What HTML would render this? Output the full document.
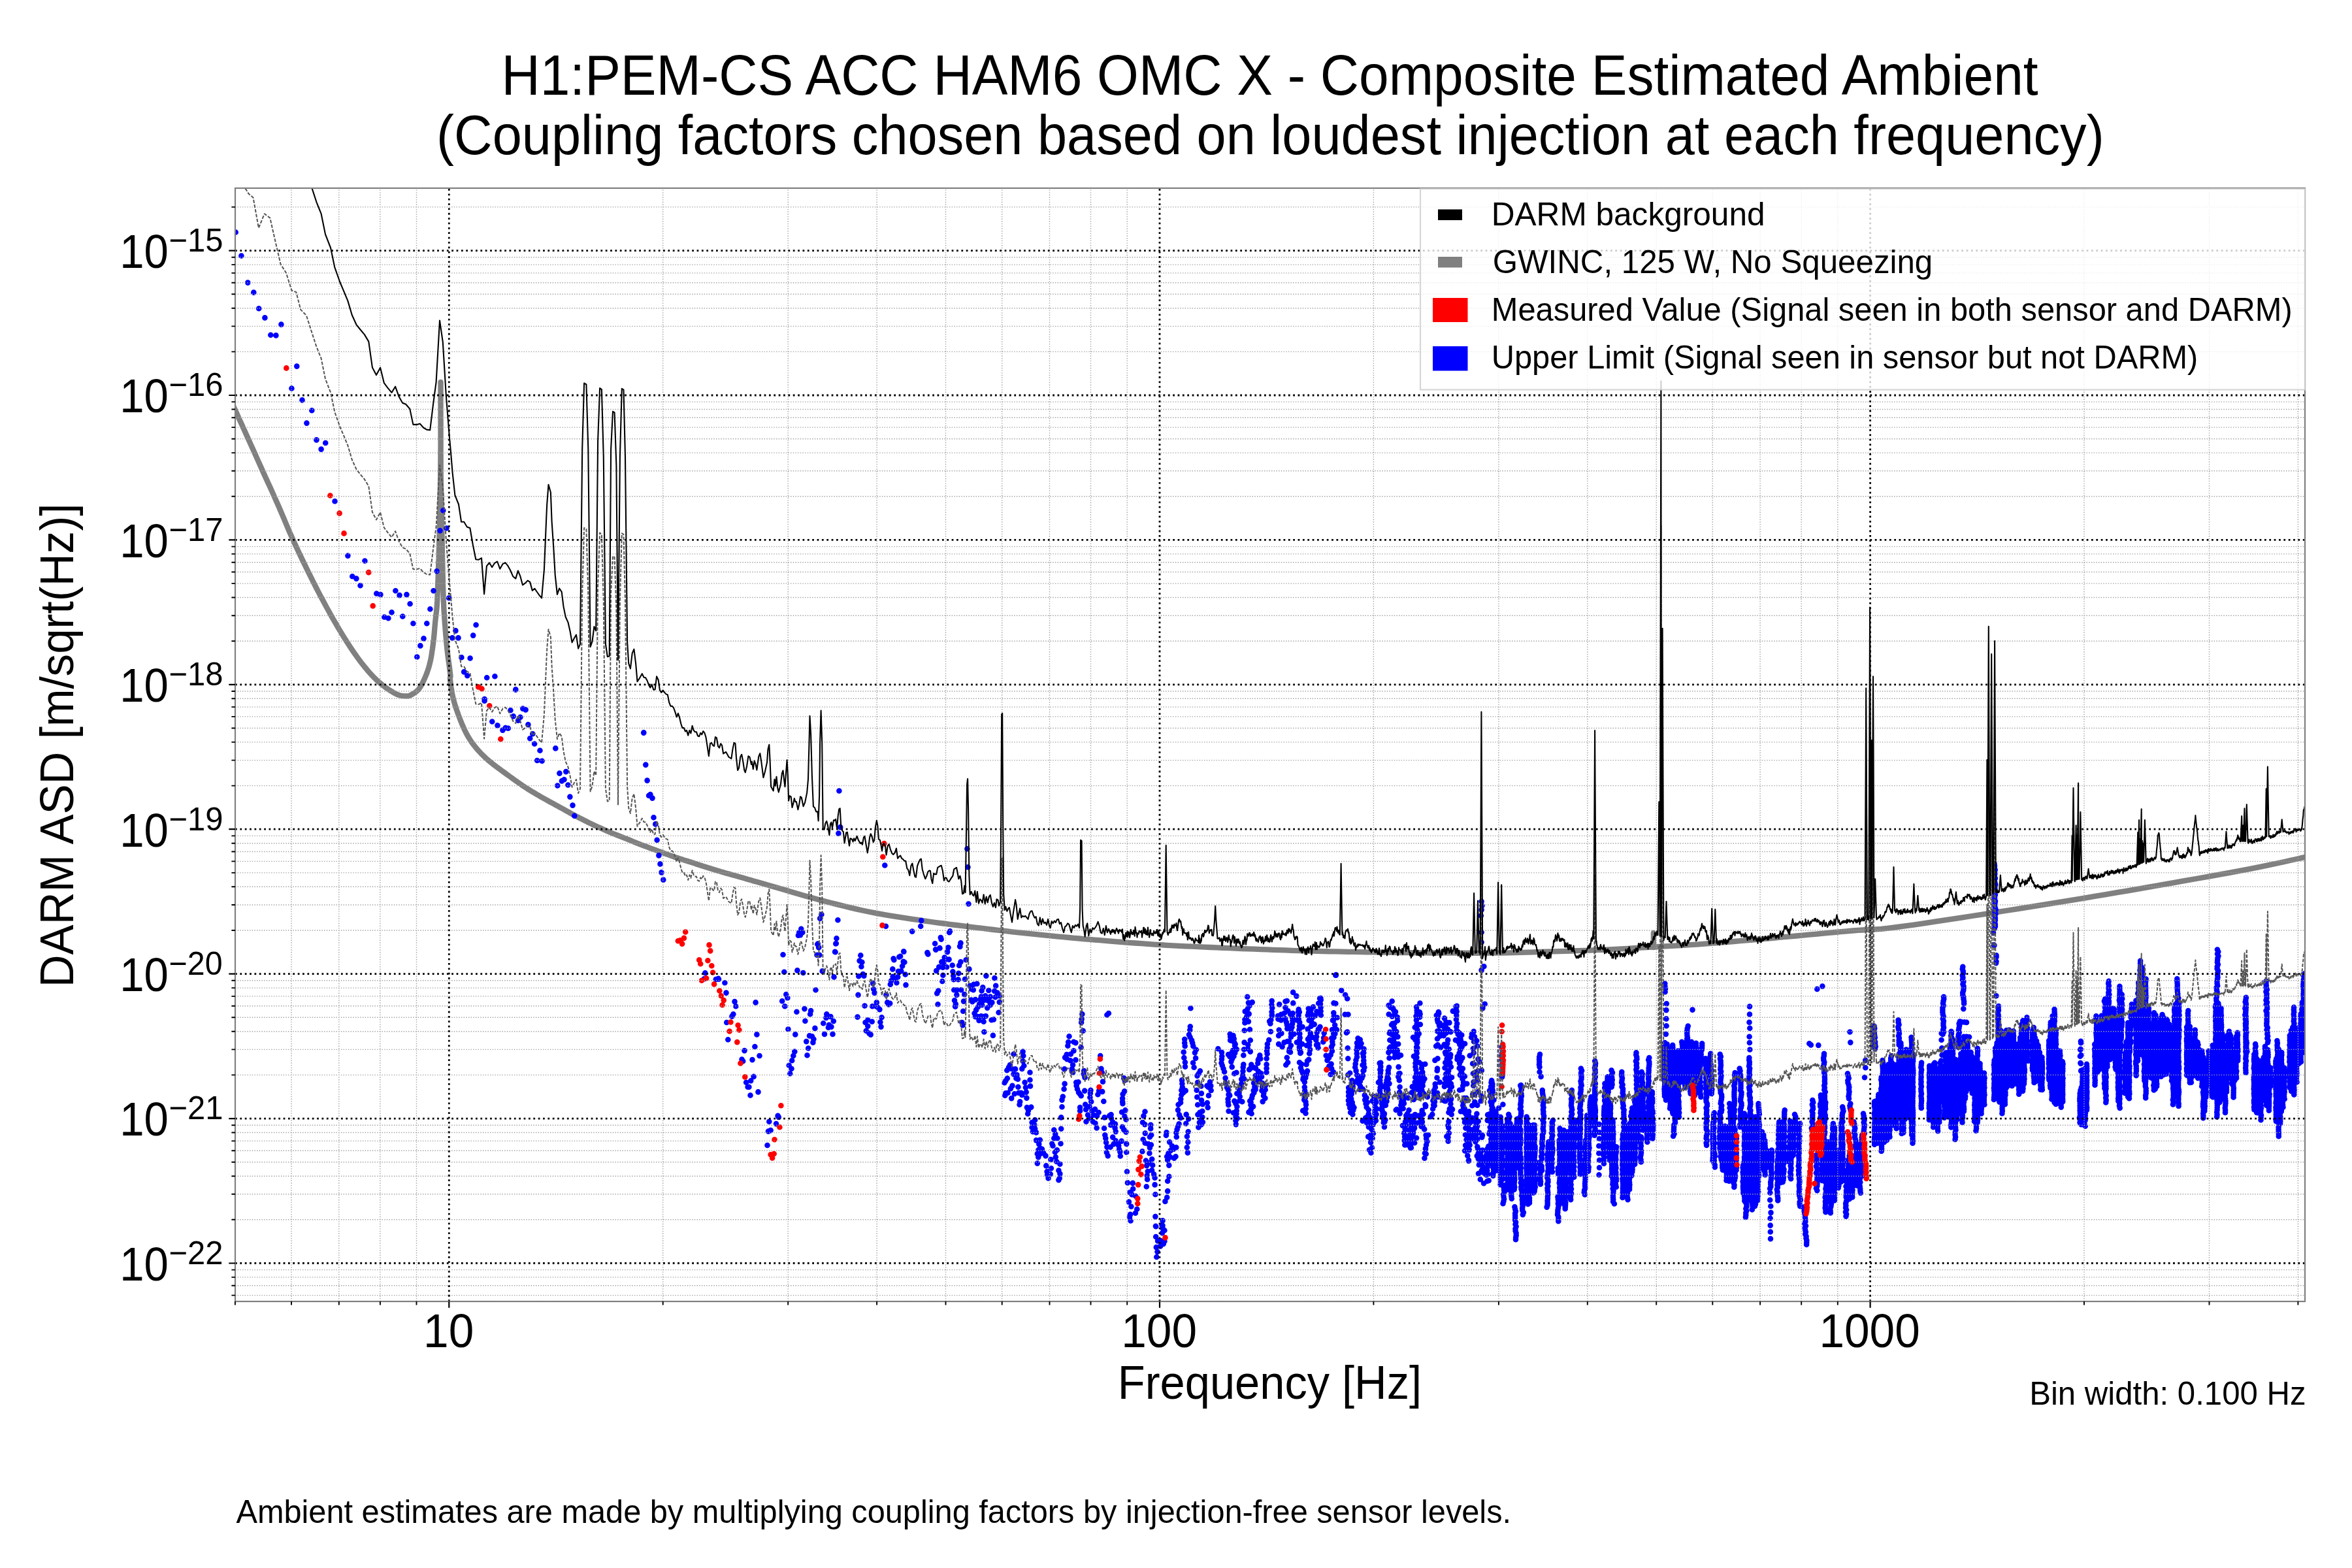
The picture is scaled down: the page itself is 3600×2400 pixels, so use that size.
<!DOCTYPE html>
<html><head><meta charset="utf-8"><title>H1:PEM-CS ACC HAM6 OMC X - Composite Estimated Ambient</title>
<style>html,body{margin:0;padding:0;background:#fff;}svg{display:block;}text{font-family:"Liberation Sans",sans-serif;fill:#000;}</style></head><body>
<svg width="3600" height="2400" viewBox="0 0 3600 2400">
<rect x="0" y="0" width="3600" height="2400" fill="#fff"/>
<defs><clipPath id="ax"><rect x="360" y="288" width="3168" height="1704"/></clipPath></defs>
<g clip-path="url(#ax)">
<path id="gwinc" d="M330.0 561.5 L332.4 566.9 L335.8 574.2 L339.7 583.0 L344.1 592.6 L348.6 602.5 L353.0 612.2 L357.0 621.2 L360.5 628.8 L363.4 635.1 L365.9 640.8 L368.2 645.8 L370.4 650.6 L372.5 655.2 L374.6 659.8 L376.8 664.7 L379.2 670.0 L381.8 675.7 L384.3 681.4 L387.0 687.3 L389.7 693.3 L392.4 699.4 L395.2 705.6 L398.1 712.0 L401.0 718.5 L404.0 725.2 L407.2 732.2 L410.5 739.4 L413.8 746.6 L417.1 753.9 L420.3 761.1 L423.5 768.2 L426.5 775.0 L429.3 781.5 L432.0 787.8 L434.6 793.9 L437.1 800.0 L439.7 806.1 L442.3 812.4 L445.2 818.8 L448.2 825.6 L451.5 832.8 L455.1 840.5 L458.8 848.4 L462.6 856.4 L466.5 864.3 L470.3 872.2 L474.0 879.7 L477.6 886.8 L480.9 893.5 L484.2 900.0 L487.4 906.2 L490.5 912.2 L493.7 918.1 L496.8 923.8 L499.9 929.6 L503.1 935.3 L506.2 941.0 L509.4 946.7 L512.6 952.2 L515.8 957.7 L519.0 963.1 L522.2 968.4 L525.4 973.6 L528.6 978.7 L531.8 983.7 L534.9 988.6 L538.1 993.4 L541.3 998.1 L544.5 1002.7 L547.7 1007.2 L550.9 1011.5 L554.1 1015.7 L557.3 1019.7 L560.5 1023.5 L563.6 1027.3 L566.8 1030.9 L570.0 1034.3 L573.2 1037.6 L576.4 1040.8 L579.6 1043.7 L582.9 1046.5 L586.2 1049.2 L589.6 1051.8 L593.0 1054.2 L596.3 1056.4 L599.4 1058.3 L602.4 1060.1 L605.1 1061.6 L607.5 1062.8 L609.8 1063.7 L611.8 1064.3 L613.7 1064.8 L615.5 1065.1 L617.2 1065.2 L618.8 1065.3 L620.4 1065.4 L621.9 1065.5 L623.3 1065.4 L624.5 1065.3 L625.7 1065.1 L626.8 1064.7 L628.0 1064.3 L629.2 1063.6 L630.6 1062.9 L632.1 1062.0 L633.6 1061.0 L635.2 1060.0 L636.8 1058.8 L638.5 1057.4 L640.1 1055.7 L641.8 1053.7 L643.4 1051.4 L645.0 1048.6 L646.7 1045.4 L648.4 1041.9 L650.1 1038.1 L651.8 1034.1 L653.4 1030.1 L654.8 1026.0 L656.1 1022.0 L657.2 1018.1 L658.2 1014.1 L659.1 1010.1 L659.9 1006.0 L660.6 1001.9 L661.2 997.6 L661.9 993.3 L662.5 988.9 L663.1 984.3 L663.7 979.4 L664.2 974.3 L664.7 969.3 L665.1 964.3 L665.5 959.4 L665.9 954.8 L666.3 950.6 L666.7 947.0 L667.1 943.9 L667.4 941.2 L667.7 938.7 L668.0 936.0 L668.3 933.0 L668.6 929.4 L668.9 925.1 L669.2 919.9 L669.4 914.1 L669.7 907.8 L670.0 901.2 L670.2 894.3 L670.5 887.4 L670.7 880.6 L670.9 874.1 L671.1 867.7 L671.3 861.3 L671.6 854.9 L671.7 848.6 L671.9 842.2 L672.1 835.8 L672.3 829.4 L672.4 823.1 L672.6 816.7 L672.7 810.3 L672.9 803.9 L673.0 797.6 L673.1 791.2 L673.2 784.8 L673.4 778.4 L673.5 772.0 L673.6 765.7 L673.7 759.3 L673.8 752.9 L673.9 746.5 L674.0 740.2 L674.1 733.8 L674.2 727.4 L674.2 721.0 L674.3 714.9 L674.3 709.1 L674.4 703.4 L674.4 697.6 L674.4 691.6 L674.5 685.2 L674.5 678.0 L674.5 670.0 L674.5 660.4 L674.5 649.1 L674.5 636.8 L674.5 624.2 L674.5 612.0 L674.5 600.9 L674.5 591.6 L674.5 584.8 L674.5 584.8 L674.5 595.9 L674.5 611.3 L674.5 629.7 L674.6 649.7 L674.6 670.2 L674.6 689.8 L674.7 707.1 L674.7 721.0 L674.8 731.5 L674.9 739.8 L675.0 746.4 L675.1 751.9 L675.2 756.7 L675.3 761.3 L675.4 766.2 L675.5 772.0 L675.6 778.4 L675.7 784.8 L675.9 791.2 L676.0 797.6 L676.1 803.9 L676.3 810.3 L676.4 816.7 L676.5 823.1 L676.7 829.4 L676.8 835.8 L676.9 842.2 L677.0 848.6 L677.1 854.9 L677.3 861.3 L677.4 867.7 L677.6 874.1 L677.7 880.5 L677.9 887.1 L678.0 893.8 L678.2 900.4 L678.4 906.9 L678.6 913.2 L678.8 919.3 L679.1 925.1 L679.3 930.5 L679.6 935.7 L679.9 940.6 L680.3 945.4 L680.6 950.0 L680.9 954.5 L681.3 958.9 L681.6 963.4 L682.0 967.7 L682.3 972.0 L682.7 976.1 L683.0 980.1 L683.4 984.1 L683.8 988.2 L684.2 992.3 L684.7 996.5 L685.2 1001.1 L685.8 1005.9 L686.5 1011.0 L687.2 1016.0 L687.9 1020.8 L688.4 1025.2 L688.9 1029.1 L689.3 1032.2 L689.5 1034.4 L689.5 1035.7 L689.4 1036.4 L689.2 1036.8 L689.0 1037.0 L688.9 1037.5 L688.9 1038.4 L689.0 1040.0 L689.3 1042.3 L689.6 1045.1 L690.0 1048.3 L690.4 1051.6 L691.0 1055.2 L691.5 1058.7 L692.2 1062.2 L692.9 1065.5 L693.6 1068.7 L694.4 1071.8 L695.2 1074.9 L696.1 1077.9 L697.1 1081.1 L698.1 1084.3 L699.3 1087.6 L700.5 1091.0 L701.8 1094.7 L703.3 1098.5 L704.8 1102.5 L706.4 1106.5 L708.1 1110.5 L709.8 1114.4 L711.5 1118.1 L713.3 1121.6 L715.0 1124.9 L716.8 1128.0 L718.6 1130.9 L720.4 1133.8 L722.3 1136.5 L724.3 1139.2 L726.4 1141.9 L728.6 1144.6 L730.8 1147.2 L733.1 1149.8 L735.4 1152.3 L737.8 1154.8 L740.4 1157.3 L743.0 1159.8 L745.9 1162.3 L749.0 1165.0 L752.4 1167.8 L756.0 1170.7 L759.9 1173.6 L764.0 1176.6 L768.0 1179.6 L772.1 1182.5 L775.9 1185.3 L779.6 1188.0 L783.0 1190.5 L786.3 1192.8 L789.5 1195.1 L792.7 1197.4 L795.8 1199.5 L798.8 1201.7 L801.9 1203.7 L805.1 1205.8 L808.3 1207.9 L811.5 1209.9 L814.7 1211.8 L817.9 1213.7 L821.0 1215.6 L824.2 1217.4 L827.4 1219.3 L830.6 1221.1 L833.8 1222.9 L837.0 1224.7 L840.2 1226.5 L843.4 1228.2 L846.6 1229.9 L849.7 1231.7 L852.9 1233.4 L856.1 1235.2 L859.3 1236.9 L862.5 1238.7 L865.7 1240.5 L868.9 1242.2 L872.1 1244.0 L875.3 1245.8 L878.4 1247.5 L881.6 1249.2 L884.8 1250.8 L888.0 1252.5 L891.2 1254.1 L894.4 1255.7 L897.6 1257.3 L900.8 1258.9 L904.0 1260.4 L907.1 1261.9 L910.3 1263.4 L913.5 1264.9 L916.7 1266.4 L919.9 1267.8 L923.1 1269.3 L926.3 1270.7 L929.5 1272.1 L932.7 1273.4 L935.8 1274.8 L939.0 1276.1 L942.2 1277.3 L945.4 1278.6 L948.6 1279.9 L951.8 1281.1 L955.0 1282.4 L958.2 1283.6 L961.4 1284.9 L964.5 1286.2 L967.7 1287.5 L970.9 1288.8 L974.1 1290.1 L977.3 1291.3 L980.5 1292.6 L983.7 1293.8 L986.9 1295.0 L990.1 1296.2 L993.2 1297.4 L996.4 1298.6 L999.6 1299.8 L1002.8 1300.9 L1006.0 1302.1 L1009.2 1303.3 L1012.4 1304.4 L1015.6 1305.6 L1018.8 1306.8 L1021.9 1307.9 L1025.1 1309.1 L1028.3 1310.2 L1031.5 1311.4 L1034.7 1312.4 L1037.9 1313.5 L1041.1 1314.6 L1044.3 1315.6 L1047.4 1316.6 L1050.6 1317.6 L1053.8 1318.6 L1057.0 1319.6 L1060.2 1320.6 L1063.4 1321.6 L1066.6 1322.7 L1069.8 1323.7 L1073.0 1324.7 L1076.1 1325.8 L1079.3 1326.8 L1082.5 1327.8 L1085.7 1328.8 L1088.9 1329.8 L1092.1 1330.7 L1095.3 1331.7 L1098.5 1332.7 L1101.7 1333.6 L1104.8 1334.6 L1108.0 1335.5 L1111.2 1336.4 L1114.3 1337.3 L1117.3 1338.1 L1120.2 1339.0 L1123.1 1339.8 L1126.1 1340.6 L1129.4 1341.5 L1132.9 1342.5 L1136.7 1343.6 L1140.8 1344.7 L1144.8 1345.9 L1149.0 1347.1 L1153.4 1348.4 L1158.3 1349.8 L1163.6 1351.3 L1169.7 1353.0 L1176.5 1355.0 L1184.3 1357.3 L1193.0 1359.8 L1202.5 1362.6 L1212.4 1365.6 L1222.7 1368.5 L1233.0 1371.5 L1243.2 1374.3 L1253.0 1377.0 L1262.6 1379.5 L1272.1 1382.0 L1281.7 1384.4 L1291.3 1386.8 L1300.9 1389.1 L1310.5 1391.4 L1320.0 1393.5 L1329.6 1395.5 L1339.2 1397.4 L1348.7 1399.1 L1358.3 1400.8 L1367.8 1402.4 L1377.4 1403.9 L1387.0 1405.3 L1396.5 1406.8 L1406.1 1408.2 L1415.7 1409.6 L1425.2 1411.0 L1434.8 1412.3 L1444.4 1413.5 L1454.0 1414.8 L1463.6 1416.0 L1473.1 1417.2 L1482.7 1418.4 L1492.3 1419.6 L1501.8 1420.7 L1511.4 1421.9 L1521.0 1423.0 L1530.5 1424.1 L1540.1 1425.2 L1549.6 1426.3 L1559.2 1427.3 L1568.8 1428.3 L1578.6 1429.4 L1588.4 1430.4 L1598.2 1431.4 L1607.9 1432.3 L1617.4 1433.3 L1626.7 1434.1 L1635.7 1435.0 L1644.2 1435.8 L1652.3 1436.5 L1660.2 1437.3 L1667.9 1437.9 L1675.5 1438.6 L1683.4 1439.2 L1691.5 1439.9 L1700.0 1440.6 L1709.0 1441.3 L1718.3 1442.0 L1727.8 1442.8 L1737.5 1443.5 L1747.3 1444.2 L1757.1 1444.9 L1766.8 1445.6 L1776.5 1446.2 L1786.1 1446.8 L1795.6 1447.3 L1805.2 1447.8 L1814.8 1448.3 L1824.4 1448.7 L1834.0 1449.1 L1843.5 1449.6 L1853.1 1450.0 L1862.7 1450.4 L1872.2 1450.8 L1881.8 1451.2 L1891.4 1451.6 L1900.9 1452.0 L1910.5 1452.4 L1920.0 1452.7 L1929.6 1453.1 L1939.2 1453.4 L1948.7 1453.8 L1958.3 1454.1 L1967.8 1454.4 L1977.4 1454.8 L1987.0 1455.1 L1996.5 1455.3 L2006.1 1455.6 L2015.7 1455.8 L2025.2 1456.1 L2034.8 1456.3 L2044.4 1456.4 L2054.0 1456.6 L2063.6 1456.8 L2073.1 1456.9 L2082.7 1457.1 L2092.3 1457.3 L2101.8 1457.4 L2111.4 1457.6 L2121.0 1457.7 L2130.5 1457.8 L2140.1 1458.0 L2149.6 1458.1 L2159.2 1458.2 L2168.8 1458.3 L2178.6 1458.4 L2188.4 1458.5 L2198.2 1458.5 L2207.9 1458.6 L2217.4 1458.6 L2226.7 1458.7 L2235.7 1458.7 L2244.2 1458.7 L2252.3 1458.7 L2260.2 1458.8 L2267.8 1458.8 L2275.5 1458.7 L2283.4 1458.7 L2291.5 1458.6 L2300.0 1458.5 L2309.0 1458.3 L2318.3 1458.1 L2327.8 1457.9 L2337.5 1457.6 L2347.3 1457.3 L2357.1 1457.0 L2366.8 1456.7 L2376.5 1456.4 L2386.1 1456.1 L2395.6 1455.8 L2405.2 1455.5 L2414.8 1455.2 L2424.4 1454.9 L2434.0 1454.6 L2443.5 1454.2 L2453.1 1453.8 L2462.7 1453.3 L2472.2 1452.9 L2481.8 1452.3 L2491.4 1451.8 L2500.9 1451.2 L2510.5 1450.6 L2520.0 1450.1 L2529.6 1449.5 L2539.2 1449.0 L2548.7 1448.4 L2558.3 1447.9 L2567.8 1447.3 L2577.4 1446.8 L2587.0 1446.2 L2596.5 1445.6 L2606.1 1444.9 L2615.7 1444.2 L2625.2 1443.4 L2634.8 1442.7 L2644.4 1441.8 L2654.0 1441.0 L2663.6 1440.2 L2673.1 1439.3 L2682.7 1438.5 L2692.3 1437.7 L2701.8 1436.8 L2711.4 1436.0 L2721.0 1435.1 L2730.5 1434.2 L2740.1 1433.4 L2749.6 1432.5 L2759.2 1431.6 L2768.8 1430.7 L2778.6 1429.8 L2788.4 1428.9 L2798.2 1427.9 L2807.9 1427.0 L2817.4 1426.1 L2826.7 1425.3 L2835.7 1424.5 L2843.8 1423.9 L2851.0 1423.5 L2857.6 1423.1 L2864.1 1422.8 L2871.2 1422.4 L2879.2 1421.8 L2888.6 1420.8 L2900.0 1419.5 L2913.6 1417.7 L2929.0 1415.6 L2945.7 1413.1 L2963.5 1410.4 L2981.8 1407.7 L3000.3 1404.8 L3018.5 1402.0 L3036.0 1399.3 L3053.0 1396.7 L3070.0 1394.0 L3087.0 1391.3 L3104.0 1388.6 L3121.1 1385.9 L3138.1 1383.2 L3155.1 1380.4 L3172.1 1377.6 L3189.1 1374.8 L3206.1 1371.9 L3223.1 1369.1 L3240.2 1366.2 L3257.2 1363.3 L3274.2 1360.3 L3291.2 1357.4 L3308.2 1354.4 L3325.5 1351.4 L3343.4 1348.2 L3361.4 1345.0 L3379.3 1341.9 L3396.9 1338.7 L3413.7 1335.6 L3429.6 1332.7 L3444.2 1329.9 L3457.9 1327.2 L3471.2 1324.4 L3483.8 1321.7 L3495.6 1319.2 L3506.3 1316.8 L3515.8 1314.7 L3523.7 1312.9 L3530.0 1311.5" stroke="#808080" stroke-width="8.33" fill="none" stroke-linejoin="round"/>
<path d="M2530.9 1450 V1428" stroke="#808080" stroke-width="8.33" stroke-linecap="round" fill="none"/>
<path d="M360.7 355.5h0M369.4 391.5h0M379.3 432.6h0M388.3 447.6h0M396.2 472.3h0M405.4 486.4h0M414.3 512.7h0M422.4 513.4h0M430.4 496.6h0M454.3 560.6h0M446.4 594.5h0M462.5 612.4h0M477.3 628.2h0M469.4 647.6h0M484.4 673.4h0M498.2 678.0h0M491.6 687.6h0M512.5 767.2h0M532.4 850.6h0M558.4 858.5h0M539.3 882.2h0M545.4 885.6h0M551.5 896.3h0M576.3 908.5h0M582.4 910.1h0M605.4 904.2h0M611.5 911.1h0M622.4 910.1h0M627.6 924.3h0M599.5 937.3h0M588.3 944.5h0M594.4 946.3h0M616.3 943.5h0M632.4 954.2h0M653.3 954.2h0M658.4 932.2h0M663.5 904.2h0M668.6 874.3h0M673.5 812.3h0M678.3 781.2h0M683.4 808.5h0M687.2 915.2h0M648.5 977.4h0M643.4 988.4h0M638.3 1005.5h0M697.4 965.4h0M692.3 976.4h0M701.5 976.4h0M728.6 956.5h0M724.2 972.6h0M706.4 1006.2h0M719.6 1007.5h0M710.2 1028.4h0M715.3 1034.3h0M745.2 1037.3h0M757.4 1035.3h0M789.3 1055.2h0M741.6 1070.0h0M789.3 1055.8h0M741.6 1072.7h0M781.4 1087.2h0M800.3 1084.6h0M804.6 1086.4h0M785.7 1096.4h0M796.4 1097.7h0M793.1 1102.8h0M753.3 1104.5h0M761.5 1110.4h0M808.4 1109.1h0M773.7 1114.0h0M777.8 1114.7h0M769.4 1117.6h0M815.3 1123.2h0M811.2 1130.3h0M818.1 1138.5h0M826.5 1148.7h0M850.3 1145.4h0M822.2 1164.0h0M829.6 1164.7h0M866.3 1181.1h0M856.4 1183.6h0M863.5 1193.3h0M859.9 1195.4h0M853.3 1202.5h0M869.4 1201.5h0M872.4 1219.6h0M876.5 1232.6h0M879.3 1248.7h0M985.2 1121.6h0M988.3 1170.6h0M990.6 1194.6h0M995.4 1216.0h0M993.1 1217.8h0M998.5 1221.6h0M1000.5 1251.2h0M1003.3 1261.4h0M1005.6 1285.7h0M1008.4 1309.4h0M1010.5 1322.4h0M1012.5 1335.4h0M1015.3 1346.6h0M985.3 1121.4h0M1284.4 1210.5h0M1286.2 1266.1h0M1283.4 1275.6h0M1354.3 1324.5h0M1480.4 1299.3h0M1481.4 1327.3h0M1482.4 1383.5h0M1257.4 1399.8h0M1255.1 1405.7h0M1282.4 1408.2h0M1355.9 1417.7h0M1410.2 1409.0h0M1409.2 1417.7h0M1396.2 1425.6h0M1454.1 1425.3h0M1453.1 1427.3h0M1226.3 1421.7h0M1228.3 1427.3h0M1223.2 1427.3h0M1225.0 1431.2h0M1221.9 1431.7h0M1280.4 1436.3h0M1279.3 1444.4h0M1251.3 1445.2h0M1253.3 1450.3h0M1278.1 1456.9h0M1439.8 1435.0h0M1440.6 1437.6h0M1431.1 1444.2h0M1470.4 1443.2h0M1469.1 1448.5h0M1451.3 1450.3h0M1438.3 1451.1h0M1432.4 1453.6h0M1450.0 1456.2h0M1383.2 1456.2h0M1419.4 1458.0h0M1100.0 1498.7h0M1109.4 1504.3h0M1111.5 1519.6h0M1124.5 1533.1h0M1126.3 1540.3h0M1122.4 1552.2h0M1120.4 1555.6h0M1112.2 1565.0h0M1114.3 1591.3h0M1156.6 1534.4h0M1158.4 1583.4h0M1155.4 1602.0h0M1139.5 1608.1h0M1162.5 1616.0h0M1135.5 1621.6h0M1137.2 1624.2h0M1151.5 1622.1h0M1153.6 1647.9h0M1149.2 1654.3h0M1142.1 1656.8h0M1144.6 1663.7h0M1146.4 1663.7h0M1160.5 1671.4h0M1148.5 1676.5h0M1198.5 1461.2h0M1200.3 1487.7h0M1203.3 1522.1h0M1205.4 1527.5h0M1197.2 1532.3h0M1201.3 1540.3h0M1206.4 1575.2h0M1216.3 1609.6h0M1214.3 1616.0h0M1212.2 1623.2h0M1207.7 1630.8h0M1211.5 1635.7h0M1209.2 1643.3h0M1220.4 1485.4h0M1229.3 1489.0h0M1219.4 1548.7h0M1217.3 1583.4h0M1231.4 1544.1h0M1241.1 1547.1h0M1240.1 1552.2h0M1232.4 1562.7h0M1247.4 1573.9h0M1248.5 1515.3h0M1239.0 1585.4h0M1242.9 1586.2h0M1245.4 1590.5h0M1234.2 1594.1h0M1244.4 1595.6h0M1237.2 1604.5h0M1235.5 1615.3h0M1251.8 1444.6h0M1253.1 1450.2h0M1250.5 1461.7h0M1254.3 1461.7h0M1258.7 1486.4h0M1276.5 1495.4h0M1279.8 1444.1h0M1278.6 1457.3h0M1265.3 1552.2h0M1271.4 1556.1h0M1264.5 1557.9h0M1260.2 1566.3h0M1275.8 1563.0h0M1268.9 1568.8h0M1267.9 1572.7h0M1272.4 1571.6h0M1262.0 1582.9h0M1274.5 1582.9h0M1317.3 1462.2h0M1315.6 1470.6h0M1319.4 1472.7h0M1318.4 1479.5h0M1320.9 1491.0h0M1314.3 1494.3h0M1322.4 1493.6h0M1313.5 1522.9h0M1312.5 1556.6h0M1323.5 1539.5h0M1336.2 1505.1h0M1337.2 1514.0h0M1338.5 1519.6h0M1341.8 1534.4h0M1335.2 1540.3h0M1341.1 1540.3h0M1343.6 1542.0h0M1346.4 1545.1h0M1349.5 1557.3h0M1347.4 1564.5h0M1348.5 1571.6h0M1334.7 1563.7h0M1328.3 1561.2h0M1324.5 1565.0h0M1328.3 1570.6h0M1325.8 1577.8h0M1330.4 1581.6h0M1332.7 1583.6h0M1356.4 1522.9h0M1358.2 1534.4h0M1362.2 1535.7h0M1360.2 1537.4h0M1367.6 1467.3h0M1368.4 1469.3h0M1376.3 1464.7h0M1378.1 1463.7h0M1383.4 1456.6h0M1382.7 1471.9h0M1384.4 1472.7h0M1381.1 1478.8h0M1366.3 1483.4h0M1375.0 1486.7h0M1379.3 1486.4h0M1385.7 1491.5h0M1366.6 1494.8h0M1374.2 1495.4h0M1370.4 1497.4h0M1364.0 1501.2h0M1372.4 1504.3h0M1362.8 1506.8h0M1386.5 1507.6h0M1419.4 1458.4h0M1420.4 1460.4h0M1431.1 1444.3h0M1432.1 1453.3h0M1438.5 1451.2h0M1451.5 1450.2h0M1450.0 1457.3h0M1445.7 1465.5h0M1448.2 1468.1h0M1452.6 1468.6h0M1441.3 1472.4h0M1444.4 1474.4h0M1437.2 1480.1h0M1443.1 1480.8h0M1449.0 1480.3h0M1433.2 1485.9h0M1443.4 1492.8h0M1442.3 1502.0h0M1436.2 1516.5h0M1434.2 1520.4h0M1435.5 1537.2h0M1470.4 1443.6h0M1469.4 1448.9h0M1470.4 1472.4h0M1468.1 1477.8h0M1457.7 1477.5h0M1458.4 1487.2h0M1467.3 1489.7h0M1459.2 1493.6h0M1459.7 1499.2h0M1466.6 1499.2h0M1460.2 1515.3h0M1464.8 1515.3h0M1471.2 1515.3h0M1464.3 1522.9h0M1461.0 1531.3h0M1462.8 1536.9h0M1462.2 1540.8h0M1476.3 1522.1h0M1475.0 1532.6h0M1474.2 1547.7h0M1477.0 1498.7h0M1478.6 1469.3h0M1483.4 1483.4h0M1472.4 1565.0h0M1473.5 1569.3h0M1484.7 1508.9h0M1490.3 1506.8h0M1495.4 1505.8h0M1487.2 1514.0h0M1489.8 1515.3h0M1504.3 1511.4h0M1502.6 1516.5h0M1509.4 1493.6h0M1522.4 1497.1h0M1524.2 1508.9h0M1513.3 1516.0h0M1522.2 1517.0h0M1526.5 1519.6h0M1529.8 1524.2h0M1501.8 1525.5h0M1508.2 1524.2h0M1515.8 1525.5h0M1523.5 1526.2h0M1486.5 1530.6h0M1492.9 1530.1h0M1488.3 1533.1h0M1500.5 1529.8h0M1505.6 1531.3h0M1510.7 1530.6h0M1514.5 1533.1h0M1518.4 1534.4h0M1529.8 1533.9h0M1499.2 1536.9h0M1503.1 1538.2h0M1515.8 1538.2h0M1496.7 1541.5h0M1511.2 1542.6h0M1494.1 1545.9h0M1491.6 1551.0h0M1528.6 1549.7h0M1492.9 1556.1h0M1496.7 1556.1h0M1501.8 1555.3h0M1506.1 1556.1h0M1508.9 1555.3h0M1498.5 1561.9h0M1505.6 1563.7h0M1517.6 1561.2h0M1520.9 1560.4h0M1506.4 1579.5h0M1519.9 1584.9h0M1551.5 1613.5h0M1565.6 1609.6h0M1566.3 1616.0h0M1565.6 1624.2h0M1567.3 1631.3h0M1564.3 1635.9h0M1545.9 1630.1h0M1543.9 1633.9h0M1548.5 1635.9h0M1541.3 1638.2h0M1554.1 1636.4h0M1576.5 1641.5h0M1551.5 1644.1h0M1556.6 1645.4h0M1555.4 1650.5h0M1557.9 1651.7h0M1541.8 1650.5h0M1539.3 1654.3h0M1537.5 1657.3h0M1568.6 1656.8h0M1576.5 1653.0h0M1549.5 1661.9h0M1558.4 1663.7h0M1569.9 1664.5h0M1577.0 1662.4h0M1546.9 1666.3h0M1542.6 1672.7h0M1539.3 1673.4h0M1538.3 1676.7h0M1552.8 1674.2h0M1559.2 1672.7h0M1563.0 1672.7h0M1570.7 1671.6h0M1564.3 1676.0h0M1548.2 1681.1h0M1571.4 1680.6h0M1561.2 1686.2h0M1560.5 1690.8h0M1578.3 1694.6h0M1571.9 1695.1h0M1574.0 1699.7h0M1573.2 1704.8h0M1584.2 1714.2h0M1579.6 1718.1h0M1583.4 1721.9h0M1579.6 1725.7h0M1584.2 1727.8h0M1580.9 1732.1h0M1586.0 1733.4h0M1586.0 1745.4h0M1591.8 1744.8h0M1590.3 1751.2h0M1591.8 1757.6h0M1589.3 1760.2h0M1594.9 1758.9h0M1593.6 1763.5h0M1587.8 1766.0h0M1592.3 1766.0h0M1597.4 1765.3h0M1600.5 1769.1h0M1589.3 1771.1h0M1587.8 1780.6h0M1601.3 1784.4h0M1602.6 1793.3h0M1603.1 1798.4h0M1604.6 1803.5h0M1607.7 1797.1h0M1608.9 1788.2h0M1608.4 1774.9h0M1613.3 1729.5h0M1615.3 1735.9h0M1613.3 1742.3h0M1618.4 1742.3h0M1610.2 1750.7h0M1611.5 1753.8h0M1623.5 1750.5h0M1617.9 1760.2h0M1614.8 1763.5h0M1615.8 1771.1h0M1617.3 1778.0h0M1622.4 1781.8h0M1620.4 1791.5h0M1622.4 1796.6h0M1621.7 1803.5h0M1620.4 1806.1h0M1624.2 1727.8h0M1624.2 1710.4h0M1625.5 1694.3h0M1625.5 1683.6h0M1626.8 1678.5h0M1628.6 1667.0h0M1629.6 1658.9h0M1629.3 1636.4h0M1636.5 1586.2h0M1635.2 1595.1h0M1643.4 1594.8h0M1646.4 1596.1h0M1634.4 1600.7h0M1643.4 1608.4h0M1632.7 1614.0h0M1638.8 1613.5h0M1630.1 1618.6h0M1633.2 1621.1h0M1638.3 1623.2h0M1646.4 1622.4h0M1642.1 1630.1h0M1640.8 1636.4h0M1642.1 1641.5h0M1656.4 1552.2h0M1655.6 1559.9h0M1655.1 1565.0h0M1657.7 1577.8h0M1654.6 1603.3h0M1659.2 1639.0h0M1658.7 1644.1h0M1660.5 1649.2h0M1660.2 1669.6h0M1647.2 1656.8h0M1650.5 1656.3h0M1647.7 1661.9h0M1649.0 1667.0h0M1651.0 1672.1h0M1653.1 1674.7h0M1654.8 1677.2h0M1653.1 1695.1h0M1653.1 1700.2h0M1669.4 1668.8h0M1668.9 1673.4h0M1668.4 1679.8h0M1670.2 1686.2h0M1661.2 1690.5h0M1667.6 1693.8h0M1676.0 1697.7h0M1662.0 1698.2h0M1671.4 1700.2h0M1681.6 1702.8h0M1665.1 1706.6h0M1674.0 1706.6h0M1679.1 1707.9h0M1668.9 1711.7h0M1662.5 1716.8h0M1672.7 1716.8h0M1676.5 1719.3h0M1678.6 1726.5h0M1684.2 1616.0h0M1685.5 1635.9h0M1686.7 1641.5h0M1688.0 1655.6h0M1687.2 1670.9h0M1682.1 1669.6h0M1680.4 1675.2h0M1689.3 1685.7h0M1696.9 1551.0h0M1694.4 1553.5h0M1690.6 1710.4h0M1698.2 1707.9h0M1700.0 1721.9h0M1690.1 1727.0h0M1691.3 1737.2h0M1692.3 1742.3h0M1693.1 1748.7h0M1694.4 1755.6h0M1693.9 1764.0h0M1695.7 1769.1h0M2267.6 1379.8h0M2268.4 1386.2h0M2267.6 1392.6h0M2266.8 1401.5h0M2267.6 1427.0h0M2267.6 1442.3h0M2267.6 1484.9h0M2269.4 1543.1h0M2044.9 1492.6h0M2300.4 1690.5h0M2327.2 1661.6h0M2356.5 1640.7h0M2358.6 1647.9h0M2590.5 1545.6h0M2781.3 1513.9h0M2789.4 1509.6h0M2769.3 1597.3h0M2771.8 1599.4h0M2783.3 1599.9h0M2831.5 1579.5h0M2832.3 1595.6h0M2855.3 1622.9h0M2855.3 1634.3h0M2854.0 1649.1h0M3051.8 1446.1h0M3055.5 1462.4h0M3055.5 1471.6h0M3055.5 1524.3h0M3005.3 1544.1h0M3002.9 1564.5h0M3006.9 1564.5h0M3010.0 1564.9h0M3005.9 1586.9h0M3010.0 1586.9h0M3014.1 1587.3h0M3051.0 1427.9h0M3052.4 1446.9h0M3055.6 1464.6h0M3055.1 1474.1h0M1190.6 1707.9h0M1191.8 1709.9h0M1177.3 1716.8h0M1188.0 1720.1h0M1176.0 1731.6h0M1179.6 1730.1h0M1174.5 1753.0h0M1768.4 1862.1h0M1779.5 1868.4h0M1769.2 1877.3h0M1779.5 1875.8h0M1782.4 1883.3h0M1778.9 1887.3h0M1769.2 1893.0h0M1772.1 1899.4h0M1777.2 1899.4h0M1782.4 1899.9h0M1780.7 1904.0h0M1769.8 1909.1h0M1776.1 1907.4h0M1771.5 1916.0h0M1770.3 1924.0h0M1079.3 1489.3h0M1077.8 1498.2h0M1095.7 1499.0h0M1099.5 1497.7h0M1700.6 1706.1h0M1700.9 1711.6h0M1703.2 1717.5h0M1707.0 1720.4h0M1706.6 1726.6h0M1707.8 1732.1h0M1703.2 1740.6h0M1707.6 1746.1h0M1712.2 1753.5h0M1713.1 1759.3h0M1714.4 1763.1h0M1714.8 1769.5h0M1699.6 1755.8h0M1704.6 1751.1h0M1711.5 1750.2h0M1716.6 1746.6h0M1720.3 1650.4h0M1721.7 1653.5h0M1721.1 1670.4h0M1718.6 1674.8h0M1718.1 1681.2h0M1718.1 1686.3h0M1718.4 1689.2h0M1722.5 1699.4h0M1717.1 1702.3h0M1721.5 1708.7h0M1723.5 1713.4h0M1717.9 1724.9h0M1720.2 1729.1h0M1723.5 1732.6h0M1724.2 1750.9h0M1724.2 1763.7h0M1725.0 1793.3h0M1725.9 1810.4h0M1733.8 1810.9h0M1734.2 1819.7h0M1729.6 1825.1h0M1732.5 1828.4h0M1738.3 1830.8h0M1727.9 1839.6h0M1731.4 1846.8h0M1740.3 1850.8h0M1737.9 1856.8h0M1730.0 1858.9h0M1729.0 1862.5h0M1730.6 1868.5h0M1752.5 1701.5h0M1750.4 1708.1h0M1749.0 1718.0h0M1752.3 1721.1h0M1761.3 1721.7h0M1761.2 1727.4h0M1752.8 1734.6h0M1749.7 1744.0h0M1762.2 1737.3h0M1759.9 1740.2h0M1752.7 1749.5h0M1757.5 1751.0h0M1761.9 1752.2h0M1759.9 1756.8h0M1748.5 1762.4h0M1759.4 1765.2h0M1763.2 1774.2h0M1753.9 1776.6h0M1759.3 1779.9h0M1764.2 1783.5h0M1755.1 1784.3h0M1756.8 1793.0h0M1755.7 1799.4h0M1756.1 1805.3h0M1763.1 1791.2h0M1766.1 1797.2h0M1767.6 1802.7h0M1767.6 1813.4h0M1754.8 1816.2h0M1768.4 1828.2h0M1768.4 1862.1h0M1768.9 1876.7h0M1778.5 1875.2h0M1779.6 1880.0h0M1785.5 1733.4h0M1784.9 1737.7h0M1790.2 1748.1h0M1793.9 1754.0h0M1800.3 1756.3h0M1796.6 1758.6h0M1791.7 1761.1h0M1788.3 1765.6h0M1786.1 1770.3h0M1791.2 1771.0h0M1797.2 1772.6h0M1799.5 1770.3h0M1787.1 1775.6h0M1789.3 1783.6h0M1789.4 1800.7h0M1787.2 1807.8h0M1787.2 1823.1h0M1786.2 1832.8h0M1783.4 1838.9h0M1809.1 1653.4h0M1809.4 1658.7h0M1809.8 1664.3h0M1808.3 1668.8h0M1814.7 1669.4h0M1811.4 1672.2h0M1808.4 1675.7h0M1807.3 1682.2h0M1807.1 1687.6h0M1803.6 1690.7h0M1803.0 1699.1h0M1805.0 1706.4h0M1807.1 1710.9h0M1804.6 1720.4h0M1802.9 1724.4h0M1801.6 1728.8h0M1800.4 1733.7h0M1800.8 1740.2h0M1813.2 1590.8h0M1813.2 1596.2h0M1813.7 1601.1h0M1811.7 1610.4h0M1812.3 1619.0h0M1813.9 1626.0h0M1814.0 1632.6h0M1821.8 1571.2h0M1821.3 1576.5h0M1819.9 1583.8h0M1821.6 1587.5h0M1824.1 1592.4h0M1825.2 1596.2h0M1826.3 1601.1h0M1830.8 1606.7h0M1828.9 1611.2h0M1830.1 1619.6h0M1826.1 1626.7h0M1827.6 1633.8h0M1822.4 1543.3h0M1815.7 1705.9h0M1819.1 1712.6h0M1815.3 1719.8h0M1818.7 1732.2h0M1816.9 1739.5h0M1818.4 1748.1h0M1816.8 1756.2h0M1817.9 1764.4h0M1836.9 1639.2h0M1834.7 1643.3h0M1832.5 1646.6h0M1833.1 1656.7h0M1838.4 1662.5h0M1831.7 1668.8h0M1838.9 1673.6h0M1832.3 1679.3h0M1839.0 1684.1h0M1833.2 1691.0h0M1840.7 1690.3h0M1847.8 1688.0h0M1848.7 1695.1h0M1840.3 1700.7h0M1836.4 1702.7h0M1833.4 1706.0h0M1840.3 1709.8h0M1838.5 1713.8h0M1835.9 1718.0h0M1840.9 1717.5h0M1838.5 1721.5h0M1834.4 1725.4h0M1852.0 1656.0h0M1853.3 1662.1h0M1853.7 1669.0h0M1850.0 1676.9h0M1870.0 1610.8h0M1870.3 1616.7h0M1870.0 1621.2h0M1869.5 1627.0h0M1870.8 1630.7h0M1872.5 1635.5h0M1874.1 1640.5h0M1875.6 1650.1h0M1876.1 1658.0h0M1878.0 1664.4h0M1879.8 1668.1h0M1880.5 1675.4h0M1879.6 1682.2h0M1879.8 1687.0h0M1880.3 1691.3h0M1880.6 1700.7h0M1882.7 1582.7h0M1883.2 1587.1h0M1883.1 1592.3h0M1888.7 1589.9h0M1889.1 1595.2h0M1890.0 1600.5h0M1886.8 1608.0h0M1884.8 1613.0h0M1882.4 1617.3h0M1886.4 1614.1h0M1890.3 1611.5h0M1888.5 1616.8h0M1886.0 1620.8h0M1884.4 1625.1h0M1885.7 1633.1h0M1889.3 1643.3h0M1902.7 1633.5h0M1902.5 1639.5h0M1902.0 1645.7h0M1900.2 1652.1h0M1900.1 1659.0h0M1898.4 1663.5h0M1897.3 1668.5h0M1896.5 1673.1h0M1897.8 1678.5h0M1897.3 1684.7h0M1889.4 1685.3h0M1891.5 1689.3h0M1893.4 1693.8h0M1892.7 1700.0h0M1892.5 1704.7h0M1891.5 1709.8h0M1891.4 1715.3h0M1891.8 1721.1h0M1909.2 1525.7h0M1910.9 1534.8h0M1912.2 1539.8h0M1909.5 1544.5h0M1905.7 1548.1h0M1911.7 1551.9h0M1908.1 1556.4h0M1905.4 1560.6h0M1905.4 1565.5h0M1904.7 1577.3h0M1913.0 1575.7h0M1913.8 1592.2h0M1904.6 1595.6h0M1904.1 1606.3h0M1913.8 1609.6h0M1903.3 1615.2h0M1903.3 1629.2h0M1914.1 1635.1h0M1919.9 1634.3h0M1928.3 1615.2h0M1926.8 1620.4h0M1925.3 1627.4h0M1922.0 1635.1h0M1926.0 1639.9h0M1929.9 1642.9h0M1925.6 1647.8h0M1921.7 1650.8h0M1925.4 1650.2h0M1931.1 1648.3h0M1927.4 1652.5h0M1922.4 1655.0h0M1919.1 1657.8h0M1920.4 1663.6h0M1921.6 1667.6h0M1919.4 1672.4h0M1916.9 1676.7h0M1916.0 1680.9h0M1914.6 1687.2h0M1914.4 1691.3h0M1914.7 1698.0h0M1915.6 1704.5h0M1931.9 1657.9h0M1932.2 1663.5h0M1931.4 1669.3h0M1936.7 1661.7h0M1936.7 1668.0h0M1934.3 1673.2h0M1934.0 1677.2h0M1936.4 1680.9h0M1932.7 1686.1h0M1946.7 1532.1h0M1946.4 1538.1h0M1947.3 1542.7h0M1946.6 1548.8h0M1946.7 1554.6h0M1945.4 1560.9h0M1944.4 1566.7h0M1944.9 1579.0h0M1942.3 1591.8h0M1939.9 1598.1h0M1939.7 1603.7h0M1939.1 1608.4h0M1939.6 1613.0h0M1938.7 1620.3h0M1938.6 1629.2h0M1938.6 1635.2h0M1938.5 1641.2h0M1958.2 1537.4h0M1956.0 1555.0h0M1958.9 1560.4h0M1957.7 1576.5h0M1957.1 1585.1h0M1957.1 1598.1h0M1967.5 1532.8h0M1967.4 1542.1h0M1965.8 1550.7h0M1967.3 1559.2h0M1968.9 1564.6h0M1969.9 1568.8h0M1979.2 1518.9h0M1984.4 1524.6h0M1979.3 1535.4h0M1978.7 1551.0h0M1978.0 1557.2h0M1978.5 1562.0h0M1978.1 1567.1h0M1977.5 1572.3h0M1976.0 1576.7h0M1976.1 1582.1h0M1976.0 1587.1h0M1975.9 1600.2h0M1973.9 1605.3h0M1973.2 1609.4h0M1969.8 1618.7h0M1971.2 1626.2h0M1970.4 1594.0h0M1987.7 1545.0h0M1988.8 1549.1h0M1987.6 1554.5h0M1987.8 1559.8h0M1989.2 1564.9h0M1988.9 1570.5h0M1988.4 1576.4h0M1988.7 1581.8h0M1989.7 1588.4h0M1988.8 1592.8h0M1989.8 1597.5h0M1988.8 1602.8h0M1989.3 1606.7h0M1990.3 1611.9h0M1989.0 1626.2h0M1990.9 1634.3h0M1992.5 1639.0h0M1994.0 1642.8h0M1994.9 1649.7h0M1996.8 1656.3h0M1998.3 1649.8h0M1999.7 1644.4h0M2001.0 1639.4h0M1996.8 1664.0h0M1997.2 1669.6h0M1997.1 1675.9h0M1997.9 1680.3h0M1998.5 1686.5h0M1999.0 1690.8h0M1998.6 1697.1h0M1998.5 1704.0h0M2010.1 1541.2h0M2006.5 1545.8h0M2003.0 1549.5h0M2007.7 1552.8h0M2012.7 1554.7h0M2008.4 1558.2h0M2003.6 1561.8h0M2007.3 1564.2h0M2011.7 1567.9h0M2006.7 1570.7h0M2001.7 1575.1h0M2005.8 1581.6h0M2004.7 1586.7h0M2002.0 1590.6h0M2004.2 1594.9h0M2004.1 1599.8h0M2005.2 1606.6h0M2004.2 1612.5h0M2003.2 1621.9h0M2001.0 1624.1h0M2020.5 1571.7h0M2018.6 1576.3h0M2015.7 1580.2h0M2015.1 1586.8h0M2014.3 1591.8h0M2017.1 1598.5h0M2017.6 1603.7h0M2021.4 1527.8h0M2021.7 1530.6h0M2021.0 1536.8h0M2021.5 1541.9h0M2021.6 1547.7h0M2021.9 1554.0h0M2041.3 1550.2h0M2041.7 1555.5h0M2040.8 1562.3h0M2043.2 1569.1h0M2039.0 1576.1h0M2043.4 1582.3h0M2041.5 1588.0h0M2039.3 1594.3h0M2038.0 1602.4h0M2029.7 1615.8h0M2036.7 1614.6h0M2034.1 1619.0h0M2031.5 1622.9h0M2037.6 1628.6h0M2034.4 1631.7h0M2032.3 1635.5h0M2038.2 1635.7h0M2036.7 1644.5h0M2026.7 1581.3h0M2026.1 1588.6h0M2025.3 1594.8h0M2044.4 1536.1h0M2044.9 1492.0h0M2059.1 1522.7h0M2062.2 1528.5h0M2058.7 1552.8h0M2063.5 1552.7h0M2062.2 1579.5h0M2062.8 1604.2h0M2063.3 1620.3h0M2063.3 1645.3h0M2078.5 1589.2h0M2077.0 1596.4h0M2077.4 1602.3h0M2076.6 1607.1h0M2076.8 1612.5h0M2077.0 1617.8h0M2075.5 1622.6h0M2074.7 1628.4h0M2074.2 1633.5h0M2075.6 1638.9h0M2077.2 1645.5h0M2078.2 1652.0h0M2080.1 1658.6h0M2087.6 1605.6h0M2087.3 1611.5h0M2086.9 1617.6h0M2087.3 1623.4h0M2087.4 1628.2h0M2088.4 1633.8h0M2086.6 1639.0h0M2085.9 1646.4h0M2084.5 1650.1h0M2081.9 1655.3h0M2082.1 1662.5h0M2081.4 1667.5h0M2064.2 1664.7h0M2064.1 1671.4h0M2064.2 1677.4h0M2063.9 1684.4h0M2064.6 1690.2h0M2066.2 1695.7h0M2067.1 1702.7h0M2070.4 1705.8h0M2070.5 1656.8h0M2070.7 1662.7h0M2069.9 1669.1h0M2068.7 1674.6h0M2068.2 1681.9h0M2069.7 1687.4h0M2070.4 1691.7h0M2088.8 1676.4h0M2089.2 1683.6h0M2090.6 1689.4h0M2091.7 1694.8h0M2094.7 1698.8h0M2094.8 1705.1h0M2096.7 1710.0h0M2098.0 1715.1h0M2097.4 1719.3h0M2099.6 1728.9h0M2099.1 1738.0h0M2097.9 1742.9h0M2098.1 1748.6h0M2100.0 1756.8h0M2098.5 1764.4h0M2090.2 1711.1h0M2091.6 1715.2h0M2092.4 1719.3h0M2094.9 1724.9h0M2105.7 1678.8h0M2105.2 1684.5h0M2104.2 1688.8h0M2104.8 1694.0h0M2104.5 1700.0h0M2104.4 1704.3h0M2105.1 1710.4h0M2104.4 1716.0h0M2101.8 1721.1h0M2113.3 1626.8h0M2113.3 1632.6h0M2113.4 1638.3h0M2112.9 1642.6h0M2112.8 1648.2h0M2112.3 1653.9h0M2112.7 1658.8h0M2112.6 1664.5h0M2112.1 1669.1h0M2112.6 1674.0h0M2113.3 1678.8h0M2114.6 1683.8h0M2115.2 1689.4h0M2115.6 1694.5h0M2115.6 1699.5h0M2116.5 1703.7h0M2116.0 1708.7h0M2118.1 1714.6h0M2117.8 1718.2h0M2118.9 1724.9h0M2126.0 1633.9h0M2124.7 1638.5h0M2124.8 1643.1h0M2123.6 1648.9h0M2122.6 1653.4h0M2121.8 1658.0h0M2122.1 1663.9h0M2122.1 1669.4h0M2123.2 1674.7h0M2123.5 1679.1h0M2122.5 1685.6h0M2120.9 1691.7h0M2130.7 1532.5h0M2128.2 1541.6h0M2132.8 1545.2h0M2136.0 1548.7h0M2130.8 1555.8h0M2138.9 1562.2h0M2134.4 1566.2h0M2130.0 1568.5h0M2133.8 1573.0h0M2137.3 1579.0h0M2133.0 1580.0h0M2126.8 1581.4h0M2132.5 1584.1h0M2139.3 1586.9h0M2133.2 1590.4h0M2127.3 1592.0h0M2131.5 1594.7h0M2135.0 1596.9h0M2140.2 1598.0h0M2135.7 1600.4h0M2131.5 1602.4h0M2126.8 1604.2h0M2133.3 1607.2h0M2138.5 1610.3h0M2136.6 1614.4h0M2134.4 1618.5h0M2140.1 1617.8h0M2126.5 1619.5h0M2140.6 1633.1h0M2141.3 1643.3h0M2141.8 1653.5h0M2142.6 1663.7h0M2142.2 1671.8h0M2143.7 1675.9h0M2145.6 1680.9h0M2145.1 1686.4h0M2144.3 1691.6h0M2144.4 1697.8h0M2142.6 1704.5h0M2149.5 1677.5h0M2148.1 1684.1h0M2148.9 1688.9h0M2147.7 1696.8h0M2156.5 1699.3h0M2152.3 1707.5h0M2152.6 1712.6h0M2151.0 1717.0h0M2151.2 1722.3h0M2150.7 1728.5h0M2149.1 1734.2h0M2150.1 1740.0h0M2149.6 1745.7h0M2150.3 1752.4h0M2160.3 1708.9h0M2159.0 1716.2h0M2159.7 1722.2h0M2160.5 1728.7h0M2160.4 1735.1h0M2160.4 1740.2h0M2159.0 1745.0h0M2159.6 1751.2h0M2159.9 1756.8h0M2165.5 1706.4h0M2164.2 1711.4h0M2163.6 1717.0h0M2164.6 1723.7h0M2163.5 1728.9h0M2163.0 1733.7h0M2163.0 1740.2h0M2168.1 1541.4h0M2168.7 1546.4h0M2168.8 1550.1h0M2167.4 1555.6h0M2167.9 1561.5h0M2168.7 1567.2h0M2168.2 1571.6h0M2169.4 1576.3h0M2168.9 1581.9h0M2169.6 1586.6h0M2169.1 1591.7h0M2168.8 1597.1h0M2168.1 1602.8h0M2168.3 1607.9h0M2168.7 1612.0h0M2168.4 1618.5h0M2167.2 1622.1h0M2166.5 1627.3h0M2166.5 1632.7h0M2167.3 1637.5h0M2168.1 1643.2h0M2166.1 1648.9h0M2165.7 1656.5h0M2166.1 1662.6h0M2165.6 1668.0h0M2164.8 1677.7h0M2175.6 1628.7h0M2175.9 1634.9h0M2177.3 1641.0h0M2177.4 1645.7h0M2178.3 1651.3h0M2178.3 1655.2h0M2177.6 1662.0h0M2176.4 1668.8h0M2179.1 1673.9h0M2173.0 1644.1h0M2172.5 1649.0h0M2171.8 1653.5h0M2171.7 1657.8h0M2171.5 1663.8h0M2172.4 1668.8h0M2181.5 1691.0h0M2176.6 1699.9h0M2176.0 1704.8h0M2174.6 1709.2h0M2175.1 1714.0h0M2176.3 1719.0h0M2177.6 1724.3h0M2180.2 1728.5h0M2182.6 1737.5h0M2183.1 1742.4h0M2184.2 1747.2h0M2183.0 1752.5h0M2182.0 1757.7h0M2182.7 1766.2h0M2196.7 1659.3h0M2196.9 1664.2h0M2194.9 1669.1h0M2195.2 1673.4h0M2194.9 1680.6h0M2196.0 1686.4h0M2195.6 1692.3h0M2193.1 1697.2h0M2192.3 1705.8h0M2202.3 1551.1h0M2201.0 1556.2h0M2200.0 1560.4h0M2201.2 1565.0h0M2203.0 1570.1h0M2200.2 1578.4h0M2203.8 1585.9h0M2200.5 1599.4h0M2200.5 1620.3h0M2200.0 1635.6h0M2199.5 1649.6h0M2210.9 1558.6h0M2213.4 1564.6h0M2212.5 1569.7h0M2211.2 1573.7h0M2216.0 1575.3h0M2213.5 1581.2h0M2209.7 1585.2h0M2216.2 1591.9h0M2210.7 1598.9h0M2213.6 1602.1h0M2217.7 1605.7h0M2212.0 1610.8h0M2215.4 1614.0h0M2219.7 1618.5h0M2216.3 1622.6h0M2212.2 1626.5h0M2217.4 1629.7h0M2220.9 1633.0h0M2217.2 1638.9h0M2213.3 1643.9h0M2217.0 1645.2h0M2222.1 1649.0h0M2218.2 1652.8h0M2215.1 1658.5h0M2210.9 1662.9h0M2216.4 1660.8h0M2220.9 1658.7h0M2220.1 1663.8h0M2219.3 1669.5h0M2217.1 1674.1h0M2215.8 1679.4h0M2211.5 1685.2h0M2220.5 1683.7h0M2220.4 1689.7h0M2218.8 1697.3h0M2220.0 1700.8h0M2221.7 1705.8h0M2217.5 1716.8h0M2217.3 1726.2h0M2217.7 1734.4h0M2216.5 1740.8h0M2216.6 1746.6h0M2229.9 1539.8h0M2228.9 1545.2h0M2228.5 1549.6h0M2229.3 1554.1h0M2228.9 1560.4h0M2230.2 1566.7h0M2229.3 1571.7h0M2229.3 1578.2h0M2233.7 1581.2h0M2237.3 1584.2h0M2234.1 1589.0h0M2232.0 1594.3h0M2234.3 1598.7h0M2237.6 1602.2h0M2235.1 1606.8h0M2233.6 1612.1h0M2238.3 1618.8h0M2235.8 1623.9h0M2234.0 1627.4h0M2238.9 1635.6h0M2236.5 1639.9h0M2234.9 1645.4h0M2238.5 1651.4h0M2240.0 1656.7h0M2239.2 1661.9h0M2238.3 1667.5h0M2241.2 1680.9h0M2239.7 1687.2h0M2239.2 1692.1h0M2240.1 1696.6h0M2240.8 1701.9h0M2244.1 1702.2h0M2247.8 1706.7h0M2244.9 1711.6h0M2242.3 1714.2h0M2246.4 1716.0h0M2250.2 1718.6h0M2246.8 1722.1h0M2243.4 1726.6h0M2248.8 1727.7h0M2254.3 1729.3h0M2248.3 1733.6h0M2242.9 1737.0h0M2248.3 1738.2h0M2254.5 1738.7h0M2252.0 1742.6h0M2248.5 1747.9h0M2247.5 1750.2h0M2247.1 1755.5h0M2248.9 1760.1h0M2246.3 1768.9h0M2248.0 1775.9h0M2255.7 1578.9h0M2257.0 1586.9h0M2260.2 1593.0h0M2261.2 1601.2h0M2254.8 1605.0h0M2255.6 1611.4h0M2262.5 1621.1h0M2254.1 1628.0h0M2262.0 1639.4h0M2254.8 1643.3h0M2261.2 1653.5h0M2255.6 1656.0h0M2262.5 1671.3h0M2254.1 1675.2h0M2257.3 1686.9h0M2253.3 1692.3h0M2261.2 1691.7h0M2260.4 1704.8h0M2258.9 1710.6h0M2258.2 1717.3h0M2259.7 1722.2h0M2260.0 1726.8h0M2259.8 1730.9h0M2259.0 1736.3h0M2259.2 1739.9h0M2259.2 1745.3h0M2268.9 1737.7h0M2267.6 1485.1h0M2269.4 1542.5h0M2262.3 1758.7h0M2269.1 1760.5h0M2266.0 1765.3h0M2264.7 1768.6h0M2262.7 1773.8h0M2269.7 1771.5h0M2268.1 1775.9h0M2265.5 1779.5h0M2263.8 1783.0h0M2269.6 1785.5h0M2267.6 1792.0h0M2263.0 1796.2h0M2265.8 1805.3h0M2276.7 1758.2h0M2276.3 1763.4h0M2275.2 1767.5h0M2275.6 1774.2h0M2276.8 1780.5h0M2276.7 1786.5h0M2276.4 1791.8h0M2275.2 1798.4h0M2276.5 1807.8h0M2282.5 1656.9h0M2282.0 1663.1h0M2281.8 1669.4h0M2281.6 1675.5h0M2282.9 1680.9h0M2281.6 1686.6h0M2284.9 1696.6h0M2283.7 1702.9h0M2282.3 1710.1h0M2281.6 1715.0h0M2282.4 1719.4h0M2280.7 1725.3h0M2280.5 1732.1h0M2281.4 1736.5h0M2282.2 1743.6h0M2282.4 1748.5h0M2280.9 1755.4h0M2282.5 1761.1h0M2284.6 1765.3h0M2282.8 1771.1h0M2282.4 1776.8h0M2284.4 1781.9h0M2286.6 1786.8h0M2286.6 1791.2h0M2285.5 1796.3h0M2289.2 1701.9h0M2290.5 1706.9h0M2290.0 1711.6h0M2291.2 1717.7h0M2291.3 1722.8h0M2291.2 1728.0h0M2291.4 1731.8h0M2291.9 1738.1h0M2291.6 1742.8h0M2291.4 1747.1h0M2291.0 1754.8h0M2289.8 1760.2h0M2290.0 1766.8h0M2289.3 1773.4h0M2283.5 1656.0h0M2284.4 1659.3h0M2284.3 1662.5h0M2284.0 1665.8h0M2284.7 1669.1h0M2284.6 1672.3h0M2283.7 1675.6h0M2283.5 1678.9h0M2283.6 1682.1h0M2283.4 1685.4h0M2283.4 1688.6h0M2283.1 1691.9h0M2284.2 1695.2h0M2283.5 1698.4h0M2284.4 1701.7h0M2282.8 1705.0h0M2283.3 1708.2h0M2284.5 1711.5h0M2284.3 1714.8h0M2284.5 1718.0h0M2284.4 1721.3h0M2284.3 1724.5h0M2283.8 1727.8h0M2284.4 1731.1h0M2283.0 1734.3h0M2283.6 1737.6h0M2283.8 1740.9h0M2284.2 1744.1h0M2283.9 1747.4h0M2283.3 1750.6h0M2284.6 1753.9h0M2284.0 1757.2h0M2284.4 1760.4h0M2283.3 1763.7h0M2285.2 1767.0h0M2283.6 1770.2h0M2285.5 1773.5h0M2285.0 1776.7h0M2284.9 1780.0h0M2285.4 1783.3h0M2285.2 1786.5h0M2286.2 1789.8h0M2286.2 1793.1h0M2285.0 1796.3h0M2289.5 1701.9h0M2289.7 1705.2h0M2290.8 1708.5h0M2290.2 1711.7h0M2289.8 1715.0h0M2289.7 1718.2h0M2289.3 1721.5h0M2289.6 1724.8h0M2289.6 1728.0h0M2290.6 1731.3h0M2290.9 1734.5h0M2289.9 1737.8h0M2289.2 1741.1h0M2289.1 1744.3h0M2290.7 1747.6h0M2290.5 1750.8h0M2290.3 1754.1h0M2289.9 1757.4h0M2289.4 1760.6h0M2298.8 1602.4h0M2299.2 1605.7h0M2300.1 1609.0h0M2299.3 1612.3h0M2299.2 1615.6h0M2299.1 1618.8h0M2299.1 1622.1h0M2299.8 1625.4h0M2299.4 1628.7h0M2299.5 1632.0h0M2299.9 1635.2h0M2299.6 1638.5h0M2299.6 1641.8h0M2299.8 1645.1h0M2299.1 1648.4h0M2302.5 1814.2h0M2301.8 1817.7h0M2302.0 1821.2h0M2302.4 1824.7h0M2301.2 1828.2h0M2301.6 1831.7h0M2302.1 1835.2h0M2301.4 1838.7h0M2300.5 1842.2h0M2309.1 1705.8h0M2310.4 1709.3h0M2309.4 1712.8h0M2309.2 1716.3h0M2309.3 1719.8h0M2311.5 1719.8h0M2312.3 1723.1h0M2312.3 1726.4h0M2311.3 1729.6h0M2310.9 1732.9h0M2312.4 1736.2h0M2312.0 1739.5h0M2312.5 1742.8h0M2312.1 1746.0h0M2312.3 1749.3h0M2312.0 1752.6h0M2312.2 1755.9h0M2312.1 1759.2h0M2311.3 1762.4h0M2311.5 1765.7h0M2312.4 1769.0h0M2312.9 1772.3h0M2311.5 1775.6h0M2311.6 1778.8h0M2311.9 1782.1h0M2312.4 1785.4h0M2313.1 1788.7h0M2311.8 1792.0h0M2313.3 1795.2h0M2312.5 1798.5h0M2311.8 1801.8h0M2312.7 1805.1h0M2312.5 1808.4h0M2312.7 1811.6h0M2313.7 1814.9h0M2312.2 1818.2h0M2312.7 1821.5h0M2313.3 1824.8h0M2313.0 1828.0h0M2313.4 1831.3h0M2313.8 1834.6h0M2318.4 1847.3h0M2319.1 1850.7h0M2319.9 1854.0h0M2319.1 1857.3h0M2319.2 1860.7h0M2319.2 1864.0h0M2319.0 1867.3h0M2320.1 1870.7h0M2319.5 1874.0h0M2320.6 1877.3h0M2319.5 1880.7h0M2319.6 1884.0h0M2320.6 1887.3h0M2320.7 1890.7h0M2320.1 1894.0h0M2320.0 1897.3h0M2328.0 1661.1h0M2328.3 1664.4h0M2328.8 1667.7h0M2327.8 1671.0h0M2328.5 1674.2h0M2328.9 1677.5h0M2328.0 1680.8h0M2328.1 1684.1h0M2327.8 1687.4h0M2327.2 1690.6h0M2327.8 1693.9h0M2326.8 1697.2h0M2328.2 1700.5h0M2328.1 1703.8h0M2327.9 1707.0h0M2327.0 1709.6h0M2326.4 1712.8h0M2326.9 1716.1h0M2326.8 1719.3h0M2325.8 1722.6h0M2325.8 1725.8h0M2327.3 1729.1h0M2327.4 1732.3h0M2327.0 1735.6h0M2326.7 1738.8h0M2327.2 1742.1h0M2327.4 1745.3h0M2327.2 1748.6h0M2327.0 1751.8h0M2325.9 1755.1h0M2326.3 1758.3h0M2326.5 1761.6h0M2326.8 1764.8h0M2326.6 1768.1h0M2327.5 1771.3h0M2327.9 1774.6h0M2326.9 1777.8h0M2327.8 1781.1h0M2327.0 1784.3h0M2327.9 1787.6h0M2327.1 1790.8h0M2327.4 1794.1h0M2327.3 1797.3h0M2328.0 1800.6h0M2327.8 1803.8h0M2329.0 1807.1h0M2327.8 1810.3h0M2329.3 1813.6h0M2328.3 1816.8h0M2328.5 1820.1h0M2329.5 1823.3h0M2329.7 1826.6h0M2329.0 1829.8h0M2330.0 1833.1h0M2329.8 1836.3h0M2330.4 1839.6h0M2330.3 1842.8h0M2330.6 1846.1h0M2330.1 1849.3h0M2330.3 1852.6h0M2331.9 1855.8h0M2330.8 1859.1h0M2336.7 1709.6h0M2336.9 1712.9h0M2336.6 1716.2h0M2336.8 1719.5h0M2336.7 1722.8h0M2337.9 1726.1h0M2336.6 1729.3h0M2338.3 1732.6h0M2338.3 1735.9h0M2337.4 1739.2h0M2337.4 1742.5h0M2338.7 1745.8h0M2338.1 1749.1h0M2337.8 1752.4h0M2338.4 1755.7h0M2339.2 1759.0h0M2339.1 1762.3h0M2338.6 1765.5h0M2338.7 1768.8h0M2339.0 1772.1h0M2338.3 1775.4h0M2337.8 1778.7h0M2338.7 1782.0h0M2337.9 1785.3h0M2338.2 1788.6h0M2338.2 1791.9h0M2338.6 1795.2h0M2337.6 1798.5h0M2337.9 1801.8h0M2337.4 1805.0h0M2338.8 1808.3h0M2339.0 1811.6h0M2348.9 1722.3h0M2348.4 1725.6h0M2348.9 1728.9h0M2348.3 1732.1h0M2349.3 1735.4h0M2348.3 1738.6h0M2348.8 1741.9h0M2348.8 1745.2h0M2348.3 1748.4h0M2348.4 1751.7h0M2349.6 1754.9h0M2349.6 1758.2h0M2349.5 1761.5h0M2349.3 1764.7h0M2349.1 1768.0h0M2348.7 1771.2h0M2348.3 1774.5h0M2349.8 1777.7h0M2349.6 1781.0h0M2348.6 1784.3h0M2349.8 1787.5h0M2349.3 1790.8h0M2348.4 1794.0h0M2348.8 1797.3h0M2348.7 1800.6h0M2349.7 1803.8h0M2349.8 1807.1h0M2349.4 1810.3h0M2349.1 1813.6h0M2349.8 1816.8h0M2349.0 1820.1h0M2348.6 1823.4h0M2357.0 1613.9h0M2356.1 1617.8h0M2356.0 1621.6h0M2356.2 1625.4h0M2355.9 1629.2h0M2356.5 1633.1h0M2360.8 1668.8h0M2360.9 1672.0h0M2361.4 1675.3h0M2362.1 1678.6h0M2362.7 1681.8h0M2362.8 1685.1h0M2362.4 1688.4h0M2361.8 1691.7h0M2362.5 1694.9h0M2361.9 1698.2h0M2362.4 1701.5h0M2362.3 1704.7h0M2363.1 1708.0h0M2363.0 1711.3h0M2361.4 1714.5h0M2362.7 1717.8h0M2362.2 1721.1h0M2362.1 1724.3h0M2361.7 1727.6h0M2362.4 1730.9h0M2362.1 1734.1h0M2360.8 1737.4h0M2361.0 1740.7h0M2360.7 1744.0h0M2360.4 1747.2h0M2360.2 1750.5h0M2360.9 1753.8h0M2360.2 1757.0h0M2359.8 1760.3h0M2359.7 1763.6h0M2360.5 1766.8h0M2359.1 1770.1h0M2360.2 1773.4h0M2370.4 1747.9h0M2370.1 1751.1h0M2369.7 1754.3h0M2369.5 1757.5h0M2369.7 1760.7h0M2369.3 1763.9h0M2368.6 1767.2h0M2368.9 1770.4h0M2369.1 1773.6h0M2368.6 1776.8h0M2369.8 1780.0h0M2369.4 1783.3h0M2369.9 1786.5h0M2369.9 1789.7h0M2369.3 1792.9h0M2369.4 1796.1h0M2368.5 1799.3h0M2368.3 1802.6h0M2369.4 1805.8h0M2369.5 1809.0h0M2368.3 1812.2h0M2369.4 1815.4h0M2368.5 1818.6h0M2368.7 1821.9h0M2369.2 1825.1h0M2369.2 1828.3h0M2368.9 1831.5h0M2368.9 1834.7h0M2368.6 1837.9h0M2368.7 1841.2h0M2368.6 1844.4h0M2367.6 1847.6h0M2377.0 1714.7h0M2375.6 1718.0h0M2376.0 1721.3h0M2375.6 1724.6h0M2375.6 1727.9h0M2375.8 1731.2h0M2375.2 1734.5h0M2376.3 1737.8h0M2375.4 1741.1h0M2375.2 1744.3h0M2375.7 1747.6h0M2375.7 1750.9h0M2375.5 1754.2h0M2376.4 1757.5h0M2376.4 1760.8h0M2376.1 1764.1h0M2375.6 1767.4h0M2374.7 1770.7h0M2375.7 1774.0h0M2374.9 1777.3h0M2375.4 1780.6h0M2374.6 1783.9h0M2375.5 1787.2h0M2374.6 1790.5h0M2375.9 1793.8h0M2384.4 1832.0h0M2384.8 1835.4h0M2385.3 1838.8h0M2384.8 1842.2h0M2385.6 1845.6h0M2385.0 1849.0h0M2384.4 1852.4h0M2384.3 1855.7h0M2384.0 1859.1h0M2385.3 1862.5h0M2385.4 1865.9h0M2385.3 1869.3h0M2387.5 1727.4h0M2388.0 1730.7h0M2388.8 1733.9h0M2387.6 1737.1h0M2389.1 1740.4h0M2388.8 1743.6h0M2388.0 1746.8h0M2388.0 1750.1h0M2388.4 1753.3h0M2389.9 1756.5h0M2389.1 1759.7h0M2390.2 1763.0h0M2390.3 1766.2h0M2389.6 1769.4h0M2390.1 1772.7h0M2390.2 1775.9h0M2390.2 1779.1h0M2390.9 1782.3h0M2391.8 1785.6h0M2391.7 1788.8h0M2392.0 1792.0h0M2392.2 1795.3h0M2392.7 1798.5h0M2392.8 1801.7h0M2392.3 1804.9h0M2392.5 1808.2h0M2393.2 1811.4h0M2394.1 1814.6h0M2394.4 1817.9h0M2394.2 1821.1h0M2395.0 1824.3h0M2394.8 1827.5h0M2395.2 1830.8h0M2395.1 1834.0h0M2395.7 1837.2h0M2394.8 1840.5h0M2394.8 1843.7h0M2395.6 1846.9h0M2395.7 1850.2h0M2398.7 1732.6h0M2398.4 1735.8h0M2398.6 1739.1h0M2398.1 1742.4h0M2398.3 1745.7h0M2399.3 1749.0h0M2397.8 1752.2h0M2398.4 1755.5h0M2398.5 1758.8h0M2398.2 1762.1h0M2398.1 1765.3h0M2397.4 1768.6h0M2398.5 1771.9h0M2397.1 1775.2h0M2397.5 1778.5h0M2397.5 1781.7h0M2397.0 1785.0h0M2398.1 1788.3h0M2397.9 1791.6h0M2396.3 1794.9h0M2396.3 1798.1h0M2396.2 1801.4h0M2396.4 1804.7h0M2396.2 1808.0h0M2396.6 1811.3h0M2395.9 1814.5h0M2395.7 1817.8h0M2397.3 1821.1h0M2397.1 1824.4h0M2395.5 1827.7h0M2396.0 1830.9h0M2395.7 1834.2h0M2395.6 1837.5h0M2396.3 1840.8h0M2396.1 1844.1h0M2395.9 1847.3h0M2404.4 1728.7h0M2405.0 1732.0h0M2405.6 1735.2h0M2405.8 1738.5h0M2405.0 1741.7h0M2404.3 1745.0h0M2405.8 1748.3h0M2404.3 1751.5h0M2404.7 1754.8h0M2405.3 1758.0h0M2405.1 1761.3h0M2404.6 1764.5h0M2405.2 1767.8h0M2404.4 1771.0h0M2405.4 1774.3h0M2404.1 1777.5h0M2404.1 1780.8h0M2404.5 1784.1h0M2405.3 1787.3h0M2405.4 1790.6h0M2405.5 1793.8h0M2404.5 1797.1h0M2405.4 1800.3h0M2404.4 1803.6h0M2404.5 1806.8h0M2403.9 1810.1h0M2404.6 1813.3h0M2403.9 1816.6h0M2405.0 1819.9h0M2403.9 1823.1h0M2404.9 1826.4h0M2404.2 1829.6h0M2403.8 1832.9h0M2404.2 1836.1h0M2405.9 1668.8h0M2405.4 1672.1h0M2405.4 1675.4h0M2406.5 1678.7h0M2405.0 1682.0h0M2405.5 1685.3h0M2405.2 1688.6h0M2404.9 1691.9h0M2405.6 1695.2h0M2406.2 1698.5h0M2405.3 1701.8h0M2406.2 1705.1h0M2404.9 1708.4h0M2405.9 1711.7h0M2404.5 1715.0h0M2404.7 1718.3h0M2405.7 1721.6h0M2404.5 1724.9h0M2411.0 1714.7h0M2411.1 1717.9h0M2409.7 1721.1h0M2409.7 1724.4h0M2410.3 1727.6h0M2410.1 1730.8h0M2410.6 1734.0h0M2410.5 1737.2h0M2410.2 1740.5h0M2410.0 1743.7h0M2408.9 1746.9h0M2409.3 1750.1h0M2409.1 1753.4h0M2409.3 1756.6h0M2408.5 1759.8h0M2408.7 1763.0h0M2408.2 1766.2h0M2409.1 1769.5h0M2407.8 1772.7h0M2409.2 1775.9h0M2409.2 1779.1h0M2407.9 1782.4h0M2409.3 1785.6h0M2408.1 1788.8h0M2409.1 1792.0h0M2408.1 1795.2h0M2408.6 1798.5h0M2409.2 1801.7h0M2419.8 1635.6h0M2421.1 1638.8h0M2420.0 1642.0h0M2420.2 1645.2h0M2420.6 1648.4h0M2420.5 1651.6h0M2419.5 1654.8h0M2420.0 1658.0h0M2420.7 1661.2h0M2419.5 1664.4h0M2419.8 1667.6h0M2419.5 1670.9h0M2418.7 1674.1h0M2420.2 1677.3h0M2419.1 1680.5h0M2420.1 1683.7h0M2419.1 1686.9h0M2419.1 1690.1h0M2418.6 1693.3h0M2418.1 1696.5h0M2419.3 1699.7h0M2418.3 1702.9h0M2419.3 1706.1h0M2418.9 1709.3h0M2419.3 1712.5h0M2418.2 1715.7h0M2418.1 1718.9h0M2418.7 1722.1h0M2418.4 1725.3h0M2419.1 1728.5h0M2418.1 1731.7h0M2418.8 1734.9h0M2417.7 1738.1h0M2417.8 1741.3h0M2418.3 1744.5h0M2418.2 1747.7h0M2417.7 1750.9h0M2417.3 1754.1h0M2417.3 1757.3h0M2417.9 1760.6h0M2417.9 1763.8h0M2418.0 1767.0h0M2418.1 1770.2h0M2417.9 1773.4h0M2427.2 1745.3h0M2427.2 1748.6h0M2427.2 1752.0h0M2426.1 1755.3h0M2426.2 1758.6h0M2426.1 1761.9h0M2427.2 1765.3h0M2426.9 1768.6h0M2427.3 1771.9h0M2425.9 1775.2h0M2425.6 1778.6h0M2426.3 1781.9h0M2425.7 1785.2h0M2426.3 1788.6h0M2426.5 1791.9h0M2427.2 1795.2h0M2426.1 1798.5h0M2426.6 1801.9h0M2426.5 1805.2h0M2426.3 1808.5h0M2426.0 1811.8h0M2426.1 1815.2h0M2426.3 1818.5h0M2425.1 1821.8h0M2424.7 1825.1h0M2425.8 1828.5h0M2435.4 1679.0h0M2434.8 1682.2h0M2434.1 1685.5h0M2433.7 1688.7h0M2433.4 1692.0h0M2433.4 1695.2h0M2433.9 1698.5h0M2434.3 1701.7h0M2434.6 1705.0h0M2434.0 1708.2h0M2433.5 1711.5h0M2433.5 1714.7h0M2433.3 1718.0h0M2432.3 1721.2h0M2433.1 1724.5h0M2432.0 1727.7h0M2432.0 1731.0h0M2433.2 1734.2h0M2432.0 1737.5h0M2432.5 1740.7h0M2431.8 1744.0h0M2431.5 1747.2h0M2431.8 1750.5h0M2431.9 1753.7h0M2432.5 1757.0h0M2431.7 1760.2h0M2430.9 1763.5h0M2430.5 1766.7h0M2431.4 1770.0h0M2430.6 1773.3h0M2431.0 1776.5h0M2430.5 1779.8h0M2430.4 1783.0h0M2431.7 1786.3h0M2431.3 1789.5h0M2431.1 1792.8h0M2441.4 1663.7h0M2441.1 1666.9h0M2441.0 1670.1h0M2441.0 1673.3h0M2441.5 1676.5h0M2441.1 1679.8h0M2441.6 1683.0h0M2440.8 1686.2h0M2440.5 1689.4h0M2441.3 1692.6h0M2441.6 1695.8h0M2442.0 1699.1h0M2441.9 1702.3h0M2441.5 1705.5h0M2441.9 1708.7h0M2441.7 1711.9h0M2441.5 1715.1h0M2441.8 1718.4h0M2440.7 1721.6h0M2441.1 1724.8h0M2441.6 1728.0h0M2440.9 1731.2h0M2441.0 1734.4h0M2440.6 1737.7h0M2441.2 1624.1h0M2442.1 1627.6h0M2441.8 1631.0h0M2440.9 1634.5h0M2441.6 1637.9h0M2441.7 1641.4h0M2440.7 1644.8h0M2441.8 1648.2h0M2440.8 1651.7h0M2440.6 1655.1h0M2441.8 1658.6h0M2456.4 1658.6h0M2457.0 1661.8h0M2456.2 1665.0h0M2457.2 1668.2h0M2457.0 1671.5h0M2456.4 1674.7h0M2455.9 1677.9h0M2456.9 1681.1h0M2456.1 1684.4h0M2457.1 1687.6h0M2457.1 1690.8h0M2455.5 1694.0h0M2455.4 1697.2h0M2455.2 1700.5h0M2455.1 1703.7h0M2455.0 1706.9h0M2456.6 1710.1h0M2455.3 1713.4h0M2456.1 1716.6h0M2455.8 1719.8h0M2455.8 1723.0h0M2455.0 1726.2h0M2455.0 1729.5h0M2454.7 1732.7h0M2454.3 1735.9h0M2455.2 1739.1h0M2454.5 1742.4h0M2455.3 1745.6h0M2454.5 1748.8h0M2454.5 1752.0h0M2454.7 1755.2h0M2454.3 1758.5h0M2455.0 1761.7h0M2455.7 1764.9h0M2454.4 1768.1h0M2455.5 1771.4h0M2454.4 1774.6h0M2454.8 1777.8h0M2454.9 1781.0h0M2460.6 1648.4h0M2460.5 1651.6h0M2460.3 1654.9h0M2460.2 1658.2h0M2460.3 1661.4h0M2461.0 1664.7h0M2461.6 1668.0h0M2461.7 1671.3h0M2460.8 1674.5h0M2460.3 1677.8h0M2460.8 1681.1h0M2461.6 1684.3h0M2461.0 1687.6h0M2461.2 1690.9h0M2460.9 1694.2h0M2462.1 1697.4h0M2461.8 1700.7h0M2461.5 1704.0h0M2461.7 1707.2h0M2461.0 1710.5h0M2461.8 1713.8h0M2462.6 1717.0h0M2462.2 1720.3h0M2462.4 1723.6h0M2461.9 1726.9h0M2462.2 1730.1h0M2462.6 1733.4h0M2462.4 1736.7h0M2462.1 1739.9h0M2461.9 1743.2h0M2462.3 1746.5h0M2462.5 1749.8h0M2463.0 1753.0h0M2462.3 1756.3h0M2463.6 1759.6h0M2462.5 1762.8h0M2463.3 1766.1h0M2463.5 1769.4h0M2463.7 1772.6h0M2463.9 1775.9h0M2466.5 1638.2h0M2468.0 1641.8h0M2466.8 1645.5h0M2467.2 1649.1h0M2467.7 1652.7h0M2467.2 1656.4h0M2467.6 1660.0h0M2466.7 1663.7h0M2468.2 1763.2h0M2468.8 1766.5h0M2467.7 1769.8h0M2468.7 1773.1h0M2468.5 1776.4h0M2468.3 1779.7h0M2467.7 1783.0h0M2468.8 1786.3h0M2467.7 1789.6h0M2468.0 1792.9h0M2469.5 1796.2h0M2467.9 1799.5h0M2469.6 1802.8h0M2468.9 1806.1h0M2468.7 1809.4h0M2468.4 1812.7h0M2469.8 1816.1h0M2468.7 1819.4h0M2469.6 1822.7h0M2469.4 1826.0h0M2468.9 1829.3h0M2469.0 1832.6h0M2469.2 1835.9h0M2469.1 1839.2h0M2470.9 1842.5h0M2474.2 1755.5h0M2473.5 1758.7h0M2474.2 1762.0h0M2473.5 1765.2h0M2472.9 1768.4h0M2473.0 1771.6h0M2473.4 1774.8h0M2472.7 1778.1h0M2472.6 1781.3h0M2473.1 1784.5h0M2473.5 1787.7h0M2472.7 1791.0h0M2473.4 1794.2h0M2473.4 1797.4h0M2473.5 1800.6h0M2473.9 1803.8h0M2473.9 1807.1h0M2472.7 1810.3h0M2473.1 1813.5h0M2473.8 1816.7h0M2482.3 1640.7h0M2482.1 1644.0h0M2482.3 1647.2h0M2483.0 1650.4h0M2482.5 1653.7h0M2482.1 1656.9h0M2483.6 1660.2h0M2482.5 1663.4h0M2484.1 1666.6h0M2484.0 1669.9h0M2483.7 1673.1h0M2484.8 1676.4h0M2483.5 1679.6h0M2484.0 1682.8h0M2483.8 1686.1h0M2484.1 1689.3h0M2484.8 1692.6h0M2484.3 1695.8h0M2485.7 1699.0h0M2485.3 1702.3h0M2485.4 1705.5h0M2485.5 1708.8h0M2485.4 1712.0h0M2486.4 1715.2h0M2485.3 1718.5h0M2486.3 1721.7h0M2485.3 1725.0h0M2486.3 1728.2h0M2485.6 1731.4h0M2485.2 1734.7h0M2486.3 1737.9h0M2484.9 1741.2h0M2486.0 1744.4h0M2485.1 1747.7h0M2484.7 1750.9h0M2484.3 1754.1h0M2485.6 1757.4h0M2483.9 1760.6h0M2492.3 1724.9h0M2492.4 1728.2h0M2491.9 1731.4h0M2491.9 1734.7h0M2491.7 1738.0h0M2491.9 1741.3h0M2492.0 1744.5h0M2491.2 1747.8h0M2492.1 1751.1h0M2492.2 1754.3h0M2491.4 1757.6h0M2491.5 1760.9h0M2491.7 1764.2h0M2491.4 1767.4h0M2491.4 1770.7h0M2490.0 1774.0h0M2490.8 1777.2h0M2491.5 1780.5h0M2490.9 1783.8h0M2491.1 1787.1h0M2490.0 1790.3h0M2489.9 1793.6h0M2490.0 1796.9h0M2490.2 1800.1h0M2490.9 1803.4h0M2491.0 1806.7h0M2490.0 1810.0h0M2491.5 1813.2h0M2491.2 1816.5h0M2491.5 1819.8h0M2490.9 1823.0h0M2491.1 1826.3h0M2490.4 1829.6h0M2490.9 1832.9h0M2491.5 1836.1h0M2497.3 1701.9h0M2497.5 1705.2h0M2496.1 1708.4h0M2497.4 1711.7h0M2497.2 1714.9h0M2497.0 1718.1h0M2495.6 1721.4h0M2497.1 1724.6h0M2497.1 1727.9h0M2495.6 1731.1h0M2497.0 1734.3h0M2496.9 1737.6h0M2495.7 1740.8h0M2495.8 1744.1h0M2496.1 1747.3h0M2496.5 1750.5h0M2496.6 1753.8h0M2496.3 1757.0h0M2496.2 1760.3h0M2496.0 1763.5h0M2495.6 1766.7h0M2496.3 1770.0h0M2495.8 1773.2h0M2495.8 1776.5h0M2496.3 1779.7h0M2496.6 1782.9h0M2497.5 1786.2h0M2496.7 1789.4h0M2497.2 1792.7h0M2496.1 1795.9h0M2497.3 1799.1h0M2504.5 1611.4h0M2504.2 1614.6h0M2505.2 1617.8h0M2505.4 1621.0h0M2503.9 1624.3h0M2505.1 1627.5h0M2504.7 1630.7h0M2505.2 1633.9h0M2504.3 1637.1h0M2505.1 1640.4h0M2505.5 1643.6h0M2504.3 1646.8h0M2505.4 1650.0h0M2504.8 1653.2h0M2505.6 1656.5h0M2504.8 1659.7h0M2505.8 1662.9h0M2504.9 1666.1h0M2505.7 1669.3h0M2505.8 1672.6h0M2505.2 1675.8h0M2505.0 1679.0h0M2505.9 1682.2h0M2506.8 1685.5h0M2506.5 1688.7h0M2507.1 1691.9h0M2506.8 1695.1h0M2506.3 1698.3h0M2507.3 1701.6h0M2507.0 1704.8h0M2506.7 1708.0h0M2507.0 1711.2h0M2506.3 1714.4h0M2507.0 1717.7h0M2506.8 1720.9h0M2507.6 1724.1h0M2506.6 1727.3h0M2506.7 1730.5h0M2506.4 1733.8h0M2507.5 1737.0h0M2506.6 1740.2h0M2512.0 1740.2h0M2512.6 1743.7h0M2511.4 1747.2h0M2511.4 1750.6h0M2511.8 1754.1h0M2511.2 1757.6h0M2511.8 1761.1h0M2512.0 1764.6h0M2511.5 1768.0h0M2510.7 1771.5h0M2511.5 1775.0h0M2511.8 1778.5h0M2512.7 1640.7h0M2513.9 1644.0h0M2513.5 1647.3h0M2513.1 1650.6h0M2513.2 1653.9h0M2514.1 1657.2h0M2513.6 1660.6h0M2514.4 1663.9h0M2514.5 1667.2h0M2515.4 1670.5h0M2514.2 1673.8h0M2515.2 1677.1h0M2514.8 1680.4h0M2514.2 1683.7h0M2514.2 1687.0h0M2514.6 1690.3h0M2514.4 1693.6h0M2515.4 1696.9h0M2514.9 1700.2h0M2515.4 1703.5h0M2514.5 1706.9h0M2514.7 1710.2h0M2515.4 1713.5h0M2514.2 1716.8h0M2514.9 1720.1h0M2514.7 1723.4h0M2515.7 1726.7h0M2514.6 1730.0h0M2519.1 1704.5h0M2519.3 1707.8h0M2520.0 1711.2h0M2519.4 1714.5h0M2519.6 1717.8h0M2520.2 1721.2h0M2519.7 1724.5h0M2519.9 1727.8h0M2520.0 1731.2h0M2520.7 1734.5h0M2521.2 1737.8h0M2520.8 1741.2h0M2521.3 1744.5h0M2521.4 1747.9h0M2524.3 1619.0h0M2523.2 1622.2h0M2524.3 1625.4h0M2524.4 1628.7h0M2524.1 1631.9h0M2523.6 1635.1h0M2523.7 1638.3h0M2523.5 1641.5h0M2522.9 1644.7h0M2523.4 1647.9h0M2523.1 1651.1h0M2523.7 1654.3h0M2523.3 1657.5h0M2522.9 1660.7h0M2522.7 1663.9h0M2523.5 1667.2h0M2523.0 1670.4h0M2522.6 1673.6h0M2523.6 1676.8h0M2524.2 1680.0h0M2523.8 1683.2h0M2522.7 1686.4h0M2524.1 1689.6h0M2522.8 1692.8h0M2523.3 1696.0h0M2524.3 1699.2h0M2523.2 1702.4h0M2523.6 1705.6h0M2523.7 1708.9h0M2524.0 1712.1h0M2523.7 1715.3h0M2524.4 1718.5h0M2523.0 1721.7h0M2524.1 1724.9h0M2528.8 1671.3h0M2528.9 1674.6h0M2527.9 1677.8h0M2529.1 1681.1h0M2529.2 1684.3h0M2529.2 1687.6h0M2528.0 1690.8h0M2528.4 1694.1h0M2528.5 1697.3h0M2529.5 1700.5h0M2529.7 1703.8h0M2528.3 1707.0h0M2529.3 1710.3h0M2530.2 1713.5h0M2529.3 1716.8h0M2530.0 1720.0h0M2530.3 1723.3h0M2530.1 1726.5h0M2530.2 1729.8h0M2529.0 1733.0h0M2529.8 1736.3h0M2529.5 1739.5h0M2529.3 1742.8h0M2548.3 1505.5h0M2548.4 1509.8h0M2548.9 1514.0h0M2548.6 1518.3h0M2548.2 1596.1h0M2548.8 1599.4h0M2549.0 1602.6h0M2548.6 1605.9h0M2549.8 1609.2h0M2549.5 1612.5h0M2550.1 1615.8h0M2550.0 1619.1h0M2548.8 1622.4h0M2550.0 1625.7h0M2549.9 1628.9h0M2548.9 1632.2h0M2549.0 1635.5h0M2549.1 1638.8h0M2550.3 1642.1h0M2549.4 1645.4h0M2549.9 1648.7h0M2549.8 1651.9h0M2549.8 1655.2h0M2550.3 1658.5h0M2550.2 1661.8h0M2551.7 1665.1h0M2551.9 1668.4h0M2550.5 1671.7h0M2550.8 1675.0h0M2552.2 1678.2h0M2551.2 1681.5h0M2560.2 1599.9h0M2560.4 1603.2h0M2559.2 1606.4h0M2560.2 1609.7h0M2559.9 1613.0h0M2560.7 1616.2h0M2560.5 1619.5h0M2560.5 1622.8h0M2561.3 1626.0h0M2561.4 1629.3h0M2561.5 1632.6h0M2561.7 1635.9h0M2560.5 1639.1h0M2560.8 1642.4h0M2561.9 1645.7h0M2561.3 1648.9h0M2560.4 1652.2h0M2562.1 1655.5h0M2561.1 1658.7h0M2561.2 1662.0h0M2561.6 1665.3h0M2562.1 1668.5h0M2561.3 1671.8h0M2561.2 1675.1h0M2560.6 1678.3h0M2560.4 1681.6h0M2560.3 1684.9h0M2560.1 1688.1h0M2560.1 1691.4h0M2560.7 1694.7h0M2560.8 1698.0h0M2560.6 1701.2h0M2560.6 1704.5h0M2564.5 1704.5h0M2563.9 1707.9h0M2563.5 1711.4h0M2563.8 1714.8h0M2564.0 1718.3h0M2562.3 1721.7h0M2562.1 1725.2h0M2562.0 1728.6h0M2561.8 1732.0h0M2562.6 1735.5h0M2561.1 1738.9h0M2567.5 1640.7h0M2567.3 1644.0h0M2567.1 1647.3h0M2568.6 1650.6h0M2567.3 1653.8h0M2568.3 1657.1h0M2567.8 1660.4h0M2568.0 1663.7h0M2569.4 1667.0h0M2568.8 1670.2h0M2568.7 1673.5h0M2569.6 1676.8h0M2568.6 1680.1h0M2569.0 1683.4h0M2569.6 1686.6h0M2569.4 1689.9h0M2569.6 1693.2h0M2570.0 1696.5h0M2569.2 1699.8h0M2570.2 1703.0h0M2569.5 1706.3h0M2569.9 1709.6h0M2574.2 1594.8h0M2574.7 1598.0h0M2575.2 1601.2h0M2575.3 1604.5h0M2573.7 1607.7h0M2574.0 1610.9h0M2575.4 1614.1h0M2574.2 1617.4h0M2574.3 1620.6h0M2574.8 1623.8h0M2574.6 1627.0h0M2574.7 1630.2h0M2574.6 1633.5h0M2574.2 1636.7h0M2573.6 1639.9h0M2574.3 1643.1h0M2573.7 1646.4h0M2573.2 1649.6h0M2573.2 1652.8h0M2573.1 1656.0h0M2582.2 1589.7h0M2583.5 1593.1h0M2581.7 1596.4h0M2582.7 1599.8h0M2582.9 1603.1h0M2581.9 1606.5h0M2581.7 1609.8h0M2581.3 1613.2h0M2581.2 1616.5h0M2581.9 1619.9h0M2581.9 1623.3h0M2580.7 1626.6h0M2581.6 1630.0h0M2580.1 1633.3h0M2581.1 1636.7h0M2579.8 1640.0h0M2581.2 1643.4h0M2580.1 1646.8h0M2579.7 1650.1h0M2580.7 1653.5h0M2583.7 1570.6h0M2582.7 1574.2h0M2582.3 1577.8h0M2582.2 1581.4h0M2582.4 1585.0h0M2583.0 1588.6h0M2582.2 1592.2h0M2589.0 1594.8h0M2588.3 1598.1h0M2589.3 1601.4h0M2588.0 1604.7h0M2588.0 1608.0h0M2588.8 1611.3h0M2587.9 1614.6h0M2588.8 1617.9h0M2589.0 1621.2h0M2588.3 1624.5h0M2588.4 1627.7h0M2588.6 1631.0h0M2589.4 1634.3h0M2589.5 1637.6h0M2587.9 1640.9h0M2588.6 1644.2h0M2589.5 1647.5h0M2588.8 1650.8h0M2588.5 1654.1h0M2588.4 1657.4h0M2587.5 1660.7h0M2587.7 1664.0h0M2587.8 1667.3h0M2587.1 1670.6h0M2587.7 1673.9h0M2594.8 1642.0h0M2595.3 1645.4h0M2595.5 1648.9h0M2594.5 1652.3h0M2594.0 1655.8h0M2594.3 1659.2h0M2594.9 1662.7h0M2595.3 1666.1h0M2594.2 1669.5h0M2595.7 1673.0h0M2594.0 1676.4h0M2605.2 1597.3h0M2605.2 1600.6h0M2605.1 1603.9h0M2604.7 1607.1h0M2603.4 1610.4h0M2603.7 1613.7h0M2603.6 1616.9h0M2602.7 1620.2h0M2604.0 1623.5h0M2602.7 1626.7h0M2602.2 1630.0h0M2602.3 1633.3h0M2601.9 1636.5h0M2601.9 1639.8h0M2603.3 1643.1h0M2602.0 1646.3h0M2601.7 1649.6h0M2601.7 1652.9h0M2602.8 1656.1h0M2601.7 1659.4h0M2603.1 1662.7h0M2602.5 1665.9h0M2602.3 1669.2h0M2602.1 1672.4h0M2603.2 1675.7h0M2603.4 1679.0h0M2610.5 1620.3h0M2611.1 1623.6h0M2610.3 1626.9h0M2610.5 1630.1h0M2611.7 1633.4h0M2611.2 1636.7h0M2612.2 1640.0h0M2611.0 1643.3h0M2611.7 1646.5h0M2610.9 1649.8h0M2611.7 1653.1h0M2611.1 1656.4h0M2611.2 1659.7h0M2612.6 1662.9h0M2610.8 1666.2h0M2612.2 1669.5h0M2611.5 1672.8h0M2612.3 1676.1h0M2612.1 1679.3h0M2611.3 1682.6h0M2611.6 1685.9h0M2612.9 1689.2h0M2613.0 1692.5h0M2611.5 1695.7h0M2612.4 1699.0h0M2612.1 1702.3h0M2611.9 1705.6h0M2612.9 1708.9h0M2611.7 1712.1h0M2612.7 1715.4h0M2611.6 1718.7h0M2611.8 1722.0h0M2611.6 1725.3h0M2611.8 1728.5h0M2613.4 1731.8h0M2613.0 1735.1h0M2612.8 1735.1h0M2611.9 1738.7h0M2611.6 1742.2h0M2612.8 1745.8h0M2611.6 1749.4h0M2612.1 1753.0h0M2618.2 1612.7h0M2618.0 1615.9h0M2617.0 1619.1h0M2618.1 1622.3h0M2618.0 1625.5h0M2618.6 1628.8h0M2618.8 1632.0h0M2618.6 1635.2h0M2619.6 1638.4h0M2618.5 1641.7h0M2618.6 1644.9h0M2619.5 1648.1h0M2620.2 1651.3h0M2618.9 1654.5h0M2619.9 1657.8h0M2620.1 1661.0h0M2619.4 1664.2h0M2620.4 1667.4h0M2619.9 1670.7h0M2619.7 1673.9h0M2623.8 1703.2h0M2623.0 1706.5h0M2623.3 1709.9h0M2623.4 1713.2h0M2623.6 1716.5h0M2622.4 1719.8h0M2622.4 1723.2h0M2623.5 1726.5h0M2622.6 1729.8h0M2622.5 1733.2h0M2622.3 1736.5h0M2623.2 1739.8h0M2623.3 1743.1h0M2622.8 1746.5h0M2624.2 1749.8h0M2622.8 1753.1h0M2623.2 1756.4h0M2623.1 1759.8h0M2623.5 1763.1h0M2624.6 1766.4h0M2624.8 1769.7h0M2623.5 1773.1h0M2623.9 1776.4h0M2623.5 1779.7h0M2624.7 1783.1h0M2624.8 1786.4h0M2632.7 1613.9h0M2633.9 1617.2h0M2632.9 1620.4h0M2633.7 1623.7h0M2633.7 1627.0h0M2634.0 1630.2h0M2633.6 1633.5h0M2633.3 1636.7h0M2634.2 1640.0h0M2633.4 1643.3h0M2634.5 1646.5h0M2634.1 1649.8h0M2633.6 1653.0h0M2633.4 1656.3h0M2634.1 1659.6h0M2633.8 1662.8h0M2633.7 1666.1h0M2633.5 1669.3h0M2633.6 1672.6h0M2635.1 1675.9h0M2635.3 1679.1h0M2634.9 1682.4h0M2634.2 1685.6h0M2633.7 1688.9h0M2635.2 1692.2h0M2634.5 1695.4h0M2635.3 1698.7h0M2634.6 1701.9h0M2633.0 1701.9h0M2632.2 1705.2h0M2633.0 1708.4h0M2633.9 1711.7h0M2632.5 1714.9h0M2633.1 1718.2h0M2633.3 1721.4h0M2633.5 1724.7h0M2632.5 1727.9h0M2634.1 1731.2h0M2632.8 1734.4h0M2634.0 1737.7h0M2633.5 1740.9h0M2633.8 1744.1h0M2632.9 1747.4h0M2633.5 1750.6h0M2633.4 1753.9h0M2633.3 1757.1h0M2633.2 1760.4h0M2633.8 1763.6h0M2634.6 1766.9h0M2633.4 1770.1h0M2634.6 1773.4h0M2641.7 1724.9h0M2641.7 1728.2h0M2642.2 1731.4h0M2641.7 1734.7h0M2641.0 1738.0h0M2641.8 1741.3h0M2641.6 1744.6h0M2641.6 1747.8h0M2642.4 1751.1h0M2641.1 1754.4h0M2642.6 1757.7h0M2641.3 1760.9h0M2642.1 1764.2h0M2641.6 1767.5h0M2642.4 1770.8h0M2642.1 1774.0h0M2643.0 1777.3h0M2642.7 1780.6h0M2643.3 1783.9h0M2642.4 1787.1h0M2642.3 1790.4h0M2642.6 1793.7h0M2643.2 1797.0h0M2643.2 1800.2h0M2644.0 1803.5h0M2642.5 1806.8h0M2647.2 1689.2h0M2648.5 1692.4h0M2647.6 1695.7h0M2649.4 1698.9h0M2648.1 1702.1h0M2648.7 1705.4h0M2648.7 1708.6h0M2648.4 1711.8h0M2649.2 1715.1h0M2649.4 1718.3h0M2648.7 1721.6h0M2648.6 1724.8h0M2648.5 1728.0h0M2649.0 1731.3h0M2649.9 1734.5h0M2648.6 1737.8h0M2649.0 1741.0h0M2649.0 1744.2h0M2648.6 1747.5h0M2649.4 1750.7h0M2648.2 1753.9h0M2648.0 1757.2h0M2648.9 1760.4h0M2647.1 1763.7h0M2648.1 1766.9h0M2647.7 1770.1h0M2647.4 1773.4h0M2655.6 1642.0h0M2655.2 1645.3h0M2655.6 1648.6h0M2655.7 1651.9h0M2655.4 1655.3h0M2655.2 1658.6h0M2654.2 1661.9h0M2654.8 1665.2h0M2654.7 1668.5h0M2654.4 1671.8h0M2654.4 1675.2h0M2654.4 1678.5h0M2654.7 1681.8h0M2654.8 1685.1h0M2654.7 1688.4h0M2654.5 1691.7h0M2653.3 1695.1h0M2654.7 1698.4h0M2654.5 1701.7h0M2653.4 1705.0h0M2654.6 1708.3h0M2654.4 1711.6h0M2653.1 1714.9h0M2652.9 1718.3h0M2652.8 1721.6h0M2654.1 1724.9h0M2655.7 1735.1h0M2655.2 1738.4h0M2655.8 1741.7h0M2656.2 1744.9h0M2655.3 1748.2h0M2654.9 1751.5h0M2654.9 1754.8h0M2654.8 1758.0h0M2654.7 1761.3h0M2654.2 1764.6h0M2654.8 1767.9h0M2654.2 1771.1h0M2653.8 1774.4h0M2654.0 1777.7h0M2654.4 1781.0h0M2654.2 1784.2h0M2653.7 1787.5h0M2654.6 1790.8h0M2653.0 1794.1h0M2653.6 1797.3h0M2653.3 1800.6h0M2654.4 1803.9h0M2654.4 1807.2h0M2653.5 1810.4h0M2654.5 1813.7h0M2654.3 1817.0h0M2662.6 1635.6h0M2663.5 1638.9h0M2662.8 1642.2h0M2664.1 1645.5h0M2664.2 1648.8h0M2663.7 1652.1h0M2664.3 1655.5h0M2664.5 1658.8h0M2664.5 1662.1h0M2664.5 1665.4h0M2664.1 1668.7h0M2665.5 1672.0h0M2665.4 1675.3h0M2664.9 1678.6h0M2664.3 1681.9h0M2664.1 1685.2h0M2665.5 1688.5h0M2665.6 1691.8h0M2665.0 1695.1h0M2663.8 1698.4h0M2664.3 1701.7h0M2664.5 1705.1h0M2663.9 1708.4h0M2663.4 1711.7h0M2664.4 1715.0h0M2664.7 1718.3h0M2663.2 1721.6h0M2663.4 1724.9h0M2669.9 1704.5h0M2671.7 1707.7h0M2670.6 1711.0h0M2670.3 1714.2h0M2671.0 1717.4h0M2671.1 1720.7h0M2672.1 1723.9h0M2670.9 1727.1h0M2671.2 1730.4h0M2671.0 1733.6h0M2672.0 1736.8h0M2671.1 1740.1h0M2671.9 1743.3h0M2671.9 1746.5h0M2672.7 1749.8h0M2672.6 1753.0h0M2672.0 1756.2h0M2671.3 1759.5h0M2672.5 1762.7h0M2671.9 1765.9h0M2672.9 1769.2h0M2672.1 1772.4h0M2671.8 1775.6h0M2672.4 1778.8h0M2673.4 1782.1h0M2673.1 1785.3h0M2673.2 1788.5h0M2672.8 1791.8h0M2671.8 1795.0h0M2672.3 1798.2h0M2673.2 1801.5h0M2672.0 1804.7h0M2672.9 1807.9h0M2673.4 1811.2h0M2672.6 1814.4h0M2672.5 1817.6h0M2671.9 1820.9h0M2673.1 1824.1h0M2672.2 1827.3h0M2671.9 1830.6h0M2672.3 1833.8h0M2672.3 1837.0h0M2671.8 1840.3h0M2673.3 1843.5h0M2673.4 1846.7h0M2672.3 1850.0h0M2673.2 1853.2h0M2672.3 1856.4h0M2672.3 1859.7h0M2671.9 1862.9h0M2677.4 1619.0h0M2677.2 1622.3h0M2677.8 1625.5h0M2677.7 1628.7h0M2677.1 1631.9h0M2678.2 1635.2h0M2677.7 1638.4h0M2677.5 1641.6h0M2677.9 1644.9h0M2677.3 1648.1h0M2677.1 1651.3h0M2678.2 1654.5h0M2677.4 1657.8h0M2678.6 1661.0h0M2677.2 1664.2h0M2677.7 1667.4h0M2678.6 1670.7h0M2677.6 1673.9h0M2677.9 1677.1h0M2678.9 1680.4h0M2678.6 1683.6h0M2679.2 1686.8h0M2679.4 1690.0h0M2678.8 1693.3h0M2678.2 1696.5h0M2679.4 1699.7h0M2678.8 1703.0h0M2679.7 1706.2h0M2678.6 1709.4h0M2679.5 1712.6h0M2679.1 1715.9h0M2678.7 1719.1h0M2679.1 1722.3h0M2679.8 1725.5h0M2679.1 1728.8h0M2680.9 1732.0h0M2680.9 1735.2h0M2679.6 1738.5h0M2679.6 1741.7h0M2679.6 1744.9h0M2681.2 1748.1h0M2680.0 1751.4h0M2680.9 1754.6h0M2680.4 1757.8h0M2680.7 1761.1h0M2681.8 1764.3h0M2681.5 1767.5h0M2681.7 1770.7h0M2681.4 1774.0h0M2681.5 1777.2h0M2681.2 1780.4h0M2682.1 1783.6h0M2681.9 1786.9h0M2681.8 1790.1h0M2680.9 1793.3h0M2682.3 1796.6h0M2682.4 1799.8h0M2682.0 1803.0h0M2681.5 1806.2h0M2682.0 1809.5h0M2681.5 1812.7h0M2682.4 1815.9h0M2682.2 1819.2h0M2682.1 1822.4h0M2682.1 1825.6h0M2681.4 1828.8h0M2682.9 1832.1h0M2681.5 1835.3h0M2682.0 1838.5h0M2682.0 1841.7h0M2682.4 1845.0h0M2682.8 1848.2h0M2681.8 1851.4h0M2686.7 1709.6h0M2687.6 1712.8h0M2687.0 1716.1h0M2687.1 1719.4h0M2687.3 1722.6h0M2686.9 1725.9h0M2686.7 1729.1h0M2687.8 1732.4h0M2688.2 1735.6h0M2687.8 1738.9h0M2687.6 1742.1h0M2687.7 1745.4h0M2687.2 1748.7h0M2687.2 1751.9h0M2688.4 1755.2h0M2686.9 1758.4h0M2687.2 1761.7h0M2687.3 1764.9h0M2688.0 1768.2h0M2688.0 1771.4h0M2688.0 1774.7h0M2687.6 1778.0h0M2687.7 1781.2h0M2687.1 1784.5h0M2687.5 1787.7h0M2686.7 1791.0h0M2686.7 1794.2h0M2687.4 1797.5h0M2686.3 1800.7h0M2686.3 1804.0h0M2685.7 1807.3h0M2686.6 1810.5h0M2687.0 1813.8h0M2686.0 1817.0h0M2686.7 1820.3h0M2686.7 1823.5h0M2686.7 1826.8h0M2686.0 1830.0h0M2685.5 1833.3h0M2686.8 1836.6h0M2686.7 1839.8h0M2687.0 1843.1h0M2685.9 1846.3h0M2691.5 1689.2h0M2691.5 1692.4h0M2691.8 1695.6h0M2692.2 1698.8h0M2692.4 1702.0h0M2692.8 1705.3h0M2691.5 1708.5h0M2691.8 1711.7h0M2691.9 1714.9h0M2692.2 1718.1h0M2692.7 1721.3h0M2692.6 1724.6h0M2692.3 1727.8h0M2691.5 1731.0h0M2691.4 1734.2h0M2692.8 1737.4h0M2692.6 1740.6h0M2691.8 1743.9h0M2692.3 1747.1h0M2691.6 1750.3h0M2692.5 1753.5h0M2691.8 1756.7h0M2692.6 1759.9h0M2692.7 1763.2h0M2692.2 1766.4h0M2691.7 1769.6h0M2692.3 1772.8h0M2692.6 1776.0h0M2691.4 1779.2h0M2691.4 1782.5h0M2691.0 1785.7h0M2692.0 1788.9h0M2690.9 1792.1h0M2691.8 1795.3h0M2692.1 1798.5h0M2691.5 1801.8h0M2690.5 1805.0h0M2691.2 1808.2h0M2690.4 1811.4h0M2690.8 1814.6h0M2690.3 1817.8h0M2690.7 1821.1h0M2691.2 1824.3h0M2690.3 1827.5h0M2690.5 1830.7h0M2690.1 1833.9h0M2690.1 1837.1h0M2697.1 1732.6h0M2697.9 1735.8h0M2697.8 1739.1h0M2697.8 1742.3h0M2698.4 1745.6h0M2696.9 1748.8h0M2697.3 1752.1h0M2697.6 1755.4h0M2697.2 1758.6h0M2698.2 1761.9h0M2697.6 1765.1h0M2697.2 1768.4h0M2697.7 1771.7h0M2698.5 1774.9h0M2699.3 1778.2h0M2698.9 1781.4h0M2698.8 1784.7h0M2699.8 1788.0h0M2699.9 1791.2h0M2711.8 1760.6h0M2712.4 1763.9h0M2711.7 1767.1h0M2712.0 1770.4h0M2711.7 1773.7h0M2712.0 1776.9h0M2711.0 1780.2h0M2710.9 1783.4h0M2711.0 1786.7h0M2711.1 1789.9h0M2711.1 1793.2h0M2711.8 1796.5h0M2711.0 1799.7h0M2711.1 1803.0h0M2710.7 1806.2h0M2710.1 1809.5h0M2710.3 1812.8h0M2710.4 1816.0h0M2709.1 1819.3h0M2719.9 1793.8h0M2720.6 1797.1h0M2721.3 1800.5h0M2719.8 1803.8h0M2721.4 1807.2h0M2720.8 1810.6h0M2720.5 1813.9h0M2720.9 1817.3h0M2719.8 1820.6h0M2720.5 1824.0h0M2720.6 1827.3h0M2720.8 1830.7h0M2721.3 1834.0h0M2721.2 1837.4h0M2723.2 1717.2h0M2722.8 1720.5h0M2724.2 1723.8h0M2723.3 1727.0h0M2722.5 1730.3h0M2723.7 1733.5h0M2722.1 1736.8h0M2723.2 1740.0h0M2722.4 1743.3h0M2722.9 1746.5h0M2721.7 1749.8h0M2722.6 1753.0h0M2722.9 1756.3h0M2721.5 1759.6h0M2721.2 1762.8h0M2721.8 1766.1h0M2721.6 1769.3h0M2721.8 1772.6h0M2721.1 1775.8h0M2721.7 1779.1h0M2722.2 1782.3h0M2720.5 1785.6h0M2720.7 1788.8h0M2722.2 1792.1h0M2721.1 1795.4h0M2721.2 1798.6h0M2721.2 1801.9h0M2722.2 1805.1h0M2722.2 1808.4h0M2721.3 1811.6h0M2731.7 1699.4h0M2731.2 1702.6h0M2731.2 1705.8h0M2731.1 1709.1h0M2731.4 1712.3h0M2730.3 1715.5h0M2730.3 1718.7h0M2731.2 1722.0h0M2730.9 1725.2h0M2730.9 1728.4h0M2731.5 1731.7h0M2730.7 1734.9h0M2730.8 1738.1h0M2731.2 1741.3h0M2730.3 1744.6h0M2730.9 1747.8h0M2730.1 1751.0h0M2731.3 1754.2h0M2730.9 1757.5h0M2730.2 1760.7h0M2730.5 1763.9h0M2729.6 1767.1h0M2729.3 1770.4h0M2729.7 1773.6h0M2730.3 1776.8h0M2730.6 1780.0h0M2729.4 1783.3h0M2729.3 1786.5h0M2730.5 1789.7h0M2730.4 1793.0h0M2729.8 1796.2h0M2728.9 1799.4h0M2729.9 1802.6h0M2729.5 1805.9h0M2728.7 1809.1h0M2740.0 1716.0h0M2740.5 1719.2h0M2740.5 1722.5h0M2740.2 1725.8h0M2740.0 1729.0h0M2740.0 1732.3h0M2740.4 1735.6h0M2741.1 1738.9h0M2741.6 1742.1h0M2740.7 1745.4h0M2740.8 1748.7h0M2741.6 1751.9h0M2741.8 1755.2h0M2740.3 1758.5h0M2741.0 1761.7h0M2740.7 1765.0h0M2741.4 1768.3h0M2742.0 1771.5h0M2741.3 1774.8h0M2741.4 1778.1h0M2741.3 1781.4h0M2740.7 1784.6h0M2741.5 1787.9h0M2741.2 1791.2h0M2740.2 1794.4h0M2741.1 1797.7h0M2740.2 1801.0h0M2741.2 1804.2h0M2747.0 1705.8h0M2748.3 1709.1h0M2747.8 1712.3h0M2747.8 1715.6h0M2746.9 1718.9h0M2747.0 1722.2h0M2746.7 1725.5h0M2747.3 1728.8h0M2746.6 1732.1h0M2746.0 1735.4h0M2745.2 1738.7h0M2745.2 1741.9h0M2745.3 1745.2h0M2745.5 1748.5h0M2746.2 1751.8h0M2745.8 1755.1h0M2744.6 1758.4h0M2746.2 1761.7h0M2744.8 1765.0h0M2744.7 1768.3h0M2755.1 1719.8h0M2754.3 1723.0h0M2753.8 1726.3h0M2754.2 1729.5h0M2753.7 1732.8h0M2753.2 1736.0h0M2754.6 1739.3h0M2753.6 1742.5h0M2754.3 1745.8h0M2754.0 1749.0h0M2753.3 1752.2h0M2753.6 1755.5h0M2753.9 1758.7h0M2753.8 1762.0h0M2753.8 1765.2h0M2753.1 1768.5h0M2753.4 1771.7h0M2753.7 1775.0h0M2753.5 1778.2h0M2753.4 1781.4h0M2752.7 1784.7h0M2753.9 1787.9h0M2752.9 1791.2h0M2753.5 1794.4h0M2753.1 1797.7h0M2754.1 1800.9h0M2753.9 1804.1h0M2754.5 1807.4h0M2754.4 1810.6h0M2753.8 1813.9h0M2754.0 1817.1h0M2754.4 1820.4h0M2753.8 1823.6h0M2754.0 1826.9h0M2754.3 1830.1h0M2755.0 1833.3h0M2755.9 1836.6h0M2754.6 1839.8h0M2754.6 1843.1h0M2755.3 1846.3h0M2761.7 1847.3h0M2761.4 1850.5h0M2761.6 1853.8h0M2762.3 1857.0h0M2763.0 1860.2h0M2763.0 1863.4h0M2763.3 1866.6h0M2763.4 1869.8h0M2762.4 1873.0h0M2764.0 1876.2h0M2762.7 1879.4h0M2763.1 1882.6h0M2763.9 1885.8h0M2763.2 1889.0h0M2764.6 1892.2h0M2764.5 1895.4h0M2765.3 1898.6h0M2765.2 1901.8h0M2765.1 1905.0h0M2774.3 1684.1h0M2775.2 1687.4h0M2773.8 1690.6h0M2774.8 1693.9h0M2775.0 1697.2h0M2773.5 1700.5h0M2774.5 1703.8h0M2774.3 1707.0h0M2774.3 1710.3h0M2774.4 1713.6h0M2773.5 1716.9h0M2774.6 1720.2h0M2774.3 1723.4h0M2772.8 1726.7h0M2773.6 1730.0h0M2779.6 1768.3h0M2780.7 1771.6h0M2780.7 1775.0h0M2780.4 1778.4h0M2781.3 1781.7h0M2779.9 1785.1h0M2781.3 1788.5h0M2781.6 1791.8h0M2779.9 1795.2h0M2781.6 1798.5h0M2781.5 1801.9h0M2781.2 1805.3h0M2781.3 1808.6h0M2781.5 1812.0h0M2781.3 1815.4h0M2779.9 1818.7h0M2781.3 1822.1h0M2786.9 1676.4h0M2787.1 1679.8h0M2787.6 1683.2h0M2787.5 1686.6h0M2786.1 1690.0h0M2786.2 1693.4h0M2787.7 1696.8h0M2786.9 1700.2h0M2786.6 1703.6h0M2787.3 1707.0h0M2786.5 1710.4h0M2787.1 1713.8h0M2787.7 1717.2h0M2792.0 1612.7h0M2791.8 1615.9h0M2791.1 1619.2h0M2791.3 1622.4h0M2792.3 1625.7h0M2791.8 1628.9h0M2790.9 1632.2h0M2791.6 1635.4h0M2792.0 1638.7h0M2792.1 1642.0h0M2792.9 1645.2h0M2792.8 1648.5h0M2793.0 1651.7h0M2792.8 1655.0h0M2793.1 1658.2h0M2792.2 1661.5h0M2792.8 1664.8h0M2792.3 1668.0h0M2793.8 1671.3h0M2792.6 1674.5h0M2792.9 1677.8h0M2792.8 1681.0h0M2793.1 1684.3h0M2794.3 1687.6h0M2793.9 1690.8h0M2793.8 1694.1h0M2794.1 1697.3h0M2792.8 1700.6h0M2792.9 1703.8h0M2793.8 1707.1h0M2793.8 1710.4h0M2793.4 1713.6h0M2792.8 1716.9h0M2792.3 1720.1h0M2793.0 1723.4h0M2793.0 1726.6h0M2791.8 1729.9h0M2793.3 1733.1h0M2792.5 1736.4h0M2791.5 1739.7h0M2792.0 1742.9h0M2792.6 1746.2h0M2791.3 1749.4h0M2792.0 1752.7h0M2790.7 1755.9h0M2790.7 1759.2h0M2791.1 1762.5h0M2790.7 1765.7h0M2798.2 1747.9h0M2797.7 1751.1h0M2796.6 1754.4h0M2796.5 1757.6h0M2797.7 1760.9h0M2796.1 1764.1h0M2795.7 1767.4h0M2796.2 1770.6h0M2797.0 1773.9h0M2796.6 1777.1h0M2795.1 1780.4h0M2795.3 1783.7h0M2795.7 1786.9h0M2795.7 1790.2h0M2795.8 1793.4h0M2794.9 1796.7h0M2795.5 1799.9h0M2794.7 1803.2h0M2794.5 1806.4h0M2794.4 1809.7h0M2795.7 1812.9h0M2795.1 1816.2h0M2794.4 1819.5h0M2795.1 1822.7h0M2794.7 1826.0h0M2794.4 1829.2h0M2793.6 1832.5h0M2794.6 1835.7h0M2793.9 1839.0h0M2794.2 1842.2h0M2794.0 1845.5h0M2793.6 1848.7h0M2794.4 1852.0h0M2794.4 1855.3h0M2805.9 1719.8h0M2805.7 1723.1h0M2805.3 1726.3h0M2806.5 1729.6h0M2806.5 1732.8h0M2805.2 1736.1h0M2804.5 1739.3h0M2804.6 1742.6h0M2804.8 1745.8h0M2804.4 1749.1h0M2804.3 1752.4h0M2803.0 1755.6h0M2803.9 1758.9h0M2802.6 1762.1h0M2804.0 1765.4h0M2803.5 1768.6h0M2802.4 1771.9h0M2802.0 1775.1h0M2803.2 1778.4h0M2801.7 1781.7h0M2801.8 1784.9h0M2801.5 1788.2h0M2802.6 1791.4h0M2802.6 1794.7h0M2802.0 1797.9h0M2802.0 1801.2h0M2801.5 1804.4h0M2801.7 1807.7h0M2801.1 1811.0h0M2802.3 1814.2h0M2802.3 1817.5h0M2801.6 1820.7h0M2801.9 1824.0h0M2801.7 1827.2h0M2802.5 1830.5h0M2801.5 1833.7h0M2801.1 1837.0h0M2801.4 1840.3h0M2802.9 1843.5h0M2802.4 1846.8h0M2801.4 1850.0h0M2801.6 1853.3h0M2801.8 1856.5h0M2815.0 1760.6h0M2814.7 1763.8h0M2814.7 1767.0h0M2814.9 1770.2h0M2815.5 1773.4h0M2814.9 1776.6h0M2814.7 1779.8h0M2814.9 1783.0h0M2814.9 1786.2h0M2815.6 1789.4h0M2815.9 1792.6h0M2815.8 1795.8h0M2814.6 1799.0h0M2814.8 1802.3h0M2815.5 1805.5h0M2814.5 1808.7h0M2814.7 1811.9h0M2814.3 1815.1h0M2813.7 1818.3h0M2820.2 1694.3h0M2820.9 1697.5h0M2821.5 1700.7h0M2820.2 1703.9h0M2819.7 1707.1h0M2819.8 1710.3h0M2819.4 1713.5h0M2820.4 1716.7h0M2818.7 1719.9h0M2819.1 1723.1h0M2819.5 1726.4h0M2819.2 1729.6h0M2819.2 1732.8h0M2818.7 1736.0h0M2818.2 1739.2h0M2818.1 1742.4h0M2818.1 1745.6h0M2817.9 1748.8h0M2818.3 1752.0h0M2819.3 1755.2h0M2818.7 1758.4h0M2819.3 1761.6h0M2818.8 1764.8h0M2818.6 1768.0h0M2819.4 1771.3h0M2819.5 1774.5h0M2820.3 1777.7h0M2820.5 1780.9h0M2820.6 1784.1h0M2819.8 1787.3h0M2821.4 1790.5h0M2821.5 1793.7h0M2821.0 1796.9h0M2820.7 1800.1h0M2822.3 1803.3h0M2821.6 1806.5h0M2826.8 1796.3h0M2825.9 1799.6h0M2827.3 1802.9h0M2826.7 1806.1h0M2826.7 1809.4h0M2827.1 1812.7h0M2825.5 1815.9h0M2827.0 1819.2h0M2826.0 1822.4h0M2826.0 1825.7h0M2825.7 1829.0h0M2825.7 1832.2h0M2826.7 1835.5h0M2826.0 1838.8h0M2825.1 1842.0h0M2825.4 1845.3h0M2825.1 1848.6h0M2826.1 1851.8h0M2824.9 1855.1h0M2826.1 1858.4h0M2825.5 1861.6h0M2828.0 1643.3h0M2828.8 1646.7h0M2829.8 1650.2h0M2828.3 1653.7h0M2828.5 1657.2h0M2829.7 1660.7h0M2830.3 1664.1h0M2830.0 1667.6h0M2830.5 1671.1h0M2830.1 1674.6h0M2829.5 1678.1h0M2830.0 1681.5h0M2832.3 1689.2h0M2831.4 1692.6h0M2831.8 1696.0h0M2832.7 1699.4h0M2837.5 1717.2h0M2838.3 1720.5h0M2838.6 1723.7h0M2839.3 1727.0h0M2838.5 1730.2h0M2838.2 1733.4h0M2839.3 1736.7h0M2838.9 1739.9h0M2839.7 1743.2h0M2840.4 1746.4h0M2840.8 1749.6h0M2840.2 1752.9h0M2840.3 1756.1h0M2841.5 1759.4h0M2841.5 1762.6h0M2841.7 1765.8h0M2841.2 1769.1h0M2841.5 1772.3h0M2842.0 1775.6h0M2841.1 1778.8h0M2841.7 1782.0h0M2842.2 1785.3h0M2842.7 1788.5h0M2841.7 1791.8h0M2842.9 1795.0h0M2842.0 1798.2h0M2841.6 1801.5h0M2841.0 1804.7h0M2841.6 1808.0h0M2841.7 1811.2h0M2841.5 1814.4h0M2848.7 1750.4h0M2847.4 1753.7h0M2847.8 1757.0h0M2847.7 1760.3h0M2846.9 1763.5h0M2846.8 1766.8h0M2846.4 1770.1h0M2847.2 1773.4h0M2846.3 1776.7h0M2846.9 1780.0h0M2846.6 1783.2h0M2846.1 1786.5h0M2847.0 1789.8h0M2847.3 1793.1h0M2846.8 1796.4h0M2846.9 1799.7h0M2847.3 1802.9h0M2846.2 1806.2h0M2847.3 1809.5h0M2846.3 1812.8h0M2846.8 1816.1h0M2847.2 1819.4h0M2847.3 1822.6h0M2847.7 1825.9h0M2852.0 1704.5h0M2852.7 1707.9h0M2853.3 1711.3h0M2853.5 1714.7h0M2852.7 1718.1h0M2853.7 1721.5h0M2853.5 1724.9h0M2853.1 1728.3h0M2852.7 1731.7h0M2853.7 1735.1h0M2867.3 1571.8h0M2867.5 1575.2h0M2867.0 1578.6h0M2866.7 1582.0h0M2867.2 1585.4h0M2868.0 1588.8h0M2867.9 1592.2h0M2867.7 1595.6h0M2867.7 1599.0h0M2867.1 1602.4h0M2877.8 1684.1h0M2878.1 1687.4h0M2877.1 1690.8h0M2877.1 1694.2h0M2877.6 1697.5h0M2877.1 1700.9h0M2877.4 1704.2h0M2877.1 1707.6h0M2877.7 1710.9h0M2877.6 1714.3h0M2876.6 1717.6h0M2876.9 1721.0h0M2877.2 1724.4h0M2876.9 1727.7h0M2877.1 1731.1h0M2877.0 1734.4h0M2876.4 1737.8h0M2876.4 1741.1h0M2875.2 1744.5h0M2875.4 1747.9h0M2300.4 1723.8h0M2300.5 1734.4h0M2299.8 1745.9h0M2300.5 1755.0h0M2300.0 1764.4h0M2300.1 1775.3h0M2299.8 1784.5h0M2300.9 1794.9h0M2299.9 1804.0h0M2300.1 1814.3h0M2447.7 1720.9h0M2447.8 1733.3h0M2448.0 1743.0h0M2447.3 1754.0h0M2447.3 1765.2h0M2448.1 1775.7h0M2448.0 1787.2h0M2447.5 1798.3h0M2550.8 1536.3h0M2550.4 1546.1h0M2550.4 1559.4h0M2550.6 1570.2h0M2549.8 1582.9h0M2678.0 1540.6h0M2678.0 1552.5h0M2677.5 1564.8h0M2678.3 1573.8h0M2677.6 1586.8h0M2677.9 1596.0h0M2678.4 1606.5h0M2709.4 1825.7h0M2709.2 1836.7h0M2710.3 1846.2h0M2710.5 1856.1h0M2709.6 1864.7h0M2709.7 1875.6h0M2709.8 1885.5h0M2710.0 1896.1h0M2868.6 1570.6h0M2869.2 1574.1h0M2868.3 1577.6h0M2868.8 1581.0h0M2869.2 1584.5h0M2869.8 1588.0h0M2868.9 1591.4h0M2870.1 1594.9h0M2870.1 1598.4h0M2870.7 1601.8h0M2870.0 1605.3h0M2905.6 1561.4h0M2905.7 1564.9h0M2906.6 1568.3h0M2905.3 1571.7h0M2905.9 1575.2h0M2906.7 1578.6h0M2907.0 1582.0h0M2906.1 1585.5h0M2906.9 1588.9h0M2906.6 1592.3h0M2906.7 1595.8h0M2906.6 1599.2h0M2975.1 1525.7h0M2975.3 1529.1h0M2974.5 1532.4h0M2974.0 1535.8h0M2974.8 1539.2h0M2973.4 1542.5h0M2973.4 1545.9h0M2973.4 1549.2h0M2973.8 1552.6h0M2974.8 1556.0h0M2973.7 1559.3h0M2974.9 1562.7h0M2974.5 1566.1h0M2974.5 1569.4h0M2975.1 1572.8h0M2974.2 1576.1h0M2975.1 1579.5h0M2973.6 1582.9h0M2999.8 1563.5h0M2998.6 1566.8h0M2999.1 1570.1h0M2998.5 1573.4h0M2997.9 1576.7h0M2998.9 1580.1h0M2997.9 1583.4h0M2997.4 1586.7h0M2998.0 1590.0h0M2997.7 1593.3h0M2997.0 1596.6h0M2997.8 1599.9h0M2997.8 1603.3h0M3004.3 1479.8h0M3003.8 1483.1h0M3004.7 1486.4h0M3004.9 1489.7h0M3003.8 1493.0h0M3004.5 1496.3h0M3004.0 1499.6h0M3005.3 1502.9h0M3004.4 1506.2h0M3005.5 1509.5h0M3005.5 1512.8h0M3005.2 1516.1h0M3004.2 1519.4h0M3004.3 1522.7h0M3005.2 1526.0h0M3005.5 1529.3h0M3006.1 1532.6h0M3006.1 1535.9h0M3468.6 1501.7h0M3468.5 1504.9h0M3468.8 1508.2h0M3468.6 1511.4h0M3469.9 1514.7h0M3468.4 1517.9h0M3469.5 1521.2h0M3469.2 1524.4h0M3469.5 1527.7h0M3468.5 1530.9h0M3470.0 1534.1h0M3468.7 1537.4h0M3470.1 1540.6h0M3470.1 1543.9h0M3468.5 1547.1h0M3469.7 1550.4h0M3469.6 1553.6h0M3469.7 1556.9h0M3469.5 1560.1h0M3469.6 1563.4h0M3469.3 1566.6h0M3469.4 1569.8h0M3470.7 1573.1h0M3469.5 1576.3h0M3470.7 1579.6h0M3470.3 1582.8h0M3471.1 1586.1h0M3470.3 1589.3h0M3471.6 1592.6h0M3471.0 1595.8h0M2971.7 1581.6h0M2971.6 1591.8h0M2972.3 1604.4h0M2972.5 1614.8h0M2971.2 1623.6h0M2971.2 1634.5h0M2971.1 1643.0h0M3184.9 1593.9h0M3184.2 1606.8h0M3185.3 1615.1h0M3184.9 1627.9h0M3185.2 1638.8h0M3185.1 1596.2h0M3184.6 1605.9h0M3183.9 1616.8h0M3184.4 1627.1h0M3185.2 1639.3h0M3184.5 1668.6h0M3184.1 1671.8h0M3185.0 1675.0h0M3184.3 1678.2h0M3185.0 1681.4h0M3184.0 1684.6h0M3185.4 1687.8h0M3185.0 1691.0h0M3184.4 1694.2h0M3184.5 1697.4h0M3184.7 1700.6h0M3185.3 1703.8h0M3185.0 1707.1h0M3184.5 1710.3h0M3184.1 1713.5h0M3189.9 1695.1h0M3190.8 1698.7h0M3190.3 1702.2h0M3190.7 1705.8h0M3190.2 1709.4h0M3190.5 1713.0h0M3190.6 1716.5h0M3190.4 1720.1h0M3191.7 1723.7h0M3052.5 1321.8h0M3053.0 1325.0h0M3052.8 1328.2h0M3053.7 1331.4h0M3053.0 1334.6h0M3053.3 1337.8h0M3052.7 1341.0h0M3053.9 1344.2h0M3052.8 1347.4h0M3053.3 1350.6h0M3054.4 1353.8h0M3053.4 1357.0h0M3053.4 1360.2h0M3053.7 1363.4h0M3053.4 1366.6h0M3053.9 1369.8h0M3053.1 1373.0h0M3053.1 1376.2h0M3054.0 1379.4h0M3053.5 1382.6h0M3053.0 1385.8h0M3053.7 1389.0h0M3054.7 1392.3h0M3053.2 1395.5h0M3054.5 1398.7h0M3053.4 1401.9h0M3053.9 1405.1h0M3053.9 1408.3h0M3053.4 1411.5h0M3053.9 1414.7h0M3053.9 1417.9h0M3052.7 1421.1h0M3332.3 1498.2h0M3332.3 1501.5h0M3332.6 1504.8h0M3332.8 1508.1h0M3332.5 1511.3h0M3332.7 1514.6h0M3332.9 1517.9h0M3333.3 1521.2h0M3333.3 1524.4h0M3334.4 1527.7h0M3333.7 1531.0h0M3334.5 1534.3h0M3335.1 1537.5h0M3335.2 1540.8h0M3334.9 1544.1h0M3335.4 1547.3h0M3334.9 1550.6h0M3335.6 1553.9h0M3334.2 1557.2h0M3335.5 1560.4h0M3335.2 1563.7h0M3334.9 1567.0h0M3334.6 1570.3h0M3334.9 1573.5h0M3335.6 1576.8h0M3335.1 1580.1h0M3334.5 1583.4h0M3335.2 1586.6h0M3393.9 1453.5h0M3395.3 1456.7h0M3394.0 1460.0h0M3395.4 1463.2h0M3394.4 1466.5h0M3394.1 1469.7h0M3393.9 1473.0h0M3394.9 1476.2h0M3393.7 1479.5h0M3393.6 1482.7h0M3395.0 1485.9h0M3394.4 1489.2h0M3394.2 1492.4h0M3394.5 1495.7h0M3394.0 1498.9h0M3393.5 1502.2h0M3393.6 1505.4h0M3394.2 1508.7h0M3392.5 1511.9h0M3393.0 1515.2h0M3393.6 1518.4h0M3392.4 1521.7h0M3393.0 1524.9h0M3392.2 1528.2h0M3392.4 1531.4h0M3393.2 1534.7h0M3393.0 1537.9h0M3392.2 1541.2h0M3392.3 1544.4h0M3391.9 1547.7h0M3391.7 1550.9h0M3393.2 1554.2h0M3393.2 1557.4h0M3393.3 1560.6h0M3392.0 1563.9h0M3391.8 1567.1h0M3393.1 1570.4h0M3392.7 1573.6h0M3393.1 1576.9h0M3392.6 1580.1h0M3393.6 1583.4h0M3393.0 1586.6h0M3526.4 1494.8h0M3526.5 1498.1h0M3526.9 1501.4h0M3526.0 1504.6h0M3525.9 1507.9h0M3526.0 1511.2h0M3525.9 1514.5h0M3525.9 1517.8h0M3526.0 1521.0h0M3527.3 1524.3h0M3527.3 1527.6h0M3527.0 1530.9h0M3525.8 1534.2h0M3527.5 1537.4h0M3527.4 1540.7h0M3526.2 1544.0h0M3526.5 1547.3h0M3526.4 1550.6h0M3526.8 1553.8h0M3526.7 1557.1h0M3527.1 1560.4h0M3527.0 1563.7h0M3527.6 1567.0h0M3527.1 1570.2h0M3526.4 1573.5h0M3526.9 1576.8h0M3526.4 1580.1h0M3526.9 1583.4h0M3526.5 1586.6h0M3527.0 1589.9h0M3526.8 1593.2h0M3526.6 1596.5h0M3526.0 1599.8h0M3526.0 1603.0h0M3527.1 1606.3h0M3525.5 1609.6h0M3278.6 1481.0h0M3279.9 1484.3h0M3279.0 1487.6h0M3279.8 1490.9h0M3278.8 1494.2h0M3280.4 1497.6h0M3280.3 1500.9h0M3279.6 1504.2h0M3280.1 1507.5h0M3280.5 1510.8h0M3279.1 1514.1h0M3279.6 1517.4h0M3279.0 1520.7h0M3279.1 1524.0h0M3279.5 1527.3h0M3279.8 1530.6h0M3280.3 1533.9h0M3280.4 1537.2h0M3280.1 1540.5h0M3279.3 1543.8h0M3279.3 1547.1h0M3279.3 1550.4h0M3279.4 1553.8h0M3280.0 1557.1h0M3280.0 1560.4h0M3279.6 1563.7h0M3273.2 1504.0h0M3273.6 1507.3h0M3273.8 1510.6h0M3273.9 1513.9h0M3273.4 1517.2h0M3272.3 1520.6h0M3273.9 1523.9h0M3273.6 1527.2h0M3272.2 1530.5h0M3272.3 1533.8h0M3273.2 1537.1h0M3272.6 1540.5h0M3273.5 1543.8h0M3273.4 1547.1h0M3272.3 1550.4h0M3273.0 1553.7h0M3273.6 1557.0h0M3272.2 1560.4h0M3272.4 1563.7h0M3222.0 1529.2h0M3220.9 1532.4h0M3222.3 1535.7h0M3222.7 1538.9h0M3221.9 1542.1h0M3222.8 1545.3h0M3221.8 1548.5h0M3222.3 1551.7h0M3222.2 1554.9h0M3222.6 1558.2h0M3222.2 1561.4h0M3223.5 1564.6h0M3223.3 1567.8h0M3221.9 1571.0h0M3223.6 1574.2h0M3222.8 1577.4h0M3223.3 1580.7h0M3222.7 1583.9h0M3222.2 1587.1h0M3223.4 1590.3h0M3223.0 1593.5h0M3222.6 1596.7h0M3222.3 1599.9h0M3223.5 1603.2h0M3222.4 1606.4h0M3222.5 1609.6h0M3228.4 1522.3h0M3226.6 1525.6h0M3227.0 1528.8h0M3227.9 1532.0h0M3227.8 1535.2h0M3226.6 1538.4h0M3228.4 1541.6h0M3228.3 1544.8h0M3226.6 1548.1h0M3227.4 1551.3h0M3227.4 1554.5h0M3227.9 1557.7h0M3226.0 1560.9h0M3226.5 1564.1h0M3226.0 1567.3h0M3226.5 1570.6h0M3226.3 1573.8h0M3226.2 1577.0h0M3226.1 1580.2h0M3225.4 1583.4h0M3224.8 1586.6h0M3247.7 1522.3h0M3247.2 1525.6h0M3248.3 1528.8h0M3246.8 1532.0h0M3247.7 1535.3h0M3248.0 1538.5h0M3247.3 1541.7h0M3248.2 1545.0h0M3247.8 1548.2h0M3247.9 1551.4h0M3246.7 1554.7h0M3247.4 1557.9h0M3247.0 1561.1h0M3248.0 1564.4h0M3247.7 1567.6h0M3247.6 1570.8h0M3246.5 1574.0h0M3246.8 1577.3h0M3246.6 1580.5h0M3246.9 1583.7h0M3246.9 1587.0h0M3246.6 1590.2h0M3245.3 1593.4h0M3245.5 1596.7h0M3246.6 1599.9h0M3246.3 1603.1h0M3245.4 1606.4h0M3245.0 1609.6h0M3262.9 1537.3h0M3263.1 1540.6h0M3262.6 1543.8h0M3262.7 1547.1h0M3263.5 1550.4h0M3261.7 1553.7h0M3261.5 1557.0h0M3262.8 1560.3h0M3262.8 1563.6h0M3261.1 1566.9h0M3262.1 1570.1h0M3260.7 1573.4h0M3260.8 1576.7h0M3260.5 1580.0h0M3261.7 1583.3h0M3260.3 1586.6h0M3259.9 1589.9h0M3261.3 1593.2h0M3261.0 1596.4h0M3259.6 1599.7h0M3259.8 1603.0h0M3260.0 1606.3h0M3260.0 1609.6h0M3437.9 1526.9h0M3437.4 1530.2h0M3436.7 1533.6h0M3437.8 1536.9h0M3436.9 1540.2h0M3436.4 1543.5h0M3437.5 1546.8h0M3437.3 1550.1h0M3436.3 1553.4h0M3436.9 1556.7h0M3436.8 1560.0h0M3437.9 1563.3h0M3436.9 1566.6h0M3437.1 1569.9h0M3437.4 1573.2h0M3437.0 1576.5h0M3438.5 1579.8h0M3437.5 1583.1h0M3437.3 1586.4h0M3437.5 1589.8h0M3438.3 1593.1h0M3438.8 1596.4h0M3438.3 1599.7h0M3438.2 1603.0h0M3438.7 1606.3h0M3439.3 1609.6h0M3527.5 1490.2h0M3527.5 1493.4h0M3527.0 1496.7h0M3527.3 1499.9h0M3528.4 1503.1h0M3528.5 1506.3h0M3528.6 1509.6h0M3527.7 1512.8h0M3528.5 1516.0h0M3528.4 1519.2h0M3528.8 1522.5h0M3528.9 1525.7h0M3528.7 1528.9h0M3529.2 1532.2h0M3527.8 1535.4h0M3527.6 1538.6h0M3527.7 1541.8h0M3528.1 1545.1h0M3528.0 1548.3h0M3528.0 1551.5h0M3528.2 1554.7h0M3528.6 1558.0h0M3528.4 1561.2h0M3527.9 1564.4h0M3527.9 1567.6h0M3527.9 1570.9h0M3528.5 1574.1h0M3526.8 1577.3h0M3527.9 1580.6h0M3527.0 1583.8h0M3527.2 1587.0h0M3526.7 1590.2h0M3527.2 1593.5h0M3527.3 1596.7h0M3526.4 1599.9h0M3526.5 1603.1h0M3525.7 1606.4h0M3526.7 1609.6h0M3059.0 1540.0h0M3058.6 1543.2h0M3058.9 1546.4h0M3057.8 1549.7h0M3058.5 1552.9h0M3059.0 1556.1h0M3057.9 1559.3h0M3058.3 1562.5h0M3058.5 1565.7h0M3059.7 1569.0h0M3059.2 1572.2h0M3058.9 1575.4h0M3058.9 1578.6h0M3058.4 1581.8h0M3060.1 1585.1h0M3058.7 1588.3h0M3058.7 1591.5h0M3059.5 1594.7h0M3059.7 1597.9h0M3059.1 1601.1h0M3059.4 1604.4h0M3059.1 1607.6h0M3059.6 1610.8h0M3059.8 1614.0h0M3059.2 1617.2h0M3060.0 1620.5h0M3060.6 1623.7h0M3141.6 1555.3h0M3142.0 1558.6h0M3142.3 1561.8h0M3142.3 1565.1h0M3142.3 1568.3h0M3141.8 1571.6h0M3141.4 1574.8h0M3142.1 1578.1h0M3142.3 1581.4h0M3141.3 1584.6h0M3140.9 1587.9h0M3140.7 1591.1h0M3140.4 1594.4h0M3141.5 1597.6h0M3140.1 1600.9h0M3140.3 1604.1h0M3140.6 1607.4h0M3140.2 1610.7h0M3140.6 1613.9h0M3141.2 1617.2h0M3140.8 1620.4h0M3140.3 1623.7h0M3102.4 1557.3h0M3102.5 1560.7h0M3101.5 1564.0h0M3101.6 1567.3h0M3101.7 1570.6h0M3103.3 1573.9h0M3102.2 1577.2h0M3102.3 1580.6h0M3102.0 1583.9h0M3102.0 1587.2h0M3102.0 1590.5h0M3103.0 1593.8h0M3102.6 1597.1h0M3103.3 1600.5h0M3103.8 1603.8h0M3102.4 1607.1h0M3103.0 1610.4h0M3102.9 1613.7h0M3102.5 1617.0h0M3103.0 1620.4h0M3104.2 1623.7h0M2986.6 1578.8h0M2986.9 1582.0h0M2986.2 1585.3h0M2986.7 1588.6h0M2987.4 1591.8h0M2987.2 1595.1h0M2986.5 1598.4h0M2987.9 1601.6h0M2988.2 1604.9h0M2987.0 1608.2h0M2988.3 1611.4h0M2988.4 1614.7h0M2988.3 1618.0h0M2989.0 1621.2h0M2988.1 1624.5h0M2989.8 1627.8h0M2988.6 1631.0h0M2989.1 1634.3h0M2989.1 1637.6h0M2989.7 1640.8h0M2990.5 1644.1h0M3096.3 1562.4h0M3096.7 1565.7h0M3095.9 1568.9h0M3095.8 1572.1h0M3095.5 1575.3h0M3096.7 1578.6h0M3096.8 1581.8h0M3095.4 1585.0h0M3096.8 1588.2h0M3095.8 1591.5h0M3095.4 1594.7h0M3095.7 1597.9h0M3095.9 1601.1h0M3095.9 1604.3h0M3096.6 1607.6h0M3096.1 1610.8h0M3095.5 1614.0h0M3095.5 1617.2h0M3094.7 1620.5h0M3094.4 1623.7h0M2869.0 1686.3h0M2868.9 1689.9h0M2869.0 1693.5h0M2869.7 1697.2h0M2869.6 1700.8h0M2868.7 1704.4h0M2869.4 1708.1h0M2869.2 1711.7h0M2869.7 1715.3h0M2869.3 1719.0h0M2869.2 1722.6h0M2869.4 1726.2h0M2869.1 1729.9h0M2869.2 1733.5h0M2869.6 1737.1h0M2869.0 1740.8h0M2869.0 1744.4h0M2868.9 1748.0h0M2869.1 1751.7h0M2871.1 1685.3h0M2871.4 1688.9h0M2871.2 1692.5h0M2871.8 1696.0h0M2871.7 1699.6h0M2871.6 1703.2h0M2871.0 1706.8h0M2870.9 1710.4h0M2871.0 1714.0h0M2871.6 1717.6h0M2870.8 1721.2h0M2871.4 1724.8h0M2871.7 1728.4h0M2871.4 1732.0h0M2870.9 1735.6h0M2871.6 1739.2h0M2871.6 1742.8h0M2871.2 1746.4h0M2871.4 1750.0h0M2873.9 1696.1h0M2873.2 1699.7h0M2873.5 1703.3h0M2873.4 1706.8h0M2873.1 1710.4h0M2873.2 1714.0h0M2873.0 1717.5h0M2873.6 1721.1h0M2873.6 1724.7h0M2873.0 1728.3h0M2873.8 1731.8h0M2873.4 1735.4h0M2873.6 1739.0h0M2873.2 1742.6h0M2873.6 1746.1h0M2873.6 1749.7h0M2875.3 1675.3h0M2875.0 1678.8h0M2875.1 1682.4h0M2875.8 1685.9h0M2875.6 1689.4h0M2875.9 1693.0h0M2876.0 1696.5h0M2875.0 1700.1h0M2875.1 1703.6h0M2875.0 1707.1h0M2875.0 1710.7h0M2875.4 1714.2h0M2875.8 1717.8h0M2875.7 1721.3h0M2875.6 1724.9h0M2875.7 1728.4h0M2875.9 1731.9h0M2875.8 1735.5h0M2875.1 1739.0h0M2877.1 1677.5h0M2877.3 1681.1h0M2877.6 1684.7h0M2877.6 1688.3h0M2877.5 1691.9h0M2877.7 1695.5h0M2877.4 1699.1h0M2878.0 1702.7h0M2877.7 1706.3h0M2878.0 1709.9h0M2877.7 1713.5h0M2879.7 1648.9h0M2879.2 1652.5h0M2880.0 1656.0h0M2880.1 1659.5h0M2880.1 1663.1h0M2879.2 1666.6h0M2879.4 1670.1h0M2879.7 1673.7h0M2879.3 1677.2h0M2879.3 1680.7h0M2879.7 1684.3h0M2879.2 1687.8h0M2879.3 1691.3h0M2879.8 1694.9h0M2879.5 1698.4h0M2880.2 1701.9h0M2880.1 1705.5h0M2879.7 1709.0h0M2879.8 1712.5h0M2879.4 1716.1h0M2879.7 1719.6h0M2879.5 1723.1h0M2879.9 1726.7h0M2879.4 1730.2h0M2880.2 1733.7h0M2879.6 1737.3h0M2880.2 1740.8h0M2880.1 1744.3h0M2879.2 1747.9h0M2880.1 1751.4h0M2880.0 1754.9h0M2880.1 1758.5h0M2879.7 1762.0h0M2881.4 1623.0h0M2882.1 1626.5h0M2881.3 1630.0h0M2881.6 1633.5h0M2881.9 1637.0h0M2881.9 1640.5h0M2881.6 1644.0h0M2882.1 1647.5h0M2881.3 1651.0h0M2881.8 1654.5h0M2881.8 1658.0h0M2881.9 1661.5h0M2882.0 1665.0h0M2881.6 1668.6h0M2881.4 1672.1h0M2881.3 1675.6h0M2881.7 1679.1h0M2881.4 1682.6h0M2881.5 1686.1h0M2881.7 1689.6h0M2881.6 1693.1h0M2882.0 1696.6h0M2882.2 1700.1h0M2882.1 1703.6h0M2881.5 1707.1h0M2881.5 1710.6h0M2882.2 1714.1h0M2882.0 1717.6h0M2881.9 1721.1h0M2882.1 1724.6h0M2881.4 1728.1h0M2881.7 1731.6h0M2881.7 1735.1h0M2882.0 1738.6h0M2881.9 1742.2h0M2881.3 1745.7h0M2881.9 1749.2h0M2884.2 1640.9h0M2884.2 1644.5h0M2883.8 1648.1h0M2883.9 1651.6h0M2883.6 1655.2h0M2883.6 1658.8h0M2883.4 1662.3h0M2884.4 1665.9h0M2884.3 1669.5h0M2884.4 1673.1h0M2884.2 1676.6h0M2884.1 1680.2h0M2883.8 1683.8h0M2883.8 1687.3h0M2883.9 1690.9h0M2883.9 1694.5h0M2884.0 1698.1h0M2883.6 1701.6h0M2884.1 1705.2h0M2884.1 1708.8h0M2884.3 1712.4h0M2884.3 1715.9h0M2883.6 1719.5h0M2883.4 1723.1h0M2883.7 1726.6h0M2884.2 1730.2h0M2883.5 1733.8h0M2884.2 1737.4h0M2884.0 1740.9h0M2883.9 1744.5h0M2884.0 1748.1h0M2885.6 1632.3h0M2886.0 1635.9h0M2886.4 1639.5h0M2885.7 1643.1h0M2886.4 1646.7h0M2886.4 1650.3h0M2885.8 1653.9h0M2885.6 1657.5h0M2885.5 1661.1h0M2885.5 1664.7h0M2885.5 1668.3h0M2885.7 1671.9h0M2886.3 1675.5h0M2886.2 1679.1h0M2886.0 1682.7h0M2886.0 1686.3h0M2886.2 1689.9h0M2886.3 1693.5h0M2885.8 1697.1h0M2885.5 1700.7h0M2886.2 1704.3h0M2886.5 1707.9h0M2885.5 1711.5h0M2886.2 1715.1h0M2886.0 1718.7h0M2885.9 1722.3h0M2885.7 1725.9h0M2885.6 1729.5h0M2885.7 1733.1h0M2886.3 1736.7h0M2885.8 1740.3h0M2886.0 1743.9h0M2888.5 1635.7h0M2887.9 1639.2h0M2888.5 1642.7h0M2888.5 1646.3h0M2888.0 1649.8h0M2888.1 1653.3h0M2887.6 1656.9h0M2888.2 1660.4h0M2888.4 1663.9h0M2888.6 1667.5h0M2887.9 1671.0h0M2887.9 1674.5h0M2888.1 1678.1h0M2888.3 1681.6h0M2888.2 1685.1h0M2888.0 1688.7h0M2888.0 1692.2h0M2888.3 1695.7h0M2887.8 1699.3h0M2888.2 1702.8h0M2887.9 1706.3h0M2887.6 1709.9h0M2888.6 1713.4h0M2888.3 1716.9h0M2887.9 1720.5h0M2888.4 1724.0h0M2887.8 1727.5h0M2887.7 1731.1h0M2888.3 1734.6h0M2887.8 1738.1h0M2887.9 1741.7h0M2887.8 1745.2h0M2890.5 1629.3h0M2889.7 1632.9h0M2890.0 1636.4h0M2890.6 1640.0h0M2890.2 1643.5h0M2890.0 1647.1h0M2890.6 1650.6h0M2890.6 1654.2h0M2890.6 1657.7h0M2889.9 1661.3h0M2890.4 1664.9h0M2890.6 1668.4h0M2889.9 1672.0h0M2889.8 1675.5h0M2890.6 1679.1h0M2890.7 1682.6h0M2890.3 1686.2h0M2890.6 1689.7h0M2890.0 1693.3h0M2890.1 1696.8h0M2889.8 1700.4h0M2889.8 1703.9h0M2890.2 1707.5h0M2890.4 1711.0h0M2889.8 1714.6h0M2892.4 1654.7h0M2892.2 1658.3h0M2892.3 1661.8h0M2892.2 1665.4h0M2892.5 1668.9h0M2892.5 1672.5h0M2892.6 1676.0h0M2892.1 1679.6h0M2892.0 1683.2h0M2891.9 1686.7h0M2892.0 1690.3h0M2892.5 1693.8h0M2892.3 1697.4h0M2892.6 1700.9h0M2892.3 1704.5h0M2892.6 1708.1h0M2892.0 1711.6h0M2892.3 1715.2h0M2891.9 1718.7h0M2892.5 1722.3h0M2892.3 1725.8h0M2892.6 1729.4h0M2891.9 1733.0h0M2891.9 1736.5h0M2892.5 1740.1h0M2894.9 1616.4h0M2894.1 1619.9h0M2894.2 1623.4h0M2894.2 1627.0h0M2894.1 1630.5h0M2894.7 1634.0h0M2894.4 1637.5h0M2893.9 1641.1h0M2894.6 1644.6h0M2894.1 1648.1h0M2894.1 1651.7h0M2894.9 1655.2h0M2894.0 1658.7h0M2894.4 1662.2h0M2894.5 1665.8h0M2894.4 1669.3h0M2894.8 1672.8h0M2894.8 1676.3h0M2894.5 1679.9h0M2894.0 1683.4h0M2893.9 1686.9h0M2894.7 1690.5h0M2894.4 1694.0h0M2894.2 1697.5h0M2894.2 1701.0h0M2894.6 1704.6h0M2894.2 1708.1h0M2894.7 1711.6h0M2894.3 1715.2h0M2894.0 1718.7h0M2894.2 1722.2h0M2896.0 1627.0h0M2896.3 1630.5h0M2896.8 1634.1h0M2896.6 1637.6h0M2896.7 1641.1h0M2896.4 1644.6h0M2896.7 1648.2h0M2896.8 1651.7h0M2896.8 1655.2h0M2896.1 1658.7h0M2896.4 1662.2h0M2896.2 1665.8h0M2896.6 1669.3h0M2896.1 1672.8h0M2896.6 1676.3h0M2896.7 1679.9h0M2896.4 1683.4h0M2897.0 1686.9h0M2896.1 1690.4h0M2896.9 1694.0h0M2896.7 1697.5h0M2896.1 1701.0h0M2896.3 1704.5h0M2897.0 1708.1h0M2896.1 1711.6h0M2896.7 1715.1h0M2896.6 1718.6h0M2896.4 1722.2h0M2898.7 1631.6h0M2899.1 1635.2h0M2898.7 1638.8h0M2898.3 1642.3h0M2898.9 1645.9h0M2898.9 1649.5h0M2898.3 1653.1h0M2898.1 1656.7h0M2898.7 1660.3h0M2898.2 1663.8h0M2898.3 1667.4h0M2898.4 1671.0h0M2898.2 1674.6h0M2899.1 1678.2h0M2899.1 1681.7h0M2898.2 1685.3h0M2899.1 1688.9h0M2898.5 1692.5h0M2898.5 1696.1h0M2898.4 1699.6h0M2898.6 1703.2h0M2899.0 1706.8h0M2900.3 1644.7h0M2900.7 1648.5h0M2900.7 1652.3h0M2900.3 1656.1h0M2901.1 1660.0h0M2900.8 1663.8h0M2900.5 1667.6h0M2900.5 1671.4h0M2900.6 1675.2h0M2900.9 1679.0h0M2900.8 1682.8h0M2902.3 1629.7h0M2903.1 1633.3h0M2902.7 1636.9h0M2902.8 1640.5h0M2903.2 1644.1h0M2902.6 1647.7h0M2903.2 1651.3h0M2902.4 1654.9h0M2902.8 1658.5h0M2902.7 1662.1h0M2903.1 1665.7h0M2902.5 1669.3h0M2902.5 1673.0h0M2902.8 1676.6h0M2903.1 1680.2h0M2903.2 1683.8h0M2902.4 1687.4h0M2903.0 1691.0h0M2902.7 1694.6h0M2902.9 1698.2h0M2902.7 1701.8h0M2903.1 1705.4h0M2902.8 1709.0h0M2902.6 1712.7h0M2902.4 1716.3h0M2902.3 1719.9h0M2902.5 1723.5h0M2902.7 1727.1h0M2904.9 1629.8h0M2905.3 1633.4h0M2905.3 1637.0h0M2905.0 1640.6h0M2905.2 1644.2h0M2904.9 1647.8h0M2905.3 1651.4h0M2904.5 1655.0h0M2904.7 1658.6h0M2905.3 1662.2h0M2904.8 1665.8h0M2904.7 1669.4h0M2904.6 1673.0h0M2904.9 1676.6h0M2904.4 1680.2h0M2904.6 1683.8h0M2905.0 1687.4h0M2904.7 1691.0h0M2904.4 1694.6h0M2904.7 1698.2h0M2904.7 1701.8h0M2904.8 1705.4h0M2904.7 1709.0h0M2907.4 1612.2h0M2907.4 1615.7h0M2906.6 1619.2h0M2906.5 1622.7h0M2906.8 1626.2h0M2906.6 1629.7h0M2907.4 1633.2h0M2906.6 1636.7h0M2906.8 1640.2h0M2907.1 1643.7h0M2906.9 1647.2h0M2906.6 1650.7h0M2906.7 1654.2h0M2906.9 1657.7h0M2906.8 1661.2h0M2906.5 1664.7h0M2907.4 1668.2h0M2907.3 1671.7h0M2907.0 1675.2h0M2907.4 1678.7h0M2907.2 1682.2h0M2906.9 1685.7h0M2907.0 1689.2h0M2909.4 1596.5h0M2909.6 1600.0h0M2909.4 1603.5h0M2908.9 1607.0h0M2909.1 1610.5h0M2909.3 1614.0h0M2908.7 1617.5h0M2909.2 1621.0h0M2908.9 1624.5h0M2908.7 1628.0h0M2909.1 1631.5h0M2909.4 1635.0h0M2909.0 1638.5h0M2909.0 1642.0h0M2908.7 1645.5h0M2909.4 1649.0h0M2908.9 1652.5h0M2909.3 1656.0h0M2909.5 1659.5h0M2908.9 1663.0h0M2909.1 1666.5h0M2909.0 1670.0h0M2908.7 1673.5h0M2908.6 1677.0h0M2909.3 1680.5h0M2909.0 1684.0h0M2910.7 1611.6h0M2911.6 1615.1h0M2911.3 1618.6h0M2910.8 1622.2h0M2911.5 1625.7h0M2911.1 1629.2h0M2910.7 1632.7h0M2910.8 1636.3h0M2911.4 1639.8h0M2911.1 1643.3h0M2911.6 1646.8h0M2910.8 1650.4h0M2911.4 1653.9h0M2911.2 1657.4h0M2911.4 1660.9h0M2911.4 1664.5h0M2910.7 1668.0h0M2910.9 1671.5h0M2910.7 1675.0h0M2910.9 1678.6h0M2911.2 1682.1h0M2911.6 1685.6h0M2910.9 1689.1h0M2911.0 1692.7h0M2910.7 1696.2h0M2911.2 1699.7h0M2911.4 1703.2h0M2911.6 1706.8h0M2911.6 1710.3h0M2910.8 1713.8h0M2911.5 1717.3h0M2910.8 1720.9h0M2911.1 1724.4h0M2910.7 1727.9h0M2911.3 1731.4h0M2910.7 1735.0h0M2913.5 1619.4h0M2912.9 1622.9h0M2913.4 1626.5h0M2913.3 1630.1h0M2912.8 1633.6h0M2913.3 1637.2h0M2913.4 1640.8h0M2913.6 1644.3h0M2913.0 1647.9h0M2913.8 1651.5h0M2913.0 1655.1h0M2913.1 1658.6h0M2913.5 1662.2h0M2913.0 1665.8h0M2913.1 1669.3h0M2913.1 1672.9h0M2913.2 1676.5h0M2913.6 1680.0h0M2913.4 1683.6h0M2913.6 1687.2h0M2912.8 1690.8h0M2913.1 1694.3h0M2913.3 1697.9h0M2913.1 1701.5h0M2912.8 1705.0h0M2913.3 1708.6h0M2913.1 1712.2h0M2912.8 1715.7h0M2913.3 1719.3h0M2913.1 1722.9h0M2913.7 1726.5h0M2913.3 1730.0h0M2913.2 1733.6h0M2915.2 1628.0h0M2915.6 1631.6h0M2915.4 1635.1h0M2915.5 1638.7h0M2915.9 1642.2h0M2915.5 1645.8h0M2915.8 1649.3h0M2915.4 1652.9h0M2915.2 1656.4h0M2915.7 1660.0h0M2915.0 1663.5h0M2915.4 1667.1h0M2915.2 1670.6h0M2915.1 1674.2h0M2915.6 1677.7h0M2915.5 1681.3h0M2915.4 1684.8h0M2915.8 1688.4h0M2915.1 1691.9h0M2915.2 1695.5h0M2915.1 1699.0h0M2915.8 1702.6h0M2915.3 1706.1h0M2915.3 1709.7h0M2915.5 1713.2h0M2917.6 1606.6h0M2917.9 1610.3h0M2917.9 1613.9h0M2918.0 1617.6h0M2917.1 1621.2h0M2917.2 1624.8h0M2917.0 1628.5h0M2917.1 1632.1h0M2917.5 1635.8h0M2917.7 1639.4h0M2917.7 1643.1h0M2917.2 1646.7h0M2917.9 1650.4h0M2917.1 1654.0h0M2917.4 1657.6h0M2917.6 1661.3h0M2917.3 1664.9h0M2917.9 1668.6h0M2917.2 1672.2h0M2917.3 1675.9h0M2918.0 1679.5h0M2917.9 1683.2h0M2917.7 1686.8h0M2919.6 1638.2h0M2919.9 1641.8h0M2919.5 1645.3h0M2919.6 1648.8h0M2919.5 1652.4h0M2919.5 1655.9h0M2920.0 1659.5h0M2919.1 1663.0h0M2919.2 1666.6h0M2919.2 1670.1h0M2919.1 1673.7h0M2919.3 1677.2h0M2919.3 1680.8h0M2919.3 1684.3h0M2919.8 1687.9h0M2919.6 1691.4h0M2919.4 1695.0h0M2919.1 1698.5h0M2919.4 1702.1h0M2921.9 1607.9h0M2921.3 1611.5h0M2921.9 1615.0h0M2921.8 1618.5h0M2921.6 1622.1h0M2921.5 1625.6h0M2921.7 1629.1h0M2922.0 1632.7h0M2921.4 1636.2h0M2922.1 1639.7h0M2921.6 1643.3h0M2921.8 1646.8h0M2921.9 1650.3h0M2921.5 1653.8h0M2921.8 1657.4h0M2921.4 1660.9h0M2921.8 1664.4h0M2921.5 1668.0h0M2922.0 1671.5h0M2922.1 1675.0h0M2922.1 1678.6h0M2922.1 1682.1h0M2921.3 1685.6h0M2921.6 1689.1h0M2921.6 1692.7h0M2921.8 1696.2h0M2921.6 1699.7h0M2922.0 1703.3h0M2921.4 1706.8h0M2921.5 1710.3h0M2923.9 1661.1h0M2924.3 1664.9h0M2923.8 1668.6h0M2923.6 1672.3h0M2923.5 1676.1h0M2924.0 1679.8h0M2923.4 1683.5h0M2923.7 1687.3h0M2924.0 1691.0h0M2924.2 1694.7h0M2923.6 1698.5h0M2925.5 1587.8h0M2925.8 1591.4h0M2926.0 1594.9h0M2926.2 1598.5h0M2926.0 1602.0h0M2925.8 1605.6h0M2925.7 1609.1h0M2925.7 1612.7h0M2926.3 1616.2h0M2926.0 1619.8h0M2925.7 1623.3h0M2925.6 1626.9h0M2925.9 1630.4h0M2926.0 1634.0h0M2925.9 1637.5h0M2925.7 1641.1h0M2925.5 1644.6h0M2925.8 1648.2h0M2925.8 1651.7h0M2925.5 1655.3h0M2926.0 1658.8h0M2926.2 1662.3h0M2926.0 1665.9h0M2925.5 1669.4h0M2925.6 1673.0h0M2926.1 1676.5h0M2925.6 1680.1h0M2925.6 1683.6h0M2925.8 1687.2h0M2925.4 1690.7h0M2926.3 1694.3h0M2926.1 1697.8h0M2926.2 1701.4h0M2925.8 1704.9h0M2925.8 1708.5h0M2925.5 1712.0h0M2925.7 1715.6h0M2925.9 1719.1h0M2926.3 1722.7h0M2925.8 1726.2h0M2926.3 1729.8h0M2926.2 1733.3h0M2926.2 1736.9h0M2928.0 1613.5h0M2928.4 1617.1h0M2928.2 1620.7h0M2928.2 1624.3h0M2927.6 1627.9h0M2927.7 1631.4h0M2928.1 1635.0h0M2928.4 1638.6h0M2928.4 1642.2h0M2928.0 1645.8h0M2927.9 1649.4h0M2927.7 1652.9h0M2928.0 1656.5h0M2927.5 1660.1h0M2928.3 1663.7h0M2927.9 1667.3h0M2928.2 1670.9h0M2927.9 1674.4h0M2927.8 1678.0h0M2927.5 1681.6h0M2927.7 1685.2h0M2927.6 1688.8h0M2927.5 1692.4h0M2927.7 1696.0h0M2928.0 1699.5h0M2928.1 1703.1h0M2928.1 1706.7h0M2928.1 1710.3h0M2927.6 1713.9h0M2927.9 1717.5h0M2927.9 1721.0h0M2927.6 1724.6h0M2927.5 1728.2h0M2927.7 1731.8h0M2927.5 1735.4h0M2927.6 1739.0h0M2927.5 1742.5h0M2927.8 1746.1h0M2927.5 1749.7h0M2941.1 1626.5h0M2940.7 1630.1h0M2940.3 1633.8h0M2941.1 1637.4h0M2940.6 1641.1h0M2940.4 1644.7h0M2940.6 1648.4h0M2940.3 1652.0h0M2940.6 1655.7h0M2940.3 1659.3h0M2940.9 1663.0h0M2940.2 1666.7h0M2940.4 1670.3h0M2941.0 1674.0h0M2940.4 1677.6h0M2940.9 1681.3h0M2941.1 1684.9h0M2940.8 1688.6h0M2940.6 1692.2h0M2940.8 1695.9h0M2953.2 1631.6h0M2953.2 1635.2h0M2953.5 1638.8h0M2953.1 1642.4h0M2953.0 1645.9h0M2953.0 1649.5h0M2953.5 1653.1h0M2952.9 1656.7h0M2953.4 1660.3h0M2952.8 1663.8h0M2953.3 1667.4h0M2953.4 1671.0h0M2953.6 1674.6h0M2953.3 1678.2h0M2953.5 1681.8h0M2953.4 1685.3h0M2952.8 1688.9h0M2952.8 1692.5h0M2952.7 1696.1h0M2953.6 1699.7h0M2952.8 1703.2h0M2952.9 1706.8h0M2952.8 1710.4h0M2952.8 1714.0h0M2955.0 1650.9h0M2955.7 1654.7h0M2955.0 1658.4h0M2955.6 1662.2h0M2955.3 1666.0h0M2954.9 1669.7h0M2955.4 1673.5h0M2955.5 1677.3h0M2955.7 1681.0h0M2955.0 1684.8h0M2955.3 1688.6h0M2954.9 1692.3h0M2954.8 1696.1h0M2957.0 1646.4h0M2957.2 1649.9h0M2957.2 1653.5h0M2957.5 1657.1h0M2957.5 1660.7h0M2957.3 1664.2h0M2957.6 1667.8h0M2957.5 1671.4h0M2957.6 1674.9h0M2956.9 1678.5h0M2956.9 1682.1h0M2957.7 1685.7h0M2957.3 1689.2h0M2957.9 1692.8h0M2957.0 1696.4h0M2957.7 1700.0h0M2957.3 1703.5h0M2957.8 1707.1h0M2957.0 1710.7h0M2957.0 1714.3h0M2959.6 1629.1h0M2959.8 1632.6h0M2959.0 1636.2h0M2959.3 1639.8h0M2959.3 1643.3h0M2959.1 1646.9h0M2959.9 1650.4h0M2959.2 1654.0h0M2959.7 1657.6h0M2959.0 1661.1h0M2959.3 1664.7h0M2959.9 1668.3h0M2959.0 1671.8h0M2959.5 1675.4h0M2959.8 1678.9h0M2959.2 1682.5h0M2959.1 1686.1h0M2959.9 1689.6h0M2959.8 1693.2h0M2959.5 1696.8h0M2959.9 1700.3h0M2959.3 1703.9h0M2959.2 1707.4h0M2959.2 1711.0h0M2959.8 1714.6h0M2959.1 1718.1h0M2959.9 1721.7h0M2959.2 1725.3h0M2961.3 1626.8h0M2961.5 1630.4h0M2961.7 1634.0h0M2962.1 1637.6h0M2961.4 1641.2h0M2961.4 1644.8h0M2961.7 1648.4h0M2961.6 1652.0h0M2961.9 1655.6h0M2961.7 1659.2h0M2961.8 1662.8h0M2961.3 1666.5h0M2961.4 1670.1h0M2962.0 1673.7h0M2961.5 1677.3h0M2962.0 1680.9h0M2962.1 1684.5h0M2961.5 1688.1h0M2961.2 1691.7h0M2961.8 1695.3h0M2961.4 1698.9h0M2961.4 1702.5h0M2961.7 1706.2h0M2961.3 1709.8h0M2961.6 1713.4h0M2963.5 1666.0h0M2963.7 1669.5h0M2963.5 1673.1h0M2964.2 1676.6h0M2963.7 1680.2h0M2964.1 1683.7h0M2963.7 1687.3h0M2963.3 1690.8h0M2963.7 1694.4h0M2963.3 1697.9h0M2963.4 1701.5h0M2963.6 1705.0h0M2963.3 1708.5h0M2965.6 1640.5h0M2966.1 1644.1h0M2965.6 1647.7h0M2966.1 1651.4h0M2966.0 1655.0h0M2966.3 1658.6h0M2965.5 1662.3h0M2966.1 1665.9h0M2965.6 1669.5h0M2966.1 1673.2h0M2965.3 1676.8h0M2966.1 1680.4h0M2965.9 1684.1h0M2965.5 1687.7h0M2965.5 1691.3h0M2965.5 1695.0h0M2965.8 1698.6h0M2965.4 1702.2h0M2966.1 1705.9h0M2965.9 1709.5h0M2965.8 1713.1h0M2966.2 1716.8h0M2965.8 1720.4h0M2965.8 1724.1h0M2965.8 1727.7h0M2966.1 1731.3h0M2967.9 1638.9h0M2968.1 1642.4h0M2967.6 1646.0h0M2967.6 1649.6h0M2968.3 1653.2h0M2967.9 1656.8h0M2967.9 1660.4h0M2968.2 1664.0h0M2967.9 1667.5h0M2967.8 1671.1h0M2967.6 1674.7h0M2967.5 1678.3h0M2968.4 1681.9h0M2967.8 1685.5h0M2967.9 1689.1h0M2967.4 1692.6h0M2967.8 1696.2h0M2968.3 1699.8h0M2968.2 1703.4h0M2967.4 1707.0h0M2967.8 1710.6h0M2968.3 1714.2h0M2968.3 1717.8h0M2969.6 1626.8h0M2970.5 1630.3h0M2969.6 1633.8h0M2969.7 1637.3h0M2970.2 1640.8h0M2970.5 1644.4h0M2969.5 1647.9h0M2970.3 1651.4h0M2970.1 1654.9h0M2970.4 1658.4h0M2969.7 1662.0h0M2969.9 1665.5h0M2969.8 1669.0h0M2970.3 1672.5h0M2969.9 1676.0h0M2969.6 1679.5h0M2970.4 1683.1h0M2970.4 1686.6h0M2972.5 1633.5h0M2972.2 1637.3h0M2971.6 1641.1h0M2971.7 1644.9h0M2972.4 1648.7h0M2972.3 1652.4h0M2972.5 1656.2h0M2972.6 1660.0h0M2971.7 1663.8h0M2972.5 1667.6h0M2971.9 1671.4h0M2972.2 1675.1h0M2971.8 1678.9h0M2974.4 1645.1h0M2974.1 1649.1h0M2974.3 1653.1h0M2974.1 1657.1h0M2973.9 1661.1h0M2974.2 1665.1h0M2974.3 1669.1h0M2973.7 1673.0h0M2976.1 1643.9h0M2976.5 1647.4h0M2976.6 1651.0h0M2976.6 1654.5h0M2976.7 1658.0h0M2976.1 1661.5h0M2976.3 1665.0h0M2976.5 1668.5h0M2976.3 1672.0h0M2975.9 1675.5h0M2976.1 1679.1h0M2976.1 1682.6h0M2975.8 1686.1h0M2976.2 1689.6h0M2976.0 1693.1h0M2976.7 1696.6h0M2976.5 1700.1h0M2976.6 1703.7h0M2975.9 1707.2h0M2976.1 1710.7h0M2978.2 1611.5h0M2978.7 1615.1h0M2978.2 1618.7h0M2978.3 1622.4h0M2978.5 1626.0h0M2978.1 1629.6h0M2977.9 1633.2h0M2978.8 1636.8h0M2978.0 1640.4h0M2978.1 1644.1h0M2978.5 1647.7h0M2978.6 1651.3h0M2978.3 1654.9h0M2978.2 1658.5h0M2978.8 1662.1h0M2978.8 1665.8h0M2978.7 1669.4h0M2978.2 1673.0h0M2978.3 1676.6h0M2978.7 1680.2h0M2978.7 1683.9h0M2978.0 1687.5h0M2978.4 1691.1h0M2977.9 1694.7h0M2978.8 1698.3h0M2980.4 1638.5h0M2980.7 1642.1h0M2980.7 1645.7h0M2980.6 1649.3h0M2980.2 1652.9h0M2980.7 1656.5h0M2980.3 1660.1h0M2980.3 1663.7h0M2980.7 1667.3h0M2980.1 1670.9h0M2980.4 1674.5h0M2980.2 1678.1h0M2980.0 1681.7h0M2980.1 1685.3h0M2980.3 1688.8h0M2980.0 1692.4h0M2980.6 1696.0h0M2980.2 1699.6h0M2980.1 1703.2h0M2980.7 1706.8h0M2982.1 1610.5h0M2982.5 1614.2h0M2982.8 1617.8h0M2982.8 1621.4h0M2982.8 1625.0h0M2982.9 1628.6h0M2983.0 1632.2h0M2982.7 1635.8h0M2982.4 1639.4h0M2983.0 1643.1h0M2982.3 1646.7h0M2982.8 1650.3h0M2983.0 1653.9h0M2982.7 1657.5h0M2982.8 1661.1h0M2984.6 1604.3h0M2984.5 1608.1h0M2985.1 1611.8h0M2984.4 1615.5h0M2984.4 1619.2h0M2984.3 1623.0h0M2985.2 1626.7h0M2985.1 1630.4h0M2985.1 1634.2h0M2984.5 1637.9h0M2984.5 1641.6h0M2984.5 1645.4h0M2984.6 1649.1h0M2987.2 1588.4h0M2986.5 1592.0h0M2986.6 1595.5h0M2986.5 1599.0h0M2987.2 1602.5h0M2986.7 1606.0h0M2986.9 1609.5h0M2986.7 1613.0h0M2986.9 1616.5h0M2987.2 1620.1h0M2986.6 1623.6h0M2986.7 1627.1h0M2986.3 1630.6h0M2986.9 1634.1h0M2987.1 1637.6h0M2987.2 1641.1h0M2986.9 1644.6h0M2986.7 1648.1h0M2986.8 1651.7h0M2986.3 1655.2h0M2986.8 1658.7h0M2987.0 1662.2h0M2986.6 1665.7h0M2986.4 1669.2h0M2987.0 1672.7h0M2986.6 1676.2h0M2987.2 1679.7h0M2987.1 1683.3h0M2986.4 1686.8h0M2986.3 1690.3h0M2986.3 1693.8h0M2987.2 1697.3h0M2986.8 1700.8h0M2986.9 1704.3h0M2986.9 1707.8h0M2986.3 1711.3h0M2987.1 1714.9h0M2986.8 1718.4h0M2986.3 1721.9h0M2986.4 1725.4h0M2989.0 1591.6h0M2988.4 1595.2h0M2989.3 1598.7h0M2989.0 1602.2h0M2989.2 1605.8h0M2988.8 1609.3h0M2989.2 1612.8h0M2988.8 1616.4h0M2989.2 1619.9h0M2989.3 1623.4h0M2989.3 1627.0h0M2988.7 1630.5h0M2988.5 1634.0h0M2988.8 1637.5h0M2988.5 1641.1h0M2988.8 1644.6h0M2988.8 1648.1h0M2988.8 1651.7h0M2988.6 1655.2h0M2988.9 1658.7h0M2989.0 1662.3h0M2989.3 1665.8h0M2989.2 1669.3h0M2989.0 1672.9h0M2990.8 1628.0h0M2991.1 1631.6h0M2991.4 1635.1h0M2991.3 1638.6h0M2991.4 1642.2h0M2991.0 1645.7h0M2991.0 1649.2h0M2991.4 1652.8h0M2990.7 1656.3h0M2991.2 1659.8h0M2990.6 1663.4h0M2991.0 1666.9h0M2991.4 1670.4h0M2991.2 1673.9h0M2990.6 1677.5h0M2991.0 1681.0h0M2991.2 1684.5h0M2990.7 1688.1h0M2990.7 1691.6h0M2991.2 1695.1h0M2990.7 1698.7h0M2990.8 1702.2h0M2991.4 1705.7h0M2991.2 1709.3h0M2990.6 1712.8h0M2993.2 1621.8h0M2993.3 1625.4h0M2992.9 1629.0h0M2992.9 1632.6h0M2993.1 1636.2h0M2993.0 1639.8h0M2993.2 1643.3h0M2992.9 1646.9h0M2993.0 1650.5h0M2992.9 1654.1h0M2992.9 1657.7h0M2993.2 1661.3h0M2993.3 1664.9h0M2992.8 1668.5h0M2993.3 1672.1h0M2992.9 1675.7h0M2993.6 1679.3h0M2993.3 1682.9h0M2993.0 1686.4h0M2993.2 1690.0h0M2992.8 1693.6h0M2993.3 1697.2h0M2993.2 1700.8h0M2993.2 1704.4h0M2993.3 1708.0h0M2993.0 1711.6h0M2993.5 1715.2h0M2993.1 1718.8h0M2992.9 1722.4h0M2993.2 1725.9h0M2993.5 1729.5h0M2992.7 1733.1h0M2992.6 1736.7h0M2993.1 1740.3h0M2992.6 1743.9h0M2995.6 1635.4h0M2995.4 1639.0h0M2995.5 1642.5h0M2995.7 1646.1h0M2995.0 1649.7h0M2995.2 1653.2h0M2995.1 1656.8h0M2995.1 1660.4h0M2995.3 1663.9h0M2995.6 1667.5h0M2995.1 1671.1h0M2995.3 1674.6h0M2995.3 1678.2h0M2995.4 1681.7h0M2995.4 1685.3h0M2994.8 1688.9h0M2995.0 1692.4h0M2994.8 1696.0h0M2994.9 1699.6h0M2995.0 1703.1h0M2995.6 1706.7h0M2995.1 1710.3h0M2995.3 1713.8h0M2997.4 1623.3h0M2997.3 1626.9h0M2997.5 1630.5h0M2997.1 1634.1h0M2997.4 1637.7h0M2996.9 1641.3h0M2997.1 1644.9h0M2997.5 1648.5h0M2997.2 1652.1h0M2997.0 1655.7h0M2997.3 1659.3h0M2997.2 1662.9h0M2996.9 1666.5h0M2999.4 1626.2h0M2999.5 1629.7h0M2999.3 1633.2h0M2999.0 1636.7h0M2999.7 1640.2h0M2999.3 1643.8h0M2999.9 1647.3h0M2999.4 1650.8h0M2999.5 1654.3h0M2999.1 1657.8h0M2999.7 1661.3h0M2999.8 1664.9h0M2999.6 1668.4h0M2999.3 1671.9h0M2999.6 1675.4h0M2998.9 1678.9h0M2999.8 1682.4h0M2999.6 1685.9h0M2998.9 1689.5h0M2999.8 1693.0h0M3001.3 1613.0h0M3001.5 1616.5h0M3001.0 1620.0h0M3001.3 1623.6h0M3001.1 1627.1h0M3001.5 1630.6h0M3002.0 1634.2h0M3001.1 1637.7h0M3001.2 1641.2h0M3001.4 1644.7h0M3001.9 1648.3h0M3001.5 1651.8h0M3001.2 1655.3h0M3001.7 1658.9h0M3001.4 1662.4h0M3001.1 1665.9h0M3001.9 1669.5h0M3001.4 1673.0h0M3001.6 1676.5h0M3001.4 1680.1h0M3001.5 1683.6h0M3001.7 1687.1h0M3001.0 1690.7h0M3001.7 1694.2h0M3001.3 1697.7h0M3001.4 1701.3h0M3003.5 1615.7h0M3003.9 1619.2h0M3003.9 1622.7h0M3004.0 1626.3h0M3003.5 1629.8h0M3003.4 1633.3h0M3003.9 1636.8h0M3003.9 1640.3h0M3003.2 1643.9h0M3003.5 1647.4h0M3003.1 1650.9h0M3003.2 1654.4h0M3003.8 1658.0h0M3003.8 1661.5h0M3003.3 1665.0h0M3003.5 1668.5h0M3003.4 1672.1h0M3003.7 1675.6h0M3003.5 1679.1h0M3003.2 1682.6h0M3003.6 1686.2h0M3003.8 1689.7h0M3003.9 1693.2h0M3003.7 1696.7h0M3003.6 1700.2h0M3003.5 1703.8h0M3003.8 1707.3h0M3003.9 1710.8h0M3003.2 1714.3h0M3003.5 1717.9h0M3005.4 1593.7h0M3005.6 1597.3h0M3005.6 1600.8h0M3006.0 1604.4h0M3005.3 1608.0h0M3005.9 1611.6h0M3005.9 1615.1h0M3005.9 1618.7h0M3005.6 1622.3h0M3005.3 1625.9h0M3005.2 1629.5h0M3005.9 1633.0h0M3006.0 1636.6h0M3006.0 1640.2h0M3005.5 1643.8h0M3005.3 1647.3h0M3006.0 1650.9h0M3005.9 1654.5h0M3006.0 1658.1h0M3006.1 1661.6h0M3006.1 1665.2h0M3005.5 1668.8h0M3005.7 1672.4h0M3005.3 1675.9h0M3006.0 1679.5h0M3005.7 1683.1h0M3006.0 1686.7h0M3005.4 1690.2h0M3005.9 1693.8h0M3006.1 1697.4h0M3005.9 1701.0h0M3007.9 1596.7h0M3008.2 1600.3h0M3007.7 1603.8h0M3007.4 1607.3h0M3007.8 1610.9h0M3007.3 1614.4h0M3007.5 1617.9h0M3008.3 1621.5h0M3007.5 1625.0h0M3007.5 1628.5h0M3007.7 1632.1h0M3007.7 1635.6h0M3007.7 1639.1h0M3007.6 1642.7h0M3007.5 1646.2h0M3007.4 1649.7h0M3007.3 1653.3h0M3007.7 1656.8h0M3008.1 1660.3h0M3007.6 1663.9h0M3007.7 1667.4h0M3007.4 1670.9h0M3007.4 1674.5h0M3008.2 1678.0h0M3007.9 1681.5h0M3009.5 1602.0h0M3009.6 1605.6h0M3009.9 1609.2h0M3010.2 1612.9h0M3009.7 1616.5h0M3010.1 1620.1h0M3010.2 1623.7h0M3010.1 1627.3h0M3009.8 1630.9h0M3010.0 1634.5h0M3010.2 1638.1h0M3010.1 1641.7h0M3010.1 1645.3h0M3009.7 1648.9h0M3009.8 1652.5h0M3010.2 1656.1h0M3009.6 1659.7h0M3009.6 1663.3h0M3010.3 1667.0h0M3009.5 1670.6h0M3011.6 1596.6h0M3011.7 1600.1h0M3011.8 1603.6h0M3011.6 1607.1h0M3012.1 1610.6h0M3012.4 1614.1h0M3012.2 1617.6h0M3011.5 1621.2h0M3012.0 1624.7h0M3011.6 1628.2h0M3011.7 1631.7h0M3012.5 1635.2h0M3012.2 1638.7h0M3012.4 1642.2h0M3011.9 1645.8h0M3012.1 1649.3h0M3011.7 1652.8h0M3012.1 1656.3h0M3011.8 1659.8h0M3012.4 1663.3h0M3014.4 1619.8h0M3014.4 1623.3h0M3014.3 1626.8h0M3014.5 1630.4h0M3013.9 1633.9h0M3014.1 1637.4h0M3014.2 1640.9h0M3014.4 1644.5h0M3014.3 1648.0h0M3014.0 1651.5h0M3013.8 1655.0h0M3014.3 1658.6h0M3013.9 1662.1h0M3013.8 1665.6h0M3016.6 1610.9h0M3015.9 1614.4h0M3016.3 1618.0h0M3016.0 1621.5h0M3016.3 1625.0h0M3016.1 1628.6h0M3016.1 1632.1h0M3015.8 1635.6h0M3016.1 1639.2h0M3016.2 1642.7h0M3016.0 1646.2h0M3016.3 1649.8h0M3016.0 1653.3h0M3016.7 1656.8h0M3018.4 1617.0h0M3018.4 1620.5h0M3018.6 1624.0h0M3018.2 1627.5h0M3018.3 1631.0h0M3018.4 1634.5h0M3017.8 1638.0h0M3018.8 1641.5h0M3017.8 1645.0h0M3018.4 1648.5h0M3018.7 1652.0h0M3018.6 1655.5h0M3017.9 1659.0h0M3018.4 1662.5h0M3018.1 1666.1h0M3018.4 1669.6h0M3018.7 1673.1h0M3020.0 1624.2h0M3020.0 1627.8h0M3020.7 1631.4h0M3020.4 1635.0h0M3020.1 1638.6h0M3019.9 1642.3h0M3020.8 1645.9h0M3020.2 1649.5h0M3020.9 1653.1h0M3020.7 1656.7h0M3020.4 1660.4h0M3020.8 1664.0h0M3020.8 1667.6h0M3020.8 1671.2h0M3022.1 1621.5h0M3022.1 1625.0h0M3022.0 1628.5h0M3022.3 1632.0h0M3022.2 1635.5h0M3022.6 1639.0h0M3022.7 1642.5h0M3022.7 1646.0h0M3022.1 1649.5h0M3022.2 1653.0h0M3022.9 1656.6h0M3022.6 1660.1h0M3022.4 1663.6h0M3022.1 1667.1h0M3022.2 1670.6h0M3022.3 1674.1h0M3022.8 1677.6h0M3022.5 1681.1h0M3022.9 1684.6h0M3022.5 1688.1h0M3022.2 1691.6h0M3022.7 1695.1h0M3022.3 1698.7h0M3022.5 1702.2h0M3022.7 1705.7h0M3022.6 1709.2h0M3022.7 1712.7h0M3022.0 1716.2h0M3024.4 1622.7h0M3025.0 1626.3h0M3024.9 1630.0h0M3024.8 1633.6h0M3024.6 1637.2h0M3024.9 1640.8h0M3024.4 1644.4h0M3025.0 1648.0h0M3025.0 1651.6h0M3024.8 1655.2h0M3024.2 1658.8h0M3024.7 1662.4h0M3024.5 1666.0h0M3024.9 1669.6h0M3024.9 1673.2h0M3025.0 1676.8h0M3024.2 1680.4h0M3024.9 1684.0h0M3024.5 1687.6h0M3024.6 1691.2h0M3025.0 1694.8h0M3024.6 1698.4h0M3024.7 1702.0h0M3024.9 1705.6h0M3024.8 1709.2h0M3024.9 1712.8h0M3024.6 1716.4h0M3024.6 1720.0h0M3025.0 1723.6h0M3025.0 1727.2h0M3024.4 1730.8h0M3026.8 1604.9h0M3027.1 1608.4h0M3026.8 1612.0h0M3027.0 1615.5h0M3026.2 1619.1h0M3026.4 1622.6h0M3027.0 1626.2h0M3027.1 1629.7h0M3026.8 1633.2h0M3026.7 1636.8h0M3027.1 1640.3h0M3027.2 1643.9h0M3026.2 1647.4h0M3026.6 1651.0h0M3027.0 1654.5h0M3026.4 1658.0h0M3026.4 1661.6h0M3027.1 1665.1h0M3026.8 1668.7h0M3026.3 1672.2h0M3026.2 1675.8h0M3026.3 1679.3h0M3027.1 1682.9h0M3026.9 1686.4h0M3026.6 1689.9h0M3026.9 1693.5h0M3026.9 1697.0h0M3026.3 1700.6h0M3026.3 1704.1h0M3026.5 1707.7h0M3027.2 1711.2h0M3027.0 1714.7h0M3026.6 1718.3h0M3029.2 1632.5h0M3028.9 1636.0h0M3029.0 1639.6h0M3029.2 1643.2h0M3028.9 1646.7h0M3029.0 1650.3h0M3029.0 1653.8h0M3029.0 1657.4h0M3028.7 1660.9h0M3028.6 1664.5h0M3028.9 1668.1h0M3028.6 1671.6h0M3028.6 1675.2h0M3029.0 1678.7h0M3028.4 1682.3h0M3029.0 1685.9h0M3028.6 1689.4h0M3029.3 1693.0h0M3029.0 1696.5h0M3030.6 1628.1h0M3030.5 1631.7h0M3030.6 1635.3h0M3030.9 1638.8h0M3030.6 1642.4h0M3031.0 1646.0h0M3031.1 1649.6h0M3031.1 1653.1h0M3030.9 1656.7h0M3030.7 1660.3h0M3030.9 1663.9h0M3031.0 1667.4h0M3030.7 1671.0h0M3030.7 1674.6h0M3031.1 1678.2h0M3031.0 1681.7h0M3031.2 1685.3h0M3031.1 1688.9h0M3030.5 1692.5h0M3030.8 1696.0h0M3030.4 1699.6h0M3033.3 1664.4h0M3032.8 1668.0h0M3033.1 1671.7h0M3032.9 1675.3h0M3033.4 1679.0h0M3033.5 1682.6h0M3033.4 1686.3h0M3033.0 1689.9h0M3033.2 1693.6h0M3032.8 1697.2h0M3032.5 1700.9h0M3032.6 1704.5h0M3034.8 1651.8h0M3034.7 1655.5h0M3035.5 1659.2h0M3034.7 1663.0h0M3034.7 1666.7h0M3035.0 1670.5h0M3035.4 1674.2h0M3035.5 1678.0h0M3034.8 1681.7h0M3034.9 1685.4h0M3037.0 1642.5h0M3036.7 1646.2h0M3037.6 1649.9h0M3037.1 1653.6h0M3037.1 1657.4h0M3037.0 1661.1h0M3037.4 1664.8h0M3036.9 1668.5h0M3037.1 1672.2h0M3037.5 1675.9h0M3036.9 1679.7h0M3036.9 1683.4h0M3036.9 1687.1h0M3037.4 1690.8h0M3052.6 1622.9h0M3052.4 1626.4h0M3051.9 1630.0h0M3052.4 1633.5h0M3052.5 1637.1h0M3052.7 1640.6h0M3051.9 1644.1h0M3052.7 1647.7h0M3052.0 1651.2h0M3052.6 1654.7h0M3052.3 1658.3h0M3052.3 1661.8h0M3051.9 1665.3h0M3052.2 1668.9h0M3052.6 1672.4h0M3052.4 1675.9h0M3052.1 1679.5h0M3051.9 1683.0h0M3054.1 1604.5h0M3054.0 1608.2h0M3054.3 1611.8h0M3054.6 1615.5h0M3054.4 1619.1h0M3054.1 1622.8h0M3054.0 1626.4h0M3054.0 1630.1h0M3054.2 1633.8h0M3054.4 1637.4h0M3054.8 1641.1h0M3054.5 1644.7h0M3054.4 1648.4h0M3054.1 1652.0h0M3054.4 1655.7h0M3054.8 1659.3h0M3054.7 1663.0h0M3054.6 1666.6h0M3054.0 1670.3h0M3053.9 1673.9h0M3054.2 1677.6h0M3054.8 1681.2h0M3056.6 1596.3h0M3056.3 1599.8h0M3056.8 1603.3h0M3056.9 1606.8h0M3056.0 1610.3h0M3056.7 1613.8h0M3056.3 1617.3h0M3056.7 1620.9h0M3056.6 1624.4h0M3056.3 1627.9h0M3056.8 1631.4h0M3056.7 1634.9h0M3056.1 1638.4h0M3056.8 1641.9h0M3056.4 1645.4h0M3056.0 1648.9h0M3056.3 1652.4h0M3056.3 1656.0h0M3056.6 1659.5h0M3056.9 1663.0h0M3058.2 1552.8h0M3058.2 1556.3h0M3058.8 1559.8h0M3058.9 1563.4h0M3058.8 1566.9h0M3058.3 1570.4h0M3059.0 1573.9h0M3058.2 1577.4h0M3058.9 1580.9h0M3058.4 1584.4h0M3058.9 1587.9h0M3058.6 1591.4h0M3058.7 1594.9h0M3058.4 1598.4h0M3058.1 1601.9h0M3059.0 1605.4h0M3058.1 1608.9h0M3058.4 1612.4h0M3059.0 1615.9h0M3061.1 1599.5h0M3060.2 1603.1h0M3060.7 1606.8h0M3061.0 1610.4h0M3060.2 1614.0h0M3060.2 1617.6h0M3061.0 1621.3h0M3060.8 1624.9h0M3060.5 1628.5h0M3060.9 1632.2h0M3060.2 1635.8h0M3061.1 1639.4h0M3060.8 1643.0h0M3060.4 1646.7h0M3060.4 1650.3h0M3060.3 1653.9h0M3060.9 1657.5h0M3060.7 1661.2h0M3060.7 1664.8h0M3060.6 1668.4h0M3060.3 1672.1h0M3060.5 1675.7h0M3060.6 1679.3h0M3060.2 1682.9h0M3060.4 1686.6h0M3062.6 1577.6h0M3062.9 1581.2h0M3062.7 1584.8h0M3062.8 1588.3h0M3062.6 1591.9h0M3063.2 1595.5h0M3063.0 1599.1h0M3062.3 1602.6h0M3062.5 1606.2h0M3062.4 1609.8h0M3062.3 1613.3h0M3062.6 1616.9h0M3062.3 1620.5h0M3063.1 1624.0h0M3063.0 1627.6h0M3062.6 1631.2h0M3062.6 1634.7h0M3062.9 1638.3h0M3062.8 1641.9h0M3063.2 1645.4h0M3062.3 1649.0h0M3062.4 1652.6h0M3063.1 1656.1h0M3062.3 1659.7h0M3062.7 1663.3h0M3063.0 1666.8h0M3062.7 1670.4h0M3064.5 1585.3h0M3064.4 1588.9h0M3064.5 1592.5h0M3064.9 1596.1h0M3065.3 1599.7h0M3065.3 1603.3h0M3065.2 1606.9h0M3065.0 1610.5h0M3065.1 1614.1h0M3064.5 1617.7h0M3064.9 1621.3h0M3064.8 1624.9h0M3064.6 1628.5h0M3064.8 1632.1h0M3064.7 1635.7h0M3064.4 1639.3h0M3065.2 1642.9h0M3065.2 1646.5h0M3064.4 1650.1h0M3064.6 1653.7h0M3065.0 1657.3h0M3065.0 1661.0h0M3065.0 1664.6h0M3064.9 1668.2h0M3065.1 1671.8h0M3064.7 1675.4h0M3064.9 1679.0h0M3065.0 1682.6h0M3065.0 1686.2h0M3065.2 1689.8h0M3064.7 1693.4h0M3064.6 1697.0h0M3064.8 1700.6h0M3064.4 1704.2h0M3067.0 1594.9h0M3067.3 1598.4h0M3066.7 1601.9h0M3067.2 1605.4h0M3066.6 1609.0h0M3067.2 1612.5h0M3066.5 1616.0h0M3066.8 1619.5h0M3067.3 1623.0h0M3066.8 1626.5h0M3066.5 1630.0h0M3066.8 1633.5h0M3067.0 1637.0h0M3066.8 1640.5h0M3066.6 1644.0h0M3066.8 1647.5h0M3067.4 1651.0h0M3067.4 1654.5h0M3067.1 1658.0h0M3067.3 1661.6h0M3066.6 1665.1h0M3066.5 1668.6h0M3067.0 1672.1h0M3066.5 1675.6h0M3067.1 1679.1h0M3066.6 1682.6h0M3067.1 1686.1h0M3066.8 1689.6h0M3069.1 1586.1h0M3069.0 1589.7h0M3068.7 1593.3h0M3069.3 1596.9h0M3068.6 1600.5h0M3068.6 1604.1h0M3068.6 1607.7h0M3068.8 1611.3h0M3069.1 1614.9h0M3068.9 1618.5h0M3068.6 1622.0h0M3069.5 1625.6h0M3069.1 1629.2h0M3069.2 1632.8h0M3069.4 1636.4h0M3068.7 1640.0h0M3068.7 1643.6h0M3069.2 1647.2h0M3068.8 1650.8h0M3069.3 1654.4h0M3069.5 1658.0h0M3068.6 1661.5h0M3069.0 1665.1h0M3069.1 1668.7h0M3069.5 1672.3h0M3069.5 1675.9h0M3068.7 1679.5h0M3068.8 1683.1h0M3068.8 1686.7h0M3068.9 1690.3h0M3071.1 1577.0h0M3071.3 1580.5h0M3070.7 1584.1h0M3071.1 1587.6h0M3071.1 1591.1h0M3071.3 1594.6h0M3070.8 1598.1h0M3071.1 1601.6h0M3071.2 1605.2h0M3071.6 1608.7h0M3071.4 1612.2h0M3070.9 1615.7h0M3070.8 1619.2h0M3071.0 1622.7h0M3071.3 1626.2h0M3071.1 1629.8h0M3071.0 1633.3h0M3071.4 1636.8h0M3070.8 1640.3h0M3070.8 1643.8h0M3071.1 1647.3h0M3071.2 1650.9h0M3070.9 1654.4h0M3070.9 1657.9h0M3071.0 1661.4h0M3070.8 1664.9h0M3073.7 1591.5h0M3073.3 1595.0h0M3073.1 1598.6h0M3073.4 1602.1h0M3073.4 1605.6h0M3072.8 1609.2h0M3072.8 1612.7h0M3073.0 1616.2h0M3073.5 1619.8h0M3073.5 1623.3h0M3073.5 1626.8h0M3072.8 1630.4h0M3073.1 1633.9h0M3073.1 1637.5h0M3073.7 1641.0h0M3073.1 1644.5h0M3073.3 1648.1h0M3072.8 1651.6h0M3073.7 1655.1h0M3073.4 1658.7h0M3073.0 1662.2h0M3075.0 1576.5h0M3075.2 1580.0h0M3075.8 1583.6h0M3075.2 1587.1h0M3075.1 1590.7h0M3074.9 1594.2h0M3075.0 1597.7h0M3075.2 1601.3h0M3075.1 1604.8h0M3074.9 1608.3h0M3075.4 1611.9h0M3075.3 1615.4h0M3075.7 1619.0h0M3075.0 1622.5h0M3075.2 1626.0h0M3075.2 1629.6h0M3075.5 1633.1h0M3074.9 1636.6h0M3075.0 1640.2h0M3075.5 1643.7h0M3075.3 1647.2h0M3077.0 1592.2h0M3077.8 1595.9h0M3077.2 1599.6h0M3077.3 1603.3h0M3077.5 1607.0h0M3077.7 1610.7h0M3077.6 1614.4h0M3077.7 1618.1h0M3077.5 1621.8h0M3077.9 1625.5h0M3077.4 1629.2h0M3077.2 1632.9h0M3077.8 1636.6h0M3077.7 1640.3h0M3077.8 1644.0h0M3077.0 1647.7h0M3079.8 1596.4h0M3079.6 1600.0h0M3079.9 1603.7h0M3079.5 1607.3h0M3079.2 1611.0h0M3079.1 1614.6h0M3079.7 1618.3h0M3080.0 1621.9h0M3079.4 1625.6h0M3079.1 1629.2h0M3079.2 1632.9h0M3079.1 1636.5h0M3079.3 1640.1h0M3079.4 1643.8h0M3079.1 1647.4h0M3079.7 1651.1h0M3079.8 1654.7h0M3079.9 1658.4h0M3079.6 1662.0h0M3081.7 1578.2h0M3081.7 1581.8h0M3082.1 1585.3h0M3081.9 1588.9h0M3082.0 1592.4h0M3082.0 1596.0h0M3082.1 1599.5h0M3081.3 1603.1h0M3082.0 1606.6h0M3081.7 1610.2h0M3081.6 1613.8h0M3081.6 1617.3h0M3081.2 1620.9h0M3082.0 1624.4h0M3081.6 1628.0h0M3081.8 1631.5h0M3081.8 1635.1h0M3081.8 1638.6h0M3081.3 1642.2h0M3081.2 1645.7h0M3083.6 1597.9h0M3083.7 1601.4h0M3083.9 1604.9h0M3083.4 1608.4h0M3083.9 1612.0h0M3083.7 1615.5h0M3083.7 1619.0h0M3083.5 1622.6h0M3084.0 1626.1h0M3085.9 1598.3h0M3086.3 1601.8h0M3085.6 1605.4h0M3085.4 1608.9h0M3085.8 1612.5h0M3085.3 1616.0h0M3085.7 1619.6h0M3086.0 1623.2h0M3085.4 1626.7h0M3085.3 1630.3h0M3086.1 1633.8h0M3086.1 1637.4h0M3085.7 1640.9h0M3085.4 1644.5h0M3085.6 1648.0h0M3085.8 1651.6h0M3086.2 1655.1h0M3085.4 1658.7h0M3087.9 1612.8h0M3087.5 1616.3h0M3087.8 1619.9h0M3087.7 1623.5h0M3087.6 1627.0h0M3087.6 1630.6h0M3087.6 1634.2h0M3087.7 1637.7h0M3088.0 1641.3h0M3087.8 1644.9h0M3088.4 1648.4h0M3090.5 1599.4h0M3090.5 1603.0h0M3089.8 1606.6h0M3090.5 1610.2h0M3089.8 1613.8h0M3089.8 1617.3h0M3090.5 1620.9h0M3090.1 1624.5h0M3090.1 1628.1h0M3090.1 1631.7h0M3089.7 1635.2h0M3090.0 1638.8h0M3090.4 1642.4h0M3089.6 1646.0h0M3090.2 1649.6h0M3089.8 1653.1h0M3090.2 1656.7h0M3090.5 1660.3h0M3090.3 1663.9h0M3090.1 1667.5h0M3090.5 1671.0h0M3090.2 1674.6h0M3092.1 1588.3h0M3092.3 1591.9h0M3092.0 1595.4h0M3092.1 1599.0h0M3091.7 1602.5h0M3092.5 1606.1h0M3092.0 1609.6h0M3092.4 1613.2h0M3092.5 1616.7h0M3092.5 1620.2h0M3091.8 1623.8h0M3092.6 1627.3h0M3091.8 1630.9h0M3092.2 1634.4h0M3092.4 1638.0h0M3092.6 1641.5h0M3092.3 1645.1h0M3092.3 1648.6h0M3091.8 1652.2h0M3091.7 1655.7h0M3092.4 1659.3h0M3091.7 1662.8h0M3092.6 1666.3h0M3094.6 1567.9h0M3094.6 1571.5h0M3094.6 1575.0h0M3094.0 1578.5h0M3093.8 1582.0h0M3094.3 1585.5h0M3094.7 1589.1h0M3094.6 1592.6h0M3094.4 1596.1h0M3094.1 1599.6h0M3094.2 1603.2h0M3094.0 1606.7h0M3094.4 1610.2h0M3094.4 1613.7h0M3093.9 1617.3h0M3093.9 1620.8h0M3093.9 1624.3h0M3094.5 1627.8h0M3093.9 1631.4h0M3094.6 1634.9h0M3094.5 1638.4h0M3094.1 1641.9h0M3094.5 1645.5h0M3094.6 1649.0h0M3096.2 1565.3h0M3096.4 1568.9h0M3096.6 1572.5h0M3096.6 1576.1h0M3096.6 1579.7h0M3096.3 1583.3h0M3096.7 1586.9h0M3096.7 1590.5h0M3096.5 1594.1h0M3096.0 1597.7h0M3096.2 1601.3h0M3096.0 1604.9h0M3096.5 1608.5h0M3096.8 1612.1h0M3096.2 1615.8h0M3096.3 1619.4h0M3096.7 1623.0h0M3096.2 1626.6h0M3096.0 1630.2h0M3096.1 1633.8h0M3096.8 1637.4h0M3096.3 1641.0h0M3096.8 1644.6h0M3096.1 1648.2h0M3096.2 1651.8h0M3096.4 1655.4h0M3096.1 1659.0h0M3096.4 1662.6h0M3096.5 1666.2h0M3096.0 1669.9h0M3098.6 1569.6h0M3098.0 1573.1h0M3098.5 1576.7h0M3098.6 1580.3h0M3098.2 1583.8h0M3098.4 1587.4h0M3098.9 1591.0h0M3098.1 1594.5h0M3098.6 1598.1h0M3098.3 1601.7h0M3098.7 1605.2h0M3098.2 1608.8h0M3098.2 1612.4h0M3098.7 1615.9h0M3098.1 1619.5h0M3098.1 1623.1h0M3098.1 1626.6h0M3098.2 1630.2h0M3098.4 1633.8h0M3098.9 1637.3h0M3098.8 1640.9h0M3098.0 1644.5h0M3098.2 1648.0h0M3098.5 1651.6h0M3098.1 1655.2h0M3098.0 1658.7h0M3111.4 1577.6h0M3111.1 1581.1h0M3111.0 1584.7h0M3111.0 1588.2h0M3110.8 1591.8h0M3111.3 1595.3h0M3110.8 1598.9h0M3111.4 1602.5h0M3111.5 1606.0h0M3110.9 1609.6h0M3110.6 1613.1h0M3110.9 1616.7h0M3111.5 1620.3h0M3110.9 1623.8h0M3111.0 1627.4h0M3111.1 1630.9h0M3110.7 1634.5h0M3111.0 1638.0h0M3112.8 1572.8h0M3112.9 1576.3h0M3113.2 1579.8h0M3113.6 1583.3h0M3113.3 1586.8h0M3113.6 1590.3h0M3113.1 1593.8h0M3113.6 1597.3h0M3113.4 1600.8h0M3112.9 1604.3h0M3112.7 1607.8h0M3113.1 1611.3h0M3113.6 1614.8h0M3113.3 1618.3h0M3113.0 1621.8h0M3113.5 1625.3h0M3112.7 1628.8h0M3112.8 1632.3h0M3113.6 1635.8h0M3112.7 1639.4h0M3112.8 1642.9h0M3112.7 1646.4h0M3113.2 1649.9h0M3113.5 1653.4h0M3113.5 1656.9h0M3114.8 1588.2h0M3115.5 1591.8h0M3115.6 1595.4h0M3115.7 1599.0h0M3114.9 1602.6h0M3115.2 1606.2h0M3114.9 1609.8h0M3115.3 1613.4h0M3115.6 1617.0h0M3115.4 1620.6h0M3115.2 1624.2h0M3115.3 1627.8h0M3115.7 1631.4h0M3115.4 1635.1h0M3115.1 1638.7h0M3115.7 1642.3h0M3115.2 1645.9h0M3114.9 1649.5h0M3115.7 1653.1h0M3117.1 1593.4h0M3117.6 1597.0h0M3117.6 1600.6h0M3116.9 1604.2h0M3117.0 1607.8h0M3116.9 1611.4h0M3117.6 1615.0h0M3117.5 1618.6h0M3117.6 1622.2h0M3117.1 1625.8h0M3117.2 1629.4h0M3117.0 1633.0h0M3117.5 1636.6h0M3116.9 1640.2h0M3117.6 1643.8h0M3116.9 1647.4h0M3117.0 1651.0h0M3116.9 1654.6h0M3119.7 1600.3h0M3119.9 1604.2h0M3119.2 1608.1h0M3119.7 1612.0h0M3119.6 1616.0h0M3119.4 1619.9h0M3119.8 1623.8h0M3119.1 1627.7h0M3119.3 1631.6h0M3121.9 1610.9h0M3122.0 1614.5h0M3121.4 1618.1h0M3121.5 1621.7h0M3121.6 1625.3h0M3121.7 1628.9h0M3121.2 1632.5h0M3121.9 1636.1h0M3121.5 1639.8h0M3121.7 1643.4h0M3123.7 1618.4h0M3123.7 1622.0h0M3124.1 1625.5h0M3124.0 1629.0h0M3124.1 1632.5h0M3123.9 1636.0h0M3123.7 1639.5h0M3123.4 1643.0h0M3123.3 1646.5h0M3123.4 1650.0h0M3124.0 1653.5h0M3124.0 1657.1h0M3123.2 1660.6h0M3123.7 1664.1h0M3123.3 1667.6h0M3125.5 1618.3h0M3125.4 1621.9h0M3125.8 1625.4h0M3125.9 1628.9h0M3126.0 1632.5h0M3126.0 1636.0h0M3125.8 1639.6h0M3126.1 1643.1h0M3125.4 1646.6h0M3126.1 1650.2h0M3125.5 1653.7h0M3125.4 1657.3h0M3125.3 1660.8h0M3125.6 1664.3h0M3125.8 1667.9h0M3136.2 1592.7h0M3136.3 1596.2h0M3136.0 1599.7h0M3136.1 1603.2h0M3136.2 1606.8h0M3136.1 1610.3h0M3136.0 1613.8h0M3136.3 1617.3h0M3136.0 1620.9h0M3136.0 1624.4h0M3135.9 1627.9h0M3136.5 1631.4h0M3135.8 1635.0h0M3136.7 1638.5h0M3136.4 1642.0h0M3135.9 1645.5h0M3136.0 1649.1h0M3136.3 1652.6h0M3138.8 1564.7h0M3138.6 1568.3h0M3138.6 1571.9h0M3138.3 1575.5h0M3138.2 1579.1h0M3138.7 1582.7h0M3138.1 1586.2h0M3138.8 1589.8h0M3138.8 1593.4h0M3138.3 1597.0h0M3137.8 1600.6h0M3138.8 1604.2h0M3138.0 1607.8h0M3138.8 1611.3h0M3138.8 1614.9h0M3138.1 1618.5h0M3137.9 1622.1h0M3138.1 1625.7h0M3137.9 1629.3h0M3138.8 1632.8h0M3138.7 1636.4h0M3138.3 1640.0h0M3138.3 1643.6h0M3138.4 1647.2h0M3138.5 1650.8h0M3138.4 1654.4h0M3138.3 1657.9h0M3138.0 1661.5h0M3138.4 1665.1h0M3140.5 1604.1h0M3140.0 1607.7h0M3140.6 1611.2h0M3140.6 1614.8h0M3140.3 1618.3h0M3140.0 1621.9h0M3140.8 1625.5h0M3140.6 1629.0h0M3140.5 1632.6h0M3140.0 1636.1h0M3140.9 1639.7h0M3140.0 1643.3h0M3140.5 1646.8h0M3140.5 1650.4h0M3140.1 1653.9h0M3140.0 1657.5h0M3140.3 1661.1h0M3140.8 1664.6h0M3140.6 1668.2h0M3140.5 1671.7h0M3140.8 1675.3h0M3140.8 1678.9h0M3140.4 1682.4h0M3142.1 1591.1h0M3142.7 1594.8h0M3142.6 1598.4h0M3142.8 1602.0h0M3142.6 1605.7h0M3142.1 1609.3h0M3142.3 1612.9h0M3142.4 1616.6h0M3142.8 1620.2h0M3142.1 1623.9h0M3142.3 1627.5h0M3142.8 1631.1h0M3142.7 1634.8h0M3142.7 1638.4h0M3142.6 1642.0h0M3142.4 1645.7h0M3142.6 1649.3h0M3142.4 1653.0h0M3142.2 1656.6h0M3142.4 1660.2h0M3142.9 1663.9h0M3142.6 1667.5h0M3142.4 1671.1h0M3142.7 1674.8h0M3144.5 1545.1h0M3144.6 1548.7h0M3144.9 1552.3h0M3144.9 1555.8h0M3144.5 1559.4h0M3144.8 1562.9h0M3144.2 1566.5h0M3144.2 1570.1h0M3144.6 1573.6h0M3144.5 1577.2h0M3144.7 1580.7h0M3144.5 1584.3h0M3144.8 1587.9h0M3144.4 1591.4h0M3145.0 1595.0h0M3144.3 1598.5h0M3144.9 1602.1h0M3144.2 1605.7h0M3144.4 1609.2h0M3144.9 1612.8h0M3145.0 1616.3h0M3144.8 1619.9h0M3144.8 1623.5h0M3144.8 1627.0h0M3144.4 1630.6h0M3144.4 1634.1h0M3145.1 1637.7h0M3144.2 1641.3h0M3144.9 1644.8h0M3145.0 1648.4h0M3144.2 1651.9h0M3144.9 1655.5h0M3145.1 1659.1h0M3145.1 1662.6h0M3145.1 1666.2h0M3144.5 1669.7h0M3144.4 1673.3h0M3144.7 1676.9h0M3144.2 1680.4h0M3144.9 1684.0h0M3144.6 1687.5h0M3147.0 1577.2h0M3147.0 1580.7h0M3146.8 1584.2h0M3146.4 1587.7h0M3146.7 1591.3h0M3146.7 1594.8h0M3147.1 1598.3h0M3146.3 1601.8h0M3147.2 1605.4h0M3147.0 1608.9h0M3146.6 1612.4h0M3147.1 1615.9h0M3146.9 1619.4h0M3146.8 1623.0h0M3146.9 1626.5h0M3147.0 1630.0h0M3146.6 1633.5h0M3146.8 1637.0h0M3146.5 1640.6h0M3147.0 1644.1h0M3147.0 1647.6h0M3146.7 1651.1h0M3147.1 1654.7h0M3146.6 1658.2h0M3147.1 1661.7h0M3146.7 1665.2h0M3147.0 1668.7h0M3146.7 1672.3h0M3146.6 1675.8h0M3146.5 1679.3h0M3147.1 1682.8h0M3147.2 1686.3h0M3146.7 1689.9h0M3149.3 1626.8h0M3148.4 1630.4h0M3149.1 1634.1h0M3149.2 1637.7h0M3149.2 1641.3h0M3148.7 1644.9h0M3148.5 1648.6h0M3148.4 1652.2h0M3149.0 1655.8h0M3148.5 1659.4h0M3149.2 1663.1h0M3148.7 1666.7h0M3149.3 1670.3h0M3148.4 1673.9h0M3148.9 1677.5h0M3148.5 1681.2h0M3151.3 1635.5h0M3150.8 1639.2h0M3151.2 1642.9h0M3151.3 1646.7h0M3150.6 1650.4h0M3150.5 1654.1h0M3151.0 1657.8h0M3150.8 1661.5h0M3150.5 1665.2h0M3151.4 1668.9h0M3152.9 1608.8h0M3153.0 1612.3h0M3153.5 1615.8h0M3152.8 1619.3h0M3153.1 1622.8h0M3152.7 1626.4h0M3153.4 1629.9h0M3152.7 1633.4h0M3152.6 1636.9h0M3153.3 1640.4h0M3153.3 1644.0h0M3152.7 1647.5h0M3152.6 1651.0h0M3153.2 1654.5h0M3152.8 1658.0h0M3153.2 1661.5h0M3153.4 1665.1h0M3152.9 1668.6h0M3152.6 1672.1h0M3153.2 1675.6h0M3152.8 1679.1h0M3153.2 1682.6h0M3153.5 1686.2h0M3153.5 1689.7h0M3155.2 1645.0h0M3155.2 1648.5h0M3154.8 1652.0h0M3155.6 1655.6h0M3155.5 1659.1h0M3155.3 1662.7h0M3154.8 1666.2h0M3155.1 1669.8h0M3155.2 1673.3h0M3155.6 1676.9h0M3155.6 1680.4h0M3154.8 1683.9h0M3155.5 1687.5h0M3154.7 1691.0h0M3154.8 1694.6h0M3156.9 1625.0h0M3157.6 1628.6h0M3157.2 1632.2h0M3157.3 1635.8h0M3157.3 1639.4h0M3156.8 1643.0h0M3156.8 1646.6h0M3157.6 1650.2h0M3157.1 1653.8h0M3157.2 1657.4h0M3157.3 1661.0h0M3157.1 1664.5h0M3157.1 1668.1h0M3157.1 1671.7h0M3157.3 1675.3h0M3157.0 1678.9h0M3157.2 1682.5h0M3157.3 1686.1h0M3183.6 1674.0h0M3183.6 1677.7h0M3183.3 1681.4h0M3183.3 1685.1h0M3183.7 1688.7h0M3183.6 1692.4h0M3183.7 1696.1h0M3183.6 1699.8h0M3183.8 1703.5h0M3183.9 1707.2h0M3182.9 1710.9h0M3183.9 1714.5h0M3183.5 1718.2h0M3185.8 1664.5h0M3185.9 1668.0h0M3185.5 1671.6h0M3185.9 1675.1h0M3185.3 1678.6h0M3185.6 1682.2h0M3185.4 1685.7h0M3185.6 1689.2h0M3186.0 1692.8h0M3186.0 1696.3h0M3185.1 1699.9h0M3185.9 1703.4h0M3185.6 1706.9h0M3185.8 1710.5h0M3185.2 1714.0h0M3185.4 1717.5h0M3185.6 1721.1h0M3187.3 1637.9h0M3187.7 1641.5h0M3187.8 1645.1h0M3187.5 1648.6h0M3187.6 1652.2h0M3187.2 1655.8h0M3187.3 1659.4h0M3187.9 1662.9h0M3187.3 1666.5h0M3187.7 1670.1h0M3187.8 1673.7h0M3187.2 1677.2h0M3187.2 1680.8h0M3188.1 1684.4h0M3188.0 1688.0h0M3187.2 1691.5h0M3187.5 1695.1h0M3187.4 1698.7h0M3189.9 1640.0h0M3189.9 1643.6h0M3189.9 1647.1h0M3189.7 1650.7h0M3189.7 1654.2h0M3189.5 1657.7h0M3189.3 1661.3h0M3189.3 1664.8h0M3189.8 1668.4h0M3189.9 1671.9h0M3189.9 1675.5h0M3189.7 1679.0h0M3190.1 1682.5h0M3189.7 1686.1h0M3189.7 1689.6h0M3189.6 1693.2h0M3189.9 1696.7h0M3189.6 1700.2h0M3190.0 1703.8h0M3190.2 1707.3h0M3189.3 1710.9h0M3190.0 1714.4h0M3190.2 1717.9h0M3191.7 1635.2h0M3191.9 1638.8h0M3191.9 1642.5h0M3191.4 1646.1h0M3191.7 1649.7h0M3191.5 1653.3h0M3192.2 1656.9h0M3191.4 1660.5h0M3191.6 1664.2h0M3191.6 1667.8h0M3191.4 1671.4h0M3191.6 1675.0h0M3192.0 1678.6h0M3191.8 1682.2h0M3192.1 1685.8h0M3192.3 1689.5h0M3191.6 1693.1h0M3191.7 1696.7h0M3191.9 1700.3h0M3191.9 1703.9h0M3191.7 1707.5h0M3191.5 1711.2h0M3191.6 1714.8h0M3193.9 1628.8h0M3194.1 1632.3h0M3194.2 1635.8h0M3194.3 1639.3h0M3193.6 1642.8h0M3194.2 1646.3h0M3193.9 1649.8h0M3194.2 1653.3h0M3194.1 1656.9h0M3194.0 1660.4h0M3194.1 1663.9h0M3193.9 1667.4h0M3194.4 1670.9h0M3194.2 1674.4h0M3194.1 1677.9h0M3194.3 1681.4h0M3193.8 1684.9h0M3193.5 1688.4h0M3193.7 1691.9h0M3194.2 1695.4h0M3194.0 1698.9h0M3206.2 1598.6h0M3207.0 1602.2h0M3206.1 1605.9h0M3206.4 1609.5h0M3206.5 1613.2h0M3206.3 1616.9h0M3206.8 1620.5h0M3206.6 1624.2h0M3206.6 1627.8h0M3207.0 1631.5h0M3206.3 1635.1h0M3206.4 1638.8h0M3206.4 1642.4h0M3206.7 1646.1h0M3206.4 1649.8h0M3206.8 1653.4h0M3206.6 1657.1h0M3206.5 1660.7h0M3208.4 1555.4h0M3208.2 1559.0h0M3209.1 1562.7h0M3209.1 1566.3h0M3209.1 1569.9h0M3208.8 1573.5h0M3208.8 1577.2h0M3208.3 1580.8h0M3208.6 1584.4h0M3208.9 1588.1h0M3209.1 1591.7h0M3208.6 1595.3h0M3208.2 1599.0h0M3208.3 1602.6h0M3208.2 1606.2h0M3208.7 1609.9h0M3208.3 1613.5h0M3209.1 1617.1h0M3208.9 1620.8h0M3208.8 1624.4h0M3210.7 1596.2h0M3211.1 1599.9h0M3210.7 1603.6h0M3211.2 1607.3h0M3210.4 1611.0h0M3210.3 1614.7h0M3210.9 1618.3h0M3210.7 1622.0h0M3210.7 1625.7h0M3211.0 1629.4h0M3210.7 1633.1h0M3210.6 1636.8h0M3210.7 1640.5h0M3212.6 1586.2h0M3212.8 1589.8h0M3212.6 1593.5h0M3213.3 1597.2h0M3212.5 1600.9h0M3212.7 1604.5h0M3212.5 1608.2h0M3212.9 1611.9h0M3212.5 1615.5h0M3212.4 1619.2h0M3212.9 1622.9h0M3212.8 1626.6h0M3212.5 1630.2h0M3213.3 1633.9h0M3212.4 1637.6h0M3215.1 1569.4h0M3214.8 1573.1h0M3214.6 1576.7h0M3215.4 1580.3h0M3214.5 1584.0h0M3214.8 1587.6h0M3214.7 1591.2h0M3214.8 1594.9h0M3215.2 1598.5h0M3214.5 1602.2h0M3214.5 1605.8h0M3214.5 1609.4h0M3214.7 1613.1h0M3216.7 1554.9h0M3217.2 1558.6h0M3217.4 1562.2h0M3217.5 1565.8h0M3217.3 1569.4h0M3216.9 1573.1h0M3216.6 1576.7h0M3217.4 1580.3h0M3217.2 1584.0h0M3217.4 1587.6h0M3217.1 1591.2h0M3216.8 1594.8h0M3216.9 1598.5h0M3217.2 1602.1h0M3217.0 1605.7h0M3219.5 1559.4h0M3219.3 1562.9h0M3219.6 1566.4h0M3219.3 1569.9h0M3219.5 1573.4h0M3219.4 1576.9h0M3218.8 1580.4h0M3219.0 1583.9h0M3218.7 1587.4h0M3218.7 1590.9h0M3219.4 1594.4h0M3219.5 1597.9h0M3219.1 1601.5h0M3219.1 1605.0h0M3219.1 1608.5h0M3219.0 1612.0h0M3219.1 1615.5h0M3219.0 1619.0h0M3219.6 1622.5h0M3219.4 1626.0h0M3218.8 1629.5h0M3219.4 1633.0h0M3219.1 1636.5h0M3221.2 1583.5h0M3221.6 1587.1h0M3221.3 1590.7h0M3221.2 1594.3h0M3221.6 1597.8h0M3221.0 1601.4h0M3221.2 1605.0h0M3221.0 1608.6h0M3221.0 1612.1h0M3221.3 1615.7h0M3221.2 1619.3h0M3221.3 1622.9h0M3220.9 1626.4h0M3221.5 1630.0h0M3221.5 1633.6h0M3221.6 1637.2h0M3221.3 1640.7h0M3221.6 1644.3h0M3221.1 1647.9h0M3221.5 1651.5h0M3221.7 1655.1h0M3220.9 1658.6h0M3221.5 1662.2h0M3221.4 1665.8h0M3223.1 1532.5h0M3223.7 1536.0h0M3223.1 1539.5h0M3223.5 1543.0h0M3223.0 1546.6h0M3223.1 1550.1h0M3223.8 1553.6h0M3223.3 1557.1h0M3223.6 1560.6h0M3223.8 1564.2h0M3222.9 1567.7h0M3223.6 1571.2h0M3223.7 1574.7h0M3223.5 1578.3h0M3223.3 1581.8h0M3223.2 1585.3h0M3223.1 1588.8h0M3223.1 1592.3h0M3223.0 1595.9h0M3223.8 1599.4h0M3223.8 1602.9h0M3223.7 1606.4h0M3223.3 1610.0h0M3223.2 1613.5h0M3223.3 1617.0h0M3223.1 1620.5h0M3223.1 1624.0h0M3223.0 1627.6h0M3223.5 1631.1h0M3223.1 1634.6h0M3223.3 1638.1h0M3222.9 1641.7h0M3223.7 1645.2h0M3223.8 1648.7h0M3223.0 1652.2h0M3223.4 1655.7h0M3223.3 1659.3h0M3223.4 1662.8h0M3223.5 1666.3h0M3222.9 1669.8h0M3222.9 1673.4h0M3223.7 1676.9h0M3223.2 1680.4h0M3223.7 1683.9h0M3223.3 1687.4h0M3225.3 1528.4h0M3225.2 1532.0h0M3225.9 1535.6h0M3225.7 1539.2h0M3225.9 1542.8h0M3225.3 1546.4h0M3225.2 1550.0h0M3225.4 1553.6h0M3225.6 1557.2h0M3225.6 1560.8h0M3225.4 1564.4h0M3225.5 1568.0h0M3225.1 1571.6h0M3225.6 1575.2h0M3225.4 1578.8h0M3225.0 1582.4h0M3225.4 1585.9h0M3225.2 1589.5h0M3225.7 1593.1h0M3225.4 1596.7h0M3225.0 1600.3h0M3225.5 1603.9h0M3225.2 1607.5h0M3225.9 1611.1h0M3225.9 1614.7h0M3225.8 1618.3h0M3225.0 1621.9h0M3225.0 1625.5h0M3225.4 1629.1h0M3225.5 1632.7h0M3227.7 1501.8h0M3227.1 1505.3h0M3227.9 1508.8h0M3227.2 1512.3h0M3228.0 1515.8h0M3227.3 1519.3h0M3227.5 1522.9h0M3227.9 1526.4h0M3227.1 1529.9h0M3227.9 1533.4h0M3227.5 1536.9h0M3227.5 1540.4h0M3227.4 1544.0h0M3227.2 1547.5h0M3227.4 1551.0h0M3227.5 1554.5h0M3227.3 1558.0h0M3227.5 1561.5h0M3227.8 1565.1h0M3227.7 1568.6h0M3227.9 1572.1h0M3227.7 1575.6h0M3227.4 1579.1h0M3228.0 1582.6h0M3227.6 1586.2h0M3227.5 1589.7h0M3227.7 1593.2h0M3227.4 1596.7h0M3229.5 1553.3h0M3229.6 1556.9h0M3229.9 1560.5h0M3229.3 1564.1h0M3229.2 1567.7h0M3229.6 1571.3h0M3230.0 1574.9h0M3229.4 1578.5h0M3230.0 1582.1h0M3230.0 1585.7h0M3229.4 1589.3h0M3230.1 1593.0h0M3229.2 1596.6h0M3229.2 1600.2h0M3230.1 1603.8h0M3229.2 1607.4h0M3230.0 1611.0h0M3230.0 1614.6h0M3230.1 1618.2h0M3229.5 1621.8h0M3232.0 1573.0h0M3231.6 1576.6h0M3231.6 1580.2h0M3231.6 1583.8h0M3231.3 1587.4h0M3232.0 1591.0h0M3232.2 1594.6h0M3231.9 1598.2h0M3232.2 1601.8h0M3231.6 1605.4h0M3231.3 1609.1h0M3231.5 1612.7h0M3234.2 1543.6h0M3234.3 1547.1h0M3234.2 1550.6h0M3233.9 1554.1h0M3233.4 1557.6h0M3233.5 1561.1h0M3233.7 1564.6h0M3234.2 1568.1h0M3233.5 1571.6h0M3233.9 1575.2h0M3233.5 1578.7h0M3234.0 1582.2h0M3233.6 1585.7h0M3233.8 1589.2h0M3233.9 1592.7h0M3234.1 1596.2h0M3233.4 1599.7h0M3234.3 1603.2h0M3233.3 1606.7h0M3233.4 1610.2h0M3234.0 1613.7h0M3233.7 1617.3h0M3235.8 1544.8h0M3235.7 1548.3h0M3235.9 1551.9h0M3236.1 1555.4h0M3235.6 1558.9h0M3235.9 1562.4h0M3236.2 1566.0h0M3235.8 1569.5h0M3235.8 1573.0h0M3236.3 1576.6h0M3236.1 1580.1h0M3235.7 1583.6h0M3235.6 1587.1h0M3235.7 1590.7h0M3236.4 1594.2h0M3236.1 1597.7h0M3235.7 1601.2h0M3235.7 1604.8h0M3235.6 1608.3h0M3235.8 1611.8h0M3235.7 1615.4h0M3235.6 1618.9h0M3238.2 1559.5h0M3237.9 1563.0h0M3237.7 1566.5h0M3238.5 1570.0h0M3238.5 1573.5h0M3238.5 1577.0h0M3238.0 1580.5h0M3237.7 1584.0h0M3238.4 1587.6h0M3237.7 1591.1h0M3237.8 1594.6h0M3237.9 1598.1h0M3237.6 1601.6h0M3238.2 1605.1h0M3237.8 1608.6h0M3238.2 1612.1h0M3238.1 1615.6h0M3238.5 1619.1h0M3237.7 1622.6h0M3237.8 1626.1h0M3238.2 1629.6h0M3237.6 1633.1h0M3238.5 1636.6h0M3240.4 1566.0h0M3240.1 1569.7h0M3239.7 1573.4h0M3239.9 1577.1h0M3239.7 1580.8h0M3240.3 1584.5h0M3240.2 1588.3h0M3240.1 1592.0h0M3239.8 1595.7h0M3240.0 1599.4h0M3240.3 1603.1h0M3240.4 1606.8h0M3240.2 1610.5h0M3242.6 1578.3h0M3241.8 1581.8h0M3242.1 1585.4h0M3241.9 1589.0h0M3242.2 1592.5h0M3242.1 1596.1h0M3242.5 1599.6h0M3241.9 1603.2h0M3242.1 1606.8h0M3242.3 1610.3h0M3241.8 1613.9h0M3242.2 1617.5h0M3242.7 1621.0h0M3242.5 1624.6h0M3241.8 1628.2h0M3242.2 1631.7h0M3242.7 1635.3h0M3242.1 1638.8h0M3241.8 1642.4h0M3242.4 1646.0h0M3241.8 1649.5h0M3242.3 1653.1h0M3241.8 1656.7h0M3242.2 1660.2h0M3241.8 1663.8h0M3242.0 1667.3h0M3242.6 1670.9h0M3242.5 1674.5h0M3242.6 1678.0h0M3242.1 1681.6h0M3242.3 1685.2h0M3244.4 1509.8h0M3244.4 1513.3h0M3244.6 1516.9h0M3244.5 1520.4h0M3244.3 1523.9h0M3244.4 1527.4h0M3243.8 1530.9h0M3244.7 1534.4h0M3244.8 1537.9h0M3244.2 1541.4h0M3244.4 1544.9h0M3244.3 1548.5h0M3244.8 1552.0h0M3244.1 1555.5h0M3244.8 1559.0h0M3244.2 1562.5h0M3244.4 1566.0h0M3244.7 1569.5h0M3244.1 1573.0h0M3244.6 1576.5h0M3244.1 1580.1h0M3244.7 1583.6h0M3244.1 1587.1h0M3244.5 1590.6h0M3244.3 1594.1h0M3244.4 1597.6h0M3244.2 1601.1h0M3244.4 1604.6h0M3243.9 1608.1h0M3244.0 1611.7h0M3244.0 1615.2h0M3244.1 1618.7h0M3244.2 1622.2h0M3243.9 1625.7h0M3244.2 1629.2h0M3244.4 1632.7h0M3244.4 1636.2h0M3244.8 1639.7h0M3244.4 1643.3h0M3244.7 1646.8h0M3244.6 1650.3h0M3244.0 1653.8h0M3244.0 1657.3h0M3244.5 1660.8h0M3244.5 1664.3h0M3244.3 1667.8h0M3244.8 1671.3h0M3244.4 1674.9h0M3244.2 1678.4h0M3244.5 1681.9h0M3244.0 1685.4h0M3244.3 1688.9h0M3243.9 1692.4h0M3244.7 1695.9h0M3252.8 1612.2h0M3253.0 1615.8h0M3253.1 1619.4h0M3252.4 1623.0h0M3252.8 1626.6h0M3252.4 1630.2h0M3252.9 1633.8h0M3252.9 1637.4h0M3252.5 1641.0h0M3252.6 1644.6h0M3252.5 1648.2h0M3252.5 1651.8h0M3253.1 1655.3h0M3253.1 1658.9h0M3252.4 1662.5h0M3253.0 1666.1h0M3252.5 1669.7h0M3252.5 1673.3h0M3254.5 1594.8h0M3254.7 1598.3h0M3254.4 1601.8h0M3255.0 1605.3h0M3254.7 1608.9h0M3255.1 1612.4h0M3254.9 1615.9h0M3254.7 1619.5h0M3255.0 1623.0h0M3254.7 1626.5h0M3254.6 1630.1h0M3254.8 1633.6h0M3255.2 1637.1h0M3254.6 1640.7h0M3255.2 1644.2h0M3257.2 1565.5h0M3257.1 1569.0h0M3257.1 1572.6h0M3257.3 1576.1h0M3256.7 1579.7h0M3257.2 1583.2h0M3257.4 1586.7h0M3256.9 1590.3h0M3257.2 1593.8h0M3257.4 1597.4h0M3257.0 1600.9h0M3256.6 1604.5h0M3256.8 1608.0h0M3257.4 1611.6h0M3256.7 1615.1h0M3256.9 1618.7h0M3257.2 1622.2h0M3257.2 1625.8h0M3256.5 1629.3h0M3257.0 1632.9h0M3256.6 1636.4h0M3257.0 1639.9h0M3256.9 1643.5h0M3256.6 1647.0h0M3257.3 1650.6h0M3256.7 1654.1h0M3257.0 1657.7h0M3256.6 1661.2h0M3257.3 1664.8h0M3256.6 1668.3h0M3257.0 1671.9h0M3256.5 1675.4h0M3257.2 1679.0h0M3258.7 1578.6h0M3258.7 1582.1h0M3259.0 1585.6h0M3258.6 1589.2h0M3259.3 1592.7h0M3258.9 1596.3h0M3259.4 1599.8h0M3259.5 1603.4h0M3259.2 1606.9h0M3259.5 1610.4h0M3258.8 1614.0h0M3258.7 1617.5h0M3258.8 1621.1h0M3259.3 1624.6h0M3258.7 1628.1h0M3259.5 1631.7h0M3259.3 1635.2h0M3259.0 1638.8h0M3259.5 1642.3h0M3259.4 1645.9h0M3258.8 1649.4h0M3259.1 1652.9h0M3259.2 1656.5h0M3258.7 1660.0h0M3259.0 1663.6h0M3258.7 1667.1h0M3259.2 1670.7h0M3259.4 1674.2h0M3258.7 1677.7h0M3259.0 1681.3h0M3269.4 1531.5h0M3269.6 1535.0h0M3269.6 1538.6h0M3269.2 1542.2h0M3269.5 1545.8h0M3269.1 1549.4h0M3269.4 1553.0h0M3269.6 1556.5h0M3269.8 1560.1h0M3269.1 1563.7h0M3269.4 1567.3h0M3269.4 1570.9h0M3269.5 1574.5h0M3269.7 1578.0h0M3269.1 1581.6h0M3269.6 1585.2h0M3269.8 1588.8h0M3269.7 1592.4h0M3269.5 1596.0h0M3269.8 1599.5h0M3269.4 1603.1h0M3269.3 1606.7h0M3269.6 1610.3h0M3269.1 1613.9h0M3269.9 1617.4h0M3270.0 1621.0h0M3269.2 1624.6h0M3269.1 1628.2h0M3269.8 1631.8h0M3269.8 1635.4h0M3269.9 1638.9h0M3269.4 1642.5h0M3269.7 1646.1h0M3271.6 1573.4h0M3271.2 1577.0h0M3272.1 1580.6h0M3271.7 1584.2h0M3271.6 1587.8h0M3272.1 1591.3h0M3271.9 1594.9h0M3271.6 1598.5h0M3272.0 1602.1h0M3271.9 1605.7h0M3271.4 1609.3h0M3271.5 1612.9h0M3271.5 1616.5h0M3271.9 1620.1h0M3272.1 1623.6h0M3273.3 1512.7h0M3274.1 1516.2h0M3273.8 1519.7h0M3273.9 1523.2h0M3273.9 1526.7h0M3273.8 1530.2h0M3273.5 1533.7h0M3273.3 1537.2h0M3273.7 1540.7h0M3273.3 1544.2h0M3274.2 1547.7h0M3273.3 1551.3h0M3273.6 1554.8h0M3273.8 1558.3h0M3273.4 1561.8h0M3273.6 1565.3h0M3273.8 1568.8h0M3273.5 1572.3h0M3273.4 1575.8h0M3273.9 1579.3h0M3274.1 1582.8h0M3274.2 1586.3h0M3273.9 1589.8h0M3273.9 1593.3h0M3273.4 1596.8h0M3273.9 1600.3h0M3273.3 1603.8h0M3273.9 1607.3h0M3273.8 1610.8h0M3274.1 1614.3h0M3276.1 1470.8h0M3276.0 1474.3h0M3276.2 1477.9h0M3276.1 1481.4h0M3275.5 1484.9h0M3276.1 1488.4h0M3275.5 1491.9h0M3275.6 1495.5h0M3275.5 1499.0h0M3276.0 1502.5h0M3275.6 1506.0h0M3275.8 1509.6h0M3275.7 1513.1h0M3275.5 1516.6h0M3276.3 1520.1h0M3276.1 1523.6h0M3275.8 1527.2h0M3276.0 1530.7h0M3276.0 1534.2h0M3275.9 1537.7h0M3275.4 1541.3h0M3275.9 1544.8h0M3275.8 1548.3h0M3275.5 1551.8h0M3276.1 1555.4h0M3275.7 1558.9h0M3276.0 1562.4h0M3276.1 1565.9h0M3276.2 1569.4h0M3275.6 1573.0h0M3275.9 1576.5h0M3276.0 1580.0h0M3275.9 1583.5h0M3275.9 1587.1h0M3275.6 1590.6h0M3275.4 1594.1h0M3275.7 1597.6h0M3276.3 1601.2h0M3276.0 1604.7h0M3275.8 1608.2h0M3275.7 1611.7h0M3277.7 1494.2h0M3277.6 1497.8h0M3278.3 1501.4h0M3278.4 1505.0h0M3278.1 1508.6h0M3277.6 1512.2h0M3277.5 1515.8h0M3278.0 1519.4h0M3278.3 1523.0h0M3278.4 1526.6h0M3278.4 1530.2h0M3277.7 1533.8h0M3278.3 1537.5h0M3278.3 1541.1h0M3278.0 1544.7h0M3278.1 1548.3h0M3277.7 1551.9h0M3277.8 1555.5h0M3278.3 1559.1h0M3278.3 1562.7h0M3278.1 1566.3h0M3278.4 1569.9h0M3278.2 1573.5h0M3278.3 1577.1h0M3277.7 1580.7h0M3278.4 1584.3h0M3278.4 1587.9h0M3277.6 1591.5h0M3278.3 1595.1h0M3278.1 1598.8h0M3277.6 1602.4h0M3278.0 1606.0h0M3278.2 1609.6h0M3278.3 1613.2h0M3279.8 1503.5h0M3280.3 1507.1h0M3279.6 1510.7h0M3280.4 1514.3h0M3279.8 1517.9h0M3279.6 1521.5h0M3280.2 1525.1h0M3280.2 1528.7h0M3279.6 1532.3h0M3279.6 1535.9h0M3280.3 1539.5h0M3279.9 1543.1h0M3280.3 1546.6h0M3280.1 1550.2h0M3280.3 1553.8h0M3280.4 1557.4h0M3280.4 1561.0h0M3279.6 1564.6h0M3280.5 1568.2h0M3280.0 1571.8h0M3280.5 1575.4h0M3279.8 1579.0h0M3280.4 1582.6h0M3279.9 1586.2h0M3279.9 1589.8h0M3279.6 1593.3h0M3280.4 1596.9h0M3280.3 1600.5h0M3279.6 1604.1h0M3280.0 1607.7h0M3279.7 1611.3h0M3279.7 1614.9h0M3282.4 1550.1h0M3282.5 1553.7h0M3282.4 1557.3h0M3281.9 1560.9h0M3281.8 1564.5h0M3282.0 1568.0h0M3282.6 1571.6h0M3282.0 1575.2h0M3282.0 1578.8h0M3282.6 1582.4h0M3282.3 1586.0h0M3281.9 1589.6h0M3282.4 1593.1h0M3281.9 1596.7h0M3282.4 1600.3h0M3281.8 1603.9h0M3281.8 1607.5h0M3282.2 1611.1h0M3281.9 1614.6h0M3281.7 1618.2h0M3282.5 1621.8h0M3282.6 1625.4h0M3281.9 1629.0h0M3282.5 1632.6h0M3282.3 1636.2h0M3281.7 1639.7h0M3282.2 1643.3h0M3282.1 1646.9h0M3282.2 1650.5h0M3282.4 1654.1h0M3284.6 1498.6h0M3284.2 1502.2h0M3283.9 1505.7h0M3284.1 1509.3h0M3284.2 1512.8h0M3284.2 1516.4h0M3284.3 1520.0h0M3284.4 1523.5h0M3284.5 1527.1h0M3284.1 1530.7h0M3284.0 1534.2h0M3284.6 1537.8h0M3284.7 1541.4h0M3284.5 1544.9h0M3284.6 1548.5h0M3283.9 1552.1h0M3283.8 1555.6h0M3284.1 1559.2h0M3284.3 1562.8h0M3284.3 1566.3h0M3284.4 1569.9h0M3284.4 1573.5h0M3284.2 1577.0h0M3284.1 1580.6h0M3284.1 1584.1h0M3284.1 1587.7h0M3284.2 1591.3h0M3284.6 1594.8h0M3283.7 1598.4h0M3284.0 1602.0h0M3284.5 1605.5h0M3284.2 1609.1h0M3284.6 1612.7h0M3283.9 1616.2h0M3283.8 1619.8h0M3284.7 1623.4h0M3284.6 1626.9h0M3284.6 1630.5h0M3284.4 1634.1h0M3284.5 1637.6h0M3284.7 1641.2h0M3284.6 1644.8h0M3284.5 1648.3h0M3284.4 1651.9h0M3284.1 1655.5h0M3283.9 1659.0h0M3283.8 1662.6h0M3284.7 1666.1h0M3284.7 1669.7h0M3284.7 1673.3h0M3284.1 1676.8h0M3284.2 1680.4h0M3286.5 1568.2h0M3286.1 1571.8h0M3286.7 1575.5h0M3286.5 1579.1h0M3286.5 1582.7h0M3286.1 1586.4h0M3286.8 1590.0h0M3286.1 1593.7h0M3286.4 1597.3h0M3286.3 1600.9h0M3286.1 1604.6h0M3286.1 1608.2h0M3286.6 1611.8h0M3286.5 1615.5h0M3286.6 1619.1h0M3286.7 1622.8h0M3288.9 1543.6h0M3288.8 1547.2h0M3288.8 1550.8h0M3288.4 1554.5h0M3288.4 1558.1h0M3288.2 1561.7h0M3288.9 1565.3h0M3288.2 1568.9h0M3288.4 1572.5h0M3288.2 1576.1h0M3288.7 1579.7h0M3288.7 1583.3h0M3288.3 1586.9h0M3288.3 1590.6h0M3288.8 1594.2h0M3288.9 1597.8h0M3288.5 1601.4h0M3288.3 1605.0h0M3288.3 1608.6h0M3288.4 1612.2h0M3290.3 1568.5h0M3290.3 1572.0h0M3290.3 1575.6h0M3291.0 1579.2h0M3291.0 1582.7h0M3290.9 1586.3h0M3290.8 1589.9h0M3290.7 1593.4h0M3290.9 1597.0h0M3290.1 1600.6h0M3290.9 1604.2h0M3290.5 1607.7h0M3290.9 1611.3h0M3290.4 1614.9h0M3290.2 1618.4h0M3290.4 1622.0h0M3290.8 1625.6h0M3290.4 1629.1h0M3291.0 1632.7h0M3290.1 1636.3h0M3290.8 1639.8h0M3290.4 1643.4h0M3293.1 1602.9h0M3292.7 1606.5h0M3292.9 1610.1h0M3292.7 1613.8h0M3292.2 1617.4h0M3292.2 1621.0h0M3292.7 1624.6h0M3293.1 1628.2h0M3292.4 1631.8h0M3293.0 1635.4h0M3292.9 1639.0h0M3292.6 1642.6h0M3292.4 1646.2h0M3292.7 1649.8h0M3295.1 1605.6h0M3294.3 1609.6h0M3294.7 1613.7h0M3294.2 1617.8h0M3294.6 1621.8h0M3294.8 1625.9h0M3297.0 1550.3h0M3297.1 1553.9h0M3297.0 1557.5h0M3296.9 1561.1h0M3296.4 1564.7h0M3297.3 1568.2h0M3296.7 1571.8h0M3297.2 1575.4h0M3297.3 1579.0h0M3297.3 1582.5h0M3296.9 1586.1h0M3296.6 1589.7h0M3297.3 1593.3h0M3297.1 1596.9h0M3297.3 1600.4h0M3297.3 1604.0h0M3297.1 1607.6h0M3297.3 1611.2h0M3297.0 1614.8h0M3296.5 1618.3h0M3297.0 1621.9h0M3297.2 1625.5h0M3296.5 1629.1h0M3296.9 1632.6h0M3297.2 1636.2h0M3297.2 1639.8h0M3297.3 1643.4h0M3297.3 1647.0h0M3296.7 1650.5h0M3297.1 1654.1h0M3297.3 1657.7h0M3296.3 1661.3h0M3296.9 1664.9h0M3296.8 1668.4h0M3299.4 1553.9h0M3299.2 1557.5h0M3298.5 1561.0h0M3298.7 1564.5h0M3298.7 1568.1h0M3299.3 1571.6h0M3299.3 1575.1h0M3299.1 1578.6h0M3299.3 1582.2h0M3298.5 1585.7h0M3298.7 1589.2h0M3299.2 1592.8h0M3298.6 1596.3h0M3299.1 1599.8h0M3299.2 1603.4h0M3298.9 1606.9h0M3299.1 1610.4h0M3299.1 1614.0h0M3298.8 1617.5h0M3298.9 1621.0h0M3298.9 1624.6h0M3299.3 1628.1h0M3298.8 1631.6h0M3299.0 1635.2h0M3298.5 1638.7h0M3298.7 1642.2h0M3299.0 1645.7h0M3299.3 1649.3h0M3298.6 1652.8h0M3299.4 1656.3h0M3299.0 1659.9h0M3298.9 1663.4h0M3298.6 1666.9h0M3301.0 1601.8h0M3300.9 1605.3h0M3301.2 1608.9h0M3300.7 1612.5h0M3301.3 1616.1h0M3301.4 1619.7h0M3301.3 1623.3h0M3300.7 1626.8h0M3301.2 1630.4h0M3300.9 1634.0h0M3301.2 1637.6h0M3300.8 1641.2h0M3301.1 1644.8h0M3301.1 1648.3h0M3300.9 1651.9h0M3300.8 1655.5h0M3301.3 1659.1h0M3301.1 1662.7h0M3303.1 1598.3h0M3302.8 1602.2h0M3303.1 1606.0h0M3303.5 1609.8h0M3303.1 1613.6h0M3302.7 1617.4h0M3302.7 1621.2h0M3302.9 1625.0h0M3303.5 1628.8h0M3303.0 1632.6h0M3303.1 1636.4h0M3304.9 1564.5h0M3305.1 1568.2h0M3305.6 1571.8h0M3304.8 1575.5h0M3305.3 1579.1h0M3305.0 1582.8h0M3304.9 1586.4h0M3305.4 1590.1h0M3304.9 1593.7h0M3305.0 1597.4h0M3305.2 1601.0h0M3305.0 1604.7h0M3305.6 1608.3h0M3305.0 1612.0h0M3305.0 1615.6h0M3304.9 1619.3h0M3304.9 1622.9h0M3305.0 1626.6h0M3307.3 1558.2h0M3307.6 1561.7h0M3307.8 1565.3h0M3307.8 1568.9h0M3307.1 1572.5h0M3307.0 1576.1h0M3307.2 1579.6h0M3307.5 1583.2h0M3307.8 1586.8h0M3307.0 1590.4h0M3307.6 1594.0h0M3306.9 1597.6h0M3307.4 1601.1h0M3307.6 1604.7h0M3307.0 1608.3h0M3307.2 1611.9h0M3307.8 1615.5h0M3307.4 1619.0h0M3307.1 1622.6h0M3307.4 1626.2h0M3307.6 1629.8h0M3307.3 1633.4h0M3306.9 1636.9h0M3307.6 1640.5h0M3307.7 1644.1h0M3307.7 1647.7h0M3309.6 1553.1h0M3309.3 1556.7h0M3309.7 1560.2h0M3309.3 1563.7h0M3309.1 1567.2h0M3309.5 1570.7h0M3309.3 1574.3h0M3309.8 1577.8h0M3309.6 1581.3h0M3309.6 1584.8h0M3309.4 1588.4h0M3309.6 1591.9h0M3309.9 1595.4h0M3309.9 1598.9h0M3309.9 1602.4h0M3309.3 1606.0h0M3309.1 1609.5h0M3309.2 1613.0h0M3311.2 1557.4h0M3311.3 1561.1h0M3311.9 1564.7h0M3311.7 1568.4h0M3311.4 1572.0h0M3311.3 1575.7h0M3311.1 1579.3h0M3311.5 1583.0h0M3311.9 1586.6h0M3311.3 1590.2h0M3311.8 1593.9h0M3311.8 1597.5h0M3311.5 1601.2h0M3311.2 1604.8h0M3312.0 1608.5h0M3311.9 1612.1h0M3311.5 1615.8h0M3311.7 1619.4h0M3311.6 1623.0h0M3311.8 1626.7h0M3311.2 1630.3h0M3311.7 1634.0h0M3311.6 1637.6h0M3311.1 1641.3h0M3311.7 1644.9h0M3313.9 1600.8h0M3313.3 1604.5h0M3313.2 1608.1h0M3314.0 1611.7h0M3313.3 1615.4h0M3314.0 1619.0h0M3313.3 1622.7h0M3313.8 1626.3h0M3314.0 1629.9h0M3314.1 1633.6h0M3316.0 1560.2h0M3315.5 1563.9h0M3315.8 1567.5h0M3316.0 1571.1h0M3315.8 1574.7h0M3315.4 1578.4h0M3316.0 1582.0h0M3316.2 1585.6h0M3315.3 1589.3h0M3315.9 1592.9h0M3315.7 1596.5h0M3315.7 1600.2h0M3315.5 1603.8h0M3315.3 1607.4h0M3315.8 1611.0h0M3315.6 1614.7h0M3315.4 1618.3h0M3315.3 1621.9h0M3315.5 1625.6h0M3315.4 1629.2h0M3315.5 1632.8h0M3315.9 1636.5h0M3316.1 1640.1h0M3315.7 1643.7h0M3317.4 1562.1h0M3317.5 1565.6h0M3317.4 1569.2h0M3318.0 1572.7h0M3318.3 1576.3h0M3317.5 1579.8h0M3317.5 1583.4h0M3318.0 1586.9h0M3317.8 1590.5h0M3317.5 1594.0h0M3317.5 1597.6h0M3318.1 1601.1h0M3318.0 1604.7h0M3317.4 1608.3h0M3318.0 1611.8h0M3317.5 1615.4h0M3317.8 1618.9h0M3317.4 1622.5h0M3317.6 1626.0h0M3318.2 1629.6h0M3317.8 1633.1h0M3317.8 1636.7h0M3320.0 1567.8h0M3319.5 1571.4h0M3319.9 1575.1h0M3320.2 1578.7h0M3320.2 1582.4h0M3320.0 1586.1h0M3320.2 1589.7h0M3319.8 1593.4h0M3319.8 1597.0h0M3319.9 1600.7h0M3319.6 1604.3h0M3319.5 1608.0h0M3320.4 1611.7h0M3320.3 1615.3h0M3320.3 1619.0h0M3320.4 1622.6h0M3319.9 1626.3h0M3320.0 1630.0h0M3319.9 1633.6h0M3322.2 1573.0h0M3322.0 1576.5h0M3322.4 1580.1h0M3321.8 1583.6h0M3321.9 1587.2h0M3322.1 1590.7h0M3322.3 1594.3h0M3321.6 1597.8h0M3321.9 1601.4h0M3322.0 1604.9h0M3322.4 1608.5h0M3322.2 1612.0h0M3321.8 1615.6h0M3322.2 1619.1h0M3324.6 1610.4h0M3323.8 1614.1h0M3324.0 1617.7h0M3324.2 1621.3h0M3324.5 1625.0h0M3324.6 1628.6h0M3324.6 1632.3h0M3324.6 1635.9h0M3323.9 1639.6h0M3324.6 1643.2h0M3323.8 1646.8h0M3324.6 1650.5h0M3324.0 1654.1h0M3326.7 1588.3h0M3326.4 1591.8h0M3325.9 1595.3h0M3325.9 1598.8h0M3326.6 1602.4h0M3326.0 1605.9h0M3326.1 1609.4h0M3326.6 1612.9h0M3326.2 1616.5h0M3326.2 1620.0h0M3326.4 1623.5h0M3326.6 1627.0h0M3326.5 1630.5h0M3326.0 1634.1h0M3326.4 1637.6h0M3326.0 1641.1h0M3326.0 1644.6h0M3325.9 1648.1h0M3326.5 1651.7h0M3326.1 1655.2h0M3326.0 1658.7h0M3326.4 1662.2h0M3326.1 1665.8h0M3326.5 1669.3h0M3326.7 1672.8h0M3326.7 1676.3h0M3326.7 1679.8h0M3325.9 1683.4h0M3326.7 1686.9h0M3326.0 1690.4h0M3328.6 1541.9h0M3328.1 1545.4h0M3328.4 1548.9h0M3328.8 1552.5h0M3328.0 1556.0h0M3328.5 1559.5h0M3328.2 1563.0h0M3328.4 1566.6h0M3328.4 1570.1h0M3328.0 1573.6h0M3327.9 1577.1h0M3327.8 1580.7h0M3328.0 1584.2h0M3328.3 1587.7h0M3328.4 1591.3h0M3328.5 1594.8h0M3327.9 1598.3h0M3328.0 1601.8h0M3328.4 1605.4h0M3328.4 1608.9h0M3328.5 1612.4h0M3328.7 1615.9h0M3328.2 1619.5h0M3328.6 1623.0h0M3327.9 1626.5h0M3328.4 1630.1h0M3328.7 1633.6h0M3328.2 1637.1h0M3328.7 1640.6h0M3328.8 1644.2h0M3328.4 1647.7h0M3328.4 1651.2h0M3327.9 1654.7h0M3328.6 1658.3h0M3328.2 1661.8h0M3328.2 1665.3h0M3328.1 1668.9h0M3328.5 1672.4h0M3330.1 1537.4h0M3330.7 1541.0h0M3330.4 1544.6h0M3330.5 1548.1h0M3330.1 1551.7h0M3330.4 1555.3h0M3330.5 1558.8h0M3330.9 1562.4h0M3330.7 1566.0h0M3330.0 1569.5h0M3330.5 1573.1h0M3330.0 1576.7h0M3330.1 1580.2h0M3330.0 1583.8h0M3330.4 1587.3h0M3330.6 1590.9h0M3330.9 1594.5h0M3330.1 1598.0h0M3330.0 1601.6h0M3330.7 1605.2h0M3330.0 1608.7h0M3330.4 1612.3h0M3330.7 1615.9h0M3330.7 1619.4h0M3330.8 1623.0h0M3330.4 1626.6h0M3330.1 1630.1h0M3330.1 1633.7h0M3330.4 1637.3h0M3332.8 1533.5h0M3332.3 1537.0h0M3332.7 1540.5h0M3332.5 1544.0h0M3332.5 1547.5h0M3332.3 1551.0h0M3332.9 1554.6h0M3332.5 1558.1h0M3332.6 1561.6h0M3332.2 1565.1h0M3332.7 1568.6h0M3332.1 1572.1h0M3332.1 1575.6h0M3332.9 1579.1h0M3332.7 1582.7h0M3332.0 1586.2h0M3333.0 1589.7h0M3332.1 1593.2h0M3332.3 1596.7h0M3332.4 1600.2h0M3332.4 1603.7h0M3332.3 1607.3h0M3332.8 1610.8h0M3333.0 1614.3h0M3332.5 1617.8h0M3332.4 1621.3h0M3332.3 1624.8h0M3332.5 1628.3h0M3332.6 1631.8h0M3332.5 1635.4h0M3333.0 1638.9h0M3333.0 1642.4h0M3332.9 1645.9h0M3333.0 1649.4h0M3332.5 1652.9h0M3332.7 1656.4h0M3332.3 1660.0h0M3332.8 1663.5h0M3332.2 1667.0h0M3334.3 1543.6h0M3334.4 1547.2h0M3334.4 1550.8h0M3334.5 1554.3h0M3334.5 1557.9h0M3334.5 1561.4h0M3334.4 1565.0h0M3335.0 1568.5h0M3334.4 1572.1h0M3334.4 1575.6h0M3334.8 1579.2h0M3334.9 1582.7h0M3335.0 1586.3h0M3334.7 1589.8h0M3334.3 1593.4h0M3334.5 1597.0h0M3334.2 1600.5h0M3334.2 1604.1h0M3335.0 1607.6h0M3334.4 1611.2h0M3334.2 1614.7h0M3334.4 1618.3h0M3334.3 1621.8h0M3334.9 1625.4h0M3334.4 1628.9h0M3335.1 1632.5h0M3335.1 1636.0h0M3334.2 1639.6h0M3334.9 1643.2h0M3334.7 1646.7h0M3334.8 1650.3h0M3334.4 1653.8h0M3334.2 1657.4h0M3334.2 1660.9h0M3334.2 1664.5h0M3334.9 1668.0h0M3335.1 1671.6h0M3334.7 1675.1h0M3334.3 1678.7h0M3334.4 1682.3h0M3334.2 1685.8h0M3334.7 1689.4h0M3334.6 1692.9h0M3347.1 1572.2h0M3347.5 1575.7h0M3346.9 1579.3h0M3347.1 1582.8h0M3347.7 1586.3h0M3346.9 1589.8h0M3346.9 1593.3h0M3347.3 1596.8h0M3347.3 1600.3h0M3347.4 1603.8h0M3347.3 1607.3h0M3347.0 1610.8h0M3346.9 1614.3h0M3347.0 1617.8h0M3347.1 1621.3h0M3347.3 1624.8h0M3346.8 1628.3h0M3347.7 1631.8h0M3346.9 1635.3h0M3347.0 1638.8h0M3347.6 1642.3h0M3347.2 1645.8h0M3349.3 1547.1h0M3348.8 1550.7h0M3349.0 1554.2h0M3349.2 1557.7h0M3349.0 1561.3h0M3349.3 1564.8h0M3348.9 1568.4h0M3349.7 1571.9h0M3349.2 1575.5h0M3349.4 1579.0h0M3348.9 1582.6h0M3349.5 1586.1h0M3348.9 1589.7h0M3349.1 1593.2h0M3349.0 1596.7h0M3349.0 1600.3h0M3349.0 1603.8h0M3348.9 1607.4h0M3349.2 1610.9h0M3349.6 1614.5h0M3349.7 1618.0h0M3349.3 1621.6h0M3348.9 1625.1h0M3349.8 1628.6h0M3349.6 1632.2h0M3351.8 1571.2h0M3351.7 1574.8h0M3351.1 1578.3h0M3351.5 1581.9h0M3351.3 1585.5h0M3351.8 1589.0h0M3351.6 1592.6h0M3351.1 1596.2h0M3351.3 1599.8h0M3351.1 1603.3h0M3351.8 1606.9h0M3351.3 1610.5h0M3351.2 1614.0h0M3351.9 1617.6h0M3351.8 1621.2h0M3351.6 1624.8h0M3351.1 1628.3h0M3351.0 1631.9h0M3351.1 1635.5h0M3351.7 1639.0h0M3351.4 1642.6h0M3351.4 1646.2h0M3351.4 1649.8h0M3351.9 1653.3h0M3351.8 1656.9h0M3353.7 1588.8h0M3353.7 1592.4h0M3353.4 1596.0h0M3353.1 1599.5h0M3353.2 1603.1h0M3353.7 1606.7h0M3353.7 1610.3h0M3354.0 1613.8h0M3353.8 1617.4h0M3353.3 1621.0h0M3353.9 1624.5h0M3353.7 1628.1h0M3353.5 1631.7h0M3354.0 1635.3h0M3353.6 1638.8h0M3353.7 1642.4h0M3353.8 1646.0h0M3354.0 1649.5h0M3353.2 1653.1h0M3353.9 1656.7h0M3355.8 1594.7h0M3355.3 1598.4h0M3356.0 1602.2h0M3356.1 1605.9h0M3355.7 1609.6h0M3355.6 1613.4h0M3355.8 1617.1h0M3355.9 1620.8h0M3355.2 1624.6h0M3356.0 1628.3h0M3355.3 1632.1h0M3355.3 1635.8h0M3355.8 1639.5h0M3356.0 1643.3h0M3358.0 1593.5h0M3357.7 1597.1h0M3357.7 1600.8h0M3357.3 1604.4h0M3358.1 1608.1h0M3357.6 1611.7h0M3357.5 1615.4h0M3357.7 1619.0h0M3357.5 1622.7h0M3358.0 1626.3h0M3357.8 1629.9h0M3357.3 1633.6h0M3358.1 1637.2h0M3357.8 1640.9h0M3359.8 1576.5h0M3359.9 1580.2h0M3359.9 1583.8h0M3359.4 1587.5h0M3360.0 1591.2h0M3360.3 1594.8h0M3359.7 1598.5h0M3359.6 1602.1h0M3360.2 1605.8h0M3359.8 1609.5h0M3359.5 1613.1h0M3359.5 1616.8h0M3359.4 1620.5h0M3360.3 1624.1h0M3359.4 1627.8h0M3359.5 1631.5h0M3359.4 1635.1h0M3359.9 1638.8h0M3359.9 1642.5h0M3360.1 1646.1h0M3361.6 1596.2h0M3361.9 1599.7h0M3361.6 1603.3h0M3362.2 1606.8h0M3361.9 1610.3h0M3362.0 1613.9h0M3361.5 1617.4h0M3362.1 1621.0h0M3362.1 1624.5h0M3361.7 1628.0h0M3361.5 1631.6h0M3362.4 1635.1h0M3361.5 1638.6h0M3362.4 1642.2h0M3361.5 1645.7h0M3363.6 1595.4h0M3364.5 1599.1h0M3363.6 1602.7h0M3364.3 1606.4h0M3364.2 1610.1h0M3363.9 1613.7h0M3363.7 1617.4h0M3363.8 1621.0h0M3363.9 1624.7h0M3364.0 1628.3h0M3363.7 1632.0h0M3364.2 1635.7h0M3364.0 1639.3h0M3364.5 1643.0h0M3363.9 1646.6h0M3364.2 1650.3h0M3365.8 1606.2h0M3366.3 1609.9h0M3366.1 1613.5h0M3366.6 1617.1h0M3366.1 1620.8h0M3366.4 1624.4h0M3366.6 1628.0h0M3365.8 1631.7h0M3366.4 1635.3h0M3366.5 1638.9h0M3365.9 1642.6h0M3366.1 1646.2h0M3368.0 1623.7h0M3368.1 1627.4h0M3368.4 1631.0h0M3368.5 1634.7h0M3368.5 1638.4h0M3367.9 1642.1h0M3368.5 1645.8h0M3368.5 1649.5h0M3370.2 1608.9h0M3370.7 1612.5h0M3369.9 1616.1h0M3369.9 1619.6h0M3370.5 1623.2h0M3370.5 1626.8h0M3370.7 1630.4h0M3370.2 1634.0h0M3370.8 1637.6h0M3370.3 1641.2h0M3370.4 1644.8h0M3370.5 1648.4h0M3370.4 1652.0h0M3370.8 1655.5h0M3370.6 1659.1h0M3370.2 1662.7h0M3372.4 1618.2h0M3372.9 1621.8h0M3372.9 1625.4h0M3372.2 1629.0h0M3372.0 1632.5h0M3372.1 1636.1h0M3372.6 1639.7h0M3372.2 1643.3h0M3372.9 1646.9h0M3372.6 1650.4h0M3372.9 1654.0h0M3372.3 1657.6h0M3372.6 1661.2h0M3372.6 1664.8h0M3372.8 1668.3h0M3372.0 1671.9h0M3372.5 1675.5h0M3372.9 1679.1h0M3372.8 1682.7h0M3372.3 1686.3h0M3372.0 1689.8h0M3372.0 1693.4h0M3372.7 1697.0h0M3372.6 1700.6h0M3372.2 1704.2h0M3372.4 1707.7h0M3372.3 1711.3h0M3374.2 1641.6h0M3374.9 1645.3h0M3374.3 1649.0h0M3374.6 1652.6h0M3374.4 1656.3h0M3374.3 1660.0h0M3374.6 1663.7h0M3374.9 1667.3h0M3374.1 1671.0h0M3374.1 1674.7h0M3374.7 1678.4h0M3374.7 1682.0h0M3374.7 1685.7h0M3374.5 1689.4h0M3374.8 1693.1h0M3374.4 1696.7h0M3374.3 1700.4h0M3376.6 1623.7h0M3376.8 1627.4h0M3376.5 1631.1h0M3376.8 1634.8h0M3376.7 1638.5h0M3376.8 1642.3h0M3376.7 1646.0h0M3376.2 1649.7h0M3376.8 1653.4h0M3376.2 1657.1h0M3377.1 1660.8h0M3376.6 1664.5h0M3376.3 1668.2h0M3376.6 1671.9h0M3376.5 1675.6h0M3376.3 1679.3h0M3378.4 1625.1h0M3379.1 1628.9h0M3378.7 1632.6h0M3378.9 1636.3h0M3378.5 1640.1h0M3379.0 1643.8h0M3378.6 1647.6h0M3379.0 1651.3h0M3378.7 1655.0h0M3378.5 1658.8h0M3380.5 1608.9h0M3381.1 1612.6h0M3380.9 1616.2h0M3381.1 1619.8h0M3380.9 1623.5h0M3380.4 1627.1h0M3380.8 1630.7h0M3380.8 1634.4h0M3381.3 1638.0h0M3381.3 1641.6h0M3381.1 1645.3h0M3380.8 1648.9h0M3381.3 1652.5h0M3380.8 1656.2h0M3383.1 1614.2h0M3382.5 1617.9h0M3383.4 1621.5h0M3382.8 1625.1h0M3383.4 1628.8h0M3382.9 1632.4h0M3382.9 1636.0h0M3383.4 1639.7h0M3383.3 1643.3h0M3383.1 1646.9h0M3385.3 1620.0h0M3385.5 1623.6h0M3385.0 1627.3h0M3385.2 1630.9h0M3385.3 1634.5h0M3384.8 1638.1h0M3385.2 1641.8h0M3384.6 1645.4h0M3385.1 1649.0h0M3384.7 1652.6h0M3385.0 1656.3h0M3385.3 1659.9h0M3384.9 1663.5h0M3385.4 1667.2h0M3384.7 1670.8h0M3385.3 1674.4h0M3385.5 1678.0h0M3386.7 1600.0h0M3387.4 1603.6h0M3387.0 1607.2h0M3387.3 1610.8h0M3387.6 1614.4h0M3387.0 1618.0h0M3387.0 1621.6h0M3387.0 1625.2h0M3387.4 1628.8h0M3386.8 1632.4h0M3387.5 1636.0h0M3387.6 1639.6h0M3386.8 1643.2h0M3387.3 1646.8h0M3387.1 1650.4h0M3387.2 1654.0h0M3387.3 1657.6h0M3386.7 1661.1h0M3387.4 1664.7h0M3387.5 1668.3h0M3387.2 1671.9h0M3386.8 1675.5h0M3387.1 1679.1h0M3389.1 1609.9h0M3389.6 1613.5h0M3389.2 1617.0h0M3389.3 1620.6h0M3389.6 1624.1h0M3389.6 1627.7h0M3389.2 1631.3h0M3389.0 1634.8h0M3389.0 1638.4h0M3389.6 1641.9h0M3389.2 1645.5h0M3389.1 1649.0h0M3391.7 1537.9h0M3390.9 1541.4h0M3391.8 1544.9h0M3391.5 1548.4h0M3391.5 1552.0h0M3391.1 1555.5h0M3391.5 1559.0h0M3391.2 1562.5h0M3391.6 1566.1h0M3391.5 1569.6h0M3391.5 1573.1h0M3391.8 1576.6h0M3391.2 1580.2h0M3391.7 1583.7h0M3391.4 1587.2h0M3391.0 1590.7h0M3391.6 1594.2h0M3391.3 1597.8h0M3391.4 1601.3h0M3391.4 1604.8h0M3393.5 1550.7h0M3393.8 1554.3h0M3393.3 1557.8h0M3393.8 1561.3h0M3393.9 1564.8h0M3393.0 1568.4h0M3393.9 1571.9h0M3393.3 1575.4h0M3393.3 1578.9h0M3393.5 1582.5h0M3393.5 1586.0h0M3393.1 1589.5h0M3393.7 1593.0h0M3393.9 1596.6h0M3393.2 1600.1h0M3393.0 1603.6h0M3393.3 1607.2h0M3393.2 1610.7h0M3393.8 1614.2h0M3393.5 1617.7h0M3393.9 1621.3h0M3393.6 1624.8h0M3393.4 1628.3h0M3393.6 1631.8h0M3393.0 1635.4h0M3393.6 1638.9h0M3393.6 1642.4h0M3393.8 1645.9h0M3393.5 1649.5h0M3393.6 1653.0h0M3393.5 1656.5h0M3393.8 1660.0h0M3393.9 1663.6h0M3393.0 1667.1h0M3393.3 1670.6h0M3393.4 1674.1h0M3393.5 1677.7h0M3393.0 1681.2h0M3393.6 1684.7h0M3393.6 1688.2h0M3393.8 1691.8h0M3393.7 1695.3h0M3393.6 1698.8h0M3393.2 1702.3h0M3393.5 1705.9h0M3393.2 1709.4h0M3395.3 1535.9h0M3396.0 1539.5h0M3395.7 1543.0h0M3396.0 1546.5h0M3395.2 1550.1h0M3395.1 1553.6h0M3395.7 1557.1h0M3395.8 1560.7h0M3395.1 1564.2h0M3395.5 1567.7h0M3395.5 1571.3h0M3395.7 1574.8h0M3395.3 1578.3h0M3395.6 1581.9h0M3395.6 1585.4h0M3395.1 1589.0h0M3395.3 1592.5h0M3395.9 1596.0h0M3395.4 1599.6h0M3395.5 1603.1h0M3395.6 1606.6h0M3395.3 1610.2h0M3396.0 1613.7h0M3395.4 1617.2h0M3395.2 1620.8h0M3395.9 1624.3h0M3395.2 1627.8h0M3395.7 1631.4h0M3395.5 1634.9h0M3395.1 1638.4h0M3395.1 1642.0h0M3395.9 1645.5h0M3395.7 1649.0h0M3395.3 1652.6h0M3395.2 1656.1h0M3395.2 1659.6h0M3398.1 1559.2h0M3397.6 1562.7h0M3397.3 1566.3h0M3397.3 1569.8h0M3397.3 1573.4h0M3397.4 1577.0h0M3398.1 1580.5h0M3397.3 1584.1h0M3397.7 1587.6h0M3397.9 1591.2h0M3398.0 1594.7h0M3397.5 1598.3h0M3397.8 1601.9h0M3397.8 1605.4h0M3397.5 1609.0h0M3398.1 1612.5h0M3397.6 1616.1h0M3397.7 1619.7h0M3397.5 1623.2h0M3397.5 1626.8h0M3397.3 1630.3h0M3397.2 1633.9h0M3397.9 1637.4h0M3397.3 1641.0h0M3397.4 1644.6h0M3397.4 1648.1h0M3397.9 1651.7h0M3397.4 1655.2h0M3397.3 1658.8h0M3397.2 1662.4h0M3398.0 1665.9h0M3397.6 1669.5h0M3397.2 1673.0h0M3397.7 1676.6h0M3397.8 1680.1h0M3397.5 1683.7h0M3397.4 1687.3h0M3399.6 1543.5h0M3399.5 1547.1h0M3399.5 1550.6h0M3399.9 1554.2h0M3399.5 1557.8h0M3399.7 1561.3h0M3399.7 1564.9h0M3400.1 1568.4h0M3400.2 1572.0h0M3399.8 1575.6h0M3400.2 1579.1h0M3400.0 1582.7h0M3400.2 1586.3h0M3400.0 1589.8h0M3399.7 1593.4h0M3399.8 1596.9h0M3400.0 1600.5h0M3399.4 1604.1h0M3399.3 1607.6h0M3399.5 1611.2h0M3400.2 1614.7h0M3400.0 1618.3h0M3400.0 1621.9h0M3399.8 1625.4h0M3400.1 1629.0h0M3399.6 1632.5h0M3399.3 1636.1h0M3399.7 1639.7h0M3399.3 1643.2h0M3399.6 1646.8h0M3399.3 1650.4h0M3399.4 1653.9h0M3400.1 1657.5h0M3400.2 1661.0h0M3399.9 1664.6h0M3399.4 1668.2h0M3400.2 1671.7h0M3399.7 1675.3h0M3399.9 1678.8h0M3401.4 1582.4h0M3402.3 1585.9h0M3402.0 1589.5h0M3401.8 1593.1h0M3402.1 1596.6h0M3402.3 1600.2h0M3402.2 1603.8h0M3401.5 1607.3h0M3401.4 1610.9h0M3401.7 1614.5h0M3402.2 1618.0h0M3401.6 1621.6h0M3401.7 1625.2h0M3401.9 1628.7h0M3401.6 1632.3h0M3401.9 1635.9h0M3401.9 1639.4h0M3402.2 1643.0h0M3402.3 1646.6h0M3402.1 1650.1h0M3402.3 1653.7h0M3401.9 1657.3h0M3401.7 1660.8h0M3402.3 1664.4h0M3401.5 1668.0h0M3401.8 1671.5h0M3402.2 1675.1h0M3402.3 1678.7h0M3401.8 1682.2h0M3403.6 1612.3h0M3403.9 1615.9h0M3404.2 1619.6h0M3404.0 1623.2h0M3404.0 1626.8h0M3404.3 1630.5h0M3404.1 1634.1h0M3404.2 1637.7h0M3403.6 1641.3h0M3403.8 1645.0h0M3403.5 1648.6h0M3403.9 1652.2h0M3404.4 1655.9h0M3404.1 1659.5h0M3403.9 1663.1h0M3403.7 1666.7h0M3403.7 1670.4h0M3403.5 1674.0h0M3405.7 1602.0h0M3405.6 1605.6h0M3405.9 1609.2h0M3406.3 1612.8h0M3406.3 1616.4h0M3405.8 1620.0h0M3406.3 1623.6h0M3406.2 1627.2h0M3405.9 1630.8h0M3406.3 1634.4h0M3406.5 1638.0h0M3406.1 1641.6h0M3406.3 1645.3h0M3406.5 1648.9h0M3406.5 1652.5h0M3406.2 1656.1h0M3406.3 1659.7h0M3405.8 1663.3h0M3406.2 1666.9h0M3406.2 1670.5h0M3405.8 1674.1h0M3405.8 1677.7h0M3406.1 1681.3h0M3406.5 1684.9h0M3406.5 1688.5h0M3406.1 1692.1h0M3405.7 1695.7h0M3406.1 1699.3h0M3406.0 1702.9h0M3407.8 1613.8h0M3408.0 1617.4h0M3408.2 1621.0h0M3408.2 1624.5h0M3408.2 1628.1h0M3408.1 1631.7h0M3407.9 1635.3h0M3407.9 1638.9h0M3408.0 1642.5h0M3407.8 1646.1h0M3408.5 1649.7h0M3408.2 1653.2h0M3408.4 1656.8h0M3407.7 1660.4h0M3407.9 1664.0h0M3408.0 1667.6h0M3408.0 1671.2h0M3410.0 1584.4h0M3410.0 1588.1h0M3410.0 1591.8h0M3410.6 1595.5h0M3409.9 1599.2h0M3410.0 1602.8h0M3410.5 1606.5h0M3410.6 1610.2h0M3410.1 1613.9h0M3410.3 1617.6h0M3410.2 1621.3h0M3410.5 1624.9h0M3409.9 1628.6h0M3410.2 1632.3h0M3409.8 1636.0h0M3410.1 1639.7h0M3409.9 1643.3h0M3410.2 1647.0h0M3410.6 1650.7h0M3412.0 1578.8h0M3412.7 1582.5h0M3412.1 1586.2h0M3412.8 1589.9h0M3412.4 1593.7h0M3412.7 1597.4h0M3412.3 1601.1h0M3411.9 1604.8h0M3412.7 1608.6h0M3412.3 1612.3h0M3412.5 1616.0h0M3412.8 1619.7h0M3412.8 1623.5h0M3412.6 1627.2h0M3414.0 1585.3h0M3414.5 1588.9h0M3414.8 1592.4h0M3414.6 1595.9h0M3414.5 1599.4h0M3414.0 1603.0h0M3414.5 1606.5h0M3414.8 1610.0h0M3414.6 1613.5h0M3414.9 1617.1h0M3414.9 1620.6h0M3414.3 1624.1h0M3414.1 1627.7h0M3414.4 1631.2h0M3414.8 1634.7h0M3414.3 1638.2h0M3416.8 1605.7h0M3416.3 1609.3h0M3416.6 1612.8h0M3416.5 1616.4h0M3417.0 1619.9h0M3417.0 1623.5h0M3416.4 1627.0h0M3416.3 1630.5h0M3416.3 1634.1h0M3416.9 1637.6h0M3416.7 1641.2h0M3416.9 1644.7h0M3416.6 1648.3h0M3416.6 1651.8h0M3417.0 1655.4h0M3416.3 1658.9h0M3418.6 1619.9h0M3418.5 1623.5h0M3418.4 1627.0h0M3419.1 1630.5h0M3418.7 1634.0h0M3418.8 1637.5h0M3418.7 1641.0h0M3419.1 1644.5h0M3418.6 1648.0h0M3418.8 1651.5h0M3419.1 1655.0h0M3418.4 1658.5h0M3418.4 1662.0h0M3418.9 1665.5h0M3418.7 1669.0h0M3418.7 1672.5h0M3418.6 1676.0h0M3418.6 1679.5h0M3421.2 1618.9h0M3420.5 1622.8h0M3421.0 1626.7h0M3420.6 1630.5h0M3420.3 1634.4h0M3420.8 1638.3h0M3421.0 1642.1h0M3421.1 1646.0h0M3421.0 1649.9h0M3420.4 1653.7h0M3422.9 1586.6h0M3422.6 1590.1h0M3423.3 1593.7h0M3422.7 1597.2h0M3423.3 1600.7h0M3422.4 1604.3h0M3422.4 1607.8h0M3423.0 1611.3h0M3422.9 1614.8h0M3423.1 1618.4h0M3423.3 1621.9h0M3422.9 1625.4h0M3422.4 1629.0h0M3422.6 1632.5h0M3422.4 1636.0h0M3423.3 1639.6h0M3422.7 1643.1h0M3423.0 1646.6h0M3423.1 1650.1h0M3424.6 1580.8h0M3425.1 1584.3h0M3424.6 1587.9h0M3424.6 1591.4h0M3424.8 1595.0h0M3425.1 1598.6h0M3424.9 1602.1h0M3425.4 1605.7h0M3425.4 1609.2h0M3424.5 1612.8h0M3425.4 1616.3h0M3425.3 1619.9h0M3425.2 1623.5h0M3437.5 1534.5h0M3437.9 1538.1h0M3437.8 1541.7h0M3437.5 1545.3h0M3437.2 1548.8h0M3437.1 1552.4h0M3437.8 1556.0h0M3437.6 1559.5h0M3437.6 1563.1h0M3437.9 1566.7h0M3437.6 1570.3h0M3437.9 1573.8h0M3437.4 1577.4h0M3437.9 1581.0h0M3437.8 1584.5h0M3437.7 1588.1h0M3437.5 1591.7h0M3437.4 1595.3h0M3437.6 1598.8h0M3437.4 1602.4h0M3437.4 1606.0h0M3437.3 1609.5h0M3437.9 1613.1h0M3437.6 1616.7h0M3437.2 1620.3h0M3438.0 1623.8h0M3437.3 1627.4h0M3437.4 1631.0h0M3437.1 1634.5h0M3437.4 1638.1h0M3437.5 1641.7h0M3450.3 1613.8h0M3450.3 1617.3h0M3450.0 1620.9h0M3450.1 1624.4h0M3450.6 1627.9h0M3450.1 1631.4h0M3449.7 1635.0h0M3450.5 1638.5h0M3450.6 1642.0h0M3450.3 1645.5h0M3449.8 1649.0h0M3449.7 1652.6h0M3450.0 1656.1h0M3450.1 1659.6h0M3449.9 1663.1h0M3449.7 1666.7h0M3450.2 1670.2h0M3449.9 1673.7h0M3450.2 1677.2h0M3450.6 1680.7h0M3449.9 1684.3h0M3449.9 1687.8h0M3450.5 1691.3h0M3450.0 1694.8h0M3450.4 1698.4h0M3452.1 1598.0h0M3452.6 1601.6h0M3451.8 1605.2h0M3452.3 1608.8h0M3452.6 1612.4h0M3452.4 1616.0h0M3452.7 1619.6h0M3452.1 1623.2h0M3451.8 1626.7h0M3452.7 1630.3h0M3452.5 1633.9h0M3452.6 1637.5h0M3452.0 1641.1h0M3452.5 1644.7h0M3452.2 1648.3h0M3451.9 1651.9h0M3452.5 1655.5h0M3452.3 1659.0h0M3452.7 1662.6h0M3452.7 1666.2h0M3452.7 1669.8h0M3452.1 1673.4h0M3452.6 1677.0h0M3452.6 1680.6h0M3452.5 1684.2h0M3452.1 1687.8h0M3452.1 1691.3h0M3454.4 1620.9h0M3454.2 1624.4h0M3454.1 1628.0h0M3454.3 1631.6h0M3454.5 1635.1h0M3454.1 1638.7h0M3453.9 1642.3h0M3454.5 1645.8h0M3454.7 1649.4h0M3454.8 1653.0h0M3453.9 1656.5h0M3454.8 1660.1h0M3454.2 1663.7h0M3454.8 1667.2h0M3454.7 1670.8h0M3454.5 1674.4h0M3454.6 1677.9h0M3454.4 1681.5h0M3454.0 1685.1h0M3454.5 1688.6h0M3453.9 1692.2h0M3454.6 1695.8h0M3454.5 1699.3h0M3454.2 1702.9h0M3456.7 1647.7h0M3456.6 1651.4h0M3456.9 1655.1h0M3456.5 1658.8h0M3456.3 1662.5h0M3456.5 1666.2h0M3456.7 1669.9h0M3456.2 1673.6h0M3456.7 1677.3h0M3456.3 1681.0h0M3456.0 1684.7h0M3456.2 1688.4h0M3456.7 1692.1h0M3456.1 1695.8h0M3456.8 1699.5h0M3456.2 1703.2h0M3458.6 1626.3h0M3458.9 1629.9h0M3458.3 1633.4h0M3458.6 1636.9h0M3458.6 1640.4h0M3458.8 1644.0h0M3458.3 1647.5h0M3458.4 1651.0h0M3458.6 1654.6h0M3459.0 1658.1h0M3458.3 1661.6h0M3458.3 1665.1h0M3458.3 1668.7h0M3458.9 1672.2h0M3458.1 1675.7h0M3458.3 1679.3h0M3459.0 1682.8h0M3458.5 1686.3h0M3459.0 1689.8h0M3458.9 1693.4h0M3458.5 1696.9h0M3458.3 1700.4h0M3460.8 1623.9h0M3461.1 1627.6h0M3460.5 1631.2h0M3460.3 1634.8h0M3460.3 1638.4h0M3460.9 1642.0h0M3460.6 1645.6h0M3460.1 1649.2h0M3461.1 1652.8h0M3460.2 1656.4h0M3461.1 1660.1h0M3460.9 1663.7h0M3460.3 1667.3h0M3460.5 1670.9h0M3460.6 1674.5h0M3460.9 1678.1h0M3460.4 1681.7h0M3460.6 1685.3h0M3460.2 1688.9h0M3460.5 1692.6h0M3460.9 1696.2h0M3460.3 1699.8h0M3460.2 1703.4h0M3461.0 1707.0h0M3460.6 1710.6h0M3460.5 1714.2h0M3463.1 1631.1h0M3462.6 1634.7h0M3463.1 1638.3h0M3463.2 1641.9h0M3462.6 1645.4h0M3462.7 1649.0h0M3462.9 1652.6h0M3462.9 1656.2h0M3462.8 1659.8h0M3462.6 1663.3h0M3462.8 1666.9h0M3462.9 1670.5h0M3463.1 1674.1h0M3464.8 1618.5h0M3464.8 1622.0h0M3464.5 1625.6h0M3464.4 1629.1h0M3464.9 1632.6h0M3465.3 1636.2h0M3464.6 1639.7h0M3464.7 1643.3h0M3464.4 1646.8h0M3465.0 1650.3h0M3464.5 1653.9h0M3464.7 1657.4h0M3465.1 1661.0h0M3465.1 1664.5h0M3464.5 1668.1h0M3464.9 1671.6h0M3465.0 1675.1h0M3465.2 1678.7h0M3465.0 1682.2h0M3466.9 1601.7h0M3466.8 1605.3h0M3467.4 1608.9h0M3467.0 1612.5h0M3466.8 1616.1h0M3466.8 1619.7h0M3466.5 1623.3h0M3466.5 1626.9h0M3467.1 1630.5h0M3466.7 1634.1h0M3466.5 1637.7h0M3466.6 1641.3h0M3466.7 1644.9h0M3467.4 1648.5h0M3466.8 1652.1h0M3466.9 1655.7h0M3466.8 1659.4h0M3467.3 1663.0h0M3467.0 1666.6h0M3467.0 1670.2h0M3466.9 1673.8h0M3466.9 1677.4h0M3467.4 1681.0h0M3466.9 1684.6h0M3468.7 1643.3h0M3468.9 1647.0h0M3469.5 1650.7h0M3468.9 1654.4h0M3469.4 1658.1h0M3469.5 1661.8h0M3469.3 1665.6h0M3469.5 1669.3h0M3469.4 1673.0h0M3469.0 1676.7h0M3468.8 1680.4h0M3468.8 1684.1h0M3469.3 1687.8h0M3468.8 1691.6h0M3471.1 1606.8h0M3471.4 1610.5h0M3471.6 1614.2h0M3471.6 1617.8h0M3470.8 1621.5h0M3471.0 1625.2h0M3471.4 1628.9h0M3471.4 1632.6h0M3471.1 1636.3h0M3471.1 1639.9h0M3471.3 1643.6h0M3470.7 1647.3h0M3471.5 1651.0h0M3471.1 1654.7h0M3471.5 1658.4h0M3471.0 1662.0h0M3471.6 1665.7h0M3471.5 1669.4h0M3470.9 1673.1h0M3472.8 1638.7h0M3473.2 1642.3h0M3473.2 1645.9h0M3473.2 1649.5h0M3473.0 1653.1h0M3473.2 1656.7h0M3473.7 1660.3h0M3473.6 1663.9h0M3473.2 1667.5h0M3472.8 1671.1h0M3473.7 1674.7h0M3473.4 1678.3h0M3472.9 1681.9h0M3473.1 1685.5h0M3473.1 1689.1h0M3473.1 1692.6h0M3472.8 1696.2h0M3472.9 1699.8h0M3475.5 1634.6h0M3475.3 1638.6h0M3475.4 1642.6h0M3475.8 1646.5h0M3475.6 1650.5h0M3475.5 1654.5h0M3475.7 1658.5h0M3475.5 1662.5h0M3484.1 1620.8h0M3483.3 1624.3h0M3483.3 1627.9h0M3483.4 1631.4h0M3484.2 1635.0h0M3484.2 1638.5h0M3483.6 1642.0h0M3483.8 1645.6h0M3484.1 1649.1h0M3483.3 1652.6h0M3483.6 1656.2h0M3483.8 1659.7h0M3483.5 1663.3h0M3483.4 1666.8h0M3483.8 1670.3h0M3483.6 1673.9h0M3483.6 1677.4h0M3484.2 1680.9h0M3483.9 1684.5h0M3483.5 1688.0h0M3484.0 1691.5h0M3483.4 1695.1h0M3483.6 1698.6h0M3483.9 1702.2h0M3483.8 1705.7h0M3483.9 1709.2h0M3483.3 1712.8h0M3483.9 1716.3h0M3485.4 1593.0h0M3485.9 1596.5h0M3485.5 1600.1h0M3485.8 1603.6h0M3485.7 1607.2h0M3486.3 1610.7h0M3486.2 1614.3h0M3485.6 1617.8h0M3485.5 1621.4h0M3485.4 1625.0h0M3486.1 1628.5h0M3485.7 1632.1h0M3485.8 1635.6h0M3485.8 1639.2h0M3485.6 1642.7h0M3485.7 1646.3h0M3485.4 1649.8h0M3486.2 1653.4h0M3485.8 1656.9h0M3486.3 1660.5h0M3485.6 1664.0h0M3486.3 1667.6h0M3486.3 1671.2h0M3486.2 1674.7h0M3486.0 1678.3h0M3485.5 1681.8h0M3486.3 1685.4h0M3486.2 1688.9h0M3486.0 1692.5h0M3486.0 1696.0h0M3486.3 1699.6h0M3486.1 1703.1h0M3486.2 1706.7h0M3487.7 1606.1h0M3488.0 1609.6h0M3488.3 1613.1h0M3488.1 1616.6h0M3487.8 1620.2h0M3488.0 1623.7h0M3487.6 1627.2h0M3487.5 1630.7h0M3488.2 1634.2h0M3488.1 1637.7h0M3488.4 1641.2h0M3487.6 1644.7h0M3488.4 1648.2h0M3487.8 1651.7h0M3487.8 1655.2h0M3487.9 1658.7h0M3488.4 1662.2h0M3487.7 1665.7h0M3487.9 1669.2h0M3487.7 1672.7h0M3487.8 1676.2h0M3487.7 1679.7h0M3488.0 1683.2h0M3488.2 1686.7h0M3488.0 1690.2h0M3488.3 1693.7h0M3487.9 1697.2h0M3487.6 1700.7h0M3488.0 1704.2h0M3487.9 1707.7h0M3487.9 1711.2h0M3488.3 1714.7h0M3487.9 1718.2h0M3488.1 1721.7h0M3487.6 1725.2h0M3487.6 1728.7h0M3487.6 1732.2h0M3487.8 1735.7h0M3487.8 1739.2h0M3490.4 1631.0h0M3489.6 1634.6h0M3490.1 1638.2h0M3490.5 1641.7h0M3490.5 1645.3h0M3489.9 1648.8h0M3489.9 1652.4h0M3490.4 1656.0h0M3490.5 1659.5h0M3490.2 1663.1h0M3489.7 1666.6h0M3490.3 1670.2h0M3490.4 1673.7h0M3489.7 1677.3h0M3489.6 1680.9h0M3490.5 1684.4h0M3490.4 1688.0h0M3489.9 1691.5h0M3490.3 1695.1h0M3490.1 1698.7h0M3489.9 1702.2h0M3489.7 1705.8h0M3490.2 1709.3h0M3490.1 1712.9h0M3490.3 1716.4h0M3490.0 1720.0h0M3492.3 1611.1h0M3492.4 1614.7h0M3491.9 1618.3h0M3492.1 1621.9h0M3492.0 1625.5h0M3492.5 1629.1h0M3491.7 1632.7h0M3492.6 1636.3h0M3491.9 1639.9h0M3491.6 1643.5h0M3492.5 1647.1h0M3492.2 1650.8h0M3492.0 1654.4h0M3492.4 1658.0h0M3492.6 1661.6h0M3491.7 1665.2h0M3492.2 1668.8h0M3491.9 1672.4h0M3491.9 1676.0h0M3492.1 1679.6h0M3492.1 1683.2h0M3491.9 1686.8h0M3492.3 1690.4h0M3492.6 1694.0h0M3492.3 1697.6h0M3491.8 1701.2h0M3494.1 1651.0h0M3494.7 1654.6h0M3494.0 1658.3h0M3494.2 1662.0h0M3494.5 1665.6h0M3494.1 1669.3h0M3494.0 1672.9h0M3494.1 1676.6h0M3494.4 1680.2h0M3493.8 1683.9h0M3493.9 1687.5h0M3494.1 1691.2h0M3494.5 1694.8h0M3496.3 1634.5h0M3496.8 1638.2h0M3496.6 1641.9h0M3496.3 1645.5h0M3496.7 1649.2h0M3495.9 1652.9h0M3496.4 1656.5h0M3496.1 1660.2h0M3496.8 1663.9h0M3496.5 1667.5h0M3496.7 1671.2h0M3496.2 1674.8h0M3496.1 1678.5h0M3496.7 1682.2h0M3504.8 1585.1h0M3504.9 1588.7h0M3504.8 1592.4h0M3505.1 1596.0h0M3504.5 1599.6h0M3505.2 1603.3h0M3504.8 1606.9h0M3504.7 1610.6h0M3504.8 1614.2h0M3504.3 1617.8h0M3504.7 1621.5h0M3504.3 1625.1h0M3505.1 1628.8h0M3504.7 1632.4h0M3504.7 1636.0h0M3504.5 1639.7h0M3504.6 1643.3h0M3504.7 1647.0h0M3504.7 1650.6h0M3504.5 1654.2h0M3505.2 1657.9h0M3505.0 1661.5h0M3505.2 1665.2h0M3506.8 1577.6h0M3507.0 1581.2h0M3507.2 1584.8h0M3506.7 1588.3h0M3507.3 1591.9h0M3506.9 1595.4h0M3507.0 1599.0h0M3506.8 1602.6h0M3507.0 1606.1h0M3506.4 1609.7h0M3506.8 1613.2h0M3506.7 1616.8h0M3507.3 1620.4h0M3506.8 1623.9h0M3506.8 1627.5h0M3506.9 1631.0h0M3506.6 1634.6h0M3506.4 1638.2h0M3507.2 1641.7h0M3507.1 1645.3h0M3507.3 1648.8h0M3506.5 1652.4h0M3506.6 1656.0h0M3507.2 1659.5h0M3506.8 1663.1h0M3506.7 1666.6h0M3507.2 1670.2h0M3509.3 1572.6h0M3509.4 1576.1h0M3508.6 1579.6h0M3509.0 1583.1h0M3508.6 1586.7h0M3509.0 1590.2h0M3508.7 1593.7h0M3509.1 1597.2h0M3509.3 1600.7h0M3509.0 1604.2h0M3508.9 1607.7h0M3508.9 1611.2h0M3508.7 1614.8h0M3509.0 1618.3h0M3509.4 1621.8h0M3508.7 1625.3h0M3509.3 1628.8h0M3509.1 1632.3h0M3509.3 1635.8h0M3508.7 1639.4h0M3508.6 1642.9h0M3508.8 1646.4h0M3508.8 1649.9h0M3511.1 1541.9h0M3510.9 1545.4h0M3511.2 1549.0h0M3510.7 1552.5h0M3511.1 1556.0h0M3511.2 1559.5h0M3510.8 1563.0h0M3511.5 1566.5h0M3510.9 1570.0h0M3510.8 1573.5h0M3510.6 1577.1h0M3511.0 1580.6h0M3510.6 1584.1h0M3511.0 1587.6h0M3510.6 1591.1h0M3510.8 1594.6h0M3510.9 1598.1h0M3510.9 1601.6h0M3510.8 1605.2h0M3510.9 1608.7h0M3511.0 1612.2h0M3511.3 1615.7h0M3511.4 1619.2h0M3511.1 1622.7h0M3510.6 1626.2h0M3511.1 1629.7h0M3511.5 1633.3h0M3511.3 1636.8h0M3510.9 1640.3h0M3510.8 1643.8h0M3511.5 1647.3h0M3510.7 1650.8h0M3511.0 1654.3h0M3511.2 1657.8h0M3511.1 1661.4h0M3511.3 1664.9h0M3511.5 1668.4h0M3511.3 1671.9h0M3511.3 1675.4h0M3513.2 1602.5h0M3512.8 1606.1h0M3513.6 1609.7h0M3512.8 1613.3h0M3513.0 1616.9h0M3512.9 1620.4h0M3513.1 1624.0h0M3513.3 1627.6h0M3512.9 1631.2h0M3513.4 1634.8h0M3512.9 1638.4h0M3513.2 1641.9h0M3512.7 1645.5h0M3513.0 1649.1h0M3513.1 1652.7h0M3512.7 1656.3h0M3515.4 1600.3h0M3515.0 1603.8h0M3515.4 1607.3h0M3515.3 1610.8h0M3515.2 1614.3h0M3515.2 1617.8h0M3515.6 1621.3h0M3514.9 1624.8h0M3514.9 1628.3h0M3515.3 1631.8h0M3515.1 1635.3h0M3515.3 1638.8h0M3515.5 1642.3h0M3515.4 1645.8h0M3514.9 1649.3h0M3515.0 1652.8h0M3515.6 1656.3h0M3516.9 1573.8h0M3517.2 1577.5h0M3517.6 1581.1h0M3517.3 1584.7h0M3517.4 1588.3h0M3517.3 1591.9h0M3517.3 1595.6h0M3517.8 1599.2h0M3517.2 1602.8h0M3517.0 1606.4h0M3517.4 1610.0h0M3517.4 1613.7h0M3516.9 1617.3h0M3517.6 1620.9h0M3517.4 1624.5h0M3519.2 1585.1h0M3519.1 1588.7h0M3519.7 1592.2h0M3519.3 1595.7h0M3519.0 1599.2h0M3519.1 1602.7h0M3519.3 1606.3h0M3519.8 1609.8h0M3519.6 1613.3h0M3519.5 1616.8h0M3519.7 1620.3h0M3519.9 1623.9h0M3519.1 1627.4h0M3521.6 1552.6h0M3521.2 1556.2h0M3521.7 1559.9h0M3521.9 1563.5h0M3521.3 1567.1h0M3521.5 1570.7h0M3521.2 1574.4h0M3521.4 1578.0h0M3521.3 1581.6h0M3521.2 1585.3h0M3522.0 1588.9h0M3521.5 1592.5h0M3521.4 1596.2h0M3521.7 1599.8h0M3522.0 1603.4h0M3521.5 1607.0h0M3522.0 1610.7h0M3521.1 1614.3h0M3521.6 1617.9h0M3521.6 1621.6h0M3521.9 1625.2h0M3523.8 1534.2h0M3523.8 1537.8h0M3524.1 1541.3h0M3523.3 1544.8h0M3523.5 1548.3h0M3523.4 1551.8h0M3523.3 1555.3h0M3523.7 1558.9h0M3523.7 1562.4h0M3523.9 1565.9h0M3523.7 1569.4h0M3523.9 1572.9h0M3523.5 1576.4h0M3523.2 1580.0h0M3523.4 1583.5h0M3523.6 1587.0h0M3523.6 1590.5h0M3523.3 1594.0h0M3524.0 1597.5h0M3523.3 1601.1h0M3524.1 1604.6h0M3523.7 1608.1h0M3523.8 1611.6h0M3525.9 1499.5h0M3525.7 1503.0h0M3525.4 1506.6h0M3525.3 1510.1h0M3525.7 1513.6h0M3525.9 1517.2h0M3525.6 1520.7h0M3525.4 1524.3h0M3525.9 1527.8h0M3525.7 1531.4h0M3525.6 1534.9h0M3525.9 1538.4h0M3525.4 1542.0h0M3525.9 1545.5h0M3526.0 1549.1h0M3525.4 1552.6h0M3525.9 1556.1h0M3525.7 1559.7h0M3525.7 1563.2h0M3525.5 1566.8h0M3525.7 1570.3h0M3525.9 1573.8h0M3525.5 1577.4h0M3525.9 1580.9h0M3526.2 1584.5h0M3525.6 1588.0h0M3526.2 1591.5h0M3525.3 1595.1h0M2279.7 1757.0h0M2279.9 1761.0h0M2280.2 1764.9h0M2280.5 1768.9h0M2280.1 1772.8h0M2280.0 1776.8h0M2280.4 1780.7h0M2292.1 1747.0h0M2292.3 1750.7h0M2292.8 1754.4h0M2293.0 1758.1h0M2292.4 1761.8h0M2292.4 1765.6h0M2292.8 1769.3h0M2292.9 1773.0h0M2293.1 1776.7h0M2292.2 1780.4h0M2293.0 1784.1h0M2293.0 1787.9h0M2295.0 1719.8h0M2294.6 1723.3h0M2295.2 1726.9h0M2294.9 1730.4h0M2294.6 1734.0h0M2294.7 1737.5h0M2295.2 1741.1h0M2294.4 1744.7h0M2295.0 1748.2h0M2294.7 1751.8h0M2294.6 1755.3h0M2295.0 1758.9h0M2295.1 1762.4h0M2294.2 1766.0h0M2294.9 1769.5h0M2294.9 1773.1h0M2294.8 1776.6h0M2295.1 1780.2h0M2294.4 1783.8h0M2294.5 1787.3h0M2295.0 1790.9h0M2296.7 1709.9h0M2296.7 1713.4h0M2296.9 1717.0h0M2296.8 1720.5h0M2296.4 1724.1h0M2297.1 1727.7h0M2296.4 1731.2h0M2296.8 1734.8h0M2296.6 1738.3h0M2296.3 1741.9h0M2296.8 1745.5h0M2296.4 1749.0h0M2296.5 1752.6h0M2296.5 1756.1h0M2296.7 1759.7h0M2297.0 1763.3h0M2297.0 1766.8h0M2296.4 1770.4h0M2297.2 1773.9h0M2296.7 1777.5h0M2296.8 1781.1h0M2296.9 1784.6h0M2297.1 1788.2h0M2296.6 1791.7h0M2296.5 1795.3h0M2296.8 1798.9h0M2296.7 1802.4h0M2296.8 1806.0h0M2296.9 1809.5h0M2296.6 1813.1h0M2299.1 1729.8h0M2298.5 1733.4h0M2298.4 1737.0h0M2299.2 1740.6h0M2298.5 1744.2h0M2298.8 1747.8h0M2299.4 1751.4h0M2298.5 1755.1h0M2298.7 1758.7h0M2299.1 1762.3h0M2299.3 1765.9h0M2298.6 1769.5h0M2298.6 1773.1h0M2298.8 1776.7h0M2299.2 1780.3h0M2298.6 1783.9h0M2298.5 1787.5h0M2298.6 1791.1h0M2299.4 1794.7h0M2298.9 1798.3h0M2298.6 1801.9h0M2299.2 1805.5h0M2306.9 1713.0h0M2307.5 1716.6h0M2307.0 1720.2h0M2306.8 1723.8h0M2307.7 1727.4h0M2307.2 1731.0h0M2307.2 1734.6h0M2307.1 1738.2h0M2307.1 1741.8h0M2306.9 1745.4h0M2307.1 1749.0h0M2307.5 1752.6h0M2307.0 1756.2h0M2307.6 1759.8h0M2307.2 1763.4h0M2307.6 1767.0h0M2307.5 1770.6h0M2307.4 1774.2h0M2307.3 1777.8h0M2307.4 1781.4h0M2307.4 1785.0h0M2307.2 1788.6h0M2307.0 1792.2h0M2307.1 1795.8h0M2307.4 1799.4h0M2307.3 1803.0h0M2307.5 1806.6h0M2307.8 1810.2h0M2307.3 1813.8h0M2306.9 1817.4h0M2307.2 1821.0h0M2317.6 1730.1h0M2318.1 1733.7h0M2318.2 1737.3h0M2317.5 1740.9h0M2318.2 1744.6h0M2318.2 1748.2h0M2317.9 1751.8h0M2318.3 1755.4h0M2318.2 1759.0h0M2317.7 1762.7h0M2317.4 1766.3h0M2317.6 1769.9h0M2317.4 1773.5h0M2317.5 1777.1h0M2317.7 1780.8h0M2317.7 1784.4h0M2318.2 1788.0h0M2317.7 1791.6h0M2317.9 1795.2h0M2317.8 1798.9h0M2318.2 1802.5h0M2318.3 1806.1h0M2317.8 1809.7h0M2317.6 1813.3h0M2318.3 1817.0h0M2317.7 1820.6h0M2319.6 1724.6h0M2320.2 1728.1h0M2319.5 1731.7h0M2319.9 1735.2h0M2320.4 1738.7h0M2319.5 1742.2h0M2319.5 1745.7h0M2319.5 1749.2h0M2320.2 1752.7h0M2320.3 1756.3h0M2319.8 1759.8h0M2319.8 1763.3h0M2319.7 1766.8h0M2320.1 1770.3h0M2319.6 1773.8h0M2319.7 1777.3h0M2320.2 1780.9h0M2319.4 1784.4h0M2319.8 1787.9h0M2322.2 1712.8h0M2321.9 1716.3h0M2321.6 1719.9h0M2321.6 1723.4h0M2322.4 1727.0h0M2322.3 1730.5h0M2322.0 1734.1h0M2322.3 1737.6h0M2321.9 1741.2h0M2322.4 1744.7h0M2322.4 1748.3h0M2322.3 1751.8h0M2322.0 1755.4h0M2321.6 1758.9h0M2322.3 1762.5h0M2321.7 1766.0h0M2337.0 1713.6h0M2336.8 1717.2h0M2336.5 1720.7h0M2336.4 1724.2h0M2336.7 1727.8h0M2337.0 1731.3h0M2336.6 1734.9h0M2336.8 1738.4h0M2336.8 1741.9h0M2336.5 1745.5h0M2336.4 1749.0h0M2337.1 1752.6h0M2336.4 1756.1h0M2336.6 1759.6h0M2336.6 1763.2h0M2336.9 1766.7h0M2336.5 1770.3h0M2336.9 1773.8h0M2336.6 1777.3h0M2336.4 1780.9h0M2336.5 1784.4h0M2336.4 1788.0h0M2336.6 1791.5h0M2337.0 1795.1h0M2336.6 1798.6h0M2337.2 1802.1h0M2336.8 1805.7h0M2336.4 1809.2h0M2336.5 1812.8h0M2336.7 1816.3h0M2336.5 1819.8h0M2337.0 1823.4h0M2336.6 1826.9h0M2336.7 1830.5h0M2337.1 1834.0h0M2337.1 1837.5h0M2336.6 1841.1h0M2338.4 1720.4h0M2338.4 1724.0h0M2338.4 1727.6h0M2338.8 1731.2h0M2338.8 1734.8h0M2338.9 1738.4h0M2339.1 1742.0h0M2338.5 1745.6h0M2338.6 1749.2h0M2338.6 1752.8h0M2338.7 1756.4h0M2338.7 1760.0h0M2339.2 1763.6h0M2339.2 1767.2h0M2338.8 1770.8h0M2339.0 1774.4h0M2339.1 1778.0h0M2338.6 1781.6h0M2339.0 1785.2h0M2338.8 1788.8h0M2338.4 1792.4h0M2339.2 1796.0h0M2339.1 1799.6h0M2338.9 1803.2h0M2339.0 1806.8h0M2338.5 1810.4h0M2338.8 1814.0h0M2338.3 1817.7h0M2338.6 1821.3h0M2338.5 1824.9h0M2338.6 1828.5h0M2338.4 1832.1h0M2339.3 1835.7h0M2339.2 1839.3h0M2338.7 1842.9h0M2340.6 1789.3h0M2341.3 1793.0h0M2341.3 1796.7h0M2341.0 1800.4h0M2340.4 1804.1h0M2340.5 1807.8h0M2341.1 1811.5h0M2341.4 1815.2h0M2341.4 1818.9h0M2340.5 1822.6h0M2340.4 1826.3h0M2340.4 1830.0h0M2341.0 1833.7h0M2341.0 1837.4h0M2341.0 1841.1h0M2342.9 1723.1h0M2343.0 1726.7h0M2342.9 1730.3h0M2343.5 1733.9h0M2342.7 1737.5h0M2343.4 1741.1h0M2343.1 1744.7h0M2342.7 1748.2h0M2342.9 1751.8h0M2342.7 1755.4h0M2342.9 1759.0h0M2343.2 1762.6h0M2342.8 1766.2h0M2345.4 1726.9h0M2345.4 1730.4h0M2344.8 1734.0h0M2345.2 1737.5h0M2345.5 1741.0h0M2345.2 1744.6h0M2345.6 1748.1h0M2344.9 1751.6h0M2345.5 1755.2h0M2345.3 1758.7h0M2345.5 1762.2h0M2344.9 1765.8h0M2345.5 1769.3h0M2345.1 1772.8h0M2344.7 1776.3h0M2345.4 1779.9h0M2345.5 1783.4h0M2345.2 1786.9h0M2344.8 1790.5h0M2345.6 1794.0h0M2345.3 1797.5h0M2345.6 1801.1h0M2345.6 1804.6h0M2345.2 1808.1h0M2344.7 1811.7h0M2344.6 1815.2h0M2345.4 1818.7h0M2344.8 1822.3h0M2346.9 1722.1h0M2347.1 1725.7h0M2347.4 1729.2h0M2346.8 1732.8h0M2347.6 1736.4h0M2346.9 1739.9h0M2347.1 1743.5h0M2347.3 1747.1h0M2347.4 1750.7h0M2347.1 1754.2h0M2346.9 1757.8h0M2346.8 1761.4h0M2346.9 1764.9h0M2347.5 1768.5h0M2346.9 1772.1h0M2346.8 1775.7h0M2346.9 1779.2h0M2346.9 1782.8h0M2346.9 1786.4h0M2347.4 1790.0h0M2347.3 1793.5h0M2346.8 1797.1h0M2347.3 1800.7h0M2347.1 1804.2h0M2347.1 1807.8h0M2347.1 1811.4h0M2347.5 1815.0h0M2346.8 1818.5h0M2347.4 1822.1h0M2347.0 1825.7h0M2357.5 1778.6h0M2357.3 1782.4h0M2357.5 1786.1h0M2357.6 1789.9h0M2358.1 1793.6h0M2357.3 1797.4h0M2357.4 1801.1h0M2357.5 1804.9h0M2358.1 1808.6h0M2357.9 1812.4h0M2359.6 1784.9h0M2359.6 1788.2h0M2360.1 1791.4h0M2384.7 1787.9h0M2384.6 1792.3h0M2385.1 1796.7h0M2386.7 1745.3h0M2386.7 1748.9h0M2386.9 1752.5h0M2387.0 1756.1h0M2386.6 1759.8h0M2387.3 1763.4h0M2387.2 1767.0h0M2387.6 1770.7h0M2387.4 1774.3h0M2387.2 1777.9h0M2387.4 1781.5h0M2387.3 1785.2h0M2387.4 1788.8h0M2387.0 1792.4h0M2387.2 1796.0h0M2387.6 1799.7h0M2387.5 1803.3h0M2387.3 1806.9h0M2386.7 1810.6h0M2387.6 1814.2h0M2387.2 1817.8h0M2387.6 1821.4h0M2387.4 1825.1h0M2387.4 1828.7h0M2386.9 1832.3h0M2386.8 1835.9h0M2386.6 1839.6h0M2386.7 1843.2h0M2388.9 1740.7h0M2389.0 1744.3h0M2389.4 1747.9h0M2389.3 1751.5h0M2389.1 1755.2h0M2388.8 1758.8h0M2388.9 1762.4h0M2388.9 1766.1h0M2389.7 1769.7h0M2388.7 1773.3h0M2389.6 1777.0h0M2388.7 1780.6h0M2389.2 1784.2h0M2389.6 1787.9h0M2388.9 1791.5h0M2389.4 1795.1h0M2388.9 1798.8h0M2389.5 1802.4h0M2389.1 1806.0h0M2389.5 1809.7h0M2389.1 1813.3h0M2388.9 1816.9h0M2389.2 1820.6h0M2389.6 1824.2h0M2388.8 1827.8h0M2389.2 1831.5h0M2391.0 1746.9h0M2391.8 1750.5h0M2391.5 1754.0h0M2391.1 1757.6h0M2390.9 1761.2h0M2391.0 1764.8h0M2391.0 1768.4h0M2390.9 1771.9h0M2391.1 1775.5h0M2391.7 1779.1h0M2391.0 1782.7h0M2390.8 1786.3h0M2391.3 1789.8h0M2391.3 1793.4h0M2391.4 1797.0h0M2391.6 1800.6h0M2391.6 1804.1h0M2391.1 1807.7h0M2391.1 1811.3h0M2391.5 1814.9h0M2391.3 1818.5h0M2391.2 1822.0h0M2391.0 1825.6h0M2390.9 1829.2h0M2391.7 1832.8h0M2391.1 1836.4h0M2391.2 1839.9h0M2393.5 1730.0h0M2393.9 1733.6h0M2393.1 1737.3h0M2393.7 1740.9h0M2393.4 1744.5h0M2393.2 1748.2h0M2393.6 1751.8h0M2393.5 1755.4h0M2393.1 1759.1h0M2393.3 1762.7h0M2393.8 1766.4h0M2393.8 1770.0h0M2393.7 1773.6h0M2393.4 1777.3h0M2392.9 1780.9h0M2393.3 1784.5h0M2393.7 1788.2h0M2393.5 1791.8h0M2393.3 1795.5h0M2393.3 1799.1h0M2393.4 1802.7h0M2393.6 1806.4h0M2393.7 1810.0h0M2393.6 1813.6h0M2395.9 1787.3h0M2395.7 1791.5h0M2395.3 1795.7h0M2395.0 1799.9h0M2395.2 1804.0h0M2407.7 1745.7h0M2408.5 1749.6h0M2407.8 1753.5h0M2408.1 1757.4h0M2407.9 1761.3h0M2407.6 1765.3h0M2418.2 1711.6h0M2418.7 1715.2h0M2418.8 1718.8h0M2418.5 1722.3h0M2418.8 1725.9h0M2418.4 1729.5h0M2418.6 1733.0h0M2418.2 1736.6h0M2418.4 1740.1h0M2418.5 1743.7h0M2418.4 1747.3h0M2418.4 1750.8h0M2418.2 1754.4h0M2418.3 1758.0h0M2418.5 1761.5h0M2418.1 1765.1h0M2418.4 1768.6h0M2418.3 1772.2h0M2418.5 1775.8h0M2418.1 1779.3h0M2419.1 1782.9h0M2418.3 1786.5h0M2419.0 1790.0h0M2418.7 1793.6h0M2418.7 1797.1h0M2429.2 1707.2h0M2428.7 1711.0h0M2429.1 1714.7h0M2429.5 1718.5h0M2428.8 1722.2h0M2429.4 1726.0h0M2429.1 1729.8h0M2429.1 1733.5h0M2428.9 1737.3h0M2429.0 1741.1h0M2429.4 1744.8h0M2431.4 1723.2h0M2430.9 1726.8h0M2430.9 1730.4h0M2431.1 1734.1h0M2431.0 1737.7h0M2430.9 1741.4h0M2431.5 1745.0h0M2430.9 1748.6h0M2431.6 1752.3h0M2431.5 1755.9h0M2431.0 1759.6h0M2431.1 1763.2h0M2431.7 1766.8h0M2431.1 1770.5h0M2464.8 1689.3h0M2465.2 1693.0h0M2465.2 1696.7h0M2464.7 1700.3h0M2465.0 1704.0h0M2464.7 1707.6h0M2465.1 1711.3h0M2464.9 1715.0h0M2464.8 1718.6h0M2464.7 1722.3h0M2465.0 1726.0h0M2465.1 1729.6h0M2464.8 1733.3h0M2464.7 1737.0h0M2465.3 1740.6h0M2465.2 1744.3h0M2464.6 1748.0h0M2464.7 1751.6h0M2466.8 1734.8h0M2467.3 1738.4h0M2467.3 1742.0h0M2466.8 1745.6h0M2467.2 1749.3h0M2466.4 1752.9h0M2467.1 1756.5h0M2466.5 1760.1h0M2467.1 1763.8h0M2467.0 1767.4h0M2467.2 1771.0h0M2466.6 1774.6h0M2466.9 1778.2h0M2467.1 1781.9h0M2467.2 1785.5h0M2467.0 1789.1h0M2467.3 1792.7h0M2467.3 1796.4h0M2466.7 1800.0h0M2468.5 1714.3h0M2468.7 1717.9h0M2468.5 1721.5h0M2468.9 1725.1h0M2468.6 1728.7h0M2469.2 1732.3h0M2469.4 1735.9h0M2469.0 1739.5h0M2469.1 1743.1h0M2469.3 1746.7h0M2468.9 1750.3h0M2469.3 1753.9h0M2468.9 1757.5h0M2468.7 1761.1h0M2469.3 1764.7h0M2469.2 1768.3h0M2469.3 1771.9h0M2468.7 1775.5h0M2469.4 1779.1h0M2468.6 1782.7h0M2469.2 1786.3h0M2469.3 1789.9h0M2469.4 1793.5h0M2468.6 1797.1h0M2469.1 1800.7h0M2468.6 1804.3h0M2470.8 1754.2h0M2471.2 1758.0h0M2470.9 1761.7h0M2471.2 1765.5h0M2471.3 1769.3h0M2471.1 1773.0h0M2470.6 1776.8h0M2471.2 1780.5h0M2470.8 1784.3h0M2470.9 1788.1h0M2471.3 1791.8h0M2471.2 1795.6h0M2483.8 1736.8h0M2484.0 1740.4h0M2483.3 1744.0h0M2483.9 1747.5h0M2483.9 1751.1h0M2483.4 1754.6h0M2483.4 1758.2h0M2484.1 1761.8h0M2483.3 1765.3h0M2483.4 1768.9h0M2483.6 1772.4h0M2483.3 1776.0h0M2483.3 1779.6h0M2483.2 1783.1h0M2483.8 1786.7h0M2483.2 1790.3h0M2483.8 1793.8h0M2483.3 1797.4h0M2484.0 1800.9h0M2483.4 1804.5h0M2483.7 1808.1h0M2484.1 1811.6h0M2484.1 1815.2h0M2483.9 1818.8h0M2484.0 1822.3h0M2483.8 1825.9h0M2483.9 1829.4h0M2483.5 1833.0h0M2492.3 1755.1h0M2492.1 1758.8h0M2492.0 1762.5h0M2492.0 1766.2h0M2492.4 1770.0h0M2492.6 1773.7h0M2492.2 1777.4h0M2491.8 1781.1h0M2492.1 1784.9h0M2492.1 1788.6h0M2492.0 1792.3h0M2491.9 1796.0h0M2492.1 1799.8h0M2491.7 1803.5h0M2492.3 1807.2h0M2492.2 1810.9h0M2494.3 1720.1h0M2494.0 1723.7h0M2493.7 1727.3h0M2493.7 1730.8h0M2493.9 1734.4h0M2494.3 1738.0h0M2493.9 1741.6h0M2494.5 1745.2h0M2494.6 1748.8h0M2494.3 1752.4h0M2494.1 1755.9h0M2494.5 1759.5h0M2494.2 1763.1h0M2494.2 1766.7h0M2494.4 1770.3h0M2494.3 1773.9h0M2494.3 1777.4h0M2493.9 1781.0h0M2494.2 1784.6h0M2494.5 1788.2h0M2494.6 1791.8h0M2494.0 1795.4h0M2494.4 1798.9h0M2494.5 1802.5h0M2493.8 1806.1h0M2494.1 1809.7h0M2494.4 1813.3h0M2494.1 1816.9h0M2494.1 1820.5h0M2496.0 1732.3h0M2495.8 1736.2h0M2496.1 1740.2h0M2496.2 1744.2h0M2495.9 1748.1h0M2495.9 1752.1h0M2496.3 1756.0h0M2496.1 1760.0h0M2498.3 1696.1h0M2498.7 1699.7h0M2498.7 1703.3h0M2498.0 1706.9h0M2498.5 1710.5h0M2498.3 1714.1h0M2498.5 1717.7h0M2498.2 1721.4h0M2498.9 1725.0h0M2497.9 1728.6h0M2498.0 1732.2h0M2498.5 1735.8h0M2498.3 1739.4h0M2498.3 1743.0h0M2498.3 1746.7h0M2498.7 1750.3h0M2498.0 1753.9h0M2498.4 1757.5h0M2498.8 1761.1h0M2498.8 1764.7h0M2498.4 1768.3h0M2498.6 1772.0h0M2498.1 1775.6h0M2498.6 1779.2h0M2498.9 1782.8h0M2498.5 1786.4h0M2498.6 1790.0h0M2498.3 1793.6h0M2500.2 1719.4h0M2500.8 1723.1h0M2500.8 1726.8h0M2500.4 1730.5h0M2500.4 1734.3h0M2500.5 1738.0h0M2500.7 1741.7h0M2500.2 1745.4h0M2500.1 1749.1h0M2500.0 1752.8h0M2500.9 1756.6h0M2500.9 1760.3h0M2500.8 1764.0h0M2500.4 1767.7h0M2500.6 1771.4h0M2500.7 1775.1h0M2502.2 1679.7h0M2502.6 1683.2h0M2502.2 1686.7h0M2503.0 1690.3h0M2502.7 1693.8h0M2502.6 1697.3h0M2502.7 1700.9h0M2502.5 1704.4h0M2502.7 1707.9h0M2503.1 1711.4h0M2502.2 1715.0h0M2502.5 1718.5h0M2502.7 1722.0h0M2502.2 1725.6h0M2502.1 1729.1h0M2503.1 1732.6h0M2503.0 1736.1h0M2502.3 1739.7h0M2503.1 1743.2h0M2503.0 1746.7h0M2502.8 1750.3h0M2502.7 1753.8h0M2503.0 1757.3h0M2502.5 1760.8h0M2502.8 1764.4h0M2502.3 1767.9h0M2502.6 1771.4h0M2502.6 1775.0h0M2502.3 1778.5h0M2502.2 1782.0h0M2504.7 1695.9h0M2504.2 1699.5h0M2504.6 1703.1h0M2504.4 1706.6h0M2505.0 1710.2h0M2504.2 1713.8h0M2504.7 1717.4h0M2504.5 1721.0h0M2504.7 1724.6h0M2504.6 1728.1h0M2504.8 1731.7h0M2505.0 1735.3h0M2504.3 1738.9h0M2504.5 1742.5h0M2505.0 1746.0h0M2507.2 1666.7h0M2507.0 1670.3h0M2506.9 1673.9h0M2506.5 1677.6h0M2506.5 1681.2h0M2507.1 1684.8h0M2506.3 1688.4h0M2506.6 1692.0h0M2506.7 1695.6h0M2507.3 1699.3h0M2506.8 1702.9h0M2507.1 1706.5h0M2506.9 1710.1h0M2507.3 1713.7h0M2507.1 1717.4h0M2506.4 1721.0h0M2506.4 1724.6h0M2506.4 1728.2h0M2507.2 1731.8h0M2506.8 1735.5h0M2507.1 1739.1h0M2508.4 1665.1h0M2508.8 1668.6h0M2508.9 1672.1h0M2509.0 1675.7h0M2509.4 1679.2h0M2508.6 1682.7h0M2508.5 1686.3h0M2508.8 1689.8h0M2509.2 1693.3h0M2509.0 1696.9h0M2509.2 1700.4h0M2509.1 1703.9h0M2509.0 1707.4h0M2508.7 1711.0h0M2508.9 1714.5h0M2508.9 1718.0h0M2527.3 1685.2h0M2528.0 1688.8h0M2528.0 1692.4h0M2528.0 1696.0h0M2527.6 1699.6h0M2528.0 1703.2h0M2527.3 1706.8h0M2527.7 1710.4h0M2527.9 1714.0h0M2528.1 1717.6h0M2527.6 1721.2h0M2527.4 1724.8h0M2527.8 1728.4h0M2527.9 1732.0h0M2527.3 1735.6h0M2622.3 1718.0h0M2621.9 1721.7h0M2622.1 1725.3h0M2622.0 1728.9h0M2622.2 1732.6h0M2621.6 1736.2h0M2621.6 1739.8h0M2621.4 1743.5h0M2621.6 1747.1h0M2621.7 1750.7h0M2622.3 1754.4h0M2622.0 1758.0h0M2622.1 1761.6h0M2621.9 1765.2h0M2622.0 1768.9h0M2621.7 1772.5h0M2621.5 1776.1h0M2632.7 1724.3h0M2632.6 1728.0h0M2632.2 1731.7h0M2632.8 1735.3h0M2632.2 1739.0h0M2632.2 1742.7h0M2632.8 1746.4h0M2631.9 1750.1h0M2632.6 1753.7h0M2632.4 1757.4h0M2634.7 1734.9h0M2634.4 1738.5h0M2634.9 1742.2h0M2634.4 1745.8h0M2634.4 1749.4h0M2634.2 1753.1h0M2634.8 1756.7h0M2634.0 1760.3h0M2634.4 1764.0h0M2634.8 1767.6h0M2634.2 1771.3h0M2634.7 1774.9h0M2636.7 1747.4h0M2636.3 1751.0h0M2636.8 1754.6h0M2636.2 1758.2h0M2636.1 1761.8h0M2636.4 1765.4h0M2636.5 1769.0h0M2636.7 1772.6h0M2636.3 1776.2h0M2636.3 1779.8h0M2636.2 1783.4h0M2636.3 1787.0h0M2636.9 1790.7h0M2638.5 1754.0h0M2639.1 1757.6h0M2639.0 1761.2h0M2638.6 1764.9h0M2638.6 1768.5h0M2638.5 1772.2h0M2639.0 1775.8h0M2638.5 1779.5h0M2638.2 1783.1h0M2640.3 1723.9h0M2640.9 1727.5h0M2641.0 1731.1h0M2640.4 1734.7h0M2641.0 1738.2h0M2641.0 1741.8h0M2640.7 1745.4h0M2641.2 1749.0h0M2640.8 1752.6h0M2640.9 1756.2h0M2640.3 1759.8h0M2640.4 1763.4h0M2643.2 1731.3h0M2643.2 1734.8h0M2643.1 1738.4h0M2642.4 1741.9h0M2643.3 1745.5h0M2642.8 1749.0h0M2642.9 1752.6h0M2642.5 1756.1h0M2642.6 1759.6h0M2642.6 1763.2h0M2642.4 1766.7h0M2642.5 1770.3h0M2643.0 1773.8h0M2642.9 1777.4h0M2642.6 1780.9h0M2642.8 1784.4h0M2642.5 1788.0h0M2642.4 1791.5h0M2642.6 1795.1h0M2642.9 1798.6h0M2642.7 1802.2h0M2643.3 1805.7h0M2644.7 1734.7h0M2645.0 1738.4h0M2645.4 1742.1h0M2644.7 1745.7h0M2645.0 1749.4h0M2644.8 1753.1h0M2645.4 1756.8h0M2645.0 1760.4h0M2644.6 1764.1h0M2644.7 1767.8h0M2644.6 1771.5h0M2645.2 1775.1h0M2645.4 1778.8h0M2645.1 1782.5h0M2645.0 1786.2h0M2645.1 1789.9h0M2644.7 1793.5h0M2645.3 1797.2h0M2645.3 1800.9h0M2647.4 1737.3h0M2647.5 1740.8h0M2646.7 1744.3h0M2646.6 1747.9h0M2646.7 1751.4h0M2646.8 1754.9h0M2647.0 1758.4h0M2647.3 1761.9h0M2646.9 1765.5h0M2646.9 1769.0h0M2647.5 1772.5h0M2647.1 1776.0h0M2646.6 1779.5h0M2646.8 1783.1h0M2647.2 1786.6h0M2646.5 1790.1h0M2646.9 1793.6h0M2647.5 1797.1h0M2646.6 1800.7h0M2647.0 1804.2h0M2646.5 1807.7h0M2649.0 1727.8h0M2649.5 1731.4h0M2649.3 1735.0h0M2648.8 1738.6h0M2649.2 1742.2h0M2649.3 1745.8h0M2648.7 1749.4h0M2648.8 1753.0h0M2649.4 1756.6h0M2649.3 1760.2h0M2649.3 1763.8h0M2648.7 1767.4h0M2649.2 1771.0h0M2649.3 1774.6h0M2648.9 1778.2h0M2648.8 1781.8h0M2648.9 1785.4h0M2649.4 1789.0h0M2649.5 1792.6h0M2649.1 1796.2h0M2648.6 1799.8h0M2649.0 1803.4h0M2650.9 1769.6h0M2651.1 1773.5h0M2651.5 1777.5h0M2651.7 1781.5h0M2653.6 1737.6h0M2652.9 1741.2h0M2653.6 1744.8h0M2653.7 1748.3h0M2653.3 1751.9h0M2653.4 1755.5h0M2652.8 1759.1h0M2653.5 1762.7h0M2652.9 1766.3h0M2653.0 1769.8h0M2653.4 1773.4h0M2653.4 1777.0h0M2653.6 1780.6h0M2652.9 1784.2h0M2653.2 1787.7h0M2653.4 1791.3h0M2652.9 1794.9h0M2653.2 1798.5h0M2653.7 1802.1h0M2655.6 1729.3h0M2655.0 1733.0h0M2655.6 1736.7h0M2655.1 1740.3h0M2655.8 1744.0h0M2655.1 1747.7h0M2655.2 1751.3h0M2655.5 1755.0h0M2655.5 1758.7h0M2655.3 1762.3h0M2655.3 1766.0h0M2655.6 1769.6h0M2655.6 1773.3h0M2655.3 1777.0h0M2655.3 1780.6h0M2655.0 1784.3h0M2655.8 1788.0h0M2655.1 1791.6h0M2655.5 1795.3h0M2655.7 1798.9h0M2655.8 1802.6h0M2655.0 1806.3h0M2657.9 1738.5h0M2657.9 1742.3h0M2657.4 1746.0h0M2657.1 1749.8h0M2657.4 1753.5h0M2657.2 1757.3h0M2657.6 1761.0h0M2657.7 1764.8h0M2657.6 1768.5h0M2657.5 1772.2h0M2657.5 1776.0h0M2657.6 1779.7h0M2657.3 1783.5h0M2657.8 1787.2h0M2657.6 1791.0h0M2668.0 1783.6h0M2667.6 1787.1h0M2668.2 1790.7h0M2667.6 1794.2h0M2668.0 1797.8h0M2668.2 1801.3h0M2668.4 1804.9h0M2667.6 1808.4h0M2668.2 1812.0h0M2667.9 1815.5h0M2668.0 1819.1h0M2668.4 1822.6h0M2668.3 1826.2h0M2669.8 1728.9h0M2670.3 1732.5h0M2670.5 1736.0h0M2670.0 1739.5h0M2670.4 1743.0h0M2670.3 1746.6h0M2669.9 1750.1h0M2669.7 1753.6h0M2670.5 1757.1h0M2670.1 1760.6h0M2670.4 1764.2h0M2670.6 1767.7h0M2669.9 1771.2h0M2670.1 1774.7h0M2669.7 1778.3h0M2670.1 1781.8h0M2669.9 1785.3h0M2669.8 1788.8h0M2670.5 1792.4h0M2669.7 1795.9h0M2669.9 1799.4h0M2669.9 1802.9h0M2669.7 1806.4h0M2670.1 1810.0h0M2670.6 1813.5h0M2669.8 1817.0h0M2669.9 1820.5h0M2670.2 1824.1h0M2670.5 1827.6h0M2670.0 1831.1h0M2670.4 1834.6h0M2670.3 1838.1h0M2672.0 1781.2h0M2671.8 1784.8h0M2671.8 1788.4h0M2672.5 1792.0h0M2672.3 1795.6h0M2672.2 1799.2h0M2672.4 1802.8h0M2672.1 1806.4h0M2671.9 1810.0h0M2672.7 1813.6h0M2672.2 1817.2h0M2672.0 1820.8h0M2672.2 1824.4h0M2671.9 1828.0h0M2672.2 1831.6h0M2672.5 1835.2h0M2672.6 1838.8h0M2674.4 1741.7h0M2674.0 1745.3h0M2674.3 1748.9h0M2673.9 1752.5h0M2673.9 1756.1h0M2674.2 1759.7h0M2673.9 1763.3h0M2674.6 1766.8h0M2674.0 1770.4h0M2673.9 1774.0h0M2674.3 1777.6h0M2674.6 1781.2h0M2674.8 1784.8h0M2674.1 1788.4h0M2674.2 1792.0h0M2674.7 1795.6h0M2674.3 1799.1h0M2674.7 1802.7h0M2674.5 1806.3h0M2674.4 1809.9h0M2674.2 1813.5h0M2674.3 1817.1h0M2674.5 1820.7h0M2674.3 1824.3h0M2674.5 1827.9h0M2676.6 1779.3h0M2676.7 1783.2h0M2676.3 1787.0h0M2675.9 1790.8h0M2678.6 1731.7h0M2678.2 1735.3h0M2678.1 1738.8h0M2678.5 1742.4h0M2678.1 1746.0h0M2679.0 1749.5h0M2678.8 1753.1h0M2678.7 1756.6h0M2678.6 1760.2h0M2678.5 1763.7h0M2678.6 1767.3h0M2678.8 1770.8h0M2678.5 1774.4h0M2678.6 1777.9h0M2678.5 1781.5h0M2678.8 1785.0h0M2678.1 1788.6h0M2678.6 1792.1h0M2678.9 1795.7h0M2678.9 1799.3h0M2678.2 1802.8h0M2678.1 1806.4h0M2678.6 1809.9h0M2679.0 1813.5h0M2678.7 1817.0h0M2678.4 1820.6h0M2678.8 1824.1h0M2678.1 1827.7h0M2678.1 1831.2h0M2680.7 1784.4h0M2680.3 1788.0h0M2680.6 1791.6h0M2680.3 1795.2h0M2681.1 1798.8h0M2680.4 1802.4h0M2680.2 1806.0h0M2680.9 1809.6h0M2680.9 1813.2h0M2680.5 1816.8h0M2680.2 1820.4h0M2680.2 1824.0h0M2680.8 1827.6h0M2680.9 1831.2h0M2680.2 1834.8h0M2680.4 1838.4h0M2683.0 1729.8h0M2682.7 1733.4h0M2682.8 1737.0h0M2682.7 1740.6h0M2682.4 1744.2h0M2682.4 1747.8h0M2683.2 1751.4h0M2682.6 1755.0h0M2683.0 1758.6h0M2682.6 1762.2h0M2682.6 1765.9h0M2682.6 1769.5h0M2683.0 1773.1h0M2683.1 1776.7h0M2682.6 1780.3h0M2682.6 1783.9h0M2682.9 1787.5h0M2682.4 1791.1h0M2682.8 1794.7h0M2682.9 1798.3h0M2682.7 1802.0h0M2682.8 1805.6h0M2682.6 1809.2h0M2682.7 1812.8h0M2682.3 1816.4h0M2682.4 1820.0h0M2682.4 1823.6h0M2682.8 1827.2h0M2682.5 1830.8h0M2699.3 1737.2h0M2699.4 1740.7h0M2699.6 1744.2h0M2699.5 1747.7h0M2700.0 1751.2h0M2699.1 1754.8h0M2699.3 1758.3h0M2699.1 1761.8h0M2699.9 1765.3h0M2699.6 1768.8h0M2699.6 1772.3h0M2701.4 1746.0h0M2701.5 1749.8h0M2701.6 1753.5h0M2702.0 1757.2h0M2702.1 1761.0h0M2702.0 1764.7h0M2701.3 1768.4h0M2702.1 1772.1h0M2701.6 1775.9h0M2701.7 1779.6h0M2701.5 1783.3h0M2701.6 1787.1h0M2701.3 1790.8h0M2701.5 1794.5h0M2701.8 1798.2h0M2704.0 1774.9h0M2704.2 1779.0h0M2704.1 1783.2h0M2703.5 1787.3h0M2706.2 1762.2h0M2706.2 1766.4h0M2705.5 1770.6h0M2706.0 1774.7h0M2705.8 1778.9h0M2705.8 1783.0h0M2720.9 1774.8h0M2720.8 1778.5h0M2720.9 1782.1h0M2720.5 1785.8h0M2721.0 1789.5h0M2720.7 1793.2h0M2722.6 1722.9h0M2722.9 1726.5h0M2722.5 1730.1h0M2722.5 1733.8h0M2723.0 1737.4h0M2722.8 1741.0h0M2722.3 1744.6h0M2722.7 1748.2h0M2722.5 1751.9h0M2722.9 1755.5h0M2722.4 1759.1h0M2722.7 1762.7h0M2722.9 1766.3h0M2722.4 1770.0h0M2722.4 1773.6h0M2722.5 1777.2h0M2722.2 1780.8h0M2722.9 1784.4h0M2722.3 1788.1h0M2722.8 1791.7h0M2722.6 1795.3h0M2722.3 1798.9h0M2722.3 1802.5h0M2724.4 1741.2h0M2725.1 1744.8h0M2724.6 1748.5h0M2725.1 1752.1h0M2724.3 1755.7h0M2724.7 1759.3h0M2725.2 1763.0h0M2724.9 1766.6h0M2724.4 1770.2h0M2724.2 1773.9h0M2724.9 1777.5h0M2724.7 1781.1h0M2724.9 1784.8h0M2724.4 1788.4h0M2724.6 1792.0h0M2724.9 1795.6h0M2724.7 1799.3h0M2724.7 1802.9h0M2724.3 1806.5h0M2725.1 1810.2h0M2727.1 1734.4h0M2727.1 1738.0h0M2726.4 1741.5h0M2727.3 1745.1h0M2727.3 1748.6h0M2726.9 1752.1h0M2727.3 1755.7h0M2726.9 1759.2h0M2727.3 1762.8h0M2727.2 1766.3h0M2727.3 1769.9h0M2726.6 1773.4h0M2727.3 1777.0h0M2727.2 1780.5h0M2726.8 1784.0h0M2727.3 1787.6h0M2726.7 1791.1h0M2727.1 1794.7h0M2737.0 1766.3h0M2737.3 1770.2h0M2737.1 1774.1h0M2737.8 1778.0h0M2739.0 1739.5h0M2739.9 1743.2h0M2739.2 1746.9h0M2739.9 1750.6h0M2739.1 1754.3h0M2739.0 1758.0h0M2739.5 1761.7h0M2739.4 1765.4h0M2739.6 1769.1h0M2739.2 1772.8h0M2788.8 1768.8h0M2789.4 1772.6h0M2789.4 1776.4h0M2788.9 1780.2h0M2789.2 1784.0h0M2788.5 1787.9h0M2788.9 1791.7h0M2789.1 1795.5h0M2788.5 1799.3h0M2788.8 1803.1h0M2788.9 1806.9h0M2791.0 1742.3h0M2791.5 1746.0h0M2791.0 1749.8h0M2790.7 1753.5h0M2791.0 1757.2h0M2791.1 1761.0h0M2791.3 1764.7h0M2791.5 1768.4h0M2791.4 1772.2h0M2791.5 1775.9h0M2790.9 1779.6h0M2790.8 1783.3h0M2793.5 1753.3h0M2792.7 1757.0h0M2792.8 1760.8h0M2793.4 1764.5h0M2793.2 1768.3h0M2792.7 1772.0h0M2793.1 1775.8h0M2793.6 1779.5h0M2792.9 1783.3h0M2792.7 1787.0h0M2793.5 1790.7h0M2805.3 1728.7h0M2806.2 1732.3h0M2805.9 1735.9h0M2805.5 1739.5h0M2805.9 1743.1h0M2805.9 1746.7h0M2805.3 1750.2h0M2805.7 1753.8h0M2805.7 1757.4h0M2806.1 1761.0h0M2805.9 1764.6h0M2805.6 1768.2h0M2805.6 1771.7h0M2805.5 1775.3h0M2805.5 1778.9h0M2805.6 1782.5h0M2805.4 1786.1h0M2805.6 1789.7h0M2806.2 1793.2h0M2805.6 1796.8h0M2805.6 1800.4h0M2805.8 1804.0h0M2806.0 1807.6h0M2805.5 1811.2h0M2806.0 1814.7h0M2805.7 1818.3h0M2805.6 1821.9h0M2805.5 1825.5h0M2805.8 1829.1h0M2805.3 1832.7h0M2805.8 1836.2h0M2808.0 1726.4h0M2807.9 1730.0h0M2808.0 1733.6h0M2807.6 1737.2h0M2807.6 1740.8h0M2808.3 1744.4h0M2807.6 1747.9h0M2807.9 1751.5h0M2807.4 1755.1h0M2807.8 1758.7h0M2808.3 1762.3h0M2808.0 1765.8h0M2807.5 1769.4h0M2808.0 1773.0h0M2808.2 1776.6h0M2807.6 1780.2h0M2808.1 1783.7h0M2807.7 1787.3h0M2807.7 1790.9h0M2807.8 1794.5h0M2808.0 1798.1h0M2807.4 1801.7h0M2807.7 1805.2h0M2808.1 1808.8h0M2808.1 1812.4h0M2807.8 1816.0h0M2807.7 1819.6h0M2807.3 1823.1h0M2808.3 1826.7h0M2807.5 1830.3h0M2807.8 1833.9h0M2807.7 1837.5h0M2818.5 1718.8h0M2818.1 1722.4h0M2818.3 1726.0h0M2818.3 1729.6h0M2818.8 1733.2h0M2818.5 1736.8h0M2818.4 1740.4h0M2818.2 1744.0h0M2818.7 1747.6h0M2818.3 1751.2h0M2818.5 1754.8h0M2818.4 1758.4h0M2818.1 1762.0h0M2818.7 1765.6h0M2818.3 1769.2h0M2818.3 1772.8h0M2818.0 1776.4h0M2818.6 1780.0h0M2818.6 1783.6h0M2817.9 1787.2h0M2818.4 1790.8h0M2818.3 1794.4h0M2818.8 1798.0h0M2818.5 1801.6h0M2818.2 1805.2h0M2818.1 1808.8h0M2820.7 1734.5h0M2820.1 1738.0h0M2820.0 1741.6h0M2820.1 1745.1h0M2820.3 1748.6h0M2820.7 1752.1h0M2820.4 1755.7h0M2820.4 1759.2h0M2820.5 1762.7h0M2820.5 1766.3h0M2820.3 1769.8h0M2820.8 1773.3h0M2829.1 1775.0h0M2828.5 1778.7h0M2829.3 1782.4h0M2829.2 1786.1h0M2828.6 1789.7h0M2828.5 1793.4h0M2829.1 1797.1h0M2829.2 1800.8h0M2828.9 1804.5h0M2829.3 1808.2h0M2829.0 1811.9h0M2828.4 1815.6h0M2829.3 1819.3h0M2829.1 1823.0h0M2828.8 1826.7h0M2831.4 1765.5h0M2830.7 1769.1h0M2831.0 1772.8h0M2830.6 1776.5h0M2830.5 1780.2h0M2830.6 1783.8h0M2831.2 1787.5h0M2830.4 1791.2h0M2831.3 1794.9h0M2831.1 1798.5h0M2830.7 1802.2h0M2830.5 1805.9h0M2830.8 1809.6h0M2831.2 1813.2h0M2831.2 1816.9h0M2830.9 1820.6h0M2830.8 1824.3h0M2830.9 1827.9h0M2831.0 1831.6h0M2830.6 1835.3h0M2833.4 1796.7h0M2833.3 1800.4h0M2833.1 1804.1h0M2832.9 1807.8h0M2832.9 1811.5h0M2833.4 1815.1h0M2832.8 1818.8h0M2833.5 1822.5h0M2833.1 1826.2h0M2832.8 1829.8h0M2834.8 1769.0h0M2834.8 1772.6h0M2835.2 1776.1h0M2834.7 1779.6h0M2835.2 1783.1h0M2834.7 1786.6h0M2835.1 1790.2h0M2834.9 1793.7h0M2835.4 1797.2h0M2834.8 1800.7h0M2835.1 1804.2h0M2834.9 1807.8h0M2834.7 1811.3h0M2834.9 1814.8h0M2834.9 1818.3h0M2835.5 1821.8h0M2835.1 1825.4h0M2835.0 1828.9h0M2835.2 1832.4h0M2848.1 1776.5h0M2848.2 1780.1h0M2847.3 1783.7h0M2847.6 1787.3h0M2847.3 1791.0h0M2848.2 1794.6h0M2847.2 1798.2h0M2847.4 1801.9h0M2850.2 1737.4h0M2849.7 1741.1h0M2849.7 1744.8h0M2849.6 1748.4h0M2850.0 1752.1h0M2849.9 1755.8h0M2849.7 1759.4h0M2850.1 1763.1h0M2850.1 1766.8h0M2850.3 1770.5h0M2849.5 1774.1h0M2849.5 1777.8h0M2849.7 1781.5h0M2849.3 1785.1h0M2850.1 1788.8h0M2849.5 1792.5h0M2849.9 1796.2h0M2849.9 1799.8h0M2547.7 1602.2h0M2548.0 1605.8h0M2547.4 1609.4h0M2548.1 1613.0h0M2547.6 1616.6h0M2548.1 1620.2h0M2548.0 1623.8h0M2548.1 1627.4h0M2547.7 1631.0h0M2548.1 1634.6h0M2547.5 1638.2h0M2548.3 1641.8h0M2547.9 1645.3h0M2547.4 1648.9h0M2547.7 1652.5h0M2548.1 1656.1h0M2548.2 1659.7h0M2547.8 1663.3h0M2547.5 1666.9h0M2547.7 1670.5h0M2547.8 1674.1h0M2547.9 1677.7h0M2550.4 1622.5h0M2549.5 1626.1h0M2549.5 1629.7h0M2550.1 1633.3h0M2549.9 1636.9h0M2550.0 1640.5h0M2549.5 1644.1h0M2550.2 1647.7h0M2549.9 1651.3h0M2549.5 1654.9h0M2550.3 1658.5h0M2549.6 1662.1h0M2550.0 1665.8h0M2550.3 1669.4h0M2550.0 1673.0h0M2550.1 1676.6h0M2549.7 1680.2h0M2549.9 1683.8h0M2551.6 1598.4h0M2551.9 1602.0h0M2552.0 1605.6h0M2552.4 1609.3h0M2551.9 1612.9h0M2552.3 1616.6h0M2552.3 1620.2h0M2551.8 1623.8h0M2551.7 1627.5h0M2551.8 1631.1h0M2552.1 1634.8h0M2552.4 1638.4h0M2552.0 1642.1h0M2552.1 1645.7h0M2552.5 1649.3h0M2551.6 1653.0h0M2552.1 1656.6h0M2551.6 1660.3h0M2552.2 1663.9h0M2552.5 1667.6h0M2552.5 1671.2h0M2552.3 1674.8h0M2552.2 1678.5h0M2554.4 1604.5h0M2554.0 1608.1h0M2554.4 1611.6h0M2554.1 1615.2h0M2553.9 1618.7h0M2553.9 1622.3h0M2553.8 1625.8h0M2554.6 1629.4h0M2554.5 1632.9h0M2554.2 1636.5h0M2554.4 1640.0h0M2554.1 1643.6h0M2554.5 1647.1h0M2554.0 1650.7h0M2554.4 1654.2h0M2554.6 1657.8h0M2555.9 1648.7h0M2555.9 1652.3h0M2556.1 1656.0h0M2556.2 1659.7h0M2556.0 1663.4h0M2556.0 1667.0h0M2556.7 1670.7h0M2556.6 1674.4h0M2556.7 1678.0h0M2556.6 1681.7h0M2556.4 1685.4h0M2556.7 1689.1h0M2556.5 1692.7h0M2556.0 1696.4h0M2558.0 1624.8h0M2558.6 1628.4h0M2558.5 1632.1h0M2558.6 1635.7h0M2558.8 1639.3h0M2558.2 1643.0h0M2558.0 1646.6h0M2558.0 1650.2h0M2558.6 1653.9h0M2558.2 1657.5h0M2558.3 1661.1h0M2558.8 1664.8h0M2558.7 1668.4h0M2558.7 1672.1h0M2558.7 1675.7h0M2558.2 1679.3h0M2558.0 1683.0h0M2558.2 1686.6h0M2558.1 1690.2h0M2558.4 1693.9h0M2560.0 1613.8h0M2561.0 1617.3h0M2560.7 1620.9h0M2560.6 1624.4h0M2560.5 1628.0h0M2560.4 1631.5h0M2560.1 1635.1h0M2560.9 1638.6h0M2560.5 1642.2h0M2560.9 1645.7h0M2560.3 1649.2h0M2560.3 1652.8h0M2560.3 1656.3h0M2560.7 1659.9h0M2560.4 1663.4h0M2560.4 1667.0h0M2560.8 1670.5h0M2560.1 1674.1h0M2560.2 1677.6h0M2560.2 1681.2h0M2560.3 1684.7h0M2560.0 1688.2h0M2560.7 1691.8h0M2560.8 1695.3h0M2560.0 1698.9h0M2560.1 1702.4h0M2562.3 1630.2h0M2562.4 1633.8h0M2562.6 1637.3h0M2562.9 1640.8h0M2562.5 1644.3h0M2562.7 1647.9h0M2562.8 1651.4h0M2562.7 1654.9h0M2562.3 1658.4h0M2563.0 1662.0h0M2562.4 1665.5h0M2562.3 1669.0h0M2562.7 1672.5h0M2562.3 1676.1h0M2562.6 1679.6h0M2563.0 1683.1h0M2562.6 1686.6h0M2562.2 1690.2h0M2563.0 1693.7h0M2562.9 1697.2h0M2565.1 1610.0h0M2564.7 1613.5h0M2564.3 1617.1h0M2564.5 1620.6h0M2564.6 1624.1h0M2564.4 1627.6h0M2564.5 1631.1h0M2565.1 1634.6h0M2564.7 1638.1h0M2564.2 1641.6h0M2564.5 1645.2h0M2564.4 1648.7h0M2564.5 1652.2h0M2564.2 1655.7h0M2564.6 1659.2h0M2565.1 1662.7h0M2566.4 1631.9h0M2567.2 1635.5h0M2566.8 1639.2h0M2566.7 1642.9h0M2566.7 1646.6h0M2567.1 1650.3h0M2566.3 1654.0h0M2567.2 1657.6h0M2566.6 1661.3h0M2567.2 1665.0h0M2566.6 1668.7h0M2566.6 1672.4h0M2566.7 1676.0h0M2568.5 1608.6h0M2568.4 1612.3h0M2568.9 1616.0h0M2569.2 1619.7h0M2568.5 1623.4h0M2569.3 1627.1h0M2568.8 1630.7h0M2569.3 1634.4h0M2568.5 1638.1h0M2568.6 1641.8h0M2568.8 1645.5h0M2569.1 1649.2h0M2569.0 1652.8h0M2568.8 1656.5h0M2568.6 1660.2h0M2568.9 1663.9h0M2568.9 1667.6h0M2579.6 1598.0h0M2579.8 1601.5h0M2578.9 1605.0h0M2579.4 1608.5h0M2579.4 1612.0h0M2579.4 1615.5h0M2579.6 1619.0h0M2579.1 1622.5h0M2579.1 1626.0h0M2579.0 1629.5h0M2579.3 1633.0h0M2579.1 1636.5h0M2579.7 1640.0h0M2579.1 1643.5h0M2579.7 1647.0h0M2579.6 1650.5h0M2579.6 1654.0h0M2579.2 1657.5h0M2579.1 1661.0h0M2579.6 1664.5h0M2581.6 1624.8h0M2581.7 1628.3h0M2581.7 1631.9h0M2581.5 1635.4h0M2581.0 1639.0h0M2581.0 1642.5h0M2581.7 1646.0h0M2581.5 1649.6h0M2581.8 1653.1h0M2581.4 1656.7h0M2581.6 1660.2h0M2591.6 1628.7h0M2592.4 1632.4h0M2592.3 1636.0h0M2592.4 1639.7h0M2591.5 1643.3h0M2591.8 1646.9h0M2592.4 1650.6h0M2592.2 1654.2h0M2591.8 1657.9h0M2591.7 1661.5h0M2591.7 1665.2h0M2591.7 1668.8h0M2594.3 1618.5h0M2593.6 1622.0h0M2594.1 1625.5h0M2594.3 1629.0h0M2594.1 1632.5h0M2594.1 1636.0h0M2594.2 1639.5h0M2593.9 1643.0h0M2593.9 1646.5h0M2594.0 1650.0h0M2594.3 1653.5h0M2594.2 1657.0h0M2594.0 1660.5h0M2593.6 1664.0h0M2596.0 1596.8h0M2596.1 1600.4h0M2596.6 1603.9h0M2595.7 1607.4h0M2596.0 1611.0h0M2595.7 1614.5h0M2595.8 1618.0h0M2595.7 1621.6h0M2596.2 1625.1h0M2596.2 1628.6h0M2596.1 1632.2h0M2596.2 1635.7h0M2596.5 1639.2h0M2596.3 1642.8h0M2595.9 1646.3h0M2595.9 1649.8h0M2596.1 1653.4h0M2596.3 1656.9h0M1849.2 1663.6h0M1847.5 1661.9h0M1864.4 1605.2h0M1881.4 1675.2h0M1882.2 1676.7h0M1887.6 1585.1h0M1884.4 1592.7h0M1885.2 1591.3h0M1890.7 1598.2h0M1888.7 1610.7h0M1880.1 1614.1h0M1884.5 1612.5h0M1892.8 1606.1h0M1892.5 1641.8h0M1904.2 1651.3h0M1893.3 1673.8h0M1901.3 1686.2h0M1888.0 1703.3h0M1893.8 1711.7h0M1916.7 1534.1h0M1907.3 1548.8h0M1910.9 1563.6h0M1910.3 1599.3h0M1910.0 1605.2h0M1912.1 1637.1h0M1915.3 1629.5h0M1925.8 1622.3h0M1929.3 1620.5h0M1921.7 1646.5h0M1927.1 1655.7h0M1921.4 1665.2h0M1918.7 1669.2h0M1913.2 1685.2h0M1918.1 1693.6h0M1911.4 1702.4h0M1946.9 1553.2h0M1943.1 1563.3h0M1960.8 1561.4h0M1956.4 1559.8h0M1961.4 1581.8h0M1962.6 1602.2h0M1969.8 1532.0h0M1971.4 1547.2h0M1960.9 1552.9h0M1975.0 1552.1h0M1970.3 1574.5h0M1980.5 1582.8h0M1972.9 1593.7h0M1975.0 1610.5h0M1968.3 1630.0h0M1965.6 1595.6h0M1987.2 1548.7h0M1984.1 1561.3h0M1993.6 1571.7h0M1989.4 1582.3h0M1984.9 1595.5h0M1993.2 1598.0h0M1991.0 1610.9h0M1992.2 1628.7h0M1994.4 1652.2h0M1995.4 1651.0h0M1998.5 1645.4h0M1996.3 1683.4h0M1994.2 1700.0h0M2015.4 1548.3h0M2002.8 1543.7h0M2004.8 1554.8h0M2001.8 1554.0h0M2009.1 1567.1h0M2008.5 1587.6h0M2000.0 1600.2h0M1999.5 1629.3h0M2017.8 1575.2h0M2015.1 1599.4h0M2020.1 1528.3h0M2018.2 1535.8h0M2017.6 1550.2h0M2046.7 1557.5h0M2040.0 1561.8h0M2045.9 1576.1h0M2041.2 1582.3h0M2038.3 1589.0h0M2039.7 1598.8h0M2038.9 1608.9h0M2041.0 1641.0h0M2041.5 1535.4h0M2044.3 1492.8h0M2053.2 1516.0h0M2060.9 1580.6h0M2066.2 1642.5h0M2081.8 1591.2h0M2083.6 1597.2h0M2075.0 1656.0h0M2082.5 1602.9h0M2085.9 1612.4h0M2085.5 1630.3h0M2087.4 1638.4h0M2082.4 1648.3h0M2080.8 1655.6h0M2085.6 1666.7h0M2068.0 1662.1h0M2068.0 1685.4h0M2069.5 1692.0h0M2071.3 1699.2h0M2069.5 1653.8h0M2064.9 1667.6h0M2067.0 1692.3h0M2072.5 1695.3h0M2091.5 1680.2h0M2091.8 1688.6h0M2092.7 1687.4h0M2092.7 1687.2h0M2094.5 1706.2h0M2101.8 1716.2h0M2102.8 1718.4h0M2102.0 1734.8h0M2094.2 1739.9h0M2098.3 1737.3h0M2100.6 1742.3h0M2096.0 1760.0h0M2085.6 1715.6h0M2092.2 1715.8h0M2094.5 1719.4h0M2103.0 1678.3h0M2100.6 1685.1h0M2106.4 1687.1h0M2107.3 1697.4h0M2106.6 1705.6h0M2105.9 1715.2h0M2111.7 1627.4h0M2112.3 1637.2h0M2109.9 1656.8h0M2117.4 1685.4h0M2114.7 1696.9h0M2118.9 1704.6h0M2114.7 1698.3h0M2118.2 1707.5h0M2119.4 1716.9h0M2120.3 1714.0h0M2124.6 1643.6h0M2125.1 1651.2h0M2126.5 1658.6h0M2118.3 1663.3h0M2123.6 1665.3h0M2124.3 1668.2h0M2118.7 1677.7h0M2119.1 1684.7h0M2125.6 1538.8h0M2132.0 1542.9h0M2134.6 1549.1h0M2135.1 1552.5h0M2125.7 1552.5h0M2138.9 1557.0h0M2131.4 1566.9h0M2134.0 1573.5h0M2127.3 1579.9h0M2130.2 1583.3h0M2136.0 1581.2h0M2134.5 1599.9h0M2135.0 1599.0h0M2132.9 1608.9h0M2125.4 1610.9h0M2128.2 1602.6h0M2144.0 1615.2h0M2138.8 1607.6h0M2135.6 1614.2h0M2135.8 1611.1h0M2142.6 1643.0h0M2140.2 1648.1h0M2145.4 1694.0h0M2137.9 1698.0h0M2136.7 1699.0h0M2148.4 1678.8h0M2155.4 1680.5h0M2145.8 1694.0h0M2154.2 1704.8h0M2147.0 1722.9h0M2151.8 1722.0h0M2155.2 1739.4h0M2153.3 1745.5h0M2161.7 1713.1h0M2156.3 1729.5h0M2162.6 1735.8h0M2157.8 1737.2h0M2154.2 1752.3h0M2165.2 1749.2h0M2159.0 1756.9h0M2171.0 1707.9h0M2166.1 1706.0h0M2169.7 1718.8h0M2165.1 1726.6h0M2163.8 1727.4h0M2168.1 1741.7h0M2173.4 1535.5h0M2173.6 1552.1h0M2172.9 1549.3h0M2173.1 1556.8h0M2169.1 1556.3h0M2173.9 1568.0h0M2165.7 1572.5h0M2171.8 1582.3h0M2163.0 1587.8h0M2166.3 1591.4h0M2169.4 1595.2h0M2169.4 1603.8h0M2163.9 1616.8h0M2172.1 1626.3h0M2168.4 1652.5h0M2161.7 1663.4h0M2160.9 1672.3h0M2163.8 1682.9h0M2181.3 1628.8h0M2180.4 1651.2h0M2176.9 1660.7h0M2177.1 1659.6h0M2184.8 1678.9h0M2167.2 1648.4h0M2167.4 1646.7h0M2178.6 1653.8h0M2173.4 1663.6h0M2173.0 1675.7h0M2182.2 1692.3h0M2182.0 1693.8h0M2178.5 1705.3h0M2176.9 1717.1h0M2175.6 1724.3h0M2186.0 1737.3h0M2184.4 1747.3h0M2181.9 1759.0h0M2180.9 1765.0h0M2180.4 1772.8h0M2200.1 1673.1h0M2200.6 1678.9h0M2193.4 1684.8h0M2194.1 1691.0h0M2189.7 1709.3h0M2201.8 1549.1h0M2200.6 1563.3h0M2198.8 1554.1h0M2204.0 1566.3h0M2203.5 1578.9h0M2200.0 1590.0h0M2198.1 1601.3h0M2196.4 1622.9h0M2199.7 1638.7h0M2203.8 1656.5h0M2218.4 1565.4h0M2207.6 1569.7h0M2207.0 1580.2h0M2220.4 1579.4h0M2214.7 1577.3h0M2205.2 1603.1h0M2215.2 1597.4h0M2212.9 1613.4h0M2214.6 1620.7h0M2220.2 1614.4h0M2219.4 1626.5h0M2215.7 1625.2h0M2216.4 1639.6h0M2211.5 1634.5h0M2211.9 1651.2h0M2219.4 1650.6h0M2216.2 1648.6h0M2214.1 1655.6h0M2211.4 1658.9h0M2220.0 1660.1h0M2221.9 1663.2h0M2212.6 1685.1h0M2208.7 1683.9h0M2221.1 1681.9h0M2222.4 1697.2h0M2217.4 1702.7h0M2223.0 1698.1h0M2217.4 1716.6h0M2216.4 1722.6h0M2214.3 1739.5h0M2228.6 1540.5h0M2223.8 1547.6h0M2229.7 1548.2h0M2231.0 1578.8h0M2231.7 1583.3h0M2235.6 1590.7h0M2227.9 1592.0h0M2237.8 1596.1h0M2242.1 1597.5h0M2235.5 1605.9h0M2230.8 1617.3h0M2237.8 1620.0h0M2230.5 1621.4h0M2233.7 1634.9h0M2235.7 1634.8h0M2237.5 1642.4h0M2241.9 1647.4h0M2245.3 1658.7h0M2234.1 1668.5h0M2246.0 1684.3h0M2244.4 1680.9h0M2241.6 1696.7h0M2235.9 1701.3h0M2248.1 1701.4h0M2243.4 1704.7h0M2248.2 1720.0h0M2242.0 1717.7h0M2246.9 1722.6h0M2249.4 1718.4h0M2258.5 1724.1h0M2252.5 1733.5h0M2246.8 1736.5h0M2250.0 1736.5h0M2250.0 1739.0h0M2255.1 1742.6h0M2243.1 1753.1h0M2244.5 1744.6h0M2249.7 1752.6h0M2242.2 1761.4h0M2247.8 1776.9h0M2252.9 1582.7h0M2252.1 1587.8h0M2256.0 1594.2h0M2249.7 1615.7h0M2264.5 1625.4h0M2256.3 1629.0h0M2267.8 1638.4h0M2260.0 1647.4h0M2255.3 1661.7h0M2267.0 1677.5h0M2256.8 1675.5h0M2257.6 1690.5h0M2266.5 1685.3h0M2253.3 1711.4h0M2262.7 1716.2h0M2255.6 1715.6h0M2261.1 1723.7h0M2259.6 1728.6h0M2264.1 1733.5h0M2258.4 1747.6h0M2261.1 1744.0h0M2268.3 1740.6h0M2271.4 1479.3h0M2272.7 1536.7h0M2261.3 1755.4h0M2262.7 1765.4h0M2263.6 1761.1h0M2260.7 1769.2h0M2263.1 1770.3h0M2271.0 1777.1h0M2264.3 1773.1h0M2265.6 1781.8h0M2266.2 1780.5h0M2268.0 1793.6h0M2268.9 1790.1h0M2271.1 1811.3h0M2273.7 1773.2h0M2279.6 1776.1h0M2276.3 1773.5h0M2272.8 1787.5h0M2272.4 1796.1h0M2277.3 1797.4h0M2278.7 1807.0h0M2283.1 1653.8h0M2280.0 1669.2h0M2282.5 1675.1h0M2281.1 1677.4h0M2286.4 1683.8h0M2279.8 1705.4h0M2277.1 1706.4h0M2284.8 1719.5h0M2276.8 1715.0h0M2285.3 1724.9h0M2279.5 1735.7h0M2282.4 1736.9h0M2283.0 1747.8h0M2280.1 1756.5h0M2278.3 1754.6h0M2278.8 1764.9h0M2283.5 1778.3h0M2289.5 1791.7h0M2288.8 1789.4h0M2285.4 1799.6h0M2294.1 1696.0h0M2287.2 1703.1h0M2289.7 1715.9h0M2288.7 1724.6h0M2291.0 1734.7h0M2286.5 1735.7h0M2288.8 1736.2h0M2295.3 1744.3h0M2297.0 1746.5h0M2285.2 1756.9h0M2295.9 1758.5h0M2284.7 1768.0h0M2289.1 1773.8h0" stroke="#0000ff" stroke-width="8.6" stroke-linecap="round" fill="none"/>
<path d="M438.3 563.4h0M505.4 758.5h0M519.6 785.6h0M526.5 816.4h0M564.3 876.1h0M570.7 927.4h0M732.1 1051.4h0M737.5 1054.2h0M749.2 1080.3h0M766.3 1131.3h0M1049.2 1426.5h0M1046.9 1435.9h0M1041.1 1439.2h0M1353.3 1291.1h0M1351.3 1311.5h0M1350.5 1416.4h0M1101.3 1516.5h0M1103.8 1524.2h0M1107.7 1531.1h0M1105.6 1538.2h0M1118.4 1564.5h0M1116.6 1578.5h0M1129.6 1569.3h0M1131.4 1576.5h0M1128.3 1595.1h0M1133.4 1627.5h0M1140.3 1648.4h0M1195.4 1692.3h0M1193.4 1725.2h0M1185.5 1744.3h0M1179.6 1767.3h0M1184.7 1766.0h0M1182.1 1772.4h0M1683.9 1620.9h0M1682.9 1642.8h0M1682.4 1663.7h0M1652.3 1707.9h0M1651.0 1713.0h0M2299.1 1569.3h0M2298.6 1579.0h0M2298.6 1663.2h0M2777.4 1811.6h0M1783.5 1894.4h0M1037.8 1440.3h0M1044.1 1444.6h0M1085.5 1446.4h0M1087.2 1455.4h0M1070.2 1469.4h0M1072.2 1475.3h0M1083.4 1470.2h0M1089.3 1478.3h0M1091.1 1488.5h0M1081.1 1497.4h0M1074.0 1500.8h0M1093.1 1506.4h0M1744.9 1771.0h0M1743.5 1777.2h0M1747.6 1785.1h0M1742.4 1790.1h0M1746.4 1797.6h0M1742.1 1813.4h0M1741.3 1834.6h0M1741.3 1842.2h0M2029.1 1575.7h0M2029.6 1590.2h0M2029.6 1606.3h0M2030.4 1637.4h0M2300.1 1598.6h0M2300.6 1602.1h0M2299.9 1605.5h0M2300.9 1608.9h0M2300.1 1612.4h0M2300.8 1615.8h0M2299.4 1619.2h0M2300.9 1622.7h0M2300.4 1626.1h0M2300.5 1629.5h0M2300.2 1633.0h0M2300.0 1636.4h0M2300.0 1639.8h0M2299.5 1643.3h0M2590.7 1661.1h0M2591.1 1664.6h0M2591.8 1668.1h0M2592.1 1671.6h0M2591.8 1675.0h0M2592.5 1678.5h0M2591.5 1682.0h0M2592.3 1685.5h0M2592.5 1689.0h0M2592.3 1692.4h0M2592.7 1695.9h0M2592.4 1699.4h0M2774.9 1728.7h0M2773.9 1731.9h0M2774.7 1735.2h0M2773.4 1738.4h0M2773.9 1741.6h0M2773.7 1744.8h0M2773.9 1748.0h0M2773.1 1751.3h0M2773.8 1754.5h0M2773.7 1757.7h0M2773.1 1760.9h0M2772.4 1764.2h0M2773.2 1767.4h0M2773.1 1770.6h0M2772.4 1773.8h0M2772.8 1777.0h0M2771.0 1780.3h0M2770.7 1783.5h0M2771.0 1786.7h0M2771.5 1789.9h0M2770.3 1793.1h0M2770.5 1796.4h0M2770.2 1799.6h0M2769.4 1802.8h0M2769.4 1806.0h0M2769.1 1809.2h0M2769.0 1812.5h0M2769.2 1815.7h0M2768.1 1818.9h0M2767.4 1822.1h0M2767.5 1825.3h0M2766.8 1828.6h0M2767.0 1831.8h0M2766.2 1835.0h0M2765.7 1838.2h0M2766.4 1841.4h0M2765.2 1844.7h0M2765.9 1847.9h0M2765.6 1851.1h0M2765.2 1854.3h0M2764.5 1857.6h0M2784.8 1717.2h0M2784.9 1720.6h0M2785.0 1724.0h0M2785.7 1727.4h0M2784.6 1730.9h0M2785.1 1734.3h0M2785.1 1737.7h0M2785.9 1741.1h0M2786.3 1744.5h0M2785.5 1747.9h0M2785.7 1751.3h0M2785.4 1754.7h0M2785.9 1758.1h0M2785.4 1761.5h0M2786.4 1764.9h0M2786.0 1768.3h0M2782.3 1719.8h0M2781.7 1723.2h0M2782.0 1726.6h0M2781.0 1730.0h0M2782.3 1733.4h0M2781.4 1736.8h0M2781.6 1740.2h0M2781.4 1743.6h0M2781.6 1747.0h0M2781.3 1750.4h0M2780.2 1753.8h0M2781.2 1757.2h0M2781.6 1760.6h0M2789.6 1724.9h0M2789.5 1728.2h0M2788.0 1731.6h0M2788.7 1734.9h0M2788.7 1738.2h0M2788.4 1741.6h0M2788.1 1744.9h0M2787.6 1748.2h0M2788.6 1751.6h0M2787.6 1754.9h0M2787.1 1758.3h0M2786.9 1761.6h0M2788.0 1764.9h0M2786.7 1768.3h0M2833.8 1699.4h0M2833.5 1702.8h0M2833.4 1706.2h0M2833.4 1709.6h0M2833.4 1713.0h0M2833.4 1716.4h0M2834.6 1719.8h0M2828.1 1732.6h0M2829.7 1735.8h0M2830.0 1739.1h0M2830.8 1742.4h0M2829.5 1745.7h0M2830.9 1749.0h0M2831.8 1752.2h0M2831.8 1755.5h0M2832.6 1758.8h0M2831.4 1762.1h0M2832.0 1765.3h0M2833.2 1768.6h0M2832.7 1771.9h0M2832.9 1775.2h0M2835.0 1778.5h0M2852.3 1736.4h0M2852.2 1739.6h0M2852.7 1742.8h0M2852.4 1746.0h0M2854.1 1749.3h0M2853.9 1752.5h0M2853.5 1755.7h0M2854.1 1758.9h0M2853.5 1762.1h0M2853.4 1765.3h0M2854.7 1768.6h0M2854.3 1771.8h0M2854.5 1775.0h0M2854.9 1778.2h0M2856.1 1781.4h0M2856.2 1784.7h0M2856.1 1787.9h0M2855.8 1791.1h0M2856.5 1794.3h0M2855.6 1797.5h0M2856.9 1800.8h0M2856.7 1804.0h0M2658.0 1738.5h0M2658.2 1748.0h0M2658.1 1759.6h0M2657.8 1772.4h0M2658.5 1782.8h0" stroke="#ff0000" stroke-width="8.6" stroke-linecap="round" fill="none"/>
</g>
<path d="M359.9 1992 V288 M446.0 1992 V288 M518.8 1992 V288 M581.9 1992 V288 M637.5 1992 V288 M1014.7 1992 V288 M1206.2 1992 V288 M1342.1 1992 V288 M1447.5 1992 V288 M1533.7 1992 V288 M1606.5 1992 V288 M1669.5 1992 V288 M1725.2 1992 V288 M2102.4 1992 V288 M2293.9 1992 V288 M2429.8 1992 V288 M2535.2 1992 V288 M2621.3 1992 V288 M2694.1 1992 V288 M2757.2 1992 V288 M2812.8 1992 V288 M3190.0 1992 V288 M3381.5 1992 V288 M3517.4 1992 V288 M360 1982.6 H3528 M360 1967.8 H3528 M360 1954.9 H3528 M360 1943.6 H3528 M360 1866.8 H3528 M360 1827.8 H3528 M360 1800.2 H3528 M360 1778.7 H3528 M360 1761.2 H3528 M360 1746.4 H3528 M360 1733.5 H3528 M360 1722.2 H3528 M360 1645.4 H3528 M360 1606.4 H3528 M360 1578.8 H3528 M360 1557.3 H3528 M360 1539.8 H3528 M360 1524.9 H3528 M360 1512.1 H3528 M360 1500.8 H3528 M360 1424.0 H3528 M360 1385.0 H3528 M360 1357.3 H3528 M360 1335.9 H3528 M360 1318.4 H3528 M360 1303.5 H3528 M360 1290.7 H3528 M360 1279.4 H3528 M360 1202.6 H3528 M360 1163.6 H3528 M360 1135.9 H3528 M360 1114.5 H3528 M360 1096.9 H3528 M360 1082.1 H3528 M360 1069.3 H3528 M360 1058.0 H3528 M360 981.2 H3528 M360 942.2 H3528 M360 914.5 H3528 M360 893.1 H3528 M360 875.5 H3528 M360 860.7 H3528 M360 847.9 H3528 M360 836.6 H3528 M360 759.8 H3528 M360 720.8 H3528 M360 693.1 H3528 M360 671.7 H3528 M360 654.1 H3528 M360 639.3 H3528 M360 626.5 H3528 M360 615.1 H3528 M360 538.4 H3528 M360 499.4 H3528 M360 471.7 H3528 M360 450.3 H3528 M360 432.7 H3528 M360 417.9 H3528 M360 405.1 H3528 M360 393.7 H3528 M360 316.9 H3528" stroke="#a0a0a0" stroke-width="1.39" stroke-dasharray="1.39 2.29" fill="none"/>
<path d="M687.3 1992 V288 M1775.0 1992 V288 M2862.6 1992 V288 M360 1933.5 H3528 M360 1712.1 H3528 M360 1490.7 H3528 M360 1269.2 H3528 M360 1047.8 H3528 M360 826.4 H3528 M360 605.0 H3528 M360 383.6 H3528" stroke="#000" stroke-width="2.78" stroke-dasharray="2.78 4.58" fill="none"/>
<g clip-path="url(#ax)">
<path d="M375.5 288.4 L380.6 296.6 L387.5 302.4 L395.9 348.9 L404.8 327.2 L413.3 333.6 L421.4 369.3 L429.6 404.5 L438.0 417.7 L446.4 444.5 L453.3 447.1 L460.2 473.9 L468.9 482.8 L477.6 509.8 L484.4 530.7 L491.6 548.6 L498.0 580.0 L506.1 600.9 L512.2 630.2 L520.4 653.5 L526.5 667.7 L532.4 682.0 L538.8 703.7 L545.4 718.2 L551.5 725.9 L557.9 733.6 L564.3 744.3 L569.9 783.8 L576.0 795.5 L582.1 784.1 L587.8 807.5 L593.6 815.2 L599.5 822.3 L605.1 813.1 L610.7 828.7 L616.1 838.1 L621.2 840.2 L627.3 847.3 L632.4 871.3 L637.8 871.3 L642.9 870.0 L648.0 875.9 L653.1 879.0 L658.2 879.7 L663.3 838.1 L667.6 806.3 L673.0 711.9 L677.8 745.0 L682.9 827.9 L688.0 891.4 L690.1 914.4 L692.6 945.0 L696.4 979.4 L702.0 993.5 L706.1 1020.2 L710.2 1020.2 L714.8 1027.9 L719.4 1029.7 L723.7 1054.7 L728.3 1077.6 L732.7 1078.1 L737.0 1075.6 L741.1 1130.7 L744.9 1087.8 L749.0 1082.7 L753.1 1089.6 L757.1 1083.2 L761.2 1081.0 L765.3 1092.2 L769.6 1084.5 L773.5 1082.7 L777.3 1087.3 L781.1 1094.2 L785.2 1103.7 L789.3 1107.0 L792.9 1095.0 L796.4 1103.7 L800.0 1116.9 L804.1 1113.9 L807.7 1110.0 L811.2 1112.3 L814.8 1125.3 L818.4 1122.3 L821.9 1127.4 L825.5 1132.5 L829.1 1136.8 L832.9 1093.7 L836.4 1010.7 L837.2 993.5 L839.5 963.3 L842.9 975.1 L844.6 1019.7 L847.2 1057.9 L849.7 1101.3 L852.9 1131.3 L856.1 1122.0 L859.7 1127.2 L862.5 1149.8 L865.7 1165.7 L869.5 1174.0 L872.7 1188.2 L875.6 1204.8 L878.8 1198.4 L882.0 1193.0 L885.1 1214.1 L888.0 1207.3 L891.2 908.4 L894.1 807.9 L897.4 809.7 L900.3 908.4 L903.6 1211.5 L906.5 1203.2 L909.4 1180.5 L912.2 1186.9 L915.1 896.2 L918.1 815.5 L920.9 817.5 L923.8 921.7 L926.9 1206.7 L929.8 1226.5 L932.7 1225.8 L935.1 909.0 L938.0 851.2 L940.6 852.8 L943.4 934.4 L946.0 1231.6 L948.9 921.7 L951.8 816.2 L954.5 818.1 L957.0 921.7 L960.1 1203.5 L962.2 1236.7 L964.9 1245.0 L967.7 1221.4 L970.4 1215.0 L973.1 1236.7 L975.5 1264.7 L979.2 1259.0 L982.8 1252.6 L985.6 1258.3 L988.1 1258.6 L990.7 1263.5 L993.0 1269.8 L995.3 1273.9 L997.7 1268.9 L1000.3 1277.2 L1002.6 1276.8 L1005.1 1256.8 L1007.7 1262.2 L1009.9 1277.7 L1012.2 1281.3 L1014.8 1277.9 L1017.1 1281.3 L1019.4 1283.9 L1021.9 1284.9 L1024.2 1296.6 L1026.4 1302.1 L1029.0 1302.4 L1031.1 1304.9 L1033.4 1311.3 L1035.7 1318.9 L1037.9 1313.2 L1040.1 1319.6 L1042.3 1329.1 L1044.4 1335.5 L1046.8 1335.5 L1049.0 1340.9 L1051.0 1339.3 L1053.2 1347.0 L1055.4 1339.3 L1057.4 1343.8 L1059.6 1332.3 L1061.7 1339.3 L1063.8 1341.6 L1065.9 1341.6 L1067.9 1347.6 L1070.2 1348.7 L1072.3 1343.2 L1074.2 1345.7 L1076.3 1340.6 L1078.4 1343.2 L1080.6 1350.2 L1084.9 1378.8 L1087.0 1359.6 L1089.0 1358.3 L1091.1 1362.2 L1093.1 1363.5 L1094.9 1349.4 L1096.9 1350.7 L1099.0 1363.5 L1101.0 1366.0 L1103.1 1359.6 L1105.1 1362.2 L1107.1 1374.9 L1109.2 1373.7 L1111.2 1372.4 L1113.3 1376.2 L1115.3 1380.0 L1117.3 1381.3 L1119.4 1382.6 L1121.4 1368.6 L1123.5 1358.3 L1125.5 1359.6 L1127.0 1381.3 L1129.1 1400.4 L1131.1 1396.6 L1133.2 1380.0 L1135.2 1376.2 L1137.2 1386.4 L1139.3 1400.4 L1140.8 1403.8 L1143.1 1394.1 L1145.4 1378.8 L1147.4 1380.0 L1150.0 1391.5 L1151.0 1387.3 L1152.8 1398.8 L1154.6 1386.0 L1156.6 1391.1 L1158.4 1400.0 L1161.2 1379.6 L1163.3 1374.5 L1165.3 1387.3 L1168.4 1411.5 L1170.9 1402.6 L1174.0 1388.6 L1175.5 1368.1 L1177.3 1361.3 L1178.6 1386.0 L1180.1 1425.5 L1183.7 1431.9 L1185.5 1414.1 L1186.7 1424.3 L1188.5 1410.2 L1190.1 1426.8 L1191.8 1434.0 L1194.9 1421.7 L1196.9 1405.1 L1198.5 1400.8 L1200.0 1414.1 L1201.5 1425.5 L1203.1 1403.9 L1204.6 1384.7 L1205.9 1409.0 L1207.1 1447.2 L1208.7 1439.6 L1210.7 1440.8 L1212.5 1457.4 L1214.3 1451.1 L1215.8 1443.4 L1217.3 1448.5 L1218.9 1448.5 L1221.4 1460.7 L1223.5 1451.1 L1225.0 1440.8 L1226.8 1442.1 L1229.6 1455.6 L1232.1 1449.8 L1235.2 1434.5 L1237.0 1414.1 L1238.3 1365.6 L1239.5 1317.1 L1241.1 1345.2 L1242.9 1409.0 L1244.9 1456.2 L1246.9 1457.4 L1249.2 1463.8 L1251.5 1463.8 L1252.6 1477.8 L1254.1 1439.6 L1255.1 1357.9 L1256.6 1309.0 L1258.2 1357.9 L1259.7 1490.6 L1261.7 1491.1 L1263.3 1481.7 L1265.3 1478.3 L1267.1 1485.5 L1269.4 1499.5 L1270.9 1482.9 L1272.4 1479.9 L1274.0 1488.6 L1276.0 1476.6 L1277.6 1477.3 L1279.1 1475.3 L1281.1 1489.3 L1282.7 1470.2 L1284.2 1460.0 L1285.7 1458.7 L1287.2 1485.5 L1289.3 1493.1 L1290.8 1494.4 L1292.6 1511.8 L1295.2 1495.7 L1296.9 1495.2 L1299.0 1509.7 L1300.0 1516.1 L1301.5 1504.6 L1304.1 1505.9 L1305.6 1509.7 L1307.1 1504.6 L1308.7 1508.5 L1311.7 1501.3 L1313.8 1507.2 L1316.8 1512.3 L1318.4 1511.0 L1319.9 1514.1 L1321.9 1503.3 L1323.5 1501.3 L1325.5 1513.6 L1327.8 1526.8 L1329.6 1516.1 L1331.1 1503.3 L1332.7 1497.7 L1334.7 1502.1 L1336.7 1510.5 L1338.3 1507.2 L1339.8 1488.0 L1341.8 1477.3 L1343.4 1485.5 L1344.9 1505.9 L1346.9 1507.2 L1348.5 1514.8 L1350.0 1523.8 L1351.5 1513.6 L1353.1 1512.3 L1355.1 1517.4 L1356.6 1530.1 L1358.7 1516.1 L1360.7 1513.6 L1362.8 1521.2 L1365.3 1527.6 L1367.3 1529.4 L1369.9 1526.3 L1371.9 1519.9 L1374.0 1535.2 L1376.0 1532.7 L1378.1 1530.9 L1380.1 1535.2 L1382.1 1536.5 L1384.2 1539.1 L1386.2 1539.1 L1388.3 1550.5 L1390.3 1553.1 L1392.3 1561.5 L1394.4 1546.7 L1396.4 1542.9 L1398.5 1554.4 L1400.5 1563.3 L1402.0 1564.1 L1404.1 1546.7 L1406.1 1541.6 L1408.2 1537.0 L1409.9 1536.0 L1411.7 1551.8 L1413.8 1559.5 L1416.3 1566.6 L1418.4 1562.0 L1420.4 1555.6 L1422.4 1553.9 L1424.0 1554.4 L1425.5 1567.1 L1427.3 1573.5 L1429.1 1558.2 L1431.1 1559.5 L1433.2 1559.5 L1435.2 1549.3 L1437.2 1548.0 L1439.3 1546.7 L1440.8 1546.2 L1442.9 1554.4 L1444.9 1569.2 L1446.9 1564.6 L1448.5 1565.1 L1450.5 1569.7 L1452.6 1571.0 L1454.6 1567.6 L1456.6 1564.6 L1458.4 1562.0 L1460.2 1551.8 L1462.2 1550.5 L1464.0 1549.3 L1465.3 1555.6 L1467.3 1566.6 L1469.4 1562.0 L1471.2 1569.7 L1473.0 1589.6 L1475.0 1588.8 L1476.3 1577.3 L1477.6 1587.5 L1478.8 1511.0 L1480.1 1421.7 L1481.1 1413.6 L1482.1 1460.0 L1483.4 1562.0 L1484.7 1590.6 L1486.7 1586.3 L1488.8 1591.4 L1490.3 1592.6 L1492.3 1585.0 L1494.4 1602.3 L1495.9 1586.3 L1498.0 1604.1 L1500.0 1597.7 L1502.0 1599.8 L1503.6 1603.3 L1505.6 1590.6 L1507.7 1604.9 L1509.7 1593.9 L1511.7 1602.8 L1513.8 1593.9 L1515.8 1591.4 L1517.9 1603.3 L1519.9 1609.2 L1521.9 1603.3 L1524.0 1610.5 L1525.5 1597.7 L1527.6 1599.0 L1529.1 1607.9 L1531.1 1601.6 L1532.1 1485.5 L1533.2 1314.6 L1534.2 1313.3 L1535.2 1485.5 L1536.2 1590.1 L1537.8 1614.3 L1539.3 1609.2 L1541.3 1616.1 L1543.4 1611.8 L1544.9 1610.5 L1546.9 1622.0 L1549.0 1632.9 L1551.0 1618.1 L1552.8 1606.7 L1554.1 1598.5 L1555.6 1606.7 L1557.7 1628.3 L1559.2 1620.7 L1561.2 1611.8 L1563.3 1625.8 L1565.3 1623.2 L1567.3 1624.5 L1569.4 1623.2 L1571.4 1625.8 L1573.5 1628.3 L1575.5 1620.2 L1577.6 1616.1 L1579.6 1615.6 L1581.6 1622.0 L1583.7 1626.3 L1585.7 1624.5 L1587.8 1635.5 L1589.8 1638.0 L1591.8 1625.8 L1593.9 1636.5 L1595.9 1627.8 L1598.0 1634.7 L1600.0 1632.9 L1602.0 1637.3 L1604.1 1628.3 L1606.1 1638.6 L1607.7 1641.6 L1609.7 1631.4 L1611.7 1634.7 L1613.8 1630.9 L1615.8 1633.5 L1617.9 1628.9 L1619.9 1628.3 L1621.9 1635.5 L1624.0 1633.5 L1626.0 1642.4 L1628.1 1648.8 L1630.1 1639.8 L1632.1 1638.6 L1634.2 1634.7 L1636.2 1636.0 L1638.3 1643.7 L1639.8 1648.8 L1641.8 1638.6 L1643.9 1641.6 L1645.9 1637.3 L1648.0 1639.1 L1650.0 1636.0 L1652.0 1641.6 L1653.1 1613.0 L1654.1 1507.2 L1655.6 1508.5 L1656.6 1613.0 L1657.7 1638.6 L1659.2 1644.9 L1660.7 1655.1 L1662.8 1638.6 L1664.3 1634.7 L1666.3 1653.9 L1668.4 1643.7 L1670.4 1648.8 L1672.4 1641.6 L1674.5 1643.7 L1676.5 1641.1 L1678.6 1637.3 L1680.6 1632.2 L1682.7 1638.6 L1684.7 1648.8 L1686.7 1650.0 L1688.8 1642.4 L1690.8 1652.6 L1692.9 1638.6 L1694.9 1648.8 L1696.9 1643.1 L1700.0 1651.3 L1700.0 1646.7 L1700.8 1647.2 L1701.5 1648.6 L1702.2 1644.4 L1703.0 1644.3 L1703.8 1648.0 L1704.5 1644.9 L1705.2 1645.1 L1706.0 1649.2 L1706.8 1650.3 L1707.5 1645.3 L1708.2 1645.1 L1709.0 1642.4 L1709.8 1643.8 L1710.5 1647.1 L1711.2 1645.9 L1712.0 1650.0 L1712.8 1646.6 L1713.5 1644.3 L1714.2 1646.1 L1715.0 1646.5 L1715.8 1644.9 L1716.5 1646.8 L1717.2 1648.9 L1718.0 1643.6 L1718.8 1656.7 L1719.5 1658.7 L1720.2 1652.1 L1721.0 1660.9 L1721.8 1654.5 L1722.5 1657.4 L1723.2 1648.9 L1724.0 1652.5 L1724.8 1654.7 L1725.5 1646.9 L1726.2 1655.5 L1727.0 1647.9 L1727.8 1648.1 L1728.5 1651.5 L1729.2 1656.6 L1730.0 1651.2 L1730.8 1644.1 L1731.5 1650.0 L1732.2 1647.8 L1733.0 1651.6 L1733.8 1648.6 L1734.5 1651.1 L1735.2 1645.2 L1736.0 1650.1 L1736.8 1654.2 L1737.5 1640.3 L1738.2 1644.8 L1739.0 1649.6 L1739.8 1649.3 L1740.5 1656.0 L1741.2 1649.7 L1742.0 1650.2 L1742.8 1651.0 L1743.5 1646.6 L1744.2 1646.9 L1745.0 1646.9 L1745.8 1648.6 L1746.5 1647.5 L1747.2 1645.9 L1748.0 1656.0 L1748.8 1649.7 L1749.5 1649.7 L1750.2 1641.3 L1751.0 1641.3 L1751.8 1650.0 L1752.5 1648.6 L1753.2 1643.4 L1754.0 1651.7 L1754.8 1651.2 L1755.5 1646.5 L1756.2 1652.6 L1757.0 1641.0 L1757.8 1651.0 L1758.5 1651.5 L1759.2 1656.2 L1760.0 1649.6 L1760.8 1644.5 L1761.5 1650.0 L1762.2 1650.8 L1763.0 1652.8 L1763.8 1650.1 L1764.5 1651.6 L1765.2 1653.2 L1766.0 1646.2 L1766.8 1647.8 L1767.5 1649.7 L1768.2 1650.1 L1769.0 1647.7 L1769.8 1649.6 L1770.5 1644.6 L1771.2 1644.3 L1772.0 1652.6 L1772.8 1653.9 L1773.5 1645.8 L1774.2 1653.2 L1775.0 1655.6 L1775.8 1651.2 L1776.5 1651.4 L1777.2 1659.0 L1778.0 1656.4 L1778.8 1652.5 L1779.5 1648.6 L1780.2 1650.7 L1781.0 1647.5 L1781.8 1644.0 L1782.5 1647.2 L1782.9 1647.7 L1784.1 1561.6 L1784.7 1515.3 L1785.3 1561.6 L1786.5 1647.7 L1787.0 1649.5 L1787.8 1652.6 L1788.5 1648.7 L1789.2 1648.7 L1790.0 1649.1 L1790.8 1643.9 L1791.5 1642.9 L1792.2 1648.4 L1793.0 1642.9 L1793.8 1637.4 L1794.5 1642.0 L1795.2 1639.1 L1796.0 1637.5 L1796.8 1641.8 L1797.5 1635.9 L1798.2 1638.4 L1799.0 1638.4 L1799.8 1638.0 L1800.5 1634.4 L1801.2 1641.8 L1802.0 1645.7 L1802.8 1640.5 L1803.5 1634.8 L1804.2 1630.0 L1805.0 1628.2 L1805.8 1630.6 L1806.5 1632.7 L1807.2 1631.4 L1808.0 1637.6 L1808.8 1642.6 L1809.5 1640.2 L1810.2 1652.6 L1811.0 1646.8 L1811.8 1643.2 L1812.5 1648.8 L1813.2 1649.7 L1814.0 1649.0 L1814.8 1650.0 L1815.5 1650.1 L1816.2 1654.0 L1817.0 1649.0 L1817.8 1659.9 L1818.5 1655.3 L1819.2 1647.9 L1820.0 1656.7 L1820.8 1658.2 L1821.5 1657.7 L1822.2 1656.6 L1823.0 1658.4 L1823.8 1660.2 L1824.5 1660.8 L1825.2 1657.5 L1826.0 1658.9 L1826.8 1660.6 L1827.5 1664.8 L1828.2 1665.2 L1829.0 1662.8 L1829.8 1657.5 L1830.5 1658.7 L1831.2 1660.4 L1832.0 1661.5 L1832.8 1661.1 L1833.5 1660.8 L1834.2 1664.1 L1835.0 1652.9 L1835.8 1664.9 L1836.5 1658.0 L1837.2 1665.1 L1838.0 1663.5 L1838.8 1661.3 L1839.5 1652.2 L1840.2 1653.1 L1841.0 1650.1 L1841.8 1655.3 L1842.5 1653.9 L1843.2 1650.1 L1844.0 1645.3 L1844.8 1647.4 L1845.5 1648.8 L1846.2 1645.7 L1847.0 1645.7 L1847.8 1646.2 L1848.5 1641.7 L1849.2 1637.8 L1850.0 1639.0 L1850.8 1649.7 L1851.5 1646.6 L1852.2 1645.5 L1853.0 1644.6 L1853.8 1646.2 L1854.5 1644.1 L1855.2 1653.2 L1856.0 1653.3 L1856.8 1653.8 L1857.4 1650.9 L1859.1 1629.5 L1860.2 1608.1 L1861.3 1629.5 L1863.0 1650.9 L1863.5 1658.0 L1864.2 1657.9 L1865.0 1658.1 L1865.8 1657.0 L1866.5 1656.7 L1867.2 1662.0 L1868.0 1660.0 L1868.8 1661.1 L1869.5 1657.7 L1870.2 1668.8 L1871.0 1668.5 L1871.8 1658.8 L1872.5 1660.6 L1873.2 1654.1 L1874.0 1660.4 L1874.8 1654.7 L1875.5 1659.0 L1876.2 1662.3 L1877.0 1658.3 L1877.8 1656.2 L1878.5 1658.5 L1879.2 1663.7 L1880.0 1659.5 L1880.8 1652.7 L1881.5 1658.3 L1882.2 1660.1 L1883.0 1659.6 L1883.8 1669.9 L1884.5 1662.6 L1885.2 1663.8 L1886.0 1658.4 L1886.8 1653.7 L1887.5 1652.6 L1888.2 1655.6 L1889.0 1664.8 L1889.8 1655.3 L1890.5 1660.1 L1891.2 1661.6 L1892.0 1669.1 L1892.8 1659.5 L1893.5 1658.7 L1894.2 1664.3 L1895.0 1661.6 L1895.8 1658.8 L1896.5 1664.3 L1897.2 1665.8 L1898.0 1662.8 L1898.8 1668.7 L1899.5 1668.9 L1900.2 1671.8 L1901.0 1671.1 L1901.8 1666.4 L1902.5 1660.8 L1903.2 1662.1 L1904.0 1666.8 L1904.8 1659.3 L1905.5 1654.6 L1906.2 1657.5 L1907.0 1667.0 L1907.8 1660.5 L1908.5 1660.7 L1909.2 1650.7 L1910.0 1651.7 L1910.8 1654.2 L1911.5 1652.2 L1912.2 1649.1 L1913.0 1649.6 L1913.8 1654.5 L1914.5 1651.7 L1915.2 1653.4 L1916.0 1653.8 L1916.8 1650.9 L1917.5 1652.5 L1918.2 1653.7 L1919.0 1648.1 L1919.8 1650.5 L1920.5 1655.1 L1921.2 1652.5 L1922.0 1659.3 L1922.8 1661.9 L1923.5 1657.8 L1924.2 1661.2 L1925.0 1660.4 L1925.8 1663.4 L1926.5 1659.0 L1927.2 1656.0 L1928.0 1655.2 L1928.8 1654.1 L1929.5 1661.1 L1930.2 1656.3 L1931.0 1664.3 L1931.8 1661.7 L1932.5 1655.4 L1933.2 1657.8 L1934.0 1666.0 L1934.8 1661.1 L1935.5 1662.8 L1936.2 1660.0 L1937.0 1654.8 L1937.8 1661.6 L1938.5 1659.9 L1939.2 1652.6 L1940.0 1657.5 L1940.8 1662.8 L1941.5 1657.4 L1942.2 1661.2 L1943.0 1663.3 L1943.8 1662.5 L1944.5 1655.7 L1945.2 1652.4 L1946.0 1657.0 L1946.8 1662.9 L1947.5 1658.9 L1948.2 1655.1 L1949.0 1658.4 L1949.8 1657.0 L1950.5 1652.3 L1951.2 1646.4 L1952.0 1649.8 L1952.8 1655.4 L1953.5 1652.1 L1954.2 1650.8 L1955.0 1655.6 L1955.8 1654.8 L1956.5 1650.2 L1957.2 1649.8 L1958.0 1649.9 L1958.8 1655.5 L1959.5 1658.2 L1960.2 1659.8 L1961.0 1650.7 L1961.8 1656.6 L1962.5 1646.1 L1963.2 1647.2 L1964.0 1651.6 L1964.8 1650.2 L1965.5 1651.2 L1966.2 1652.2 L1967.0 1652.4 L1967.8 1649.4 L1968.5 1653.5 L1969.2 1650.8 L1970.0 1645.2 L1970.8 1647.3 L1971.5 1650.1 L1972.2 1643.0 L1973.0 1647.6 L1973.8 1643.4 L1974.5 1646.0 L1975.2 1645.6 L1976.0 1649.7 L1976.8 1646.5 L1977.5 1640.9 L1978.2 1636.1 L1979.0 1643.5 L1979.8 1645.1 L1980.5 1654.6 L1981.2 1656.1 L1982.0 1659.6 L1982.8 1658.8 L1983.5 1655.0 L1984.2 1657.0 L1985.0 1654.6 L1985.8 1656.0 L1986.5 1667.7 L1987.2 1668.5 L1988.0 1670.3 L1988.8 1672.4 L1989.5 1675.6 L1990.2 1676.9 L1991.0 1672.8 L1991.8 1671.5 L1992.5 1678.8 L1993.2 1680.0 L1994.0 1674.3 L1994.8 1670.6 L1995.5 1675.2 L1996.2 1676.8 L1997.0 1674.3 L1997.8 1682.1 L1998.5 1677.6 L1999.2 1674.5 L2000.0 1682.2 L2000.8 1672.8 L2001.5 1674.1 L2002.2 1670.8 L2003.0 1679.6 L2003.8 1673.6 L2004.5 1673.8 L2005.2 1673.9 L2006.0 1669.2 L2006.8 1675.0 L2007.5 1682.7 L2008.2 1676.6 L2009.0 1670.7 L2009.8 1666.7 L2010.5 1667.7 L2011.2 1669.8 L2012.0 1670.0 L2012.8 1663.3 L2013.5 1674.9 L2014.2 1672.0 L2015.0 1664.2 L2015.8 1674.7 L2016.5 1668.8 L2017.2 1670.6 L2018.0 1669.9 L2018.8 1671.6 L2019.5 1670.9 L2020.2 1669.5 L2021.0 1663.0 L2021.8 1666.9 L2022.5 1665.1 L2023.2 1665.8 L2024.0 1668.9 L2024.8 1667.9 L2025.5 1668.9 L2026.2 1666.2 L2027.0 1664.5 L2027.8 1661.4 L2028.5 1657.4 L2029.2 1658.3 L2030.0 1663.8 L2030.8 1671.8 L2031.5 1664.1 L2032.2 1664.6 L2033.0 1662.4 L2033.8 1665.0 L2034.5 1671.0 L2035.2 1670.3 L2036.0 1662.7 L2036.8 1659.5 L2037.5 1660.8 L2038.2 1657.4 L2039.0 1655.5 L2039.8 1651.5 L2040.5 1653.9 L2041.2 1647.7 L2042.0 1654.1 L2042.8 1646.2 L2043.5 1641.9 L2044.2 1641.3 L2045.0 1642.3 L2045.8 1646.5 L2046.5 1639.9 L2047.2 1645.5 L2048.0 1649.3 L2048.8 1645.1 L2049.5 1646.7 L2050.2 1651.6 L2050.8 1652.2 L2052.0 1581.5 L2052.6 1543.3 L2053.2 1581.5 L2054.4 1652.2 L2054.8 1647.6 L2055.5 1651.2 L2056.2 1656.6 L2057.0 1653.3 L2057.8 1655.8 L2058.5 1657.8 L2059.2 1649.0 L2060.0 1646.1 L2060.8 1645.0 L2061.5 1645.0 L2062.2 1646.4 L2063.0 1643.1 L2063.8 1649.1 L2064.5 1648.3 L2065.2 1655.6 L2066.0 1663.8 L2066.8 1658.3 L2067.5 1666.2 L2068.2 1665.5 L2069.0 1663.8 L2069.8 1655.2 L2070.5 1661.0 L2071.2 1659.7 L2072.0 1666.3 L2072.8 1669.2 L2073.5 1667.2 L2074.2 1664.6 L2075.0 1675.7 L2075.8 1670.7 L2076.5 1671.5 L2077.2 1668.0 L2078.0 1670.4 L2078.8 1666.5 L2079.5 1668.7 L2080.2 1668.5 L2081.0 1666.9 L2081.8 1666.9 L2082.5 1668.1 L2083.2 1668.5 L2084.0 1668.2 L2084.8 1667.9 L2085.5 1667.9 L2086.2 1669.9 L2087.0 1668.3 L2087.8 1671.2 L2088.5 1668.6 L2089.2 1674.1 L2090.0 1668.8 L2090.8 1665.8 L2091.5 1662.0 L2092.2 1667.7 L2093.0 1668.8 L2093.8 1672.4 L2094.5 1671.0 L2095.2 1668.8 L2096.0 1675.5 L2096.8 1672.5 L2097.5 1677.1 L2098.2 1675.4 L2099.0 1679.3 L2099.8 1675.2 L2100.5 1677.0 L2101.2 1672.7 L2102.0 1673.9 L2102.8 1674.7 L2103.5 1676.8 L2104.2 1678.9 L2105.0 1675.1 L2105.8 1679.2 L2106.5 1673.2 L2107.2 1675.0 L2108.0 1678.1 L2108.8 1681.9 L2109.5 1681.8 L2110.2 1680.0 L2111.0 1672.8 L2111.8 1682.7 L2112.5 1681.4 L2113.2 1683.2 L2114.0 1685.2 L2114.8 1680.8 L2115.5 1675.9 L2116.2 1679.2 L2117.0 1676.0 L2117.8 1679.5 L2118.5 1676.3 L2119.2 1678.8 L2120.0 1676.0 L2120.8 1668.2 L2121.5 1678.0 L2122.2 1675.6 L2123.0 1683.8 L2123.8 1679.9 L2124.5 1673.3 L2125.2 1677.3 L2126.0 1673.2 L2126.8 1669.9 L2127.5 1670.7 L2128.2 1674.6 L2129.0 1677.0 L2129.8 1677.8 L2130.5 1678.3 L2131.2 1679.2 L2132.0 1682.2 L2132.8 1676.4 L2133.5 1679.9 L2134.2 1678.1 L2135.0 1670.5 L2135.8 1678.7 L2136.5 1672.9 L2137.2 1678.0 L2138.0 1676.7 L2138.8 1680.1 L2139.5 1683.7 L2140.2 1682.0 L2141.0 1671.7 L2141.8 1675.5 L2142.5 1674.7 L2143.2 1675.2 L2144.0 1675.7 L2144.8 1679.8 L2145.5 1678.2 L2146.2 1673.4 L2147.0 1681.8 L2147.8 1675.1 L2148.5 1672.2 L2149.2 1667.9 L2150.0 1669.2 L2150.8 1666.9 L2151.5 1675.2 L2152.2 1677.5 L2153.0 1664.5 L2153.8 1673.6 L2154.5 1674.0 L2155.2 1670.4 L2156.0 1669.8 L2156.8 1678.5 L2157.5 1679.4 L2158.2 1684.0 L2159.0 1679.4 L2159.8 1687.5 L2160.5 1684.8 L2161.2 1681.5 L2162.0 1684.6 L2162.8 1682.3 L2163.5 1679.1 L2164.2 1675.8 L2165.0 1679.2 L2165.8 1669.0 L2166.5 1673.2 L2167.2 1672.2 L2168.0 1680.2 L2168.8 1683.3 L2169.5 1678.0 L2170.2 1676.3 L2171.0 1683.4 L2171.8 1680.4 L2172.5 1684.3 L2173.2 1679.5 L2174.0 1680.8 L2174.8 1686.4 L2175.5 1678.9 L2176.2 1681.4 L2177.0 1681.6 L2177.8 1672.4 L2178.5 1683.7 L2179.2 1676.1 L2180.0 1680.2 L2180.8 1678.5 L2181.5 1675.5 L2182.2 1675.7 L2183.0 1681.0 L2183.8 1673.5 L2184.5 1676.9 L2185.2 1668.0 L2186.0 1672.3 L2186.8 1666.4 L2187.5 1672.5 L2188.2 1676.9 L2189.0 1668.2 L2189.8 1674.3 L2190.5 1674.5 L2191.2 1675.0 L2192.0 1679.2 L2192.8 1680.1 L2193.5 1683.6 L2194.2 1684.6 L2195.0 1678.6 L2195.8 1682.6 L2196.5 1683.6 L2197.2 1679.9 L2198.0 1677.1 L2198.8 1675.3 L2199.5 1674.6 L2200.2 1680.3 L2201.0 1677.3 L2201.8 1678.9 L2202.5 1675.4 L2203.2 1673.6 L2204.0 1685.2 L2204.8 1687.4 L2205.5 1684.2 L2206.2 1679.7 L2207.0 1674.8 L2207.8 1682.9 L2208.5 1674.3 L2209.2 1676.6 L2210.0 1678.0 L2210.8 1671.1 L2211.5 1675.2 L2212.2 1681.5 L2213.0 1681.7 L2213.8 1671.0 L2214.5 1680.2 L2215.2 1672.8 L2216.0 1675.4 L2216.8 1675.8 L2217.5 1672.5 L2218.2 1680.3 L2219.0 1678.0 L2219.8 1678.6 L2220.5 1671.6 L2221.2 1671.3 L2222.0 1681.5 L2222.8 1677.8 L2223.5 1676.1 L2224.2 1677.0 L2225.0 1673.6 L2225.8 1668.6 L2226.5 1669.9 L2227.2 1674.9 L2228.0 1680.1 L2228.8 1680.8 L2229.5 1673.2 L2230.2 1673.2 L2231.0 1673.9 L2231.8 1684.4 L2232.5 1676.6 L2233.2 1676.1 L2234.0 1680.6 L2234.8 1686.2 L2235.5 1684.8 L2236.2 1684.9 L2237.0 1687.9 L2237.8 1677.5 L2238.5 1682.2 L2239.2 1680.3 L2240.0 1684.4 L2240.8 1679.4 L2241.5 1684.8 L2242.2 1689.5 L2243.0 1693.9 L2243.8 1681.7 L2244.5 1679.6 L2245.2 1683.0 L2246.0 1687.5 L2246.8 1680.4 L2247.5 1687.0 L2248.2 1680.3 L2249.0 1687.6 L2249.8 1682.6 L2250.5 1685.4 L2251.2 1674.1 L2252.0 1670.7 L2252.8 1681.5 L2253.5 1672.1 L2254.2 1683.2 L2254.3 1680.1 L2255.5 1620.6 L2256.1 1588.5 L2256.7 1620.6 L2257.9 1680.1 L2258.0 1679.9 L2258.8 1680.2 L2259.5 1678.4 L2260.2 1679.2 L2261.4 1627.7 L2262.0 1600.0 L2262.6 1627.7 L2263.8 1679.2 L2264.0 1675.4 L2264.8 1666.7 L2265.5 1682.3 L2265.6 1680.3 L2266.8 1440.2 L2267.4 1310.9 L2268.0 1440.2 L2269.2 1680.3 L2269.2 1688.3 L2270.0 1684.4 L2270.8 1680.8 L2271.5 1681.5 L2272.2 1679.8 L2273.0 1670.6 L2273.8 1691.1 L2274.5 1685.8 L2275.2 1681.4 L2276.0 1677.6 L2276.8 1678.5 L2277.5 1676.8 L2278.2 1672.8 L2279.0 1669.9 L2279.8 1674.4 L2280.5 1680.9 L2281.2 1679.4 L2282.0 1682.9 L2282.8 1682.3 L2283.5 1675.0 L2284.2 1678.6 L2285.0 1683.9 L2285.8 1676.3 L2286.5 1676.1 L2287.2 1674.5 L2288.0 1676.2 L2288.8 1675.6 L2289.5 1674.7 L2290.2 1671.9 L2291.0 1681.5 L2291.3 1679.7 L2292.5 1609.7 L2293.1 1571.9 L2293.7 1609.7 L2294.9 1679.7 L2295.5 1679.5 L2296.2 1681.9 L2296.4 1679.2 L2297.6 1612.0 L2298.2 1575.7 L2298.8 1612.0 L2300.0 1679.2 L2300.5 1680.3 L2301.0 1677.7 L2301.5 1672.5 L2302.0 1677.0 L2302.5 1676.7 L2303.0 1679.6 L2303.5 1678.3 L2304.0 1678.4 L2304.5 1677.2 L2305.0 1674.6 L2305.5 1675.1 L2306.0 1671.3 L2306.5 1674.3 L2307.0 1670.2 L2307.5 1669.7 L2308.0 1673.2 L2308.5 1672.9 L2309.0 1671.6 L2309.5 1671.0 L2310.0 1670.4 L2310.5 1670.7 L2311.0 1672.1 L2311.5 1669.6 L2312.0 1669.1 L2312.5 1669.8 L2313.0 1665.2 L2313.5 1667.3 L2314.0 1673.9 L2314.5 1668.7 L2315.0 1670.0 L2315.5 1670.0 L2316.0 1671.1 L2316.5 1670.5 L2317.0 1678.4 L2317.5 1667.1 L2318.0 1670.4 L2318.5 1668.6 L2319.0 1672.3 L2319.5 1672.6 L2320.0 1675.1 L2320.5 1674.5 L2321.0 1675.7 L2321.5 1678.6 L2322.0 1676.4 L2322.5 1674.5 L2323.0 1674.2 L2323.5 1678.2 L2324.0 1676.7 L2324.5 1670.0 L2325.0 1674.4 L2325.5 1671.9 L2326.0 1673.8 L2326.5 1673.1 L2327.0 1675.6 L2327.5 1675.4 L2328.0 1675.8 L2328.5 1673.7 L2329.0 1674.5 L2329.5 1669.8 L2330.0 1667.8 L2330.5 1670.9 L2331.0 1667.6 L2331.5 1661.8 L2332.0 1664.5 L2332.5 1664.8 L2333.0 1659.6 L2333.5 1666.8 L2334.0 1662.1 L2334.5 1663.2 L2335.0 1657.3 L2335.5 1661.6 L2336.0 1662.0 L2336.5 1662.9 L2337.0 1664.1 L2337.5 1660.0 L2338.0 1657.6 L2338.5 1660.1 L2339.0 1660.4 L2339.5 1666.2 L2340.0 1662.9 L2340.5 1659.1 L2341.0 1659.2 L2341.5 1653.8 L2342.0 1651.6 L2342.5 1662.3 L2343.0 1666.2 L2343.5 1665.8 L2344.0 1664.1 L2344.5 1660.5 L2345.0 1660.9 L2345.5 1663.8 L2346.0 1666.0 L2346.5 1667.3 L2347.0 1662.1 L2347.5 1657.3 L2348.0 1659.5 L2348.5 1659.9 L2349.0 1665.2 L2349.5 1667.1 L2350.0 1667.7 L2350.5 1668.2 L2351.0 1667.4 L2351.5 1670.2 L2352.0 1672.0 L2352.5 1676.8 L2353.0 1675.3 L2353.5 1676.4 L2354.0 1681.8 L2354.5 1686.2 L2355.0 1683.4 L2355.5 1679.4 L2356.0 1681.0 L2356.5 1685.3 L2357.0 1687.4 L2357.5 1681.2 L2358.0 1677.6 L2358.5 1681.9 L2359.0 1678.8 L2359.5 1684.3 L2360.0 1681.7 L2360.5 1681.6 L2361.0 1678.9 L2361.5 1675.6 L2362.0 1678.1 L2362.5 1680.7 L2363.0 1680.7 L2363.5 1683.1 L2364.0 1684.7 L2364.5 1678.7 L2365.0 1680.3 L2365.5 1683.9 L2366.0 1684.9 L2366.5 1685.3 L2367.0 1688.2 L2367.5 1683.5 L2368.0 1684.0 L2368.5 1682.7 L2369.0 1688.6 L2369.5 1681.9 L2370.0 1683.4 L2370.5 1682.0 L2371.0 1688.5 L2371.5 1679.2 L2372.0 1682.2 L2372.5 1679.9 L2373.0 1679.5 L2373.5 1687.7 L2374.0 1683.1 L2374.5 1680.0 L2375.0 1679.5 L2375.5 1677.6 L2376.0 1674.4 L2376.5 1670.3 L2377.0 1671.5 L2377.5 1670.4 L2378.0 1661.3 L2378.5 1663.7 L2379.0 1660.0 L2379.5 1660.6 L2380.0 1662.3 L2380.5 1656.6 L2381.0 1652.4 L2381.5 1655.0 L2382.0 1654.8 L2382.5 1658.3 L2383.0 1661.6 L2383.5 1659.6 L2384.0 1652.1 L2384.5 1649.7 L2385.0 1656.4 L2385.5 1655.4 L2386.0 1652.8 L2386.5 1656.2 L2387.0 1661.6 L2387.5 1659.8 L2388.0 1662.2 L2388.5 1660.4 L2389.0 1658.0 L2389.5 1661.5 L2390.0 1661.2 L2390.5 1658.8 L2391.0 1657.8 L2391.5 1659.9 L2392.0 1658.3 L2392.5 1658.7 L2393.0 1660.8 L2393.5 1661.3 L2394.0 1660.1 L2394.5 1659.8 L2395.0 1670.5 L2395.5 1670.5 L2396.0 1671.0 L2396.5 1664.7 L2397.0 1668.3 L2397.5 1665.9 L2398.0 1670.5 L2398.5 1670.2 L2399.0 1671.3 L2399.5 1664.7 L2400.0 1674.1 L2400.5 1674.7 L2401.0 1674.8 L2401.5 1673.1 L2402.0 1667.1 L2402.5 1668.8 L2403.0 1671.4 L2403.5 1674.2 L2404.0 1672.1 L2404.5 1667.6 L2405.0 1675.0 L2405.5 1671.9 L2406.0 1677.4 L2406.5 1675.9 L2407.0 1672.8 L2407.5 1677.4 L2408.0 1674.9 L2408.5 1668.9 L2409.0 1674.4 L2409.5 1678.1 L2410.0 1677.2 L2410.5 1681.3 L2411.0 1683.8 L2411.5 1683.8 L2412.0 1685.8 L2412.5 1687.1 L2413.0 1687.7 L2413.5 1687.0 L2414.0 1684.9 L2414.5 1685.2 L2415.0 1685.0 L2415.5 1687.9 L2416.0 1685.6 L2416.5 1686.9 L2417.0 1683.6 L2417.5 1686.6 L2418.0 1685.9 L2418.5 1683.1 L2419.0 1682.8 L2419.5 1682.8 L2420.0 1686.1 L2420.5 1680.3 L2421.0 1681.7 L2421.5 1679.8 L2422.0 1676.6 L2422.5 1681.0 L2423.0 1676.2 L2423.5 1678.2 L2424.0 1681.7 L2424.5 1686.2 L2425.0 1678.5 L2425.5 1677.2 L2426.0 1676.2 L2426.5 1676.8 L2427.0 1680.1 L2427.5 1679.5 L2428.0 1677.1 L2428.5 1677.0 L2429.0 1674.6 L2429.5 1673.7 L2430.0 1672.6 L2430.5 1670.1 L2431.0 1670.0 L2431.5 1668.7 L2432.0 1672.4 L2432.5 1672.7 L2433.0 1670.1 L2433.5 1666.0 L2434.0 1671.3 L2434.5 1668.0 L2435.0 1665.1 L2435.5 1658.3 L2436.0 1660.5 L2436.5 1656.4 L2437.0 1661.7 L2437.5 1655.7 L2438.0 1654.6 L2438.5 1646.2 L2439.0 1652.1 L2439.3 1658.3 L2440.5 1451.1 L2441.1 1339.4 L2441.7 1451.1 L2442.9 1658.3 L2443.0 1662.0 L2443.5 1661.6 L2444.0 1667.3 L2444.5 1668.4 L2445.0 1671.6 L2445.5 1672.8 L2446.0 1674.9 L2446.5 1672.1 L2447.0 1673.6 L2447.5 1672.9 L2448.0 1672.6 L2448.5 1671.1 L2449.0 1675.1 L2449.5 1668.9 L2450.0 1667.2 L2450.5 1669.8 L2451.0 1671.2 L2451.5 1673.5 L2452.0 1673.1 L2452.5 1673.4 L2453.0 1673.6 L2453.5 1674.5 L2454.0 1669.5 L2454.5 1670.9 L2455.0 1667.6 L2455.5 1676.4 L2456.0 1681.0 L2456.5 1672.8 L2457.0 1672.4 L2457.5 1674.1 L2458.0 1676.9 L2458.5 1679.9 L2459.0 1675.6 L2459.5 1676.8 L2460.0 1678.1 L2460.5 1676.5 L2461.0 1674.2 L2461.5 1675.5 L2462.0 1679.0 L2462.5 1680.7 L2463.0 1680.3 L2463.5 1676.4 L2464.0 1679.2 L2464.5 1679.7 L2465.0 1682.9 L2465.5 1683.8 L2466.0 1680.8 L2466.5 1679.8 L2467.0 1681.2 L2467.5 1687.8 L2468.0 1687.5 L2468.5 1682.1 L2469.0 1686.4 L2469.5 1687.8 L2470.0 1681.3 L2470.5 1679.9 L2471.0 1681.8 L2471.5 1679.1 L2472.0 1677.7 L2472.5 1684.6 L2473.0 1689.0 L2473.5 1681.2 L2474.0 1681.1 L2474.5 1683.4 L2475.0 1683.6 L2475.5 1685.9 L2476.0 1684.6 L2476.5 1681.7 L2477.0 1677.8 L2477.5 1680.9 L2478.0 1677.6 L2478.5 1681.2 L2479.0 1678.1 L2479.5 1682.3 L2480.0 1685.5 L2480.5 1681.3 L2481.0 1683.4 L2481.5 1680.6 L2482.0 1681.5 L2482.5 1682.2 L2483.0 1681.4 L2483.5 1685.3 L2484.0 1682.4 L2484.5 1684.4 L2485.0 1684.1 L2485.5 1680.2 L2486.0 1680.8 L2486.5 1686.1 L2487.0 1683.1 L2487.5 1681.0 L2488.0 1683.8 L2488.5 1674.8 L2489.0 1677.6 L2489.5 1681.0 L2490.0 1679.7 L2490.5 1679.9 L2491.0 1678.0 L2491.5 1673.6 L2492.0 1673.8 L2492.5 1676.6 L2493.0 1682.2 L2493.5 1670.7 L2494.0 1671.3 L2494.5 1675.6 L2495.0 1675.2 L2495.5 1681.1 L2496.0 1680.5 L2496.5 1678.7 L2497.0 1681.9 L2497.5 1683.2 L2498.0 1684.4 L2498.5 1677.0 L2499.0 1681.6 L2499.5 1679.1 L2500.0 1679.5 L2500.5 1678.7 L2501.0 1678.7 L2501.5 1674.9 L2502.0 1676.9 L2502.5 1677.9 L2503.0 1680.7 L2503.5 1679.8 L2504.0 1672.7 L2504.5 1674.5 L2505.0 1674.3 L2505.5 1676.0 L2506.0 1672.9 L2506.5 1678.2 L2507.0 1675.9 L2507.5 1668.8 L2508.0 1665.5 L2508.5 1666.5 L2509.0 1670.3 L2509.5 1670.2 L2510.0 1672.0 L2510.5 1665.5 L2511.0 1665.4 L2511.5 1668.5 L2512.0 1667.0 L2512.5 1666.8 L2513.0 1668.3 L2513.5 1666.7 L2514.0 1667.4 L2514.5 1665.6 L2515.0 1663.5 L2515.5 1667.1 L2516.0 1668.2 L2516.5 1669.7 L2517.0 1668.4 L2517.5 1668.2 L2518.0 1664.5 L2518.5 1670.8 L2519.0 1669.5 L2519.5 1671.5 L2520.0 1666.8 L2520.5 1670.0 L2521.0 1669.3 L2521.5 1669.8 L2522.0 1665.5 L2522.5 1673.9 L2523.0 1667.1 L2523.5 1665.9 L2524.0 1665.5 L2524.5 1670.3 L2525.0 1669.6 L2525.5 1669.8 L2526.0 1665.6 L2526.5 1665.1 L2527.0 1662.2 L2527.5 1663.5 L2528.0 1666.5 L2528.5 1664.4 L2529.0 1663.6 L2529.5 1664.0 L2530.0 1660.7 L2530.5 1657.1 L2531.0 1655.1 L2531.5 1659.5 L2532.0 1659.3 L2532.5 1654.8 L2533.0 1649.0 L2533.5 1651.0 L2534.0 1651.5 L2534.5 1654.0 L2535.0 1649.4 L2535.5 1651.0 L2536.0 1647.1 L2536.5 1648.6 L2537.0 1652.8 L2537.5 1652.6 L2538.7 1520.2 L2539.3 1448.8 L2539.9 1520.2 L2540.6 1653.8 L2541.8 1101.8 L2542.4 804.6 L2542.8 1654.6 L2544.0 1348.2 L2544.6 1183.2 L2545.2 1348.2 L2546.4 1654.6 L2546.5 1660.7 L2547.0 1656.6 L2547.5 1656.0 L2548.0 1654.8 L2548.5 1655.9 L2548.7 1656.7 L2549.9 1620.6 L2550.5 1601.3 L2551.1 1620.6 L2552.3 1656.7 L2552.5 1659.4 L2553.0 1658.8 L2553.5 1654.9 L2554.0 1659.4 L2554.5 1656.8 L2555.0 1662.5 L2555.5 1656.5 L2556.0 1662.5 L2556.5 1662.8 L2557.0 1663.6 L2557.5 1663.1 L2558.0 1664.2 L2558.5 1664.4 L2559.0 1662.4 L2559.5 1661.6 L2560.0 1660.1 L2560.5 1655.9 L2561.0 1661.6 L2561.5 1655.2 L2562.0 1656.7 L2562.5 1653.3 L2563.0 1656.2 L2563.5 1660.4 L2564.0 1656.1 L2564.5 1656.5 L2565.0 1654.2 L2565.5 1657.3 L2566.0 1657.3 L2566.5 1658.3 L2567.0 1661.6 L2567.5 1663.9 L2568.0 1662.6 L2568.5 1660.0 L2569.0 1662.3 L2569.5 1663.2 L2570.0 1664.6 L2570.5 1661.4 L2571.0 1665.7 L2571.5 1664.0 L2572.0 1667.5 L2572.5 1668.5 L2573.0 1669.2 L2573.5 1669.5 L2574.0 1671.5 L2574.5 1667.8 L2575.0 1667.8 L2575.5 1664.3 L2576.0 1667.4 L2576.5 1667.3 L2577.0 1669.5 L2577.5 1663.7 L2578.0 1664.0 L2578.5 1664.4 L2579.0 1660.2 L2579.5 1664.0 L2580.0 1668.4 L2580.5 1668.6 L2581.0 1668.4 L2581.5 1666.3 L2582.0 1668.4 L2582.5 1664.3 L2583.0 1660.8 L2583.5 1663.7 L2584.0 1664.9 L2584.5 1662.3 L2585.0 1662.3 L2585.5 1659.7 L2586.0 1659.2 L2586.5 1656.3 L2587.0 1659.8 L2587.5 1657.3 L2588.0 1654.6 L2588.5 1657.7 L2589.0 1655.2 L2589.5 1653.1 L2590.0 1650.1 L2590.5 1652.6 L2591.0 1650.0 L2591.5 1649.8 L2592.0 1649.7 L2592.5 1650.6 L2593.0 1653.3 L2593.5 1653.4 L2594.0 1656.2 L2594.5 1655.5 L2595.0 1655.4 L2595.5 1657.3 L2596.0 1661.5 L2596.5 1660.8 L2597.0 1660.8 L2597.5 1658.7 L2598.0 1657.2 L2598.5 1656.2 L2599.0 1650.6 L2599.5 1653.4 L2600.0 1653.2 L2600.5 1653.7 L2601.0 1651.7 L2601.5 1647.2 L2602.0 1646.1 L2602.5 1643.4 L2603.0 1641.9 L2603.5 1645.3 L2604.0 1642.3 L2604.5 1637.3 L2605.0 1635.0 L2605.5 1638.4 L2606.0 1639.6 L2606.5 1641.7 L2607.0 1642.5 L2607.5 1638.6 L2608.0 1642.6 L2608.5 1639.7 L2609.0 1640.6 L2609.5 1639.9 L2610.0 1643.8 L2610.5 1647.6 L2611.0 1645.4 L2611.5 1648.2 L2612.0 1646.5 L2612.5 1654.6 L2613.0 1659.4 L2613.5 1654.0 L2614.0 1653.1 L2614.5 1655.3 L2615.0 1656.3 L2615.5 1660.7 L2616.0 1666.4 L2616.5 1663.2 L2617.0 1665.2 L2617.5 1663.3 L2618.0 1661.3 L2618.4 1665.7 L2619.6 1631.0 L2620.2 1612.2 L2620.8 1631.0 L2622.0 1665.7 L2622.0 1660.2 L2622.5 1662.2 L2623.0 1659.6 L2623.5 1664.6 L2624.7 1631.2 L2625.3 1613.2 L2625.9 1631.2 L2627.1 1664.6 L2627.5 1665.0 L2628.0 1658.7 L2628.5 1664.8 L2629.0 1664.3 L2629.5 1667.0 L2630.0 1663.3 L2630.5 1664.2 L2631.0 1663.2 L2631.5 1661.6 L2632.0 1667.8 L2632.5 1666.3 L2633.0 1664.6 L2633.5 1663.2 L2634.0 1661.5 L2634.5 1663.7 L2635.0 1662.5 L2635.5 1661.6 L2636.0 1662.9 L2636.5 1662.8 L2637.0 1666.4 L2637.5 1662.3 L2638.0 1659.3 L2638.5 1664.7 L2639.0 1663.3 L2639.5 1660.8 L2640.0 1665.1 L2640.5 1665.1 L2641.0 1658.7 L2641.5 1663.4 L2642.0 1665.1 L2642.5 1666.6 L2643.0 1664.0 L2643.5 1660.8 L2644.0 1661.0 L2644.5 1664.4 L2645.0 1660.9 L2645.5 1662.9 L2646.0 1657.8 L2646.5 1657.9 L2647.0 1659.4 L2647.5 1659.5 L2648.0 1659.3 L2648.5 1653.1 L2649.0 1658.0 L2649.5 1658.3 L2650.0 1658.2 L2650.5 1653.0 L2651.0 1656.6 L2651.5 1653.2 L2652.0 1650.2 L2652.5 1651.8 L2653.0 1648.3 L2653.5 1648.2 L2654.0 1651.0 L2654.5 1649.9 L2655.0 1647.3 L2655.5 1653.5 L2656.0 1649.8 L2656.5 1647.6 L2657.0 1648.0 L2657.5 1648.5 L2658.0 1649.3 L2658.5 1649.7 L2659.0 1649.9 L2659.5 1648.1 L2660.0 1647.1 L2660.5 1649.8 L2661.0 1648.7 L2661.5 1647.7 L2662.0 1649.7 L2662.5 1649.1 L2663.0 1647.1 L2663.5 1648.0 L2664.0 1651.2 L2664.5 1651.7 L2665.0 1650.8 L2665.5 1655.1 L2666.0 1652.7 L2666.5 1651.8 L2667.0 1653.0 L2667.5 1652.0 L2668.0 1650.9 L2668.5 1654.5 L2669.0 1655.5 L2669.5 1655.1 L2670.0 1654.9 L2670.5 1651.3 L2671.0 1655.6 L2671.5 1649.2 L2672.0 1655.3 L2672.5 1654.3 L2673.0 1653.5 L2673.5 1652.3 L2674.0 1655.7 L2674.5 1660.3 L2675.0 1660.5 L2675.5 1656.1 L2676.0 1657.1 L2676.5 1655.2 L2677.0 1657.9 L2677.5 1655.8 L2678.0 1655.6 L2678.5 1659.4 L2679.0 1655.3 L2679.5 1654.3 L2680.0 1657.5 L2680.5 1652.8 L2681.0 1649.7 L2681.5 1652.8 L2682.0 1652.4 L2682.5 1655.5 L2683.0 1657.3 L2683.5 1655.8 L2684.0 1659.0 L2684.5 1660.6 L2685.0 1657.0 L2685.5 1654.9 L2686.0 1657.8 L2686.5 1654.2 L2687.0 1653.9 L2687.5 1657.8 L2688.0 1661.2 L2688.5 1658.6 L2689.0 1661.1 L2689.5 1661.6 L2690.0 1658.4 L2690.5 1665.2 L2691.0 1659.1 L2691.5 1660.4 L2692.0 1660.1 L2692.5 1655.5 L2693.0 1661.3 L2693.5 1661.5 L2694.0 1662.6 L2694.5 1658.7 L2695.0 1657.7 L2695.5 1663.8 L2696.0 1662.6 L2696.5 1660.7 L2697.0 1659.9 L2697.5 1661.5 L2698.0 1655.0 L2698.5 1659.9 L2699.0 1660.8 L2699.5 1659.7 L2700.0 1657.9 L2700.5 1658.6 L2701.0 1659.5 L2701.5 1654.9 L2702.0 1654.5 L2702.5 1658.4 L2703.0 1656.2 L2703.5 1656.6 L2704.0 1656.0 L2704.5 1656.5 L2705.0 1659.8 L2705.5 1659.6 L2706.0 1657.1 L2706.5 1653.9 L2707.0 1659.7 L2707.5 1656.9 L2708.0 1657.1 L2708.5 1656.2 L2709.0 1657.0 L2709.5 1652.8 L2710.0 1650.2 L2710.5 1654.8 L2711.0 1657.3 L2711.5 1653.7 L2712.0 1654.9 L2712.5 1654.0 L2713.0 1650.6 L2713.5 1652.6 L2714.0 1655.2 L2714.5 1652.1 L2715.0 1652.0 L2715.5 1651.9 L2716.0 1652.9 L2716.5 1650.4 L2717.0 1655.6 L2717.5 1654.0 L2718.0 1655.2 L2718.5 1657.9 L2719.0 1653.4 L2719.5 1653.5 L2720.0 1655.8 L2720.5 1652.9 L2721.0 1653.4 L2721.5 1654.0 L2722.0 1652.5 L2722.5 1657.5 L2723.0 1653.7 L2723.5 1651.6 L2724.0 1650.8 L2724.5 1649.1 L2725.0 1646.8 L2725.5 1651.1 L2726.0 1650.2 L2726.5 1652.3 L2727.0 1654.6 L2727.5 1649.7 L2728.0 1651.7 L2728.5 1646.9 L2729.0 1651.9 L2729.5 1648.0 L2730.0 1647.1 L2730.5 1644.4 L2731.0 1643.3 L2731.5 1638.6 L2732.0 1638.6 L2732.5 1639.7 L2733.0 1642.2 L2733.5 1643.5 L2734.0 1638.2 L2734.5 1640.2 L2735.0 1640.3 L2735.5 1642.2 L2736.0 1646.1 L2736.5 1644.8 L2737.0 1648.4 L2737.5 1649.7 L2738.0 1643.6 L2738.5 1650.3 L2739.0 1651.7 L2739.5 1648.0 L2740.0 1643.8 L2740.5 1640.1 L2741.0 1644.3 L2741.5 1642.8 L2742.0 1639.1 L2742.1 1637.0 L2743.3 1631.2 L2743.9 1628.0 L2744.5 1631.2 L2745.7 1637.0 L2746.0 1636.8 L2746.5 1635.5 L2747.0 1636.7 L2747.5 1637.3 L2748.0 1638.9 L2748.5 1633.7 L2749.0 1636.7 L2749.5 1637.5 L2750.0 1636.0 L2750.5 1635.2 L2751.0 1637.0 L2751.5 1636.6 L2752.0 1636.2 L2752.5 1634.0 L2753.0 1635.0 L2753.5 1633.8 L2754.0 1632.5 L2754.5 1631.8 L2755.0 1633.2 L2755.5 1633.4 L2756.0 1632.7 L2756.5 1634.6 L2757.0 1633.8 L2757.5 1636.3 L2758.0 1636.3 L2758.5 1634.2 L2759.0 1631.2 L2759.5 1636.0 L2760.0 1638.6 L2760.5 1637.9 L2761.0 1638.5 L2761.5 1634.3 L2762.0 1637.2 L2762.5 1634.7 L2763.0 1636.6 L2763.5 1628.3 L2764.0 1630.9 L2764.5 1634.4 L2765.0 1638.9 L2765.5 1635.9 L2766.0 1633.8 L2766.5 1635.5 L2767.0 1634.9 L2767.5 1630.0 L2768.0 1632.1 L2768.5 1635.3 L2769.0 1635.8 L2769.5 1636.5 L2770.0 1638.0 L2770.5 1633.2 L2771.0 1632.2 L2771.5 1631.6 L2772.0 1634.5 L2772.5 1631.9 L2773.0 1631.6 L2773.5 1632.0 L2774.0 1629.4 L2774.5 1630.3 L2775.0 1630.0 L2775.5 1630.4 L2776.0 1630.7 L2776.5 1631.2 L2777.0 1627.8 L2777.5 1630.6 L2778.0 1627.6 L2778.5 1631.1 L2779.0 1627.3 L2779.5 1629.5 L2780.0 1629.8 L2780.5 1632.2 L2781.0 1631.1 L2781.5 1632.4 L2782.0 1628.7 L2782.5 1632.4 L2783.0 1630.9 L2783.5 1632.4 L2784.0 1630.2 L2784.5 1631.6 L2785.0 1634.0 L2785.5 1635.7 L2786.0 1636.6 L2786.5 1634.1 L2787.0 1632.5 L2787.5 1633.7 L2788.0 1633.2 L2788.5 1635.0 L2789.0 1637.8 L2789.5 1639.6 L2790.0 1635.1 L2790.5 1631.4 L2791.0 1630.8 L2791.5 1635.2 L2792.0 1629.9 L2792.5 1635.0 L2793.0 1637.8 L2793.5 1639.5 L2794.0 1638.7 L2794.5 1636.0 L2795.0 1633.2 L2795.5 1634.7 L2796.0 1637.0 L2796.5 1638.2 L2797.0 1640.7 L2797.5 1638.6 L2798.0 1639.1 L2798.5 1636.9 L2799.0 1634.3 L2799.5 1635.7 L2800.0 1631.9 L2800.5 1635.0 L2801.0 1637.9 L2801.5 1634.4 L2802.0 1630.3 L2802.5 1634.7 L2803.0 1633.2 L2803.5 1635.1 L2804.0 1631.6 L2804.5 1634.1 L2805.0 1634.7 L2805.5 1637.9 L2806.0 1634.5 L2806.5 1634.3 L2807.0 1632.0 L2807.5 1628.2 L2808.0 1636.6 L2808.5 1630.1 L2809.0 1637.2 L2809.5 1635.1 L2809.7 1630.6 L2810.9 1624.8 L2811.5 1621.7 L2812.1 1624.8 L2813.3 1630.6 L2813.5 1633.1 L2814.0 1629.7 L2814.5 1630.1 L2815.0 1629.9 L2815.5 1631.8 L2816.0 1636.0 L2816.5 1635.5 L2817.0 1636.8 L2817.5 1634.4 L2818.0 1635.5 L2818.5 1635.3 L2819.0 1632.3 L2819.5 1632.1 L2820.0 1632.9 L2820.5 1631.4 L2821.0 1634.1 L2821.5 1631.8 L2822.0 1631.8 L2822.5 1630.5 L2823.0 1631.9 L2823.5 1633.7 L2824.0 1632.8 L2824.5 1632.6 L2825.0 1630.8 L2825.5 1632.9 L2826.0 1632.6 L2826.5 1634.5 L2827.0 1628.9 L2827.5 1632.0 L2828.0 1633.1 L2828.5 1631.0 L2829.0 1629.6 L2829.5 1630.0 L2830.0 1631.2 L2830.5 1629.1 L2831.0 1632.6 L2831.5 1632.9 L2832.0 1632.9 L2832.5 1630.8 L2833.0 1631.1 L2833.5 1631.5 L2834.0 1630.3 L2834.5 1630.6 L2835.0 1631.9 L2835.5 1632.0 L2836.0 1632.0 L2836.5 1634.5 L2837.0 1632.5 L2837.5 1631.3 L2838.0 1629.5 L2838.5 1630.8 L2839.0 1628.6 L2839.5 1628.4 L2840.0 1631.9 L2840.5 1632.3 L2841.0 1633.7 L2841.5 1629.5 L2842.0 1632.0 L2842.5 1633.6 L2843.0 1630.9 L2843.5 1631.8 L2844.0 1628.9 L2844.5 1631.7 L2845.0 1628.5 L2845.5 1626.2 L2846.0 1628.3 L2846.5 1636.2 L2847.0 1630.0 L2847.5 1632.5 L2848.0 1629.0 L2848.5 1631.2 L2849.0 1629.0 L2849.5 1626.4 L2850.0 1629.3 L2850.5 1629.8 L2851.0 1628.7 L2851.5 1630.9 L2852.0 1625.0 L2852.5 1629.9 L2853.0 1629.0 L2853.5 1630.7 L2854.0 1627.9 L2854.5 1628.8 L2855.7 1398.6 L2856.2 1274.7 L2856.8 1398.6 L2858.0 1628.8 L2858.5 1628.2 L2859.0 1628.0 L2859.5 1623.7 L2860.0 1629.4 L2860.3 1627.6 L2861.5 1317.9 L2862.1 1151.1 L2862.7 1317.9 L2863.4 1627.0 L2864.6 1354.5 L2865.2 1626.6 L2866.4 1386.3 L2867.0 1256.9 L2867.6 1386.3 L2868.4 1626.0 L2869.6 1587.5 L2870.2 1566.8 L2870.8 1587.5 L2872.0 1626.0 L2872.0 1623.7 L2872.5 1628.8 L2873.0 1628.5 L2873.5 1627.5 L2874.0 1627.2 L2874.5 1626.3 L2875.0 1626.9 L2875.5 1626.1 L2876.0 1623.9 L2876.5 1625.0 L2877.0 1625.3 L2877.5 1624.5 L2878.0 1621.8 L2878.5 1626.0 L2879.0 1628.9 L2879.5 1630.8 L2880.0 1628.1 L2880.5 1626.6 L2881.0 1625.4 L2881.5 1626.8 L2882.0 1623.3 L2882.5 1625.0 L2883.0 1624.5 L2883.5 1623.0 L2884.0 1622.5 L2884.5 1620.9 L2885.0 1618.5 L2885.5 1616.6 L2886.0 1617.4 L2886.5 1617.8 L2887.0 1616.9 L2887.5 1614.3 L2888.0 1612.6 L2888.5 1609.6 L2889.0 1610.3 L2889.5 1607.9 L2890.0 1606.4 L2890.5 1605.6 L2891.0 1609.0 L2891.5 1607.3 L2892.0 1608.2 L2892.5 1611.1 L2893.0 1613.4 L2893.5 1612.2 L2894.0 1615.7 L2894.5 1617.4 L2895.0 1613.4 L2895.5 1617.7 L2896.0 1619.3 L2896.5 1617.8 L2896.9 1615.3 L2898.0 1571.8 L2898.5 1548.4 L2899.0 1571.8 L2900.1 1615.3 L2900.4 1614.8 L2900.7 1613.6 L2901.1 1614.1 L2901.4 1617.2 L2901.8 1618.4 L2902.2 1615.2 L2902.5 1615.9 L2902.9 1616.0 L2903.2 1612.6 L2903.6 1613.8 L2904.0 1616.2 L2904.3 1613.9 L2904.7 1616.4 L2905.0 1616.2 L2905.4 1621.0 L2905.8 1617.4 L2906.1 1615.5 L2906.5 1617.1 L2906.8 1617.8 L2907.2 1616.2 L2907.6 1615.1 L2907.9 1616.2 L2908.3 1615.1 L2908.6 1619.3 L2909.0 1620.8 L2909.4 1618.5 L2909.7 1614.0 L2910.1 1618.4 L2910.4 1619.2 L2910.8 1618.8 L2911.2 1620.0 L2911.5 1617.5 L2911.9 1616.3 L2912.2 1620.1 L2912.6 1617.1 L2913.0 1616.1 L2913.3 1613.1 L2913.7 1616.5 L2914.0 1616.7 L2914.4 1614.5 L2914.8 1617.7 L2915.1 1616.5 L2915.5 1612.5 L2915.8 1616.1 L2916.2 1618.7 L2916.6 1618.3 L2916.9 1616.4 L2917.3 1618.6 L2917.6 1617.8 L2918.0 1617.2 L2918.4 1617.3 L2918.7 1614.6 L2919.1 1617.8 L2919.4 1614.6 L2919.8 1613.0 L2920.2 1615.2 L2920.5 1617.8 L2920.9 1617.5 L2921.2 1616.5 L2921.6 1615.7 L2922.0 1615.8 L2922.3 1616.4 L2922.7 1615.6 L2923.0 1617.2 L2923.4 1615.4 L2923.8 1618.8 L2924.1 1616.1 L2924.5 1616.7 L2924.8 1615.3 L2925.2 1614.9 L2925.6 1613.6 L2925.9 1613.7 L2926.3 1617.2 L2926.6 1613.1 L2927.0 1614.7 L2927.4 1619.7 L2927.6 1616.2 L2928.8 1589.1 L2929.4 1574.5 L2930.0 1589.1 L2931.2 1616.2 L2931.3 1615.4 L2931.7 1618.7 L2932.0 1613.9 L2932.4 1616.7 L2932.8 1614.1 L2933.1 1612.3 L2933.5 1615.4 L2933.6 1615.0 L2934.8 1600.2 L2935.4 1592.2 L2936.0 1600.2 L2937.2 1615.0 L2937.4 1613.6 L2937.8 1612.5 L2938.2 1611.7 L2938.5 1617.5 L2938.9 1615.0 L2939.2 1617.1 L2939.6 1614.7 L2940.0 1612.7 L2940.3 1614.9 L2940.7 1613.6 L2941.0 1616.9 L2941.4 1614.7 L2941.8 1611.7 L2942.1 1612.9 L2942.5 1616.7 L2942.8 1612.5 L2943.2 1615.3 L2943.6 1615.0 L2943.9 1616.5 L2944.3 1615.1 L2944.6 1614.0 L2945.0 1612.4 L2945.4 1612.7 L2945.7 1613.5 L2946.1 1614.7 L2946.4 1616.2 L2946.8 1614.9 L2947.2 1617.7 L2947.5 1615.9 L2947.9 1613.4 L2948.2 1615.2 L2948.6 1613.3 L2949.0 1615.8 L2949.3 1612.5 L2949.7 1610.8 L2950.0 1613.6 L2950.4 1614.9 L2950.8 1613.6 L2951.1 1616.0 L2951.5 1614.2 L2951.8 1620.3 L2952.2 1618.9 L2952.6 1619.1 L2952.9 1616.2 L2953.3 1615.8 L2953.6 1615.5 L2954.0 1615.9 L2954.4 1612.6 L2954.7 1616.9 L2955.1 1611.3 L2955.4 1611.1 L2955.8 1610.8 L2956.2 1611.7 L2956.5 1614.6 L2956.9 1612.6 L2957.2 1612.0 L2957.6 1610.5 L2958.0 1608.8 L2958.3 1607.6 L2958.7 1612.2 L2959.0 1612.3 L2959.4 1610.5 L2959.8 1612.8 L2960.1 1612.5 L2960.5 1609.5 L2960.8 1609.0 L2961.2 1611.7 L2961.6 1613.3 L2961.9 1610.3 L2962.3 1611.8 L2962.6 1612.6 L2963.0 1612.6 L2963.4 1610.5 L2963.7 1611.1 L2964.1 1611.3 L2964.4 1608.9 L2964.8 1609.4 L2965.2 1608.6 L2965.5 1606.2 L2965.9 1608.1 L2966.2 1608.0 L2966.6 1606.5 L2967.0 1609.2 L2967.3 1610.9 L2967.7 1610.4 L2968.0 1608.0 L2968.4 1605.9 L2968.8 1609.1 L2969.1 1606.8 L2969.5 1609.9 L2969.8 1607.6 L2970.2 1608.4 L2970.6 1607.3 L2970.9 1607.7 L2971.3 1609.4 L2971.6 1609.1 L2972.0 1606.1 L2972.4 1609.9 L2972.7 1609.7 L2973.1 1608.5 L2973.4 1605.5 L2973.8 1604.8 L2974.2 1604.0 L2974.5 1603.6 L2974.9 1606.3 L2975.2 1605.2 L2975.6 1604.2 L2976.0 1604.4 L2976.3 1604.4 L2976.7 1601.6 L2977.0 1603.8 L2977.4 1603.1 L2977.8 1601.3 L2978.1 1601.7 L2978.5 1598.1 L2978.8 1602.6 L2979.2 1601.8 L2979.6 1602.2 L2979.9 1599.8 L2980.3 1600.9 L2980.6 1600.5 L2981.0 1596.8 L2981.4 1598.1 L2981.7 1601.9 L2982.1 1598.2 L2982.4 1596.7 L2982.8 1595.8 L2983.2 1595.5 L2983.5 1592.6 L2983.9 1587.4 L2984.2 1588.8 L2984.6 1588.8 L2985.0 1587.3 L2985.3 1582.3 L2985.7 1582.3 L2986.0 1582.7 L2986.4 1585.4 L2986.8 1585.7 L2987.1 1590.0 L2987.5 1590.6 L2987.8 1589.8 L2988.2 1590.0 L2988.6 1592.1 L2988.9 1595.0 L2989.3 1594.8 L2989.6 1596.8 L2990.0 1600.1 L2990.4 1599.7 L2990.7 1597.5 L2991.1 1601.4 L2991.4 1605.8 L2991.8 1601.4 L2992.1 1602.2 L2993.3 1592.1 L2993.9 1586.7 L2994.5 1592.1 L2995.7 1602.2 L2995.8 1604.3 L2996.1 1603.7 L2996.5 1602.6 L2996.8 1599.8 L2997.2 1603.1 L2997.6 1602.3 L2997.9 1606.7 L2998.3 1603.9 L2998.6 1606.7 L2999.0 1603.9 L2999.4 1604.3 L2999.7 1602.6 L3000.1 1602.7 L3000.4 1603.5 L3000.8 1601.2 L3001.2 1601.6 L3001.5 1604.4 L3001.9 1600.1 L3002.2 1599.9 L3002.6 1601.7 L3003.0 1601.7 L3003.3 1601.7 L3003.7 1600.2 L3004.0 1601.3 L3004.4 1599.6 L3004.8 1598.4 L3005.1 1595.3 L3005.5 1596.0 L3005.8 1597.4 L3006.2 1600.0 L3006.6 1597.6 L3006.9 1600.9 L3007.0 1594.9 L3008.2 1594.0 L3008.8 1593.5 L3009.4 1594.0 L3010.6 1594.9 L3010.9 1596.2 L3011.2 1591.4 L3011.6 1590.1 L3012.0 1591.3 L3012.3 1591.0 L3012.7 1591.9 L3013.0 1590.8 L3013.4 1592.9 L3013.8 1591.1 L3014.1 1592.0 L3014.5 1590.4 L3014.8 1592.1 L3015.2 1594.8 L3015.6 1596.2 L3015.9 1597.6 L3016.3 1594.1 L3016.6 1593.7 L3017.0 1594.9 L3017.4 1595.6 L3017.7 1595.1 L3018.1 1597.4 L3018.4 1596.3 L3018.8 1598.6 L3019.2 1601.5 L3019.5 1600.1 L3019.9 1600.8 L3020.2 1598.8 L3020.6 1597.0 L3021.0 1594.9 L3021.3 1600.0 L3021.7 1602.8 L3022.0 1595.4 L3022.4 1595.7 L3022.8 1596.8 L3023.1 1596.1 L3023.5 1596.4 L3023.8 1598.9 L3024.2 1597.8 L3024.6 1599.2 L3024.9 1595.2 L3025.3 1596.3 L3025.6 1600.2 L3026.0 1597.1 L3026.4 1594.1 L3026.7 1595.2 L3027.1 1596.4 L3027.4 1592.3 L3027.8 1596.0 L3028.2 1597.9 L3028.5 1596.2 L3028.9 1596.2 L3029.2 1596.1 L3029.6 1595.9 L3030.0 1593.8 L3030.3 1594.4 L3030.7 1596.6 L3031.0 1597.4 L3031.4 1597.1 L3031.8 1594.5 L3032.1 1596.2 L3032.5 1597.4 L3032.8 1598.4 L3033.2 1597.5 L3033.6 1596.1 L3033.9 1595.3 L3034.3 1596.3 L3034.6 1597.1 L3035.0 1591.4 L3035.4 1592.2 L3035.7 1594.3 L3036.1 1596.2 L3036.4 1592.5 L3036.8 1591.4 L3037.2 1590.1 L3037.5 1595.2 L3037.9 1595.5 L3038.2 1593.9 L3038.6 1598.7 L3039.0 1598.7 L3039.3 1596.7 L3039.7 1595.1 L3040.0 1593.7 L3040.2 1592.6 L3041.4 1384.5 L3042.0 1591.7 L3043.2 1324.1 L3043.8 1180.1 L3044.3 1324.1 L3045.5 1591.7 L3045.8 1588.8 L3046.2 1592.3 L3046.4 1589.5 L3047.6 1350.9 L3048.2 1222.5 L3048.8 1350.9 L3050.0 1589.5 L3050.1 1586.5 L3050.5 1585.6 L3050.8 1586.0 L3051.2 1585.1 L3051.3 1587.0 L3052.5 1337.0 L3053.1 1202.4 L3053.7 1337.0 L3054.9 1587.0 L3055.2 1584.9 L3055.5 1585.1 L3055.9 1586.6 L3056.2 1584.8 L3056.6 1583.2 L3057.0 1587.5 L3057.3 1586.2 L3057.7 1586.2 L3058.0 1586.9 L3058.4 1587.7 L3058.8 1587.5 L3059.1 1584.7 L3059.5 1584.7 L3059.8 1587.0 L3060.1 1585.4 L3061.3 1569.4 L3061.9 1560.9 L3062.5 1569.4 L3063.7 1585.4 L3063.8 1583.4 L3064.2 1584.6 L3064.5 1584.5 L3064.9 1583.3 L3065.2 1584.5 L3065.6 1581.7 L3066.0 1582.9 L3066.3 1583.4 L3066.7 1586.4 L3067.0 1583.9 L3067.4 1582.5 L3067.8 1584.1 L3068.1 1580.9 L3068.5 1581.1 L3068.8 1585.2 L3069.2 1584.7 L3069.6 1582.8 L3069.9 1583.0 L3070.3 1578.9 L3070.6 1581.5 L3071.0 1579.2 L3071.4 1579.8 L3071.7 1579.1 L3072.1 1579.4 L3072.4 1577.8 L3072.8 1574.8 L3073.2 1572.6 L3073.5 1572.7 L3073.9 1575.9 L3074.2 1575.4 L3074.6 1573.8 L3075.0 1578.6 L3075.3 1578.2 L3075.7 1576.5 L3076.0 1575.5 L3076.4 1578.7 L3076.8 1578.4 L3077.1 1576.4 L3077.5 1578.1 L3077.8 1575.9 L3078.2 1580.9 L3078.6 1579.5 L3078.9 1579.9 L3079.3 1578.4 L3079.6 1577.7 L3080.0 1579.2 L3080.4 1578.5 L3080.7 1577.0 L3081.1 1580.3 L3081.4 1578.7 L3081.8 1575.6 L3082.2 1576.8 L3082.5 1575.3 L3082.9 1573.6 L3083.2 1570.1 L3083.6 1571.1 L3084.0 1566.8 L3084.3 1566.5 L3084.7 1569.8 L3085.0 1568.4 L3085.4 1564.0 L3085.8 1562.8 L3086.1 1563.4 L3086.5 1564.0 L3086.8 1561.7 L3087.2 1560.4 L3087.6 1562.9 L3087.9 1565.5 L3088.3 1562.5 L3088.6 1564.2 L3089.0 1568.0 L3089.4 1569.3 L3089.7 1567.5 L3090.1 1566.4 L3090.4 1572.7 L3090.8 1572.9 L3091.2 1574.5 L3091.5 1574.9 L3091.9 1578.0 L3092.2 1578.1 L3092.6 1578.2 L3093.0 1573.1 L3093.3 1572.8 L3093.7 1574.1 L3094.0 1572.3 L3094.4 1571.5 L3094.8 1573.6 L3095.1 1571.1 L3095.5 1567.4 L3095.8 1571.3 L3096.2 1571.0 L3096.6 1570.2 L3096.9 1570.9 L3097.3 1571.5 L3097.6 1570.9 L3098.0 1572.3 L3098.4 1571.4 L3098.7 1572.9 L3099.1 1576.2 L3099.4 1573.2 L3099.8 1568.7 L3100.2 1574.6 L3100.5 1574.7 L3100.9 1573.0 L3101.2 1574.6 L3101.6 1571.3 L3102.0 1573.9 L3102.3 1568.8 L3102.7 1571.6 L3103.0 1573.3 L3103.4 1570.2 L3103.8 1570.4 L3104.1 1569.9 L3104.5 1565.5 L3104.8 1566.0 L3105.2 1569.2 L3105.6 1566.9 L3105.9 1569.5 L3106.3 1566.1 L3106.6 1563.8 L3107.0 1562.8 L3107.4 1561.4 L3107.7 1559.1 L3108.1 1562.5 L3108.4 1566.6 L3108.8 1564.4 L3109.2 1564.2 L3109.5 1565.1 L3109.9 1568.9 L3110.2 1570.6 L3110.6 1568.6 L3111.0 1570.6 L3111.3 1572.6 L3111.7 1571.6 L3112.0 1571.2 L3112.4 1573.5 L3112.8 1571.9 L3113.1 1573.6 L3113.5 1575.6 L3113.8 1578.4 L3114.2 1578.4 L3114.6 1578.0 L3114.9 1575.9 L3115.3 1578.2 L3115.6 1577.6 L3116.0 1580.9 L3116.4 1578.8 L3116.7 1578.2 L3117.1 1577.0 L3117.4 1577.5 L3117.8 1578.7 L3118.2 1576.5 L3118.5 1577.2 L3118.9 1576.0 L3119.2 1575.6 L3119.6 1578.9 L3120.0 1577.8 L3120.3 1577.9 L3120.7 1579.4 L3121.0 1578.0 L3121.4 1578.3 L3121.8 1578.9 L3122.1 1578.2 L3122.5 1577.9 L3122.8 1581.4 L3123.2 1581.4 L3123.6 1581.8 L3123.9 1578.6 L3124.3 1579.2 L3124.6 1581.6 L3125.0 1582.4 L3125.4 1579.9 L3125.7 1581.4 L3126.1 1583.6 L3126.4 1582.8 L3126.8 1581.0 L3127.2 1579.6 L3127.5 1577.1 L3127.9 1578.7 L3128.2 1579.8 L3128.6 1579.8 L3129.0 1579.4 L3129.3 1580.8 L3129.7 1581.8 L3130.0 1578.3 L3130.4 1579.1 L3130.8 1578.9 L3131.1 1579.0 L3131.5 1578.0 L3131.8 1579.3 L3132.2 1580.6 L3132.6 1578.1 L3132.9 1577.5 L3133.3 1579.8 L3133.6 1576.5 L3134.0 1578.4 L3134.4 1577.8 L3134.7 1576.1 L3135.1 1577.4 L3135.4 1576.8 L3135.8 1577.6 L3136.2 1578.0 L3136.5 1576.8 L3136.9 1577.1 L3137.2 1576.9 L3137.6 1577.5 L3138.0 1573.4 L3138.3 1574.9 L3138.7 1576.7 L3139.0 1575.8 L3139.4 1577.6 L3139.8 1575.3 L3140.1 1574.7 L3140.5 1575.2 L3140.8 1572.7 L3141.2 1578.3 L3141.6 1574.6 L3141.9 1575.0 L3142.3 1571.2 L3142.6 1574.4 L3143.0 1573.3 L3143.4 1575.8 L3143.7 1575.5 L3144.1 1577.5 L3144.4 1574.9 L3144.8 1575.1 L3145.2 1574.4 L3145.5 1575.0 L3145.9 1573.5 L3146.2 1573.8 L3146.6 1576.1 L3147.0 1576.3 L3147.3 1572.8 L3147.7 1574.1 L3148.0 1574.3 L3148.4 1572.1 L3148.8 1574.5 L3149.1 1572.7 L3149.5 1574.2 L3149.8 1575.7 L3150.2 1573.3 L3150.6 1574.7 L3150.9 1575.5 L3151.3 1573.2 L3151.6 1574.4 L3152.0 1576.5 L3152.4 1576.4 L3152.7 1573.0 L3153.1 1569.1 L3153.4 1571.4 L3153.8 1571.0 L3154.2 1574.7 L3154.5 1572.6 L3154.9 1575.7 L3155.2 1571.6 L3155.6 1571.5 L3156.0 1572.7 L3156.3 1571.0 L3156.7 1575.2 L3157.0 1572.1 L3157.4 1573.4 L3157.8 1573.4 L3158.1 1575.7 L3158.5 1576.8 L3158.8 1573.8 L3159.2 1573.4 L3159.6 1573.6 L3159.9 1572.4 L3160.3 1574.0 L3160.6 1570.3 L3161.0 1570.1 L3161.4 1568.9 L3161.7 1571.3 L3162.1 1573.9 L3162.4 1573.0 L3162.8 1571.5 L3163.2 1571.2 L3163.5 1573.6 L3163.9 1571.7 L3164.2 1570.3 L3164.6 1571.2 L3165.0 1568.0 L3165.3 1569.8 L3165.7 1570.5 L3166.0 1570.2 L3166.4 1569.3 L3166.8 1573.8 L3167.1 1573.5 L3167.5 1573.0 L3167.8 1573.1 L3168.2 1569.5 L3168.6 1569.9 L3168.9 1569.9 L3169.3 1570.0 L3169.6 1571.4 L3170.0 1570.4 L3170.4 1572.7 L3170.5 1569.8 L3171.6 1500.3 L3171.7 1569.4 L3172.9 1477.2 L3173.5 1427.5 L3174.1 1477.2 L3175.3 1569.4 L3175.4 1569.1 L3175.8 1570.7 L3176.0 1568.5 L3177.1 1514.0 L3177.6 1484.7 L3178.1 1514.0 L3178.1 1568.0 L3179.2 1499.7 L3179.3 1567.7 L3180.5 1471.6 L3181.1 1419.9 L3181.4 1567.2 L3182.5 1522.4 L3182.6 1566.9 L3183.8 1500.2 L3184.4 1464.3 L3185.0 1500.2 L3186.2 1566.9 L3186.2 1567.8 L3186.6 1566.6 L3186.9 1567.4 L3187.3 1568.9 L3187.6 1565.8 L3188.0 1569.6 L3188.4 1565.7 L3188.7 1565.6 L3189.1 1567.1 L3189.4 1564.5 L3189.8 1565.4 L3190.2 1564.9 L3190.5 1565.7 L3190.9 1568.4 L3191.2 1564.8 L3191.6 1563.7 L3192.0 1564.0 L3192.3 1563.1 L3192.7 1563.3 L3193.0 1562.6 L3193.4 1566.0 L3193.8 1565.1 L3194.1 1566.4 L3194.5 1566.4 L3194.8 1564.2 L3196.0 1555.8 L3196.6 1551.3 L3197.2 1555.8 L3198.4 1564.2 L3198.4 1564.9 L3198.8 1562.2 L3199.2 1562.3 L3199.5 1564.7 L3199.9 1561.4 L3200.2 1562.6 L3200.6 1561.1 L3201.0 1562.9 L3201.3 1565.0 L3201.7 1566.1 L3202.0 1562.4 L3202.4 1562.9 L3202.8 1559.8 L3203.1 1562.8 L3203.5 1562.0 L3203.8 1566.4 L3204.2 1561.7 L3204.6 1560.9 L3204.9 1561.2 L3205.3 1563.9 L3205.6 1560.7 L3206.0 1563.7 L3206.4 1562.0 L3206.7 1563.8 L3207.1 1561.8 L3207.4 1560.7 L3207.8 1562.8 L3208.2 1562.4 L3208.5 1562.4 L3208.9 1562.9 L3209.2 1565.8 L3209.6 1566.8 L3210.0 1564.5 L3210.3 1564.7 L3210.7 1562.3 L3211.0 1565.0 L3211.4 1560.9 L3211.8 1559.8 L3212.1 1563.4 L3212.5 1563.0 L3212.8 1564.0 L3213.2 1563.3 L3213.6 1563.6 L3213.9 1564.7 L3214.3 1562.3 L3214.6 1561.5 L3215.0 1562.2 L3215.4 1563.9 L3215.7 1559.2 L3216.1 1561.1 L3216.4 1561.1 L3216.8 1561.4 L3217.2 1559.7 L3217.5 1561.1 L3217.9 1562.6 L3218.2 1559.9 L3218.6 1563.8 L3219.0 1562.3 L3219.3 1562.1 L3219.7 1562.0 L3220.0 1562.8 L3220.4 1559.0 L3220.8 1559.7 L3221.1 1561.4 L3221.5 1558.9 L3221.8 1556.2 L3222.2 1558.2 L3222.6 1556.1 L3222.9 1556.5 L3223.3 1556.7 L3223.6 1556.3 L3224.0 1557.3 L3224.4 1558.2 L3224.7 1555.7 L3225.1 1556.0 L3225.4 1557.8 L3225.8 1554.2 L3226.2 1556.9 L3226.5 1560.9 L3226.9 1559.0 L3227.2 1558.5 L3227.6 1559.1 L3228.0 1558.5 L3228.3 1558.4 L3228.7 1560.6 L3229.0 1555.3 L3229.4 1556.7 L3229.8 1556.6 L3230.1 1557.9 L3230.5 1557.2 L3230.8 1558.3 L3231.2 1557.9 L3231.6 1553.7 L3231.9 1554.1 L3232.3 1555.5 L3232.6 1554.2 L3233.0 1555.1 L3233.4 1557.7 L3233.7 1554.4 L3234.1 1554.2 L3234.4 1556.5 L3234.8 1555.5 L3235.2 1556.3 L3235.5 1558.9 L3235.9 1558.4 L3236.2 1555.9 L3236.6 1556.4 L3237.0 1556.5 L3237.3 1556.2 L3237.7 1554.1 L3238.0 1556.2 L3238.4 1558.2 L3238.8 1555.1 L3239.1 1553.7 L3239.5 1556.2 L3239.8 1556.6 L3240.2 1555.9 L3240.6 1553.5 L3240.9 1555.5 L3241.3 1553.7 L3241.6 1551.5 L3242.0 1553.0 L3242.4 1555.6 L3242.7 1555.9 L3243.1 1556.1 L3243.4 1556.2 L3243.8 1557.8 L3244.2 1553.6 L3244.5 1552.3 L3244.9 1555.4 L3245.2 1555.4 L3245.6 1554.0 L3246.0 1553.3 L3246.3 1553.4 L3246.7 1553.8 L3247.0 1552.7 L3247.4 1551.9 L3247.8 1553.0 L3248.1 1553.2 L3248.5 1552.1 L3248.8 1552.8 L3249.2 1553.9 L3249.6 1558.2 L3249.9 1552.5 L3250.3 1552.7 L3250.6 1549.9 L3251.0 1552.3 L3251.4 1553.8 L3251.7 1554.8 L3252.1 1553.3 L3252.4 1552.1 L3252.8 1553.7 L3253.2 1554.5 L3253.5 1550.2 L3253.9 1551.1 L3254.2 1551.3 L3254.6 1551.0 L3255.0 1550.3 L3255.3 1554.0 L3255.7 1553.0 L3256.0 1553.1 L3256.4 1550.9 L3256.8 1553.0 L3257.1 1551.4 L3257.5 1550.1 L3257.8 1547.6 L3258.2 1550.8 L3258.6 1548.7 L3258.9 1547.1 L3259.3 1550.2 L3259.6 1548.3 L3260.0 1548.9 L3260.4 1550.5 L3260.7 1546.3 L3261.1 1547.6 L3261.4 1547.9 L3261.8 1551.1 L3262.2 1549.2 L3262.5 1549.6 L3262.9 1550.0 L3263.2 1549.0 L3263.6 1548.7 L3264.0 1546.4 L3264.3 1546.6 L3264.7 1546.6 L3265.0 1546.3 L3265.4 1548.7 L3265.8 1548.9 L3266.1 1547.9 L3266.5 1547.7 L3266.8 1546.8 L3267.2 1547.6 L3267.6 1545.2 L3267.9 1546.8 L3268.3 1548.1 L3268.6 1546.5 L3269.0 1545.3 L3269.4 1545.1 L3269.7 1548.9 L3270.1 1544.4 L3270.4 1545.2 L3270.6 1546.2 L3271.7 1513.3 L3272.2 1495.6 L3272.3 1545.2 L3273.5 1500.6 L3274.1 1476.5 L3274.5 1544.3 L3275.6 1505.5 L3275.9 1543.5 L3277.1 1489.0 L3277.7 1459.6 L3278.0 1542.5 L3279.1 1508.5 L3279.4 1541.8 L3280.5 1522.4 L3281.0 1511.9 L3281.1 1540.9 L3282.3 1499.0 L3282.9 1476.5 L3283.5 1499.0 L3284.7 1540.9 L3284.8 1543.2 L3285.2 1542.2 L3285.6 1540.0 L3285.9 1538.4 L3286.3 1539.2 L3286.6 1537.6 L3287.0 1535.5 L3287.4 1535.7 L3287.7 1536.5 L3288.1 1540.9 L3288.4 1539.3 L3288.8 1538.2 L3289.2 1538.0 L3289.5 1536.7 L3289.9 1539.7 L3290.2 1539.1 L3290.6 1540.7 L3291.0 1536.8 L3291.3 1535.8 L3291.7 1539.4 L3292.0 1535.8 L3292.4 1536.3 L3292.8 1537.5 L3293.1 1536.2 L3293.5 1534.2 L3293.8 1535.6 L3294.2 1537.7 L3294.6 1537.3 L3294.9 1535.7 L3295.3 1538.8 L3295.6 1538.7 L3296.0 1537.5 L3296.4 1536.1 L3296.7 1537.1 L3297.1 1535.9 L3297.4 1534.8 L3297.8 1533.7 L3298.2 1535.5 L3298.5 1535.9 L3298.9 1535.1 L3299.2 1536.2 L3299.6 1533.4 L3300.0 1534.1 L3300.3 1530.9 L3300.7 1525.7 L3301.0 1522.2 L3301.4 1518.8 L3301.8 1516.0 L3302.1 1511.2 L3302.5 1505.4 L3302.8 1499.6 L3303.2 1499.6 L3303.6 1498.8 L3303.9 1496.8 L3304.3 1496.2 L3304.6 1497.1 L3305.0 1499.5 L3305.4 1506.3 L3305.7 1510.1 L3306.1 1512.7 L3306.4 1516.6 L3306.8 1521.2 L3307.2 1523.4 L3307.5 1529.4 L3307.9 1536.2 L3308.2 1536.6 L3308.6 1535.8 L3309.0 1535.2 L3309.3 1538.3 L3309.7 1536.5 L3310.0 1535.9 L3310.4 1536.8 L3310.8 1537.0 L3311.1 1537.7 L3311.5 1538.7 L3311.8 1537.5 L3312.2 1536.0 L3312.6 1537.3 L3312.9 1536.4 L3313.3 1537.3 L3313.6 1540.1 L3314.0 1538.6 L3314.4 1539.1 L3314.7 1539.2 L3315.1 1538.1 L3315.4 1538.0 L3315.8 1540.7 L3316.2 1539.5 L3316.5 1538.2 L3316.9 1538.3 L3317.2 1537.1 L3317.6 1538.4 L3318.0 1537.7 L3318.3 1539.0 L3318.7 1538.1 L3319.0 1537.7 L3319.4 1540.4 L3319.8 1537.9 L3320.1 1538.3 L3320.5 1536.5 L3320.8 1540.3 L3321.2 1536.5 L3321.6 1536.3 L3321.9 1536.1 L3322.3 1536.4 L3322.6 1534.6 L3323.0 1535.1 L3323.4 1537.1 L3323.7 1536.7 L3324.1 1538.1 L3324.4 1536.1 L3324.8 1534.7 L3325.2 1535.3 L3325.5 1531.9 L3325.9 1530.5 L3326.2 1529.9 L3326.6 1526.9 L3327.0 1523.9 L3327.3 1524.1 L3327.7 1525.0 L3328.0 1523.7 L3328.4 1524.0 L3328.8 1526.5 L3329.1 1529.2 L3329.5 1526.6 L3329.8 1529.7 L3330.2 1528.8 L3330.6 1527.0 L3330.9 1528.8 L3332.1 1522.2 L3332.7 1518.7 L3333.3 1522.2 L3334.5 1528.8 L3334.5 1530.0 L3334.9 1531.0 L3335.2 1531.8 L3335.6 1531.9 L3336.0 1534.0 L3336.3 1531.1 L3336.7 1531.5 L3337.0 1531.2 L3337.4 1531.6 L3337.8 1533.0 L3338.1 1534.1 L3338.5 1533.6 L3338.8 1532.3 L3339.2 1531.1 L3339.6 1531.4 L3339.9 1535.4 L3340.3 1534.4 L3340.6 1533.0 L3341.0 1529.5 L3341.4 1530.7 L3341.7 1530.8 L3342.1 1528.7 L3342.4 1533.9 L3342.8 1529.9 L3343.2 1531.2 L3343.5 1533.5 L3343.9 1531.3 L3344.2 1532.6 L3344.6 1534.4 L3345.0 1532.0 L3345.3 1530.3 L3345.7 1532.0 L3346.0 1531.6 L3346.4 1529.7 L3346.8 1529.4 L3347.1 1526.8 L3347.5 1527.4 L3347.8 1526.3 L3348.2 1527.3 L3348.6 1521.6 L3348.9 1518.5 L3349.3 1520.2 L3349.6 1521.3 L3350.0 1523.7 L3350.4 1524.2 L3350.7 1521.5 L3351.1 1522.9 L3351.4 1525.9 L3351.8 1523.0 L3352.2 1525.5 L3352.5 1524.8 L3352.9 1526.2 L3353.2 1528.1 L3353.6 1530.9 L3354.0 1529.8 L3354.3 1528.8 L3354.7 1526.1 L3355.0 1523.4 L3355.4 1520.1 L3355.8 1515.4 L3356.1 1512.8 L3356.5 1509.6 L3356.8 1505.4 L3357.2 1500.5 L3357.6 1498.2 L3357.9 1494.5 L3358.3 1490.5 L3358.6 1486.8 L3359.0 1483.5 L3359.4 1479.8 L3359.7 1477.6 L3360.1 1474.6 L3360.4 1469.5 L3360.8 1475.4 L3361.2 1478.0 L3361.5 1481.3 L3361.9 1483.7 L3362.2 1488.4 L3362.6 1489.3 L3363.0 1493.6 L3363.3 1494.9 L3363.7 1501.4 L3364.0 1504.5 L3364.4 1508.6 L3364.8 1509.1 L3365.1 1513.6 L3365.5 1515.2 L3365.8 1518.0 L3366.2 1525.0 L3366.6 1529.4 L3366.9 1530.8 L3367.3 1529.5 L3367.6 1526.9 L3368.0 1525.5 L3368.4 1525.6 L3368.7 1527.6 L3369.1 1527.4 L3369.4 1527.5 L3369.8 1525.9 L3370.2 1524.4 L3370.5 1527.2 L3370.9 1526.4 L3371.2 1525.8 L3371.6 1525.2 L3372.0 1526.3 L3372.3 1524.6 L3372.7 1525.7 L3373.0 1523.9 L3373.4 1526.7 L3373.8 1523.6 L3374.1 1524.9 L3374.5 1525.1 L3374.8 1525.9 L3375.2 1523.1 L3375.6 1524.3 L3375.9 1522.1 L3376.3 1524.5 L3376.6 1523.5 L3377.0 1524.6 L3377.4 1523.6 L3377.7 1525.2 L3378.1 1525.5 L3378.4 1522.4 L3378.8 1523.9 L3379.2 1527.1 L3379.5 1526.1 L3379.9 1522.9 L3380.2 1520.4 L3380.6 1522.1 L3381.0 1522.0 L3381.3 1521.0 L3381.7 1524.0 L3382.0 1523.7 L3382.4 1523.9 L3382.8 1521.9 L3383.1 1523.7 L3383.5 1522.5 L3383.8 1520.3 L3384.2 1523.0 L3384.6 1521.8 L3384.9 1522.5 L3385.3 1521.9 L3385.6 1521.7 L3386.0 1523.5 L3386.4 1523.7 L3386.7 1521.8 L3387.1 1521.7 L3387.4 1521.6 L3387.8 1521.9 L3388.2 1523.4 L3388.5 1520.0 L3388.9 1522.2 L3389.2 1522.3 L3389.6 1521.7 L3390.0 1523.5 L3390.3 1520.3 L3390.7 1520.9 L3391.0 1522.4 L3391.4 1520.3 L3391.8 1519.1 L3392.1 1519.7 L3392.5 1521.1 L3392.8 1523.6 L3393.2 1523.8 L3393.6 1521.3 L3393.9 1522.4 L3394.3 1521.1 L3394.6 1520.6 L3395.0 1522.8 L3395.4 1523.4 L3395.7 1522.6 L3396.1 1523.2 L3396.4 1523.1 L3396.8 1522.2 L3397.2 1521.5 L3397.5 1521.3 L3397.9 1521.6 L3398.2 1520.8 L3398.6 1522.3 L3399.0 1522.4 L3399.3 1521.7 L3399.7 1520.4 L3400.0 1520.0 L3400.4 1520.5 L3400.8 1520.0 L3401.1 1520.5 L3401.5 1519.2 L3401.8 1520.9 L3402.2 1520.1 L3402.6 1520.5 L3402.9 1521.2 L3403.3 1520.7 L3403.6 1522.5 L3404.0 1522.9 L3404.4 1518.7 L3404.7 1520.0 L3405.1 1519.2 L3405.4 1518.1 L3405.7 1519.4 L3406.9 1503.0 L3407.5 1494.2 L3408.1 1503.0 L3409.3 1519.4 L3409.4 1519.6 L3409.8 1516.6 L3410.1 1516.9 L3410.5 1515.0 L3410.8 1519.3 L3411.2 1518.8 L3411.6 1518.8 L3411.9 1517.9 L3412.3 1518.1 L3412.6 1519.2 L3413.0 1515.2 L3413.4 1517.9 L3413.7 1516.5 L3414.1 1516.8 L3414.4 1516.6 L3414.8 1516.5 L3415.2 1519.5 L3415.5 1515.4 L3415.9 1518.5 L3416.2 1516.3 L3416.6 1516.1 L3417.0 1516.1 L3417.3 1513.5 L3417.7 1513.2 L3418.0 1513.7 L3418.4 1514.4 L3418.8 1513.9 L3419.1 1513.8 L3419.5 1515.5 L3419.8 1515.9 L3420.2 1515.3 L3420.6 1512.5 L3420.9 1511.6 L3421.3 1511.4 L3421.6 1510.0 L3422.0 1508.8 L3422.4 1509.1 L3422.7 1508.1 L3423.1 1506.3 L3423.4 1508.3 L3423.8 1507.0 L3424.2 1503.6 L3424.5 1505.2 L3424.9 1502.8 L3425.2 1499.8 L3425.6 1500.9 L3426.0 1505.0 L3426.3 1502.2 L3426.7 1503.9 L3427.0 1505.1 L3427.4 1506.6 L3427.8 1504.9 L3428.1 1504.5 L3428.5 1506.4 L3428.8 1509.6 L3429.2 1508.9 L3429.4 1509.2 L3430.6 1484.0 L3431.2 1470.5 L3431.7 1509.2 L3432.8 1493.2 L3433.3 1484.7 L3433.7 1509.2 L3434.9 1476.4 L3435.5 1458.8 L3435.8 1509.2 L3436.9 1486.2 L3437.0 1509.2 L3438.2 1472.4 L3438.8 1452.6 L3439.4 1472.4 L3440.6 1509.2 L3440.7 1510.4 L3441.1 1511.4 L3441.4 1512.2 L3441.8 1508.9 L3442.2 1510.0 L3442.5 1506.3 L3442.9 1510.1 L3443.2 1509.4 L3443.6 1509.4 L3444.0 1509.0 L3444.3 1510.1 L3444.7 1510.0 L3445.0 1507.6 L3445.4 1506.9 L3445.8 1506.1 L3446.1 1509.3 L3446.5 1510.5 L3446.8 1512.1 L3447.2 1510.3 L3447.6 1509.7 L3447.9 1509.3 L3448.3 1511.9 L3448.6 1508.9 L3449.0 1509.6 L3449.4 1507.8 L3449.7 1509.7 L3450.1 1508.7 L3450.4 1508.8 L3450.8 1511.0 L3451.2 1508.0 L3451.5 1506.8 L3451.9 1505.5 L3452.2 1506.6 L3452.6 1506.5 L3453.0 1506.1 L3453.3 1507.7 L3453.7 1507.7 L3454.0 1509.6 L3454.4 1507.8 L3454.8 1505.7 L3455.1 1509.2 L3455.5 1506.4 L3455.8 1505.9 L3456.2 1505.1 L3456.6 1507.8 L3456.9 1507.7 L3457.3 1507.4 L3457.6 1508.6 L3458.0 1505.3 L3458.4 1507.0 L3458.7 1508.4 L3459.1 1506.2 L3459.4 1507.8 L3459.8 1507.5 L3460.2 1505.9 L3460.5 1503.8 L3460.9 1507.1 L3461.2 1508.4 L3461.6 1507.5 L3462.0 1504.1 L3462.3 1502.8 L3462.7 1501.3 L3463.0 1504.0 L3463.4 1503.5 L3463.8 1506.2 L3464.1 1505.2 L3464.5 1506.5 L3464.8 1504.9 L3465.2 1505.0 L3465.6 1502.6 L3465.9 1504.4 L3466.3 1504.3 L3466.6 1504.4 L3467.0 1503.7 L3467.4 1502.2 L3467.5 1502.8 L3468.7 1428.8 L3469.1 1502.0 L3470.3 1432.4 L3470.9 1394.9 L3471.5 1432.4 L3472.7 1502.0 L3472.8 1501.7 L3473.1 1500.8 L3473.5 1500.5 L3473.8 1500.4 L3474.2 1502.4 L3474.6 1502.2 L3474.9 1501.0 L3475.3 1503.0 L3475.6 1504.4 L3476.0 1502.2 L3476.4 1500.7 L3476.7 1502.4 L3477.1 1502.6 L3477.4 1502.3 L3477.8 1502.6 L3478.2 1501.7 L3478.5 1503.1 L3478.9 1502.1 L3479.2 1499.0 L3479.6 1501.3 L3480.0 1502.7 L3480.3 1502.1 L3480.7 1502.3 L3481.0 1501.1 L3481.4 1499.2 L3481.8 1500.7 L3482.1 1501.5 L3482.5 1499.2 L3482.8 1500.3 L3483.2 1499.6 L3483.6 1496.7 L3483.9 1498.7 L3484.3 1497.1 L3484.6 1497.7 L3485.0 1494.1 L3485.4 1497.9 L3485.7 1496.9 L3486.1 1497.2 L3486.4 1496.2 L3486.8 1494.8 L3487.2 1495.7 L3487.5 1494.0 L3487.9 1495.4 L3488.2 1496.5 L3488.6 1495.3 L3489.0 1493.4 L3489.3 1496.0 L3489.7 1493.9 L3490.0 1494.6 L3490.4 1495.0 L3490.8 1495.0 L3490.9 1494.7 L3492.1 1482.4 L3492.7 1475.7 L3493.3 1482.4 L3494.5 1494.7 L3494.7 1492.5 L3495.1 1493.0 L3495.4 1493.6 L3495.8 1493.8 L3496.2 1493.8 L3496.5 1493.2 L3496.9 1493.7 L3497.2 1492.6 L3497.6 1494.5 L3498.0 1493.9 L3498.3 1493.5 L3498.7 1495.2 L3499.0 1494.2 L3499.4 1495.3 L3499.8 1496.2 L3500.1 1496.2 L3500.5 1495.1 L3500.8 1496.1 L3501.2 1495.0 L3501.6 1495.3 L3501.9 1495.4 L3502.3 1495.4 L3502.6 1494.7 L3503.0 1495.3 L3503.4 1498.2 L3503.7 1496.5 L3504.1 1497.9 L3504.4 1496.0 L3504.8 1496.0 L3505.2 1496.1 L3505.5 1494.8 L3505.9 1495.6 L3506.2 1496.9 L3506.6 1496.5 L3507.0 1494.3 L3507.3 1495.1 L3507.7 1495.6 L3508.0 1495.1 L3508.4 1493.8 L3508.8 1494.1 L3509.1 1493.6 L3509.5 1495.1 L3509.8 1496.3 L3510.2 1493.1 L3510.6 1494.0 L3510.9 1494.5 L3511.3 1492.1 L3511.6 1491.7 L3512.0 1491.8 L3512.4 1491.9 L3512.7 1491.9 L3513.1 1491.2 L3513.4 1489.6 L3513.8 1492.3 L3514.2 1492.2 L3514.5 1494.8 L3514.9 1492.5 L3515.2 1490.7 L3515.6 1491.3 L3516.0 1492.9 L3516.3 1491.9 L3516.7 1490.7 L3517.0 1492.4 L3517.4 1492.5 L3517.8 1492.2 L3518.1 1491.9 L3518.5 1491.4 L3518.8 1491.9 L3519.2 1491.5 L3519.6 1490.9 L3519.9 1490.7 L3520.3 1490.7 L3520.6 1491.6 L3521.0 1491.4 L3521.4 1493.5 L3521.7 1491.9 L3522.1 1492.2 L3522.4 1491.7 L3522.8 1489.0 L3523.2 1490.8 L3523.5 1487.2 L3523.9 1483.6 L3524.2 1480.0 L3524.6 1475.4 L3525.0 1472.3 L3525.3 1470.5 L3525.7 1463.2 L3526.0 1460.7 L3526.4 1461.1 L3526.8 1460.3 L3527.1 1458.2 L3527.5 1456.9 L3527.8 1455.4 L3528.2 1455.4 L3528.6 1455.2 L3528.9 1454.4" stroke="#555" stroke-width="2.0" stroke-dasharray="5.14 2.22" fill="none" stroke-linejoin="round"/>
<path d="M375.5 67.0 L380.6 75.2 L387.5 81.0 L395.9 127.4 L404.8 105.8 L413.3 112.1 L421.4 147.9 L429.6 183.1 L438.0 196.3 L446.4 223.1 L453.3 225.7 L460.2 252.4 L468.9 261.4 L477.6 288.4 L484.4 309.3 L491.6 327.2 L498.0 358.6 L506.1 379.5 L512.2 408.8 L520.4 432.0 L526.5 446.3 L532.4 460.6 L538.8 482.3 L545.4 496.8 L551.5 504.5 L557.9 512.1 L564.3 522.9 L569.9 562.4 L576.0 574.1 L582.1 562.7 L587.8 586.1 L593.6 593.8 L599.5 600.9 L605.1 591.7 L610.7 607.3 L616.1 616.7 L621.2 618.8 L627.3 625.9 L632.4 649.9 L637.8 649.9 L642.9 648.6 L648.0 654.5 L653.1 657.6 L658.2 658.3 L663.3 616.7 L667.6 584.8 L673.0 490.5 L677.8 523.6 L682.9 606.5 L688.0 670.0 L690.1 693.0 L692.6 723.6 L696.4 758.0 L702.0 772.0 L706.1 798.8 L710.2 798.8 L714.8 806.5 L719.4 808.3 L723.7 833.3 L728.3 856.2 L732.7 856.7 L737.0 854.2 L741.1 909.3 L744.9 866.4 L749.0 861.3 L753.1 868.2 L757.1 861.8 L761.2 859.5 L765.3 870.8 L769.6 863.1 L773.5 861.3 L777.3 865.9 L781.1 872.8 L785.2 882.2 L789.3 885.6 L792.9 873.6 L796.4 882.2 L800.0 895.5 L804.1 892.4 L807.7 888.6 L811.2 890.9 L814.8 903.9 L818.4 900.9 L821.9 906.0 L825.5 911.1 L829.1 915.4 L832.9 872.2 L836.4 789.3 L837.2 772.0 L839.5 741.9 L842.9 753.7 L844.6 798.3 L847.2 836.5 L849.7 879.9 L852.9 909.9 L856.1 900.6 L859.7 905.8 L862.5 928.4 L865.7 944.3 L869.5 952.6 L872.7 966.8 L875.6 983.4 L878.8 977.0 L882.0 971.6 L885.1 992.7 L888.0 985.9 L891.2 687.0 L894.1 586.5 L897.4 588.3 L900.3 687.0 L903.6 990.1 L906.5 981.8 L909.4 959.1 L912.2 965.5 L915.1 674.8 L918.1 594.1 L920.9 596.1 L923.8 700.3 L926.9 985.3 L929.8 1005.1 L932.7 1004.4 L935.1 687.6 L938.0 629.8 L940.6 631.4 L943.4 713.0 L946.0 1010.2 L948.9 700.3 L951.8 594.8 L954.5 596.7 L957.0 700.3 L960.1 982.1 L962.2 1015.3 L964.9 1023.5 L967.7 999.9 L970.4 993.6 L973.1 1015.3 L975.5 1043.3 L979.2 1037.6 L982.8 1031.2 L985.6 1036.9 L988.1 1037.2 L990.7 1042.0 L993.0 1048.4 L995.3 1052.5 L997.7 1047.5 L1000.3 1055.8 L1002.6 1055.4 L1005.1 1035.4 L1007.7 1040.8 L1009.9 1056.3 L1012.2 1059.9 L1014.8 1056.5 L1017.1 1059.9 L1019.4 1062.4 L1021.9 1063.5 L1024.2 1075.2 L1026.4 1080.7 L1029.0 1080.9 L1031.1 1083.5 L1033.4 1089.9 L1035.7 1097.5 L1037.9 1091.8 L1040.1 1098.2 L1042.3 1107.7 L1044.4 1114.1 L1046.8 1114.1 L1049.0 1119.5 L1051.0 1117.9 L1053.2 1125.6 L1055.4 1117.9 L1057.4 1122.4 L1059.6 1110.9 L1061.7 1117.9 L1063.8 1120.2 L1065.9 1120.2 L1067.9 1126.2 L1070.2 1127.2 L1072.3 1121.8 L1074.2 1124.3 L1076.3 1119.2 L1078.4 1121.8 L1080.6 1128.8 L1084.9 1157.3 L1087.0 1138.2 L1089.0 1136.9 L1091.1 1140.8 L1093.1 1142.0 L1094.9 1128.0 L1096.9 1129.3 L1099.0 1142.0 L1101.0 1144.6 L1103.1 1138.2 L1105.1 1140.8 L1107.1 1153.5 L1109.2 1152.2 L1111.2 1151.0 L1113.3 1154.8 L1115.3 1158.6 L1117.3 1159.9 L1119.4 1161.2 L1121.4 1147.1 L1123.5 1136.9 L1125.5 1138.2 L1127.0 1159.9 L1129.1 1179.0 L1131.1 1175.2 L1133.2 1158.6 L1135.2 1154.8 L1137.2 1165.0 L1139.3 1179.0 L1140.8 1182.3 L1143.1 1172.7 L1145.4 1157.3 L1147.4 1158.6 L1150.0 1170.1 L1151.0 1165.9 L1152.8 1177.3 L1154.6 1164.6 L1156.6 1169.7 L1158.4 1178.6 L1161.2 1158.2 L1163.3 1153.1 L1165.3 1165.9 L1168.4 1190.1 L1170.9 1181.2 L1174.0 1167.1 L1175.5 1146.7 L1177.3 1139.8 L1178.6 1164.6 L1180.1 1204.1 L1183.7 1210.5 L1185.5 1192.7 L1186.7 1202.9 L1188.5 1188.8 L1190.1 1205.4 L1191.8 1212.6 L1194.9 1200.3 L1196.9 1183.7 L1198.5 1179.4 L1200.0 1192.7 L1201.5 1204.1 L1203.1 1182.4 L1204.6 1163.3 L1205.9 1187.6 L1207.1 1225.8 L1208.7 1218.2 L1210.7 1219.4 L1212.5 1236.0 L1214.3 1229.6 L1215.8 1222.0 L1217.3 1227.1 L1218.9 1227.1 L1221.4 1239.3 L1223.5 1229.6 L1225.0 1219.4 L1226.8 1220.7 L1229.6 1234.2 L1232.1 1228.4 L1235.2 1213.1 L1237.0 1192.7 L1238.3 1144.2 L1239.5 1095.7 L1241.1 1123.8 L1242.9 1187.6 L1244.9 1234.7 L1246.9 1236.0 L1249.2 1242.4 L1251.5 1242.4 L1252.6 1256.4 L1254.1 1218.2 L1255.1 1136.5 L1256.6 1087.6 L1258.2 1136.5 L1259.7 1269.2 L1261.7 1269.7 L1263.3 1260.3 L1265.3 1256.9 L1267.1 1264.1 L1269.4 1278.1 L1270.9 1261.5 L1272.4 1258.5 L1274.0 1267.1 L1276.0 1255.2 L1277.6 1255.9 L1279.1 1253.9 L1281.1 1267.9 L1282.7 1248.8 L1284.2 1238.6 L1285.7 1237.3 L1287.2 1264.1 L1289.3 1271.7 L1290.8 1273.0 L1292.6 1290.4 L1295.2 1274.3 L1296.9 1273.8 L1299.0 1288.3 L1300.0 1294.7 L1301.5 1283.2 L1304.1 1284.5 L1305.6 1288.3 L1307.1 1283.2 L1308.7 1287.0 L1311.7 1279.9 L1313.8 1285.8 L1316.8 1290.9 L1318.4 1289.6 L1319.9 1292.7 L1321.9 1281.9 L1323.5 1279.9 L1325.5 1292.1 L1327.8 1305.4 L1329.6 1294.7 L1331.1 1281.9 L1332.7 1276.3 L1334.7 1280.7 L1336.7 1289.1 L1338.3 1285.8 L1339.8 1266.6 L1341.8 1255.9 L1343.4 1264.1 L1344.9 1284.5 L1346.9 1285.8 L1348.5 1293.4 L1350.0 1302.3 L1351.5 1292.1 L1353.1 1290.9 L1355.1 1296.0 L1356.6 1308.7 L1358.7 1294.7 L1360.7 1292.1 L1362.8 1299.8 L1365.3 1306.2 L1367.3 1308.0 L1369.9 1304.9 L1371.9 1298.5 L1374.0 1313.8 L1376.0 1311.3 L1378.1 1309.5 L1380.1 1313.8 L1382.1 1315.1 L1384.2 1317.7 L1386.2 1317.7 L1388.3 1329.1 L1390.3 1331.7 L1392.3 1340.1 L1394.4 1325.3 L1396.4 1321.5 L1398.5 1333.0 L1400.5 1341.9 L1402.0 1342.7 L1404.1 1325.3 L1406.1 1320.2 L1408.2 1315.6 L1409.9 1314.6 L1411.7 1330.4 L1413.8 1338.1 L1416.3 1345.2 L1418.4 1340.6 L1420.4 1334.2 L1422.4 1332.4 L1424.0 1333.0 L1425.5 1345.7 L1427.3 1352.1 L1429.1 1336.8 L1431.1 1338.1 L1433.2 1338.1 L1435.2 1327.9 L1437.2 1326.6 L1439.3 1325.3 L1440.8 1324.8 L1442.9 1333.0 L1444.9 1347.8 L1446.9 1343.2 L1448.5 1343.7 L1450.5 1348.3 L1452.6 1349.5 L1454.6 1346.2 L1456.6 1343.2 L1458.4 1340.6 L1460.2 1330.4 L1462.2 1329.1 L1464.0 1327.9 L1465.3 1334.2 L1467.3 1345.2 L1469.4 1340.6 L1471.2 1348.3 L1473.0 1368.2 L1475.0 1367.4 L1476.3 1355.9 L1477.6 1366.1 L1478.8 1289.6 L1480.1 1200.3 L1481.1 1192.1 L1482.1 1238.6 L1483.4 1340.6 L1484.7 1369.2 L1486.7 1364.8 L1488.8 1369.9 L1490.3 1371.2 L1492.3 1363.6 L1494.4 1380.9 L1495.9 1364.8 L1498.0 1382.7 L1500.0 1376.3 L1502.0 1378.4 L1503.6 1381.9 L1505.6 1369.2 L1507.7 1383.5 L1509.7 1372.5 L1511.7 1381.4 L1513.8 1372.5 L1515.8 1369.9 L1517.9 1381.9 L1519.9 1387.8 L1521.9 1381.9 L1524.0 1389.1 L1525.5 1376.3 L1527.6 1377.6 L1529.1 1386.5 L1531.1 1380.2 L1532.1 1264.1 L1533.2 1093.2 L1534.2 1091.9 L1535.2 1264.1 L1536.2 1368.7 L1537.8 1392.9 L1539.3 1387.8 L1541.3 1394.7 L1543.4 1390.4 L1544.9 1389.1 L1546.9 1400.6 L1549.0 1411.5 L1551.0 1396.7 L1552.8 1385.3 L1554.1 1377.1 L1555.6 1385.3 L1557.7 1406.9 L1559.2 1399.3 L1561.2 1390.4 L1563.3 1404.4 L1565.3 1401.8 L1567.3 1403.1 L1569.4 1401.8 L1571.4 1404.4 L1573.5 1406.9 L1575.5 1398.8 L1577.6 1394.7 L1579.6 1394.2 L1581.6 1400.6 L1583.7 1404.9 L1585.7 1403.1 L1587.8 1414.1 L1589.8 1416.6 L1591.8 1404.4 L1593.9 1415.1 L1595.9 1406.4 L1598.0 1413.3 L1600.0 1411.5 L1602.0 1415.9 L1604.1 1406.9 L1606.1 1417.1 L1607.7 1420.2 L1609.7 1410.0 L1611.7 1413.3 L1613.8 1409.5 L1615.8 1412.0 L1617.9 1407.4 L1619.9 1406.9 L1621.9 1414.1 L1624.0 1412.0 L1626.0 1421.0 L1628.1 1427.3 L1630.1 1418.4 L1632.1 1417.1 L1634.2 1413.3 L1636.2 1414.6 L1638.3 1422.2 L1639.8 1427.3 L1641.8 1417.1 L1643.9 1420.2 L1645.9 1415.9 L1648.0 1417.7 L1650.0 1414.6 L1652.0 1420.2 L1653.1 1391.6 L1654.1 1285.8 L1655.6 1287.0 L1656.6 1391.6 L1657.7 1417.1 L1659.2 1423.5 L1660.7 1433.7 L1662.8 1417.1 L1664.3 1413.3 L1666.3 1432.4 L1668.4 1422.2 L1670.4 1427.3 L1672.4 1420.2 L1674.5 1422.2 L1676.5 1419.7 L1678.6 1415.9 L1680.6 1410.8 L1682.7 1417.1 L1684.7 1427.3 L1686.7 1428.6 L1688.8 1421.0 L1690.8 1431.2 L1692.9 1417.1 L1694.9 1427.3 L1696.9 1421.7 L1700.0 1429.9 L1700.0 1425.3 L1700.8 1425.8 L1701.5 1427.2 L1702.2 1423.0 L1703.0 1422.9 L1703.8 1426.6 L1704.5 1423.5 L1705.2 1423.7 L1706.0 1427.7 L1706.8 1428.9 L1707.5 1423.9 L1708.2 1423.7 L1709.0 1420.9 L1709.8 1422.4 L1710.5 1425.7 L1711.2 1424.5 L1712.0 1428.6 L1712.8 1425.1 L1713.5 1422.9 L1714.2 1424.7 L1715.0 1425.1 L1715.8 1423.5 L1716.5 1425.4 L1717.2 1427.5 L1718.0 1422.2 L1718.8 1435.3 L1719.5 1437.3 L1720.2 1430.7 L1721.0 1439.5 L1721.8 1433.1 L1722.5 1436.0 L1723.2 1427.5 L1724.0 1431.0 L1724.8 1433.3 L1725.5 1425.5 L1726.2 1434.1 L1727.0 1426.5 L1727.8 1426.6 L1728.5 1430.1 L1729.2 1435.2 L1730.0 1429.8 L1730.8 1422.7 L1731.5 1428.6 L1732.2 1426.4 L1733.0 1430.2 L1733.8 1427.2 L1734.5 1429.7 L1735.2 1423.8 L1736.0 1428.7 L1736.8 1432.8 L1737.5 1418.9 L1738.2 1423.3 L1739.0 1428.2 L1739.8 1427.9 L1740.5 1434.6 L1741.2 1428.3 L1742.0 1428.8 L1742.8 1429.6 L1743.5 1425.1 L1744.2 1425.5 L1745.0 1425.5 L1745.8 1427.2 L1746.5 1426.1 L1747.2 1424.5 L1748.0 1434.6 L1748.8 1428.2 L1749.5 1428.3 L1750.2 1419.9 L1751.0 1419.9 L1751.8 1428.6 L1752.5 1427.2 L1753.2 1422.0 L1754.0 1430.3 L1754.8 1429.8 L1755.5 1425.1 L1756.2 1431.2 L1757.0 1419.6 L1757.8 1429.6 L1758.5 1430.1 L1759.2 1434.8 L1760.0 1428.2 L1760.8 1423.1 L1761.5 1428.6 L1762.2 1429.4 L1763.0 1431.4 L1763.8 1428.7 L1764.5 1430.2 L1765.2 1431.8 L1766.0 1424.8 L1766.8 1426.4 L1767.5 1428.3 L1768.2 1428.7 L1769.0 1426.3 L1769.8 1428.2 L1770.5 1423.2 L1771.2 1422.8 L1772.0 1431.2 L1772.8 1432.5 L1773.5 1424.4 L1774.2 1431.8 L1775.0 1434.2 L1775.8 1429.8 L1776.5 1430.0 L1777.2 1437.6 L1778.0 1435.0 L1778.8 1431.1 L1779.5 1427.2 L1780.2 1429.3 L1781.0 1426.1 L1781.8 1422.6 L1782.5 1425.8 L1782.9 1426.3 L1784.1 1340.2 L1784.7 1293.9 L1785.3 1340.2 L1786.5 1426.3 L1787.0 1428.1 L1787.8 1431.2 L1788.5 1427.3 L1789.2 1427.3 L1790.0 1427.7 L1790.8 1422.5 L1791.5 1421.5 L1792.2 1427.0 L1793.0 1421.5 L1793.8 1416.0 L1794.5 1420.5 L1795.2 1417.7 L1796.0 1416.1 L1796.8 1420.4 L1797.5 1414.5 L1798.2 1417.0 L1799.0 1417.0 L1799.8 1416.6 L1800.5 1413.0 L1801.2 1420.4 L1802.0 1424.3 L1802.8 1419.1 L1803.5 1413.4 L1804.2 1408.5 L1805.0 1406.8 L1805.8 1409.2 L1806.5 1411.3 L1807.2 1410.0 L1808.0 1416.2 L1808.8 1421.2 L1809.5 1418.8 L1810.2 1431.2 L1811.0 1425.4 L1811.8 1421.8 L1812.5 1427.3 L1813.2 1428.3 L1814.0 1427.6 L1814.8 1428.6 L1815.5 1428.7 L1816.2 1432.6 L1817.0 1427.6 L1817.8 1438.5 L1818.5 1433.9 L1819.2 1426.5 L1820.0 1435.3 L1820.8 1436.8 L1821.5 1436.3 L1822.2 1435.2 L1823.0 1437.0 L1823.8 1438.8 L1824.5 1439.3 L1825.2 1436.0 L1826.0 1437.5 L1826.8 1439.2 L1827.5 1443.4 L1828.2 1443.7 L1829.0 1441.4 L1829.8 1436.0 L1830.5 1437.3 L1831.2 1439.0 L1832.0 1440.0 L1832.8 1439.7 L1833.5 1439.4 L1834.2 1442.7 L1835.0 1431.5 L1835.8 1443.5 L1836.5 1436.6 L1837.2 1443.7 L1838.0 1442.1 L1838.8 1439.9 L1839.5 1430.8 L1840.2 1431.7 L1841.0 1428.7 L1841.8 1433.9 L1842.5 1432.5 L1843.2 1428.7 L1844.0 1423.9 L1844.8 1426.0 L1845.5 1427.4 L1846.2 1424.3 L1847.0 1424.3 L1847.8 1424.8 L1848.5 1420.3 L1849.2 1416.4 L1850.0 1417.6 L1850.8 1428.3 L1851.5 1425.2 L1852.2 1424.1 L1853.0 1423.2 L1853.8 1424.8 L1854.5 1422.7 L1855.2 1431.8 L1856.0 1431.9 L1856.8 1432.3 L1857.4 1429.5 L1859.1 1408.1 L1860.2 1386.7 L1861.3 1408.1 L1863.0 1429.5 L1863.5 1436.6 L1864.2 1436.4 L1865.0 1436.7 L1865.8 1435.6 L1866.5 1435.3 L1867.2 1440.6 L1868.0 1438.5 L1868.8 1439.7 L1869.5 1436.3 L1870.2 1447.3 L1871.0 1447.0 L1871.8 1437.4 L1872.5 1439.2 L1873.2 1432.7 L1874.0 1439.0 L1874.8 1433.3 L1875.5 1437.6 L1876.2 1440.9 L1877.0 1436.9 L1877.8 1434.8 L1878.5 1437.1 L1879.2 1442.3 L1880.0 1438.0 L1880.8 1431.3 L1881.5 1436.8 L1882.2 1438.6 L1883.0 1438.2 L1883.8 1448.5 L1884.5 1441.2 L1885.2 1442.4 L1886.0 1437.0 L1886.8 1432.3 L1887.5 1431.2 L1888.2 1434.2 L1889.0 1443.4 L1889.8 1433.9 L1890.5 1438.7 L1891.2 1440.1 L1892.0 1447.7 L1892.8 1438.1 L1893.5 1437.3 L1894.2 1442.9 L1895.0 1440.2 L1895.8 1437.4 L1896.5 1442.9 L1897.2 1444.4 L1898.0 1441.4 L1898.8 1447.3 L1899.5 1447.5 L1900.2 1450.4 L1901.0 1449.6 L1901.8 1445.0 L1902.5 1439.4 L1903.2 1440.7 L1904.0 1445.4 L1904.8 1437.9 L1905.5 1433.2 L1906.2 1436.1 L1907.0 1445.6 L1907.8 1439.1 L1908.5 1439.2 L1909.2 1429.3 L1910.0 1430.2 L1910.8 1432.8 L1911.5 1430.8 L1912.2 1427.7 L1913.0 1428.2 L1913.8 1433.1 L1914.5 1430.3 L1915.2 1432.0 L1916.0 1432.4 L1916.8 1429.5 L1917.5 1431.1 L1918.2 1432.3 L1919.0 1426.7 L1919.8 1429.1 L1920.5 1433.7 L1921.2 1431.1 L1922.0 1437.9 L1922.8 1440.5 L1923.5 1436.4 L1924.2 1439.8 L1925.0 1439.0 L1925.8 1441.9 L1926.5 1437.6 L1927.2 1434.6 L1928.0 1433.8 L1928.8 1432.6 L1929.5 1439.7 L1930.2 1434.9 L1931.0 1442.9 L1931.8 1440.3 L1932.5 1434.0 L1933.2 1436.4 L1934.0 1444.6 L1934.8 1439.7 L1935.5 1441.4 L1936.2 1438.6 L1937.0 1433.4 L1937.8 1440.2 L1938.5 1438.5 L1939.2 1431.2 L1940.0 1436.1 L1940.8 1441.3 L1941.5 1436.0 L1942.2 1439.8 L1943.0 1441.9 L1943.8 1441.1 L1944.5 1434.3 L1945.2 1431.0 L1946.0 1435.6 L1946.8 1441.5 L1947.5 1437.5 L1948.2 1433.7 L1949.0 1437.0 L1949.8 1435.6 L1950.5 1430.8 L1951.2 1425.0 L1952.0 1428.3 L1952.8 1434.0 L1953.5 1430.7 L1954.2 1429.4 L1955.0 1434.2 L1955.8 1433.4 L1956.5 1428.8 L1957.2 1428.4 L1958.0 1428.5 L1958.8 1434.0 L1959.5 1436.8 L1960.2 1438.4 L1961.0 1429.3 L1961.8 1435.1 L1962.5 1424.7 L1963.2 1425.8 L1964.0 1430.2 L1964.8 1428.8 L1965.5 1429.8 L1966.2 1430.8 L1967.0 1431.0 L1967.8 1428.0 L1968.5 1432.1 L1969.2 1429.4 L1970.0 1423.8 L1970.8 1425.9 L1971.5 1428.6 L1972.2 1421.6 L1973.0 1426.2 L1973.8 1422.0 L1974.5 1424.6 L1975.2 1424.2 L1976.0 1428.3 L1976.8 1425.1 L1977.5 1419.5 L1978.2 1414.7 L1979.0 1422.1 L1979.8 1423.6 L1980.5 1433.2 L1981.2 1434.7 L1982.0 1438.2 L1982.8 1437.3 L1983.5 1433.6 L1984.2 1435.6 L1985.0 1433.2 L1985.8 1434.6 L1986.5 1446.3 L1987.2 1447.1 L1988.0 1448.9 L1988.8 1451.0 L1989.5 1454.2 L1990.2 1455.4 L1991.0 1451.4 L1991.8 1450.1 L1992.5 1457.4 L1993.2 1458.6 L1994.0 1452.9 L1994.8 1449.2 L1995.5 1453.8 L1996.2 1455.4 L1997.0 1452.9 L1997.8 1460.7 L1998.5 1456.2 L1999.2 1453.1 L2000.0 1460.8 L2000.8 1451.4 L2001.5 1452.7 L2002.2 1449.4 L2003.0 1458.2 L2003.8 1452.1 L2004.5 1452.4 L2005.2 1452.5 L2006.0 1447.8 L2006.8 1453.6 L2007.5 1461.3 L2008.2 1455.1 L2009.0 1449.3 L2009.8 1445.3 L2010.5 1446.3 L2011.2 1448.3 L2012.0 1448.6 L2012.8 1441.9 L2013.5 1453.5 L2014.2 1450.6 L2015.0 1442.8 L2015.8 1453.3 L2016.5 1447.4 L2017.2 1449.2 L2018.0 1448.4 L2018.8 1450.2 L2019.5 1449.4 L2020.2 1448.1 L2021.0 1441.6 L2021.8 1445.4 L2022.5 1443.7 L2023.2 1444.3 L2024.0 1447.5 L2024.8 1446.5 L2025.5 1447.5 L2026.2 1444.8 L2027.0 1443.1 L2027.8 1439.9 L2028.5 1436.0 L2029.2 1436.8 L2030.0 1442.4 L2030.8 1450.4 L2031.5 1442.7 L2032.2 1443.2 L2033.0 1441.0 L2033.8 1443.6 L2034.5 1449.5 L2035.2 1448.9 L2036.0 1441.3 L2036.8 1438.1 L2037.5 1439.4 L2038.2 1436.0 L2039.0 1434.1 L2039.8 1430.0 L2040.5 1432.5 L2041.2 1426.3 L2042.0 1432.6 L2042.8 1424.8 L2043.5 1420.5 L2044.2 1419.9 L2045.0 1420.9 L2045.8 1425.1 L2046.5 1418.5 L2047.2 1424.1 L2048.0 1427.9 L2048.8 1423.7 L2049.5 1425.3 L2050.2 1430.2 L2050.8 1430.8 L2052.0 1360.1 L2052.6 1321.9 L2053.2 1360.1 L2054.4 1430.8 L2054.8 1426.2 L2055.5 1429.8 L2056.2 1435.2 L2057.0 1431.9 L2057.8 1434.4 L2058.5 1436.4 L2059.2 1427.5 L2060.0 1424.7 L2060.8 1423.6 L2061.5 1423.6 L2062.2 1425.0 L2063.0 1421.7 L2063.8 1427.7 L2064.5 1426.9 L2065.2 1434.2 L2066.0 1442.4 L2066.8 1436.9 L2067.5 1444.8 L2068.2 1444.1 L2069.0 1442.4 L2069.8 1433.8 L2070.5 1439.6 L2071.2 1438.3 L2072.0 1444.9 L2072.8 1447.8 L2073.5 1445.8 L2074.2 1443.2 L2075.0 1454.3 L2075.8 1449.3 L2076.5 1450.1 L2077.2 1446.6 L2078.0 1448.9 L2078.8 1445.1 L2079.5 1447.3 L2080.2 1447.1 L2081.0 1445.5 L2081.8 1445.5 L2082.5 1446.7 L2083.2 1447.1 L2084.0 1446.8 L2084.8 1446.5 L2085.5 1446.4 L2086.2 1448.5 L2087.0 1446.9 L2087.8 1449.8 L2088.5 1447.2 L2089.2 1452.7 L2090.0 1447.4 L2090.8 1444.3 L2091.5 1440.6 L2092.2 1446.3 L2093.0 1447.4 L2093.8 1451.0 L2094.5 1449.6 L2095.2 1447.3 L2096.0 1454.1 L2096.8 1451.1 L2097.5 1455.7 L2098.2 1454.0 L2099.0 1457.9 L2099.8 1453.7 L2100.5 1455.6 L2101.2 1451.3 L2102.0 1452.5 L2102.8 1453.3 L2103.5 1455.4 L2104.2 1457.5 L2105.0 1453.7 L2105.8 1457.8 L2106.5 1451.8 L2107.2 1453.6 L2108.0 1456.7 L2108.8 1460.5 L2109.5 1460.4 L2110.2 1458.6 L2111.0 1451.4 L2111.8 1461.3 L2112.5 1460.0 L2113.2 1461.8 L2114.0 1463.8 L2114.8 1459.4 L2115.5 1454.5 L2116.2 1457.8 L2117.0 1454.6 L2117.8 1458.1 L2118.5 1454.9 L2119.2 1457.4 L2120.0 1454.6 L2120.8 1446.8 L2121.5 1456.6 L2122.2 1454.2 L2123.0 1462.4 L2123.8 1458.5 L2124.5 1451.9 L2125.2 1455.9 L2126.0 1451.8 L2126.8 1448.5 L2127.5 1449.3 L2128.2 1453.2 L2129.0 1455.6 L2129.8 1456.4 L2130.5 1456.9 L2131.2 1457.8 L2132.0 1460.8 L2132.8 1455.0 L2133.5 1458.5 L2134.2 1456.7 L2135.0 1449.1 L2135.8 1457.3 L2136.5 1451.5 L2137.2 1456.6 L2138.0 1455.2 L2138.8 1458.7 L2139.5 1462.3 L2140.2 1460.6 L2141.0 1450.3 L2141.8 1454.1 L2142.5 1453.3 L2143.2 1453.8 L2144.0 1454.3 L2144.8 1458.3 L2145.5 1456.8 L2146.2 1452.0 L2147.0 1460.4 L2147.8 1453.7 L2148.5 1450.8 L2149.2 1446.5 L2150.0 1447.8 L2150.8 1445.5 L2151.5 1453.8 L2152.2 1456.1 L2153.0 1443.0 L2153.8 1452.2 L2154.5 1452.6 L2155.2 1448.9 L2156.0 1448.4 L2156.8 1457.1 L2157.5 1458.0 L2158.2 1462.6 L2159.0 1457.9 L2159.8 1466.1 L2160.5 1463.4 L2161.2 1460.1 L2162.0 1463.2 L2162.8 1460.9 L2163.5 1457.7 L2164.2 1454.4 L2165.0 1457.8 L2165.8 1447.6 L2166.5 1451.8 L2167.2 1450.8 L2168.0 1458.8 L2168.8 1461.9 L2169.5 1456.6 L2170.2 1454.8 L2171.0 1462.0 L2171.8 1459.0 L2172.5 1462.9 L2173.2 1458.1 L2174.0 1459.4 L2174.8 1465.0 L2175.5 1457.5 L2176.2 1460.0 L2177.0 1460.2 L2177.8 1451.0 L2178.5 1462.3 L2179.2 1454.7 L2180.0 1458.7 L2180.8 1457.1 L2181.5 1454.1 L2182.2 1454.2 L2183.0 1459.6 L2183.8 1452.1 L2184.5 1455.5 L2185.2 1446.6 L2186.0 1450.8 L2186.8 1445.0 L2187.5 1451.1 L2188.2 1455.5 L2189.0 1446.7 L2189.8 1452.8 L2190.5 1453.1 L2191.2 1453.6 L2192.0 1457.8 L2192.8 1458.6 L2193.5 1462.2 L2194.2 1463.2 L2195.0 1457.1 L2195.8 1461.2 L2196.5 1462.2 L2197.2 1458.5 L2198.0 1455.7 L2198.8 1453.9 L2199.5 1453.2 L2200.2 1458.9 L2201.0 1455.9 L2201.8 1457.5 L2202.5 1454.0 L2203.2 1452.2 L2204.0 1463.8 L2204.8 1466.0 L2205.5 1462.8 L2206.2 1458.3 L2207.0 1453.4 L2207.8 1461.5 L2208.5 1452.8 L2209.2 1455.2 L2210.0 1456.6 L2210.8 1449.7 L2211.5 1453.8 L2212.2 1460.0 L2213.0 1460.3 L2213.8 1449.6 L2214.5 1458.8 L2215.2 1451.4 L2216.0 1453.9 L2216.8 1454.4 L2217.5 1451.1 L2218.2 1458.9 L2219.0 1456.6 L2219.8 1457.2 L2220.5 1450.2 L2221.2 1449.9 L2222.0 1460.0 L2222.8 1456.4 L2223.5 1454.7 L2224.2 1455.6 L2225.0 1452.2 L2225.8 1447.2 L2226.5 1448.4 L2227.2 1453.5 L2228.0 1458.7 L2228.8 1459.4 L2229.5 1451.8 L2230.2 1451.8 L2231.0 1452.4 L2231.8 1463.0 L2232.5 1455.2 L2233.2 1454.7 L2234.0 1459.2 L2234.8 1464.8 L2235.5 1463.4 L2236.2 1463.5 L2237.0 1466.5 L2237.8 1456.1 L2238.5 1460.8 L2239.2 1458.9 L2240.0 1462.9 L2240.8 1458.0 L2241.5 1463.4 L2242.2 1468.1 L2243.0 1472.4 L2243.8 1460.3 L2244.5 1458.2 L2245.2 1461.6 L2246.0 1466.1 L2246.8 1459.0 L2247.5 1465.6 L2248.2 1458.9 L2249.0 1466.2 L2249.8 1461.1 L2250.5 1464.0 L2251.2 1452.7 L2252.0 1449.3 L2252.8 1460.1 L2253.5 1450.7 L2254.2 1461.8 L2254.3 1458.7 L2255.5 1399.1 L2256.1 1367.1 L2256.7 1399.1 L2257.9 1458.7 L2258.0 1458.5 L2258.8 1458.8 L2259.5 1457.0 L2260.2 1457.8 L2261.4 1406.3 L2262.0 1378.6 L2262.6 1406.3 L2263.8 1457.8 L2264.0 1454.0 L2264.8 1445.3 L2265.5 1460.9 L2265.6 1458.9 L2266.8 1218.8 L2267.4 1089.5 L2268.0 1218.8 L2269.2 1458.9 L2269.2 1466.9 L2270.0 1462.9 L2270.8 1459.4 L2271.5 1460.1 L2272.2 1458.3 L2273.0 1449.1 L2273.8 1469.7 L2274.5 1464.4 L2275.2 1460.0 L2276.0 1456.2 L2276.8 1457.1 L2277.5 1455.4 L2278.2 1451.4 L2279.0 1448.5 L2279.8 1453.0 L2280.5 1459.5 L2281.2 1458.0 L2282.0 1461.4 L2282.8 1460.9 L2283.5 1453.6 L2284.2 1457.2 L2285.0 1462.4 L2285.8 1454.9 L2286.5 1454.6 L2287.2 1453.1 L2288.0 1454.8 L2288.8 1454.2 L2289.5 1453.3 L2290.2 1450.5 L2291.0 1460.0 L2291.3 1458.3 L2292.5 1388.2 L2293.1 1350.5 L2293.7 1388.2 L2294.9 1458.3 L2295.5 1458.1 L2296.2 1460.5 L2296.4 1457.8 L2297.6 1390.6 L2298.2 1354.3 L2298.8 1390.6 L2300.0 1457.8 L2300.5 1458.9 L2301.0 1456.3 L2301.5 1451.1 L2302.0 1455.6 L2302.5 1455.3 L2303.0 1458.2 L2303.5 1456.9 L2304.0 1457.0 L2304.5 1455.8 L2305.0 1453.2 L2305.5 1453.7 L2306.0 1449.9 L2306.5 1452.9 L2307.0 1448.7 L2307.5 1448.3 L2308.0 1451.8 L2308.5 1451.5 L2309.0 1450.2 L2309.5 1449.6 L2310.0 1449.0 L2310.5 1449.3 L2311.0 1450.7 L2311.5 1448.2 L2312.0 1447.7 L2312.5 1448.4 L2313.0 1443.8 L2313.5 1445.9 L2314.0 1452.5 L2314.5 1447.2 L2315.0 1448.6 L2315.5 1448.6 L2316.0 1449.7 L2316.5 1449.1 L2317.0 1457.0 L2317.5 1445.7 L2318.0 1449.0 L2318.5 1447.2 L2319.0 1450.9 L2319.5 1451.2 L2320.0 1453.7 L2320.5 1453.1 L2321.0 1454.3 L2321.5 1457.2 L2322.0 1455.0 L2322.5 1453.0 L2323.0 1452.8 L2323.5 1456.8 L2324.0 1455.3 L2324.5 1448.5 L2325.0 1453.0 L2325.5 1450.5 L2326.0 1452.4 L2326.5 1451.7 L2327.0 1454.2 L2327.5 1454.0 L2328.0 1454.4 L2328.5 1452.3 L2329.0 1453.1 L2329.5 1448.3 L2330.0 1446.4 L2330.5 1449.5 L2331.0 1446.2 L2331.5 1440.3 L2332.0 1443.1 L2332.5 1443.4 L2333.0 1438.2 L2333.5 1445.4 L2334.0 1440.7 L2334.5 1441.8 L2335.0 1435.9 L2335.5 1440.2 L2336.0 1440.6 L2336.5 1441.5 L2337.0 1442.7 L2337.5 1438.6 L2338.0 1436.2 L2338.5 1438.7 L2339.0 1438.9 L2339.5 1444.7 L2340.0 1441.5 L2340.5 1437.7 L2341.0 1437.8 L2341.5 1432.4 L2342.0 1430.2 L2342.5 1440.9 L2343.0 1444.8 L2343.5 1444.4 L2344.0 1442.6 L2344.5 1439.1 L2345.0 1439.5 L2345.5 1442.4 L2346.0 1444.6 L2346.5 1445.9 L2347.0 1440.6 L2347.5 1435.9 L2348.0 1438.1 L2348.5 1438.5 L2349.0 1443.8 L2349.5 1445.7 L2350.0 1446.3 L2350.5 1446.8 L2351.0 1446.0 L2351.5 1448.8 L2352.0 1450.6 L2352.5 1455.4 L2353.0 1453.8 L2353.5 1455.0 L2354.0 1460.4 L2354.5 1464.8 L2355.0 1462.0 L2355.5 1458.0 L2356.0 1459.6 L2356.5 1463.9 L2357.0 1466.0 L2357.5 1459.8 L2358.0 1456.2 L2358.5 1460.5 L2359.0 1457.4 L2359.5 1462.9 L2360.0 1460.3 L2360.5 1460.2 L2361.0 1457.5 L2361.5 1454.2 L2362.0 1456.7 L2362.5 1459.3 L2363.0 1459.3 L2363.5 1461.7 L2364.0 1463.3 L2364.5 1457.3 L2365.0 1458.9 L2365.5 1462.5 L2366.0 1463.5 L2366.5 1463.9 L2367.0 1466.7 L2367.5 1462.1 L2368.0 1462.6 L2368.5 1461.3 L2369.0 1467.2 L2369.5 1460.5 L2370.0 1462.0 L2370.5 1460.5 L2371.0 1467.0 L2371.5 1457.8 L2372.0 1460.7 L2372.5 1458.5 L2373.0 1458.1 L2373.5 1466.3 L2374.0 1461.7 L2374.5 1458.6 L2375.0 1458.1 L2375.5 1456.2 L2376.0 1453.0 L2376.5 1448.9 L2377.0 1450.1 L2377.5 1449.0 L2378.0 1439.9 L2378.5 1442.3 L2379.0 1438.6 L2379.5 1439.2 L2380.0 1440.9 L2380.5 1435.2 L2381.0 1431.0 L2381.5 1433.6 L2382.0 1433.4 L2382.5 1436.9 L2383.0 1440.2 L2383.5 1438.2 L2384.0 1430.7 L2384.5 1428.3 L2385.0 1435.0 L2385.5 1433.9 L2386.0 1431.4 L2386.5 1434.8 L2387.0 1440.1 L2387.5 1438.4 L2388.0 1440.8 L2388.5 1439.0 L2389.0 1436.6 L2389.5 1440.1 L2390.0 1439.8 L2390.5 1437.4 L2391.0 1436.4 L2391.5 1438.5 L2392.0 1436.9 L2392.5 1437.3 L2393.0 1439.4 L2393.5 1439.9 L2394.0 1438.7 L2394.5 1438.4 L2395.0 1449.1 L2395.5 1449.1 L2396.0 1449.6 L2396.5 1443.3 L2397.0 1446.9 L2397.5 1444.5 L2398.0 1449.1 L2398.5 1448.8 L2399.0 1449.9 L2399.5 1443.3 L2400.0 1452.7 L2400.5 1453.3 L2401.0 1453.4 L2401.5 1451.7 L2402.0 1445.7 L2402.5 1447.4 L2403.0 1449.9 L2403.5 1452.8 L2404.0 1450.7 L2404.5 1446.2 L2405.0 1453.6 L2405.5 1450.5 L2406.0 1456.0 L2406.5 1454.4 L2407.0 1451.4 L2407.5 1455.9 L2408.0 1453.5 L2408.5 1447.5 L2409.0 1453.0 L2409.5 1456.7 L2410.0 1455.8 L2410.5 1459.9 L2411.0 1462.4 L2411.5 1462.4 L2412.0 1464.4 L2412.5 1465.6 L2413.0 1466.3 L2413.5 1465.6 L2414.0 1463.4 L2414.5 1463.8 L2415.0 1463.6 L2415.5 1466.5 L2416.0 1464.2 L2416.5 1465.5 L2417.0 1462.1 L2417.5 1465.2 L2418.0 1464.5 L2418.5 1461.7 L2419.0 1461.4 L2419.5 1461.4 L2420.0 1464.7 L2420.5 1458.9 L2421.0 1460.3 L2421.5 1458.4 L2422.0 1455.2 L2422.5 1459.6 L2423.0 1454.8 L2423.5 1456.8 L2424.0 1460.3 L2424.5 1464.8 L2425.0 1457.1 L2425.5 1455.8 L2426.0 1454.8 L2426.5 1455.4 L2427.0 1458.7 L2427.5 1458.1 L2428.0 1455.7 L2428.5 1455.6 L2429.0 1453.2 L2429.5 1452.3 L2430.0 1451.2 L2430.5 1448.7 L2431.0 1448.6 L2431.5 1447.3 L2432.0 1451.0 L2432.5 1451.3 L2433.0 1448.7 L2433.5 1444.6 L2434.0 1449.9 L2434.5 1446.6 L2435.0 1443.7 L2435.5 1436.9 L2436.0 1439.1 L2436.5 1435.0 L2437.0 1440.3 L2437.5 1434.3 L2438.0 1433.2 L2438.5 1424.8 L2439.0 1430.7 L2439.3 1436.9 L2440.5 1229.7 L2441.1 1118.0 L2441.7 1229.7 L2442.9 1436.9 L2443.0 1440.6 L2443.5 1440.2 L2444.0 1445.9 L2444.5 1447.0 L2445.0 1450.2 L2445.5 1451.4 L2446.0 1453.5 L2446.5 1450.7 L2447.0 1452.2 L2447.5 1451.5 L2448.0 1451.2 L2448.5 1449.7 L2449.0 1453.7 L2449.5 1447.5 L2450.0 1445.8 L2450.5 1448.4 L2451.0 1449.8 L2451.5 1452.1 L2452.0 1451.7 L2452.5 1452.0 L2453.0 1452.2 L2453.5 1453.1 L2454.0 1448.0 L2454.5 1449.5 L2455.0 1446.2 L2455.5 1455.0 L2456.0 1459.5 L2456.5 1451.4 L2457.0 1451.0 L2457.5 1452.7 L2458.0 1455.5 L2458.5 1458.5 L2459.0 1454.1 L2459.5 1455.4 L2460.0 1456.7 L2460.5 1455.0 L2461.0 1452.8 L2461.5 1454.1 L2462.0 1457.6 L2462.5 1459.3 L2463.0 1458.9 L2463.5 1455.0 L2464.0 1457.8 L2464.5 1458.3 L2465.0 1461.5 L2465.5 1462.4 L2466.0 1459.4 L2466.5 1458.4 L2467.0 1459.8 L2467.5 1466.4 L2468.0 1466.1 L2468.5 1460.7 L2469.0 1464.9 L2469.5 1466.4 L2470.0 1459.9 L2470.5 1458.5 L2471.0 1460.4 L2471.5 1457.7 L2472.0 1456.3 L2472.5 1463.1 L2473.0 1467.6 L2473.5 1459.8 L2474.0 1459.7 L2474.5 1462.0 L2475.0 1462.2 L2475.5 1464.5 L2476.0 1463.2 L2476.5 1460.2 L2477.0 1456.4 L2477.5 1459.5 L2478.0 1456.2 L2478.5 1459.8 L2479.0 1456.7 L2479.5 1460.9 L2480.0 1464.1 L2480.5 1459.8 L2481.0 1462.0 L2481.5 1459.2 L2482.0 1460.1 L2482.5 1460.8 L2483.0 1460.0 L2483.5 1463.9 L2484.0 1461.0 L2484.5 1463.0 L2485.0 1462.7 L2485.5 1458.8 L2486.0 1459.4 L2486.5 1464.7 L2487.0 1461.7 L2487.5 1459.6 L2488.0 1462.4 L2488.5 1453.4 L2489.0 1456.2 L2489.5 1459.6 L2490.0 1458.3 L2490.5 1458.5 L2491.0 1456.6 L2491.5 1452.2 L2492.0 1452.4 L2492.5 1455.2 L2493.0 1460.8 L2493.5 1449.3 L2494.0 1449.9 L2494.5 1454.2 L2495.0 1453.7 L2495.5 1459.7 L2496.0 1459.1 L2496.5 1457.3 L2497.0 1460.5 L2497.5 1461.8 L2498.0 1463.0 L2498.5 1455.6 L2499.0 1460.2 L2499.5 1457.7 L2500.0 1458.1 L2500.5 1457.3 L2501.0 1457.3 L2501.5 1453.5 L2502.0 1455.5 L2502.5 1456.5 L2503.0 1459.3 L2503.5 1458.4 L2504.0 1451.3 L2504.5 1453.1 L2505.0 1452.9 L2505.5 1454.6 L2506.0 1451.5 L2506.5 1456.8 L2507.0 1454.5 L2507.5 1447.4 L2508.0 1444.1 L2508.5 1445.1 L2509.0 1448.9 L2509.5 1448.8 L2510.0 1450.6 L2510.5 1444.1 L2511.0 1444.0 L2511.5 1447.1 L2512.0 1445.6 L2512.5 1445.4 L2513.0 1446.9 L2513.5 1445.3 L2514.0 1446.0 L2514.5 1444.2 L2515.0 1442.1 L2515.5 1445.7 L2516.0 1446.8 L2516.5 1448.3 L2517.0 1447.0 L2517.5 1446.8 L2518.0 1443.1 L2518.5 1449.4 L2519.0 1448.1 L2519.5 1450.0 L2520.0 1445.4 L2520.5 1448.6 L2521.0 1447.9 L2521.5 1448.3 L2522.0 1444.1 L2522.5 1452.5 L2523.0 1445.7 L2523.5 1444.5 L2524.0 1444.1 L2524.5 1448.9 L2525.0 1448.2 L2525.5 1448.4 L2526.0 1444.2 L2526.5 1443.7 L2527.0 1440.8 L2527.5 1442.1 L2528.0 1445.1 L2528.5 1443.0 L2529.0 1442.2 L2529.5 1442.6 L2530.0 1439.3 L2530.5 1435.7 L2531.0 1433.7 L2531.5 1438.1 L2532.0 1437.9 L2532.5 1433.4 L2533.0 1427.6 L2533.5 1429.6 L2534.0 1430.1 L2534.5 1432.6 L2535.0 1428.0 L2535.5 1429.6 L2536.0 1425.6 L2536.5 1427.2 L2537.0 1431.4 L2537.5 1431.2 L2538.7 1298.7 L2539.3 1227.4 L2539.9 1298.7 L2540.6 1432.3 L2541.8 880.4 L2542.4 583.2 L2542.8 1433.1 L2544.0 1126.8 L2544.6 961.8 L2545.2 1126.8 L2546.4 1433.1 L2546.5 1439.3 L2547.0 1435.2 L2547.5 1434.6 L2548.0 1433.4 L2548.5 1434.4 L2548.7 1435.2 L2549.9 1399.2 L2550.5 1379.8 L2551.1 1399.2 L2552.3 1435.2 L2552.5 1438.0 L2553.0 1437.4 L2553.5 1433.5 L2554.0 1438.0 L2554.5 1435.4 L2555.0 1441.1 L2555.5 1435.1 L2556.0 1441.1 L2556.5 1441.4 L2557.0 1442.2 L2557.5 1441.7 L2558.0 1442.8 L2558.5 1443.0 L2559.0 1441.0 L2559.5 1440.2 L2560.0 1438.7 L2560.5 1434.5 L2561.0 1440.2 L2561.5 1433.8 L2562.0 1435.3 L2562.5 1431.9 L2563.0 1434.8 L2563.5 1439.0 L2564.0 1434.7 L2564.5 1435.1 L2565.0 1432.8 L2565.5 1435.9 L2566.0 1435.9 L2566.5 1436.8 L2567.0 1440.2 L2567.5 1442.5 L2568.0 1441.1 L2568.5 1438.6 L2569.0 1440.9 L2569.5 1441.8 L2570.0 1443.2 L2570.5 1440.0 L2571.0 1444.3 L2571.5 1442.6 L2572.0 1446.1 L2572.5 1447.1 L2573.0 1447.8 L2573.5 1448.1 L2574.0 1450.1 L2574.5 1446.4 L2575.0 1446.4 L2575.5 1442.8 L2576.0 1446.0 L2576.5 1445.9 L2577.0 1448.1 L2577.5 1442.3 L2578.0 1442.6 L2578.5 1443.0 L2579.0 1438.8 L2579.5 1442.6 L2580.0 1447.0 L2580.5 1447.2 L2581.0 1447.0 L2581.5 1444.9 L2582.0 1447.0 L2582.5 1442.9 L2583.0 1439.4 L2583.5 1442.3 L2584.0 1443.5 L2584.5 1440.9 L2585.0 1440.9 L2585.5 1438.3 L2586.0 1437.8 L2586.5 1434.9 L2587.0 1438.4 L2587.5 1435.9 L2588.0 1433.2 L2588.5 1436.3 L2589.0 1433.8 L2589.5 1431.7 L2590.0 1428.7 L2590.5 1431.2 L2591.0 1428.6 L2591.5 1428.4 L2592.0 1428.3 L2592.5 1429.2 L2593.0 1431.9 L2593.5 1431.9 L2594.0 1434.8 L2594.5 1434.1 L2595.0 1434.0 L2595.5 1435.9 L2596.0 1440.1 L2596.5 1439.4 L2597.0 1439.3 L2597.5 1437.3 L2598.0 1435.8 L2598.5 1434.8 L2599.0 1429.2 L2599.5 1432.0 L2600.0 1431.8 L2600.5 1432.2 L2601.0 1430.3 L2601.5 1425.8 L2602.0 1424.7 L2602.5 1422.0 L2603.0 1420.5 L2603.5 1423.9 L2604.0 1420.9 L2604.5 1415.9 L2605.0 1413.6 L2605.5 1417.0 L2606.0 1418.1 L2606.5 1420.3 L2607.0 1421.1 L2607.5 1417.2 L2608.0 1421.2 L2608.5 1418.3 L2609.0 1419.2 L2609.5 1418.5 L2610.0 1422.4 L2610.5 1426.2 L2611.0 1424.0 L2611.5 1426.8 L2612.0 1425.1 L2612.5 1433.2 L2613.0 1438.0 L2613.5 1432.6 L2614.0 1431.7 L2614.5 1433.9 L2615.0 1434.8 L2615.5 1439.2 L2616.0 1445.0 L2616.5 1441.8 L2617.0 1443.8 L2617.5 1441.8 L2618.0 1439.9 L2618.4 1444.3 L2619.6 1409.5 L2620.2 1390.8 L2620.8 1409.5 L2622.0 1444.3 L2622.0 1438.8 L2622.5 1440.8 L2623.0 1438.2 L2623.5 1443.2 L2624.7 1409.8 L2625.3 1391.8 L2625.9 1409.8 L2627.1 1443.2 L2627.5 1443.6 L2628.0 1437.3 L2628.5 1443.4 L2629.0 1442.9 L2629.5 1445.6 L2630.0 1441.9 L2630.5 1442.8 L2631.0 1441.8 L2631.5 1440.2 L2632.0 1446.4 L2632.5 1444.9 L2633.0 1443.2 L2633.5 1441.8 L2634.0 1440.1 L2634.5 1442.3 L2635.0 1441.1 L2635.5 1440.2 L2636.0 1441.5 L2636.5 1441.4 L2637.0 1445.0 L2637.5 1440.9 L2638.0 1437.9 L2638.5 1443.3 L2639.0 1441.9 L2639.5 1439.4 L2640.0 1443.6 L2640.5 1443.7 L2641.0 1437.3 L2641.5 1441.9 L2642.0 1443.7 L2642.5 1445.1 L2643.0 1442.6 L2643.5 1439.4 L2644.0 1439.6 L2644.5 1443.0 L2645.0 1439.5 L2645.5 1441.5 L2646.0 1436.4 L2646.5 1436.4 L2647.0 1438.0 L2647.5 1438.1 L2648.0 1437.9 L2648.5 1431.7 L2649.0 1436.6 L2649.5 1436.9 L2650.0 1436.8 L2650.5 1431.6 L2651.0 1435.2 L2651.5 1431.8 L2652.0 1428.8 L2652.5 1430.4 L2653.0 1426.9 L2653.5 1426.8 L2654.0 1429.5 L2654.5 1428.5 L2655.0 1425.9 L2655.5 1432.1 L2656.0 1428.4 L2656.5 1426.2 L2657.0 1426.5 L2657.5 1427.1 L2658.0 1427.9 L2658.5 1428.3 L2659.0 1428.5 L2659.5 1426.7 L2660.0 1425.6 L2660.5 1428.4 L2661.0 1427.2 L2661.5 1426.3 L2662.0 1428.3 L2662.5 1427.7 L2663.0 1425.7 L2663.5 1426.5 L2664.0 1429.8 L2664.5 1430.2 L2665.0 1429.4 L2665.5 1433.7 L2666.0 1431.2 L2666.5 1430.4 L2667.0 1431.5 L2667.5 1430.6 L2668.0 1429.5 L2668.5 1433.1 L2669.0 1434.1 L2669.5 1433.7 L2670.0 1433.5 L2670.5 1429.9 L2671.0 1434.2 L2671.5 1427.8 L2672.0 1433.9 L2672.5 1432.9 L2673.0 1432.1 L2673.5 1430.9 L2674.0 1434.3 L2674.5 1438.9 L2675.0 1439.0 L2675.5 1434.7 L2676.0 1435.7 L2676.5 1433.7 L2677.0 1436.4 L2677.5 1434.3 L2678.0 1434.2 L2678.5 1438.0 L2679.0 1433.9 L2679.5 1432.8 L2680.0 1436.1 L2680.5 1431.4 L2681.0 1428.3 L2681.5 1431.4 L2682.0 1431.0 L2682.5 1434.1 L2683.0 1435.9 L2683.5 1434.4 L2684.0 1437.6 L2684.5 1439.2 L2685.0 1435.5 L2685.5 1433.5 L2686.0 1436.4 L2686.5 1432.8 L2687.0 1432.5 L2687.5 1436.4 L2688.0 1439.8 L2688.5 1437.2 L2689.0 1439.7 L2689.5 1440.2 L2690.0 1436.9 L2690.5 1443.8 L2691.0 1437.7 L2691.5 1439.0 L2692.0 1438.7 L2692.5 1434.1 L2693.0 1439.9 L2693.5 1440.1 L2694.0 1441.2 L2694.5 1437.3 L2695.0 1436.3 L2695.5 1442.4 L2696.0 1441.2 L2696.5 1439.3 L2697.0 1438.5 L2697.5 1440.1 L2698.0 1433.6 L2698.5 1438.5 L2699.0 1439.4 L2699.5 1438.3 L2700.0 1436.4 L2700.5 1437.2 L2701.0 1438.1 L2701.5 1433.5 L2702.0 1433.1 L2702.5 1437.0 L2703.0 1434.8 L2703.5 1435.2 L2704.0 1434.6 L2704.5 1435.1 L2705.0 1438.4 L2705.5 1438.2 L2706.0 1435.7 L2706.5 1432.5 L2707.0 1438.3 L2707.5 1435.5 L2708.0 1435.7 L2708.5 1434.8 L2709.0 1435.5 L2709.5 1431.4 L2710.0 1428.8 L2710.5 1433.4 L2711.0 1435.9 L2711.5 1432.3 L2712.0 1433.5 L2712.5 1432.6 L2713.0 1429.1 L2713.5 1431.2 L2714.0 1433.8 L2714.5 1430.7 L2715.0 1430.6 L2715.5 1430.5 L2716.0 1431.4 L2716.5 1429.0 L2717.0 1434.2 L2717.5 1432.6 L2718.0 1433.8 L2718.5 1436.5 L2719.0 1432.0 L2719.5 1432.1 L2720.0 1434.4 L2720.5 1431.5 L2721.0 1432.0 L2721.5 1432.6 L2722.0 1431.1 L2722.5 1436.1 L2723.0 1432.3 L2723.5 1430.2 L2724.0 1429.4 L2724.5 1427.6 L2725.0 1425.4 L2725.5 1429.7 L2726.0 1428.8 L2726.5 1430.8 L2727.0 1433.2 L2727.5 1428.3 L2728.0 1430.3 L2728.5 1425.5 L2729.0 1430.5 L2729.5 1426.6 L2730.0 1425.7 L2730.5 1423.0 L2731.0 1421.9 L2731.5 1417.2 L2732.0 1417.2 L2732.5 1418.3 L2733.0 1420.8 L2733.5 1422.1 L2734.0 1416.8 L2734.5 1418.8 L2735.0 1418.9 L2735.5 1420.8 L2736.0 1424.7 L2736.5 1423.4 L2737.0 1427.0 L2737.5 1428.3 L2738.0 1422.2 L2738.5 1428.9 L2739.0 1430.3 L2739.5 1426.6 L2740.0 1422.4 L2740.5 1418.7 L2741.0 1422.9 L2741.5 1421.4 L2742.0 1417.7 L2742.1 1415.6 L2743.3 1409.8 L2743.9 1406.6 L2744.5 1409.8 L2745.7 1415.6 L2746.0 1415.3 L2746.5 1414.1 L2747.0 1415.3 L2747.5 1415.9 L2748.0 1417.5 L2748.5 1412.2 L2749.0 1415.3 L2749.5 1416.1 L2750.0 1414.6 L2750.5 1413.8 L2751.0 1415.6 L2751.5 1415.2 L2752.0 1414.8 L2752.5 1412.6 L2753.0 1413.5 L2753.5 1412.4 L2754.0 1411.1 L2754.5 1410.4 L2755.0 1411.8 L2755.5 1411.9 L2756.0 1411.3 L2756.5 1413.2 L2757.0 1412.4 L2757.5 1414.9 L2758.0 1414.9 L2758.5 1412.8 L2759.0 1409.8 L2759.5 1414.6 L2760.0 1417.2 L2760.5 1416.4 L2761.0 1417.1 L2761.5 1412.9 L2762.0 1415.8 L2762.5 1413.3 L2763.0 1415.2 L2763.5 1406.9 L2764.0 1409.5 L2764.5 1413.0 L2765.0 1417.5 L2765.5 1414.4 L2766.0 1412.4 L2766.5 1414.1 L2767.0 1413.5 L2767.5 1408.6 L2768.0 1410.7 L2768.5 1413.9 L2769.0 1414.4 L2769.5 1415.1 L2770.0 1416.6 L2770.5 1411.8 L2771.0 1410.8 L2771.5 1410.2 L2772.0 1413.1 L2772.5 1410.5 L2773.0 1410.2 L2773.5 1410.6 L2774.0 1408.0 L2774.5 1408.9 L2775.0 1408.6 L2775.5 1409.0 L2776.0 1409.3 L2776.5 1409.8 L2777.0 1406.4 L2777.5 1409.2 L2778.0 1406.2 L2778.5 1409.7 L2779.0 1405.9 L2779.5 1408.0 L2780.0 1408.4 L2780.5 1410.8 L2781.0 1409.6 L2781.5 1411.0 L2782.0 1407.3 L2782.5 1411.0 L2783.0 1409.5 L2783.5 1410.9 L2784.0 1408.8 L2784.5 1410.2 L2785.0 1412.6 L2785.5 1414.3 L2786.0 1415.2 L2786.5 1412.7 L2787.0 1411.1 L2787.5 1412.3 L2788.0 1411.7 L2788.5 1413.5 L2789.0 1416.4 L2789.5 1418.2 L2790.0 1413.7 L2790.5 1410.0 L2791.0 1409.4 L2791.5 1413.8 L2792.0 1408.5 L2792.5 1413.6 L2793.0 1416.4 L2793.5 1418.0 L2794.0 1417.3 L2794.5 1414.6 L2795.0 1411.8 L2795.5 1413.3 L2796.0 1415.6 L2796.5 1416.8 L2797.0 1419.3 L2797.5 1417.2 L2798.0 1417.6 L2798.5 1415.5 L2799.0 1412.9 L2799.5 1414.3 L2800.0 1410.5 L2800.5 1413.6 L2801.0 1416.4 L2801.5 1413.0 L2802.0 1408.9 L2802.5 1413.2 L2803.0 1411.8 L2803.5 1413.7 L2804.0 1410.2 L2804.5 1412.7 L2805.0 1413.2 L2805.5 1416.5 L2806.0 1413.0 L2806.5 1412.9 L2807.0 1410.6 L2807.5 1406.8 L2808.0 1415.2 L2808.5 1408.7 L2809.0 1415.8 L2809.5 1413.7 L2809.7 1409.2 L2810.9 1403.4 L2811.5 1400.3 L2812.1 1403.4 L2813.3 1409.2 L2813.5 1411.7 L2814.0 1408.3 L2814.5 1408.6 L2815.0 1408.5 L2815.5 1410.4 L2816.0 1414.6 L2816.5 1414.1 L2817.0 1415.4 L2817.5 1413.0 L2818.0 1414.1 L2818.5 1413.9 L2819.0 1410.9 L2819.5 1410.7 L2820.0 1411.5 L2820.5 1409.9 L2821.0 1412.7 L2821.5 1410.4 L2822.0 1410.4 L2822.5 1409.1 L2823.0 1410.5 L2823.5 1412.3 L2824.0 1411.3 L2824.5 1411.2 L2825.0 1409.3 L2825.5 1411.5 L2826.0 1411.2 L2826.5 1413.1 L2827.0 1407.4 L2827.5 1410.6 L2828.0 1411.7 L2828.5 1409.6 L2829.0 1408.2 L2829.5 1408.6 L2830.0 1409.8 L2830.5 1407.7 L2831.0 1411.1 L2831.5 1411.5 L2832.0 1411.5 L2832.5 1409.4 L2833.0 1409.7 L2833.5 1410.1 L2834.0 1408.9 L2834.5 1409.2 L2835.0 1410.5 L2835.5 1410.6 L2836.0 1410.6 L2836.5 1413.1 L2837.0 1411.1 L2837.5 1409.9 L2838.0 1408.1 L2838.5 1409.4 L2839.0 1407.2 L2839.5 1407.0 L2840.0 1410.5 L2840.5 1410.9 L2841.0 1412.3 L2841.5 1408.1 L2842.0 1410.5 L2842.5 1412.2 L2843.0 1409.5 L2843.5 1410.4 L2844.0 1407.5 L2844.5 1410.3 L2845.0 1407.1 L2845.5 1404.8 L2846.0 1406.9 L2846.5 1414.8 L2847.0 1408.6 L2847.5 1411.1 L2848.0 1407.6 L2848.5 1409.8 L2849.0 1407.6 L2849.5 1405.0 L2850.0 1407.8 L2850.5 1408.4 L2851.0 1407.2 L2851.5 1409.5 L2852.0 1403.6 L2852.5 1408.5 L2853.0 1407.6 L2853.5 1409.3 L2854.0 1406.5 L2854.5 1407.4 L2855.7 1177.2 L2856.2 1053.3 L2856.8 1177.2 L2858.0 1407.4 L2858.5 1406.8 L2859.0 1406.6 L2859.5 1402.3 L2860.0 1408.0 L2860.3 1406.2 L2861.5 1096.4 L2862.1 929.6 L2862.7 1096.4 L2863.4 1405.6 L2864.6 1133.1 L2865.2 1405.2 L2866.4 1164.9 L2867.0 1035.4 L2867.6 1164.9 L2868.4 1404.6 L2869.6 1366.1 L2870.2 1345.4 L2870.8 1366.1 L2872.0 1404.6 L2872.0 1402.3 L2872.5 1407.4 L2873.0 1407.1 L2873.5 1406.1 L2874.0 1405.8 L2874.5 1404.9 L2875.0 1405.5 L2875.5 1404.7 L2876.0 1402.5 L2876.5 1403.5 L2877.0 1403.8 L2877.5 1403.1 L2878.0 1400.3 L2878.5 1404.6 L2879.0 1407.5 L2879.5 1409.4 L2880.0 1406.7 L2880.5 1405.2 L2881.0 1404.0 L2881.5 1405.4 L2882.0 1401.9 L2882.5 1403.6 L2883.0 1403.1 L2883.5 1401.6 L2884.0 1401.1 L2884.5 1399.5 L2885.0 1397.1 L2885.5 1395.2 L2886.0 1396.0 L2886.5 1396.4 L2887.0 1395.5 L2887.5 1392.9 L2888.0 1391.2 L2888.5 1388.2 L2889.0 1388.8 L2889.5 1386.5 L2890.0 1385.0 L2890.5 1384.2 L2891.0 1387.6 L2891.5 1385.9 L2892.0 1386.8 L2892.5 1389.7 L2893.0 1392.0 L2893.5 1390.8 L2894.0 1394.3 L2894.5 1396.0 L2895.0 1392.0 L2895.5 1396.3 L2896.0 1397.9 L2896.5 1396.4 L2896.9 1393.9 L2898.0 1350.4 L2898.5 1327.0 L2899.0 1350.4 L2900.1 1393.9 L2900.4 1393.4 L2900.7 1392.2 L2901.1 1392.7 L2901.4 1395.7 L2901.8 1397.0 L2902.2 1393.8 L2902.5 1394.5 L2902.9 1394.6 L2903.2 1391.1 L2903.6 1392.4 L2904.0 1394.8 L2904.3 1392.5 L2904.7 1395.0 L2905.0 1394.8 L2905.4 1399.6 L2905.8 1396.0 L2906.1 1394.1 L2906.5 1395.6 L2906.8 1396.4 L2907.2 1394.8 L2907.6 1393.7 L2907.9 1394.8 L2908.3 1393.7 L2908.6 1397.9 L2909.0 1399.4 L2909.4 1397.1 L2909.7 1392.6 L2910.1 1397.0 L2910.4 1397.8 L2910.8 1397.4 L2911.2 1398.6 L2911.5 1396.1 L2911.9 1394.9 L2912.2 1398.7 L2912.6 1395.7 L2913.0 1394.7 L2913.3 1391.7 L2913.7 1395.1 L2914.0 1395.3 L2914.4 1393.1 L2914.8 1396.3 L2915.1 1395.1 L2915.5 1391.1 L2915.8 1394.7 L2916.2 1397.3 L2916.6 1396.9 L2916.9 1395.0 L2917.3 1397.2 L2917.6 1396.4 L2918.0 1395.8 L2918.4 1395.9 L2918.7 1393.2 L2919.1 1396.4 L2919.4 1393.2 L2919.8 1391.6 L2920.2 1393.8 L2920.5 1396.4 L2920.9 1396.1 L2921.2 1395.1 L2921.6 1394.3 L2922.0 1394.4 L2922.3 1395.0 L2922.7 1394.2 L2923.0 1395.8 L2923.4 1394.0 L2923.8 1397.4 L2924.1 1394.7 L2924.5 1395.3 L2924.8 1393.9 L2925.2 1393.5 L2925.6 1392.2 L2925.9 1392.3 L2926.3 1395.8 L2926.6 1391.7 L2927.0 1393.3 L2927.4 1398.3 L2927.6 1394.8 L2928.8 1367.7 L2929.4 1353.1 L2930.0 1367.7 L2931.2 1394.8 L2931.3 1394.0 L2931.7 1397.3 L2932.0 1392.5 L2932.4 1395.3 L2932.8 1392.7 L2933.1 1390.9 L2933.5 1394.0 L2933.6 1393.6 L2934.8 1378.7 L2935.4 1370.7 L2936.0 1378.7 L2937.2 1393.6 L2937.4 1392.2 L2937.8 1391.1 L2938.2 1390.3 L2938.5 1396.1 L2938.9 1393.6 L2939.2 1395.6 L2939.6 1393.3 L2940.0 1391.3 L2940.3 1393.5 L2940.7 1392.2 L2941.0 1395.5 L2941.4 1393.3 L2941.8 1390.3 L2942.1 1391.5 L2942.5 1395.3 L2942.8 1391.1 L2943.2 1393.9 L2943.6 1393.6 L2943.9 1395.1 L2944.3 1393.7 L2944.6 1392.6 L2945.0 1391.0 L2945.4 1391.3 L2945.7 1392.1 L2946.1 1393.2 L2946.4 1394.8 L2946.8 1393.5 L2947.2 1396.3 L2947.5 1394.5 L2947.9 1392.0 L2948.2 1393.8 L2948.6 1391.9 L2949.0 1394.4 L2949.3 1391.1 L2949.7 1389.4 L2950.0 1392.2 L2950.4 1393.4 L2950.8 1392.2 L2951.1 1394.6 L2951.5 1392.8 L2951.8 1398.9 L2952.2 1397.5 L2952.6 1397.7 L2952.9 1394.8 L2953.3 1394.4 L2953.6 1394.1 L2954.0 1394.5 L2954.4 1391.2 L2954.7 1395.5 L2955.1 1389.9 L2955.4 1389.7 L2955.8 1389.4 L2956.2 1390.3 L2956.5 1393.2 L2956.9 1391.2 L2957.2 1390.6 L2957.6 1389.1 L2958.0 1387.4 L2958.3 1386.2 L2958.7 1390.8 L2959.0 1390.9 L2959.4 1389.1 L2959.8 1391.4 L2960.1 1391.1 L2960.5 1388.1 L2960.8 1387.6 L2961.2 1390.3 L2961.6 1391.9 L2961.9 1388.9 L2962.3 1390.4 L2962.6 1391.2 L2963.0 1391.1 L2963.4 1389.1 L2963.7 1389.7 L2964.1 1389.9 L2964.4 1387.5 L2964.8 1388.0 L2965.2 1387.2 L2965.5 1384.8 L2965.9 1386.7 L2966.2 1386.6 L2966.6 1385.1 L2967.0 1387.8 L2967.3 1389.5 L2967.7 1389.0 L2968.0 1386.6 L2968.4 1384.5 L2968.8 1387.7 L2969.1 1385.4 L2969.5 1388.5 L2969.8 1386.2 L2970.2 1387.0 L2970.6 1385.9 L2970.9 1386.3 L2971.3 1388.0 L2971.6 1387.7 L2972.0 1384.7 L2972.4 1388.5 L2972.7 1388.3 L2973.1 1387.1 L2973.4 1384.1 L2973.8 1383.4 L2974.2 1382.6 L2974.5 1382.2 L2974.9 1384.9 L2975.2 1383.8 L2975.6 1382.8 L2976.0 1383.0 L2976.3 1383.0 L2976.7 1380.2 L2977.0 1382.4 L2977.4 1381.6 L2977.8 1379.9 L2978.1 1380.3 L2978.5 1376.6 L2978.8 1381.2 L2979.2 1380.4 L2979.6 1380.7 L2979.9 1378.4 L2980.3 1379.5 L2980.6 1379.1 L2981.0 1375.4 L2981.4 1376.7 L2981.7 1380.5 L2982.1 1376.8 L2982.4 1375.3 L2982.8 1374.4 L2983.2 1374.1 L2983.5 1371.2 L2983.9 1366.0 L2984.2 1367.3 L2984.6 1367.3 L2985.0 1365.9 L2985.3 1360.9 L2985.7 1360.9 L2986.0 1361.3 L2986.4 1364.0 L2986.8 1364.3 L2987.1 1368.6 L2987.5 1369.2 L2987.8 1368.4 L2988.2 1368.6 L2988.6 1370.7 L2988.9 1373.6 L2989.3 1373.4 L2989.6 1375.4 L2990.0 1378.7 L2990.4 1378.3 L2990.7 1376.1 L2991.1 1380.0 L2991.4 1384.4 L2991.8 1379.9 L2992.1 1380.8 L2993.3 1370.7 L2993.9 1365.3 L2994.5 1370.7 L2995.7 1380.8 L2995.8 1382.9 L2996.1 1382.3 L2996.5 1381.2 L2996.8 1378.4 L2997.2 1381.7 L2997.6 1380.9 L2997.9 1385.3 L2998.3 1382.5 L2998.6 1385.3 L2999.0 1382.5 L2999.4 1382.9 L2999.7 1381.2 L3000.1 1381.2 L3000.4 1382.1 L3000.8 1379.7 L3001.2 1380.2 L3001.5 1382.9 L3001.9 1378.7 L3002.2 1378.5 L3002.6 1380.3 L3003.0 1380.3 L3003.3 1380.2 L3003.7 1378.8 L3004.0 1379.9 L3004.4 1378.2 L3004.8 1377.0 L3005.1 1373.9 L3005.5 1374.6 L3005.8 1376.0 L3006.2 1378.6 L3006.6 1376.2 L3006.9 1379.5 L3007.0 1373.5 L3008.2 1372.6 L3008.8 1372.1 L3009.4 1372.6 L3010.6 1373.5 L3010.9 1374.8 L3011.2 1369.9 L3011.6 1368.7 L3012.0 1369.9 L3012.3 1369.6 L3012.7 1370.5 L3013.0 1369.4 L3013.4 1371.5 L3013.8 1369.6 L3014.1 1370.6 L3014.5 1369.0 L3014.8 1370.7 L3015.2 1373.4 L3015.6 1374.8 L3015.9 1376.2 L3016.3 1372.7 L3016.6 1372.3 L3017.0 1373.4 L3017.4 1374.2 L3017.7 1373.6 L3018.1 1376.0 L3018.4 1374.9 L3018.8 1377.2 L3019.2 1380.1 L3019.5 1378.6 L3019.9 1379.4 L3020.2 1377.4 L3020.6 1375.6 L3021.0 1373.5 L3021.3 1378.6 L3021.7 1381.3 L3022.0 1374.0 L3022.4 1374.3 L3022.8 1375.4 L3023.1 1374.7 L3023.5 1375.0 L3023.8 1377.4 L3024.2 1376.4 L3024.6 1377.8 L3024.9 1373.8 L3025.3 1374.9 L3025.6 1378.8 L3026.0 1375.7 L3026.4 1372.7 L3026.7 1373.8 L3027.1 1375.0 L3027.4 1370.9 L3027.8 1374.6 L3028.2 1376.5 L3028.5 1374.8 L3028.9 1374.8 L3029.2 1374.7 L3029.6 1374.5 L3030.0 1372.4 L3030.3 1373.0 L3030.7 1375.2 L3031.0 1376.0 L3031.4 1375.7 L3031.8 1373.1 L3032.1 1374.8 L3032.5 1376.0 L3032.8 1377.0 L3033.2 1376.1 L3033.6 1374.7 L3033.9 1373.8 L3034.3 1374.9 L3034.6 1375.7 L3035.0 1370.0 L3035.4 1370.8 L3035.7 1372.9 L3036.1 1374.8 L3036.4 1371.1 L3036.8 1370.0 L3037.2 1368.7 L3037.5 1373.8 L3037.9 1374.1 L3038.2 1372.5 L3038.6 1377.2 L3039.0 1377.3 L3039.3 1375.3 L3039.7 1373.7 L3040.0 1372.2 L3040.2 1371.2 L3041.4 1163.1 L3042.0 1370.3 L3043.2 1102.7 L3043.8 958.7 L3044.3 1102.7 L3045.5 1370.3 L3045.8 1367.4 L3046.2 1370.9 L3046.4 1368.1 L3047.6 1129.5 L3048.2 1001.1 L3048.8 1129.5 L3050.0 1368.1 L3050.1 1365.1 L3050.5 1364.2 L3050.8 1364.6 L3051.2 1363.7 L3051.3 1365.6 L3052.5 1115.6 L3053.1 981.0 L3053.7 1115.6 L3054.9 1365.6 L3055.2 1363.5 L3055.5 1363.7 L3055.9 1365.2 L3056.2 1363.4 L3056.6 1361.8 L3057.0 1366.1 L3057.3 1364.8 L3057.7 1364.8 L3058.0 1365.5 L3058.4 1366.3 L3058.8 1366.1 L3059.1 1363.3 L3059.5 1363.3 L3059.8 1365.6 L3060.1 1363.9 L3061.3 1348.0 L3061.9 1339.5 L3062.5 1348.0 L3063.7 1363.9 L3063.8 1362.0 L3064.2 1363.2 L3064.5 1363.1 L3064.9 1361.9 L3065.2 1363.1 L3065.6 1360.3 L3066.0 1361.5 L3066.3 1362.0 L3066.7 1364.9 L3067.0 1362.5 L3067.4 1361.1 L3067.8 1362.7 L3068.1 1359.4 L3068.5 1359.7 L3068.8 1363.8 L3069.2 1363.3 L3069.6 1361.3 L3069.9 1361.6 L3070.3 1357.5 L3070.6 1360.1 L3071.0 1357.8 L3071.4 1358.4 L3071.7 1357.7 L3072.1 1358.0 L3072.4 1356.4 L3072.8 1353.4 L3073.2 1351.2 L3073.5 1351.2 L3073.9 1354.5 L3074.2 1354.0 L3074.6 1352.4 L3075.0 1357.2 L3075.3 1356.8 L3075.7 1355.1 L3076.0 1354.1 L3076.4 1357.3 L3076.8 1357.0 L3077.1 1355.0 L3077.5 1356.6 L3077.8 1354.5 L3078.2 1359.5 L3078.6 1358.1 L3078.9 1358.5 L3079.3 1357.0 L3079.6 1356.2 L3080.0 1357.8 L3080.4 1357.1 L3080.7 1355.6 L3081.1 1358.9 L3081.4 1357.3 L3081.8 1354.2 L3082.2 1355.4 L3082.5 1353.8 L3082.9 1352.2 L3083.2 1348.7 L3083.6 1349.7 L3084.0 1345.4 L3084.3 1345.1 L3084.7 1348.4 L3085.0 1347.0 L3085.4 1342.6 L3085.8 1341.3 L3086.1 1342.0 L3086.5 1342.6 L3086.8 1340.3 L3087.2 1338.9 L3087.6 1341.5 L3087.9 1344.1 L3088.3 1341.1 L3088.6 1342.8 L3089.0 1346.6 L3089.4 1347.9 L3089.7 1346.1 L3090.1 1345.0 L3090.4 1351.3 L3090.8 1351.5 L3091.2 1353.1 L3091.5 1353.5 L3091.9 1356.5 L3092.2 1356.7 L3092.6 1356.8 L3093.0 1351.7 L3093.3 1351.4 L3093.7 1352.7 L3094.0 1350.9 L3094.4 1350.1 L3094.8 1352.2 L3095.1 1349.7 L3095.5 1346.0 L3095.8 1349.9 L3096.2 1349.6 L3096.6 1348.8 L3096.9 1349.5 L3097.3 1350.1 L3097.6 1349.5 L3098.0 1350.9 L3098.4 1350.0 L3098.7 1351.5 L3099.1 1354.8 L3099.4 1351.8 L3099.8 1347.3 L3100.2 1353.2 L3100.5 1353.3 L3100.9 1351.6 L3101.2 1353.2 L3101.6 1349.9 L3102.0 1352.5 L3102.3 1347.4 L3102.7 1350.2 L3103.0 1351.9 L3103.4 1348.8 L3103.8 1349.0 L3104.1 1348.5 L3104.5 1344.0 L3104.8 1344.6 L3105.2 1347.8 L3105.6 1345.5 L3105.9 1348.1 L3106.3 1344.7 L3106.6 1342.3 L3107.0 1341.4 L3107.4 1340.0 L3107.7 1337.7 L3108.1 1341.1 L3108.4 1345.2 L3108.8 1343.0 L3109.2 1342.8 L3109.5 1343.7 L3109.9 1347.5 L3110.2 1349.2 L3110.6 1347.2 L3111.0 1349.2 L3111.3 1351.1 L3111.7 1350.2 L3112.0 1349.7 L3112.4 1352.1 L3112.8 1350.4 L3113.1 1352.2 L3113.5 1354.1 L3113.8 1356.9 L3114.2 1356.9 L3114.6 1356.6 L3114.9 1354.5 L3115.3 1356.8 L3115.6 1356.2 L3116.0 1359.5 L3116.4 1357.4 L3116.7 1356.8 L3117.1 1355.6 L3117.4 1356.1 L3117.8 1357.3 L3118.2 1355.1 L3118.5 1355.8 L3118.9 1354.6 L3119.2 1354.2 L3119.6 1357.5 L3120.0 1356.3 L3120.3 1356.5 L3120.7 1358.0 L3121.0 1356.6 L3121.4 1356.9 L3121.8 1357.5 L3122.1 1356.8 L3122.5 1356.5 L3122.8 1360.0 L3123.2 1360.0 L3123.6 1360.4 L3123.9 1357.2 L3124.3 1357.8 L3124.6 1360.2 L3125.0 1361.0 L3125.4 1358.4 L3125.7 1360.0 L3126.1 1362.2 L3126.4 1361.4 L3126.8 1359.6 L3127.2 1358.2 L3127.5 1355.7 L3127.9 1357.3 L3128.2 1358.4 L3128.6 1358.4 L3129.0 1358.0 L3129.3 1359.4 L3129.7 1360.4 L3130.0 1356.9 L3130.4 1357.6 L3130.8 1357.5 L3131.1 1357.6 L3131.5 1356.6 L3131.8 1357.9 L3132.2 1359.2 L3132.6 1356.7 L3132.9 1356.1 L3133.3 1358.4 L3133.6 1355.1 L3134.0 1357.0 L3134.4 1356.4 L3134.7 1354.7 L3135.1 1356.0 L3135.4 1355.3 L3135.8 1356.2 L3136.2 1356.5 L3136.5 1355.3 L3136.9 1355.7 L3137.2 1355.5 L3137.6 1356.1 L3138.0 1352.0 L3138.3 1353.5 L3138.7 1355.3 L3139.0 1354.4 L3139.4 1356.2 L3139.8 1353.9 L3140.1 1353.3 L3140.5 1353.8 L3140.8 1351.3 L3141.2 1356.9 L3141.6 1353.2 L3141.9 1353.6 L3142.3 1349.8 L3142.6 1353.0 L3143.0 1351.9 L3143.4 1354.4 L3143.7 1354.1 L3144.1 1356.1 L3144.4 1353.5 L3144.8 1353.7 L3145.2 1353.0 L3145.5 1353.6 L3145.9 1352.1 L3146.2 1352.4 L3146.6 1354.7 L3147.0 1354.9 L3147.3 1351.4 L3147.7 1352.7 L3148.0 1352.9 L3148.4 1350.7 L3148.8 1353.1 L3149.1 1351.3 L3149.5 1352.8 L3149.8 1354.3 L3150.2 1351.9 L3150.6 1353.3 L3150.9 1354.1 L3151.3 1351.8 L3151.6 1353.0 L3152.0 1355.1 L3152.4 1355.0 L3152.7 1351.6 L3153.1 1347.7 L3153.4 1350.0 L3153.8 1349.6 L3154.2 1353.3 L3154.5 1351.2 L3154.9 1354.3 L3155.2 1350.2 L3155.6 1350.1 L3156.0 1351.3 L3156.3 1349.5 L3156.7 1353.8 L3157.0 1350.7 L3157.4 1352.0 L3157.8 1352.0 L3158.1 1354.3 L3158.5 1355.4 L3158.8 1352.4 L3159.2 1352.0 L3159.6 1352.2 L3159.9 1351.0 L3160.3 1352.6 L3160.6 1348.8 L3161.0 1348.7 L3161.4 1347.5 L3161.7 1349.9 L3162.1 1352.5 L3162.4 1351.6 L3162.8 1350.1 L3163.2 1349.8 L3163.5 1352.2 L3163.9 1350.3 L3164.2 1348.9 L3164.6 1349.8 L3165.0 1346.6 L3165.3 1348.4 L3165.7 1349.1 L3166.0 1348.8 L3166.4 1347.9 L3166.8 1352.4 L3167.1 1352.1 L3167.5 1351.6 L3167.8 1351.7 L3168.2 1348.1 L3168.6 1348.5 L3168.9 1348.5 L3169.3 1348.6 L3169.6 1350.0 L3170.0 1349.0 L3170.4 1351.2 L3170.5 1348.4 L3171.6 1278.9 L3171.7 1348.0 L3172.9 1255.8 L3173.5 1206.1 L3174.1 1255.8 L3175.3 1348.0 L3175.4 1347.7 L3175.8 1349.3 L3176.0 1347.1 L3177.1 1292.6 L3177.6 1263.3 L3178.1 1292.6 L3178.1 1346.6 L3179.2 1278.3 L3179.3 1346.3 L3180.5 1250.2 L3181.1 1198.5 L3181.4 1345.8 L3182.5 1301.0 L3182.6 1345.5 L3183.8 1278.8 L3184.4 1242.9 L3185.0 1278.8 L3186.2 1345.5 L3186.2 1346.4 L3186.6 1345.2 L3186.9 1346.0 L3187.3 1347.5 L3187.6 1344.4 L3188.0 1348.2 L3188.4 1344.3 L3188.7 1344.2 L3189.1 1345.7 L3189.4 1343.1 L3189.8 1343.9 L3190.2 1343.5 L3190.5 1344.3 L3190.9 1347.0 L3191.2 1343.3 L3191.6 1342.3 L3192.0 1342.6 L3192.3 1341.7 L3192.7 1341.9 L3193.0 1341.1 L3193.4 1344.6 L3193.8 1343.7 L3194.1 1345.0 L3194.5 1345.0 L3194.8 1342.8 L3196.0 1334.4 L3196.6 1329.9 L3197.2 1334.4 L3198.4 1342.8 L3198.4 1343.5 L3198.8 1340.8 L3199.2 1340.9 L3199.5 1343.3 L3199.9 1340.0 L3200.2 1341.2 L3200.6 1339.7 L3201.0 1341.5 L3201.3 1343.5 L3201.7 1344.6 L3202.0 1341.0 L3202.4 1341.5 L3202.8 1338.4 L3203.1 1341.4 L3203.5 1340.6 L3203.8 1345.0 L3204.2 1340.3 L3204.6 1339.5 L3204.9 1339.8 L3205.3 1342.5 L3205.6 1339.3 L3206.0 1342.3 L3206.4 1340.6 L3206.7 1342.4 L3207.1 1340.4 L3207.4 1339.3 L3207.8 1341.4 L3208.2 1341.0 L3208.5 1340.9 L3208.9 1341.5 L3209.2 1344.4 L3209.6 1345.4 L3210.0 1343.1 L3210.3 1343.3 L3210.7 1340.9 L3211.0 1343.6 L3211.4 1339.5 L3211.8 1338.4 L3212.1 1342.0 L3212.5 1341.6 L3212.8 1342.6 L3213.2 1341.9 L3213.6 1342.2 L3213.9 1343.2 L3214.3 1340.9 L3214.6 1340.1 L3215.0 1340.8 L3215.4 1342.5 L3215.7 1337.8 L3216.1 1339.7 L3216.4 1339.7 L3216.8 1340.0 L3217.2 1338.3 L3217.5 1339.7 L3217.9 1341.2 L3218.2 1338.5 L3218.6 1342.3 L3219.0 1340.9 L3219.3 1340.7 L3219.7 1340.6 L3220.0 1341.4 L3220.4 1337.6 L3220.8 1338.2 L3221.1 1340.0 L3221.5 1337.5 L3221.8 1334.8 L3222.2 1336.8 L3222.6 1334.7 L3222.9 1335.0 L3223.3 1335.3 L3223.6 1334.9 L3224.0 1335.9 L3224.4 1336.8 L3224.7 1334.3 L3225.1 1334.6 L3225.4 1336.4 L3225.8 1332.8 L3226.2 1335.5 L3226.5 1339.5 L3226.9 1337.6 L3227.2 1337.1 L3227.6 1337.7 L3228.0 1337.1 L3228.3 1337.0 L3228.7 1339.2 L3229.0 1333.9 L3229.4 1335.3 L3229.8 1335.2 L3230.1 1336.4 L3230.5 1335.8 L3230.8 1336.8 L3231.2 1336.5 L3231.6 1332.2 L3231.9 1332.7 L3232.3 1334.1 L3232.6 1332.8 L3233.0 1333.7 L3233.4 1336.3 L3233.7 1333.0 L3234.1 1332.8 L3234.4 1335.0 L3234.8 1334.1 L3235.2 1334.9 L3235.5 1337.5 L3235.9 1337.0 L3236.2 1334.5 L3236.6 1335.0 L3237.0 1335.1 L3237.3 1334.8 L3237.7 1332.7 L3238.0 1334.8 L3238.4 1336.8 L3238.8 1333.7 L3239.1 1332.3 L3239.5 1334.8 L3239.8 1335.2 L3240.2 1334.5 L3240.6 1332.1 L3240.9 1334.1 L3241.3 1332.3 L3241.6 1330.1 L3242.0 1331.6 L3242.4 1334.2 L3242.7 1334.5 L3243.1 1334.7 L3243.4 1334.8 L3243.8 1336.4 L3244.2 1332.2 L3244.5 1330.9 L3244.9 1334.0 L3245.2 1334.0 L3245.6 1332.6 L3246.0 1331.8 L3246.3 1332.0 L3246.7 1332.4 L3247.0 1331.3 L3247.4 1330.5 L3247.8 1331.6 L3248.1 1331.8 L3248.5 1330.7 L3248.8 1331.4 L3249.2 1332.5 L3249.6 1336.8 L3249.9 1331.0 L3250.3 1331.3 L3250.6 1328.4 L3251.0 1330.9 L3251.4 1332.4 L3251.7 1333.4 L3252.1 1331.9 L3252.4 1330.7 L3252.8 1332.3 L3253.2 1333.1 L3253.5 1328.8 L3253.9 1329.7 L3254.2 1329.9 L3254.6 1329.6 L3255.0 1328.9 L3255.3 1332.6 L3255.7 1331.6 L3256.0 1331.7 L3256.4 1329.5 L3256.8 1331.5 L3257.1 1329.9 L3257.5 1328.7 L3257.8 1326.2 L3258.2 1329.4 L3258.6 1327.3 L3258.9 1325.7 L3259.3 1328.7 L3259.6 1326.9 L3260.0 1327.5 L3260.4 1329.1 L3260.7 1324.9 L3261.1 1326.2 L3261.4 1326.5 L3261.8 1329.6 L3262.2 1327.7 L3262.5 1328.2 L3262.9 1328.6 L3263.2 1327.6 L3263.6 1327.3 L3264.0 1325.0 L3264.3 1325.2 L3264.7 1325.1 L3265.0 1324.9 L3265.4 1327.3 L3265.8 1327.5 L3266.1 1326.5 L3266.5 1326.3 L3266.8 1325.3 L3267.2 1326.2 L3267.6 1323.8 L3267.9 1325.4 L3268.3 1326.7 L3268.6 1325.1 L3269.0 1323.9 L3269.4 1323.7 L3269.7 1327.5 L3270.1 1323.0 L3270.4 1323.8 L3270.6 1324.8 L3271.7 1291.9 L3272.2 1274.1 L3272.3 1323.8 L3273.5 1279.1 L3274.1 1255.1 L3274.5 1322.9 L3275.6 1284.1 L3275.9 1322.0 L3277.1 1267.6 L3277.7 1238.2 L3278.0 1321.1 L3279.1 1287.0 L3279.4 1320.4 L3280.5 1301.0 L3281.0 1290.5 L3281.1 1319.5 L3282.3 1277.6 L3282.9 1255.1 L3283.5 1277.6 L3284.7 1319.5 L3284.8 1321.8 L3285.2 1320.7 L3285.6 1318.6 L3285.9 1316.9 L3286.3 1317.8 L3286.6 1316.2 L3287.0 1314.1 L3287.4 1314.3 L3287.7 1315.1 L3288.1 1319.5 L3288.4 1317.9 L3288.8 1316.7 L3289.2 1316.6 L3289.5 1315.3 L3289.9 1318.2 L3290.2 1317.7 L3290.6 1319.3 L3291.0 1315.4 L3291.3 1314.4 L3291.7 1318.0 L3292.0 1314.4 L3292.4 1314.9 L3292.8 1316.1 L3293.1 1314.8 L3293.5 1312.8 L3293.8 1314.2 L3294.2 1316.3 L3294.6 1315.9 L3294.9 1314.3 L3295.3 1317.4 L3295.6 1317.3 L3296.0 1316.1 L3296.4 1314.7 L3296.7 1315.7 L3297.1 1314.5 L3297.4 1313.4 L3297.8 1312.3 L3298.2 1314.1 L3298.5 1314.5 L3298.9 1313.7 L3299.2 1314.8 L3299.6 1312.0 L3300.0 1312.7 L3300.3 1309.5 L3300.7 1304.3 L3301.0 1300.8 L3301.4 1297.4 L3301.8 1294.6 L3302.1 1289.8 L3302.5 1284.0 L3302.8 1278.2 L3303.2 1278.2 L3303.6 1277.4 L3303.9 1275.3 L3304.3 1274.8 L3304.6 1275.7 L3305.0 1278.1 L3305.4 1284.9 L3305.7 1288.7 L3306.1 1291.3 L3306.4 1295.1 L3306.8 1299.8 L3307.2 1302.0 L3307.5 1308.0 L3307.9 1314.8 L3308.2 1315.2 L3308.6 1314.4 L3309.0 1313.8 L3309.3 1316.9 L3309.7 1315.1 L3310.0 1314.5 L3310.4 1315.4 L3310.8 1315.6 L3311.1 1316.3 L3311.5 1317.2 L3311.8 1316.1 L3312.2 1314.6 L3312.6 1315.9 L3312.9 1315.0 L3313.3 1315.9 L3313.6 1318.7 L3314.0 1317.2 L3314.4 1317.7 L3314.7 1317.8 L3315.1 1316.7 L3315.4 1316.6 L3315.8 1319.3 L3316.2 1318.1 L3316.5 1316.8 L3316.9 1316.9 L3317.2 1315.7 L3317.6 1316.9 L3318.0 1316.3 L3318.3 1317.6 L3318.7 1316.7 L3319.0 1316.3 L3319.4 1319.0 L3319.8 1316.5 L3320.1 1316.9 L3320.5 1315.1 L3320.8 1318.8 L3321.2 1315.1 L3321.6 1314.9 L3321.9 1314.7 L3322.3 1315.0 L3322.6 1313.2 L3323.0 1313.7 L3323.4 1315.7 L3323.7 1315.3 L3324.1 1316.6 L3324.4 1314.7 L3324.8 1313.3 L3325.2 1313.9 L3325.5 1310.5 L3325.9 1309.1 L3326.2 1308.5 L3326.6 1305.5 L3327.0 1302.5 L3327.3 1302.7 L3327.7 1303.6 L3328.0 1302.3 L3328.4 1302.6 L3328.8 1305.1 L3329.1 1307.7 L3329.5 1305.2 L3329.8 1308.3 L3330.2 1307.4 L3330.6 1305.6 L3330.9 1307.4 L3332.1 1300.8 L3332.7 1297.3 L3333.3 1300.8 L3334.5 1307.4 L3334.5 1308.6 L3334.9 1309.5 L3335.2 1310.4 L3335.6 1310.5 L3336.0 1312.6 L3336.3 1309.7 L3336.7 1310.1 L3337.0 1309.8 L3337.4 1310.2 L3337.8 1311.5 L3338.1 1312.7 L3338.5 1312.1 L3338.8 1310.9 L3339.2 1309.7 L3339.6 1310.0 L3339.9 1314.0 L3340.3 1312.9 L3340.6 1311.6 L3341.0 1308.1 L3341.4 1309.3 L3341.7 1309.4 L3342.1 1307.3 L3342.4 1312.5 L3342.8 1308.5 L3343.2 1309.8 L3343.5 1312.1 L3343.9 1309.9 L3344.2 1311.2 L3344.6 1313.0 L3345.0 1310.6 L3345.3 1308.9 L3345.7 1310.6 L3346.0 1310.2 L3346.4 1308.2 L3346.8 1308.0 L3347.1 1305.4 L3347.5 1306.0 L3347.8 1304.9 L3348.2 1305.9 L3348.6 1300.2 L3348.9 1297.1 L3349.3 1298.8 L3349.6 1299.9 L3350.0 1302.3 L3350.4 1302.8 L3350.7 1300.1 L3351.1 1301.5 L3351.4 1304.5 L3351.8 1301.5 L3352.2 1304.1 L3352.5 1303.4 L3352.9 1304.8 L3353.2 1306.7 L3353.6 1309.5 L3354.0 1308.4 L3354.3 1307.4 L3354.7 1304.7 L3355.0 1302.0 L3355.4 1298.7 L3355.8 1294.0 L3356.1 1291.4 L3356.5 1288.2 L3356.8 1284.0 L3357.2 1279.1 L3357.6 1276.8 L3357.9 1273.1 L3358.3 1269.1 L3358.6 1265.4 L3359.0 1262.1 L3359.4 1258.4 L3359.7 1256.2 L3360.1 1253.2 L3360.4 1248.1 L3360.8 1254.0 L3361.2 1256.6 L3361.5 1259.9 L3361.9 1262.3 L3362.2 1267.0 L3362.6 1267.9 L3363.0 1272.2 L3363.3 1273.5 L3363.7 1280.0 L3364.0 1283.1 L3364.4 1287.2 L3364.8 1287.7 L3365.1 1292.2 L3365.5 1293.8 L3365.8 1296.6 L3366.2 1303.5 L3366.6 1308.0 L3366.9 1309.4 L3367.3 1308.1 L3367.6 1305.4 L3368.0 1304.1 L3368.4 1304.2 L3368.7 1306.2 L3369.1 1305.9 L3369.4 1306.1 L3369.8 1304.5 L3370.2 1303.0 L3370.5 1305.8 L3370.9 1305.0 L3371.2 1304.4 L3371.6 1303.8 L3372.0 1304.9 L3372.3 1303.2 L3372.7 1304.3 L3373.0 1302.5 L3373.4 1305.3 L3373.8 1302.2 L3374.1 1303.4 L3374.5 1303.7 L3374.8 1304.5 L3375.2 1301.7 L3375.6 1302.9 L3375.9 1300.7 L3376.3 1303.1 L3376.6 1302.1 L3377.0 1303.2 L3377.4 1302.2 L3377.7 1303.8 L3378.1 1304.1 L3378.4 1300.9 L3378.8 1302.5 L3379.2 1305.7 L3379.5 1304.7 L3379.9 1301.5 L3380.2 1299.0 L3380.6 1300.7 L3381.0 1300.5 L3381.3 1299.6 L3381.7 1302.6 L3382.0 1302.3 L3382.4 1302.5 L3382.8 1300.5 L3383.1 1302.3 L3383.5 1301.1 L3383.8 1298.9 L3384.2 1301.6 L3384.6 1300.3 L3384.9 1301.1 L3385.3 1300.5 L3385.6 1300.3 L3386.0 1302.1 L3386.4 1302.3 L3386.7 1300.4 L3387.1 1300.3 L3387.4 1300.2 L3387.8 1300.4 L3388.2 1302.0 L3388.5 1298.6 L3388.9 1300.8 L3389.2 1300.9 L3389.6 1300.3 L3390.0 1302.1 L3390.3 1298.9 L3390.7 1299.5 L3391.0 1301.0 L3391.4 1298.9 L3391.8 1297.7 L3392.1 1298.3 L3392.5 1299.7 L3392.8 1302.2 L3393.2 1302.4 L3393.6 1299.9 L3393.9 1301.0 L3394.3 1299.7 L3394.6 1299.2 L3395.0 1301.4 L3395.4 1302.0 L3395.7 1301.2 L3396.1 1301.8 L3396.4 1301.6 L3396.8 1300.7 L3397.2 1300.1 L3397.5 1299.9 L3397.9 1300.2 L3398.2 1299.4 L3398.6 1300.8 L3399.0 1301.0 L3399.3 1300.3 L3399.7 1299.0 L3400.0 1298.6 L3400.4 1299.1 L3400.8 1298.5 L3401.1 1299.1 L3401.5 1297.8 L3401.8 1299.5 L3402.2 1298.7 L3402.6 1299.1 L3402.9 1299.8 L3403.3 1299.3 L3403.6 1301.1 L3404.0 1301.5 L3404.4 1297.3 L3404.7 1298.6 L3405.1 1297.8 L3405.4 1296.7 L3405.7 1298.0 L3406.9 1281.6 L3407.5 1272.8 L3408.1 1281.6 L3409.3 1298.0 L3409.4 1298.2 L3409.8 1295.1 L3410.1 1295.5 L3410.5 1293.5 L3410.8 1297.9 L3411.2 1297.4 L3411.6 1297.4 L3411.9 1296.5 L3412.3 1296.7 L3412.6 1297.8 L3413.0 1293.8 L3413.4 1296.5 L3413.7 1295.1 L3414.1 1295.4 L3414.4 1295.2 L3414.8 1295.1 L3415.2 1298.1 L3415.5 1294.0 L3415.9 1297.1 L3416.2 1294.9 L3416.6 1294.7 L3417.0 1294.7 L3417.3 1292.1 L3417.7 1291.8 L3418.0 1292.3 L3418.4 1292.9 L3418.8 1292.5 L3419.1 1292.4 L3419.5 1294.1 L3419.8 1294.5 L3420.2 1293.9 L3420.6 1291.1 L3420.9 1290.2 L3421.3 1290.0 L3421.6 1288.6 L3422.0 1287.4 L3422.4 1287.7 L3422.7 1286.7 L3423.1 1284.9 L3423.4 1286.9 L3423.8 1285.6 L3424.2 1282.2 L3424.5 1283.8 L3424.9 1281.4 L3425.2 1278.4 L3425.6 1279.5 L3426.0 1283.6 L3426.3 1280.8 L3426.7 1282.5 L3427.0 1283.7 L3427.4 1285.2 L3427.8 1283.5 L3428.1 1283.1 L3428.5 1285.0 L3428.8 1288.2 L3429.2 1287.5 L3429.4 1287.8 L3430.6 1262.6 L3431.2 1249.1 L3431.7 1287.8 L3432.8 1271.8 L3433.3 1263.3 L3433.7 1287.8 L3434.9 1255.0 L3435.5 1237.4 L3435.8 1287.8 L3436.9 1264.8 L3437.0 1287.8 L3438.2 1251.0 L3438.8 1231.2 L3439.4 1251.0 L3440.6 1287.8 L3440.7 1289.0 L3441.1 1290.0 L3441.4 1290.8 L3441.8 1287.4 L3442.2 1288.6 L3442.5 1284.9 L3442.9 1288.7 L3443.2 1288.0 L3443.6 1288.0 L3444.0 1287.6 L3444.3 1288.7 L3444.7 1288.5 L3445.0 1286.2 L3445.4 1285.5 L3445.8 1284.7 L3446.1 1287.9 L3446.5 1289.1 L3446.8 1290.7 L3447.2 1288.9 L3447.6 1288.3 L3447.9 1287.9 L3448.3 1290.5 L3448.6 1287.4 L3449.0 1288.2 L3449.4 1286.4 L3449.7 1288.2 L3450.1 1287.3 L3450.4 1287.4 L3450.8 1289.5 L3451.2 1286.6 L3451.5 1285.4 L3451.9 1284.1 L3452.2 1285.2 L3452.6 1285.1 L3453.0 1284.7 L3453.3 1286.3 L3453.7 1286.3 L3454.0 1288.1 L3454.4 1286.3 L3454.8 1284.3 L3455.1 1287.8 L3455.5 1285.0 L3455.8 1284.5 L3456.2 1283.7 L3456.6 1286.4 L3456.9 1286.3 L3457.3 1286.0 L3457.6 1287.2 L3458.0 1283.9 L3458.4 1285.6 L3458.7 1287.0 L3459.1 1284.8 L3459.4 1286.4 L3459.8 1286.1 L3460.2 1284.5 L3460.5 1282.4 L3460.9 1285.7 L3461.2 1287.0 L3461.6 1286.0 L3462.0 1282.7 L3462.3 1281.3 L3462.7 1279.9 L3463.0 1282.6 L3463.4 1282.1 L3463.8 1284.8 L3464.1 1283.7 L3464.5 1285.1 L3464.8 1283.5 L3465.2 1283.6 L3465.6 1281.2 L3465.9 1283.0 L3466.3 1282.9 L3466.6 1283.0 L3467.0 1282.3 L3467.4 1280.8 L3467.5 1281.4 L3468.7 1207.3 L3469.1 1280.5 L3470.3 1210.9 L3470.9 1173.5 L3471.5 1210.9 L3472.7 1280.5 L3472.8 1280.3 L3473.1 1279.4 L3473.5 1279.1 L3473.8 1279.0 L3474.2 1281.0 L3474.6 1280.8 L3474.9 1279.6 L3475.3 1281.6 L3475.6 1283.0 L3476.0 1280.8 L3476.4 1279.3 L3476.7 1281.0 L3477.1 1281.2 L3477.4 1280.9 L3477.8 1281.2 L3478.2 1280.3 L3478.5 1281.7 L3478.9 1280.7 L3479.2 1277.5 L3479.6 1279.9 L3480.0 1281.2 L3480.3 1280.7 L3480.7 1280.9 L3481.0 1279.7 L3481.4 1277.8 L3481.8 1279.3 L3482.1 1280.1 L3482.5 1277.8 L3482.8 1278.9 L3483.2 1278.2 L3483.6 1275.3 L3483.9 1277.3 L3484.3 1275.7 L3484.6 1276.3 L3485.0 1272.6 L3485.4 1276.4 L3485.7 1275.4 L3486.1 1275.8 L3486.4 1274.8 L3486.8 1273.4 L3487.2 1274.2 L3487.5 1272.6 L3487.9 1274.0 L3488.2 1275.1 L3488.6 1273.9 L3489.0 1272.0 L3489.3 1274.6 L3489.7 1272.5 L3490.0 1273.2 L3490.4 1273.6 L3490.8 1273.6 L3490.9 1273.3 L3492.1 1261.0 L3492.7 1254.3 L3493.3 1261.0 L3494.5 1273.3 L3494.7 1271.1 L3495.1 1271.6 L3495.4 1272.2 L3495.8 1272.4 L3496.2 1272.4 L3496.5 1271.8 L3496.9 1272.3 L3497.2 1271.2 L3497.6 1273.1 L3498.0 1272.4 L3498.3 1272.1 L3498.7 1273.8 L3499.0 1272.7 L3499.4 1273.9 L3499.8 1274.8 L3500.1 1274.8 L3500.5 1273.7 L3500.8 1274.7 L3501.2 1273.6 L3501.6 1273.9 L3501.9 1274.0 L3502.3 1274.0 L3502.6 1273.3 L3503.0 1273.9 L3503.4 1276.8 L3503.7 1275.1 L3504.1 1276.5 L3504.4 1274.6 L3504.8 1274.6 L3505.2 1274.7 L3505.5 1273.4 L3505.9 1274.2 L3506.2 1275.5 L3506.6 1275.1 L3507.0 1272.9 L3507.3 1273.7 L3507.7 1274.1 L3508.0 1273.7 L3508.4 1272.4 L3508.8 1272.7 L3509.1 1272.2 L3509.5 1273.7 L3509.8 1274.9 L3510.2 1271.7 L3510.6 1272.5 L3510.9 1273.1 L3511.3 1270.7 L3511.6 1270.3 L3512.0 1270.3 L3512.4 1270.5 L3512.7 1270.5 L3513.1 1269.8 L3513.4 1268.2 L3513.8 1270.9 L3514.2 1270.8 L3514.5 1273.4 L3514.9 1271.1 L3515.2 1269.3 L3515.6 1269.9 L3516.0 1271.5 L3516.3 1270.5 L3516.7 1269.3 L3517.0 1270.9 L3517.4 1271.1 L3517.8 1270.7 L3518.1 1270.5 L3518.5 1270.0 L3518.8 1270.5 L3519.2 1270.1 L3519.6 1269.4 L3519.9 1269.3 L3520.3 1269.3 L3520.6 1270.2 L3521.0 1270.0 L3521.4 1272.0 L3521.7 1270.5 L3522.1 1270.8 L3522.4 1270.3 L3522.8 1267.6 L3523.2 1269.4 L3523.5 1265.8 L3523.9 1262.2 L3524.2 1258.6 L3524.6 1254.0 L3525.0 1250.8 L3525.3 1249.1 L3525.7 1241.8 L3526.0 1239.3 L3526.4 1239.7 L3526.8 1238.9 L3527.1 1236.7 L3527.5 1235.4 L3527.8 1234.0 L3528.2 1234.0 L3528.6 1233.8 L3528.9 1233.0" stroke="#000" stroke-width="2.08" fill="none" stroke-linejoin="round"/>
</g>
<rect x="360" y="288" width="3168" height="1704" fill="none" stroke="#808080" stroke-width="2.2"/>
<path d="M359.9 1992 v5.6 M446.0 1992 v5.6 M518.8 1992 v5.6 M581.9 1992 v5.6 M637.5 1992 v5.6 M1014.7 1992 v5.6 M1206.2 1992 v5.6 M1342.1 1992 v5.6 M1447.5 1992 v5.6 M1533.7 1992 v5.6 M1606.5 1992 v5.6 M1669.5 1992 v5.6 M1725.2 1992 v5.6 M2102.4 1992 v5.6 M2293.9 1992 v5.6 M2429.8 1992 v5.6 M2535.2 1992 v5.6 M2621.3 1992 v5.6 M2694.1 1992 v5.6 M2757.2 1992 v5.6 M2812.8 1992 v5.6 M3190.0 1992 v5.6 M3381.5 1992 v5.6 M3517.4 1992 v5.6 M360 1982.6 h-5.6 M360 1967.8 h-5.6 M360 1954.9 h-5.6 M360 1943.6 h-5.6 M360 1866.8 h-5.6 M360 1827.8 h-5.6 M360 1800.2 h-5.6 M360 1778.7 h-5.6 M360 1761.2 h-5.6 M360 1746.4 h-5.6 M360 1733.5 h-5.6 M360 1722.2 h-5.6 M360 1645.4 h-5.6 M360 1606.4 h-5.6 M360 1578.8 h-5.6 M360 1557.3 h-5.6 M360 1539.8 h-5.6 M360 1524.9 h-5.6 M360 1512.1 h-5.6 M360 1500.8 h-5.6 M360 1424.0 h-5.6 M360 1385.0 h-5.6 M360 1357.3 h-5.6 M360 1335.9 h-5.6 M360 1318.4 h-5.6 M360 1303.5 h-5.6 M360 1290.7 h-5.6 M360 1279.4 h-5.6 M360 1202.6 h-5.6 M360 1163.6 h-5.6 M360 1135.9 h-5.6 M360 1114.5 h-5.6 M360 1096.9 h-5.6 M360 1082.1 h-5.6 M360 1069.3 h-5.6 M360 1058.0 h-5.6 M360 981.2 h-5.6 M360 942.2 h-5.6 M360 914.5 h-5.6 M360 893.1 h-5.6 M360 875.5 h-5.6 M360 860.7 h-5.6 M360 847.9 h-5.6 M360 836.6 h-5.6 M360 759.8 h-5.6 M360 720.8 h-5.6 M360 693.1 h-5.6 M360 671.7 h-5.6 M360 654.1 h-5.6 M360 639.3 h-5.6 M360 626.5 h-5.6 M360 615.1 h-5.6 M360 538.4 h-5.6 M360 499.4 h-5.6 M360 471.7 h-5.6 M360 450.3 h-5.6 M360 432.7 h-5.6 M360 417.9 h-5.6 M360 405.1 h-5.6 M360 393.7 h-5.6 M360 316.9 h-5.6" stroke="#000" stroke-width="1.9" fill="none"/>
<path d="M687.3 1992 v9.7 M1775.0 1992 v9.7 M2862.6 1992 v9.7 M360 1933.5 h-9.7 M360 1712.1 h-9.7 M360 1490.7 h-9.7 M360 1269.2 h-9.7 M360 1047.8 h-9.7 M360 826.4 h-9.7 M360 605.0 h-9.7 M360 383.6 h-9.7" stroke="#000" stroke-width="2.2" fill="none"/>
<text transform="translate(183.26,1959.87) scale(0.9681,1.0350)" font-size="69.4">10</text>
<text transform="translate(258.48,1934.87) scale(1.0077,1.0400)" font-size="48.6">−22</text>
<text transform="translate(183.26,1738.46) scale(0.9681,1.0350)" font-size="69.4">10</text>
<text transform="translate(258.48,1713.46) scale(1.0077,1.0400)" font-size="48.6">−21</text>
<text transform="translate(183.26,1517.05) scale(0.9681,1.0350)" font-size="69.4">10</text>
<text transform="translate(258.51,1492.05) scale(0.9949,1.0400)" font-size="48.6">−20</text>
<text transform="translate(183.26,1295.64) scale(0.9681,1.0350)" font-size="69.4">10</text>
<text transform="translate(258.48,1270.64) scale(1.0077,1.0400)" font-size="48.6">−19</text>
<text transform="translate(183.26,1074.23) scale(0.9681,1.0350)" font-size="69.4">10</text>
<text transform="translate(258.48,1049.23) scale(1.0077,1.0400)" font-size="48.6">−18</text>
<text transform="translate(183.26,852.82) scale(0.9681,1.0350)" font-size="69.4">10</text>
<text transform="translate(258.48,827.82) scale(1.0077,1.0400)" font-size="48.6">−17</text>
<text transform="translate(183.26,631.41) scale(0.9681,1.0350)" font-size="69.4">10</text>
<text transform="translate(258.48,606.41) scale(1.0077,1.0400)" font-size="48.6">−16</text>
<text transform="translate(183.26,410.00) scale(0.9681,1.0350)" font-size="69.4">10</text>
<text transform="translate(258.48,385.00) scale(1.0077,1.0400)" font-size="48.6">−15</text>
<text transform="translate(648.10,2062.00) scale(1.0000,1.0350)" font-size="69.4">10</text>
<text transform="translate(1716.25,2062.00) scale(1.0000,1.0350)" font-size="69.4">100</text>
<text transform="translate(2784.40,2062.00) scale(1.0000,1.0350)" font-size="69.4">1000</text>
<text transform="translate(1710.87,2140.50) scale(0.9887,1.0300)" font-size="69.4">Frequency [Hz]</text>
<text transform="translate(112.4,1511.27) rotate(-90) scale(0.9954,1.0300)" font-size="69.4">DARM ASD [m/sqrt(Hz)]</text>
<text transform="translate(767.51,144.70) scale(0.9847,1.0400)" font-size="83.3">H1:PEM-CS ACC HAM6 OMC X - Composite Estimated Ambient</text>
<text transform="translate(668.03,236.00) scale(0.9741,1.0200)" font-size="83.3">(Coupling factors chosen based on loudest injection at each frequency)</text>
<text transform="translate(3106.16,2150.20) scale(1.0112,1.0300)" font-size="48.6">Bin width: 0.100 Hz</text>
<text transform="translate(361.40,2331.40) scale(1.0024,1.0300)" font-size="48.6">Ambient estimates are made by multiplying coupling factors by injection-free sensor levels.</text>
<rect x="2174" y="289" width="1354" height="307.5" fill="#fff" fill-opacity="0.8" stroke="#ccc" stroke-opacity="0.8" stroke-width="2.2"/>
<rect x="2201" y="320.5" width="37" height="16.5" fill="#000"/>
<rect x="2201" y="393" width="37" height="16.5" fill="#808080"/>
<rect x="2193" y="456" width="53.5" height="37" fill="#ff0000"/>
<rect x="2193" y="530" width="53.5" height="37.5" fill="#0000ff"/>
<text transform="translate(2282.72,344.80) scale(1.0203,1.0300)" font-size="48.6">DARM background</text>
<text transform="translate(2284.77,418.00) scale(1.0137,1.0300)" font-size="48.6">GWINC, 125 W, No Squeezing</text>
<text transform="translate(2282.78,491.30) scale(1.0051,1.0300)" font-size="48.6">Measured Value (Signal seen in both sensor and DARM)</text>
<text transform="translate(2282.78,564.00) scale(1.0039,1.0300)" font-size="48.6">Upper Limit (Signal seen in sensor but not DARM)</text>
</svg></body></html>
